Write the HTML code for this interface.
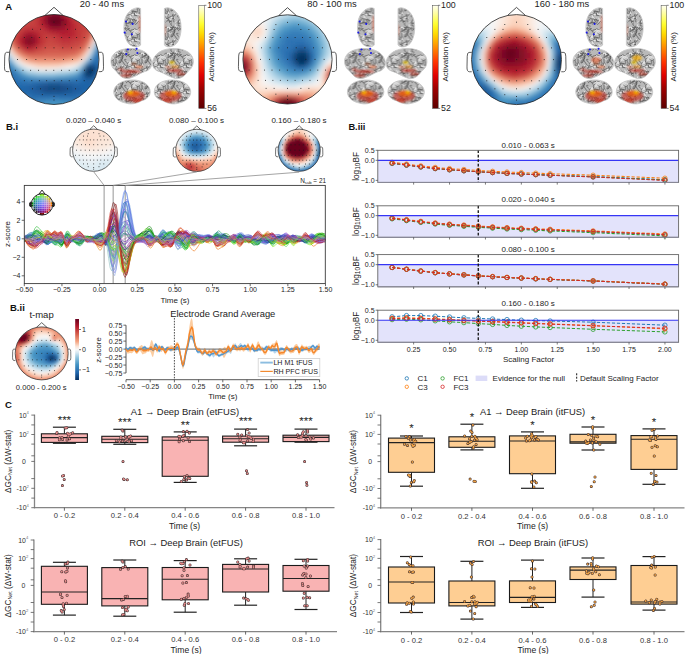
<!DOCTYPE html>
<html><head><meta charset="utf-8"><style>
html,body{margin:0;padding:0;background:#fff;width:685px;height:654px;overflow:hidden;}
svg{display:block;font-family:"Liberation Sans", sans-serif;}

</style></head><body>
<svg width="685" height="654" viewBox="0 0 685 654" font-family='"Liberation Sans", sans-serif'><defs><clipPath id="tc1"><circle cx="54.0" cy="59.5" r="45.0"/></clipPath><filter id="tb1" x="-10%" y="-10%" width="120%" height="120%"><feGaussianBlur stdDeviation="2.60"/></filter><clipPath id="tc2"><circle cx="287.5" cy="59.4" r="44.6"/></clipPath><filter id="tb2" x="-10%" y="-10%" width="120%" height="120%"><feGaussianBlur stdDeviation="2.60"/></filter><clipPath id="tc3"><circle cx="516.5" cy="59.6" r="45.0"/></clipPath><filter id="tb3" x="-10%" y="-10%" width="120%" height="120%"><feGaussianBlur stdDeviation="2.60"/></filter><linearGradient id="hotg" x1="0" y1="1" x2="0" y2="0"><stop offset="0" stop-color="#5c0000"/><stop offset="0.2" stop-color="#a00000"/><stop offset="0.32" stop-color="#e00000"/><stop offset="0.45" stop-color="#ff3300"/><stop offset="0.6" stop-color="#ff9000"/><stop offset="0.72" stop-color="#ffd800"/><stop offset="0.82" stop-color="#ffff30"/><stop offset="0.92" stop-color="#ffffa0"/><stop offset="1" stop-color="#fffff2"/></linearGradient><clipPath id="tc4"><circle cx="93.7" cy="150.2" r="21.1"/></clipPath><filter id="tb4" x="-10%" y="-10%" width="120%" height="120%"><feGaussianBlur stdDeviation="2.00"/></filter><clipPath id="tc5"><circle cx="196.8" cy="150.4" r="21.1"/></clipPath><filter id="tb5" x="-10%" y="-10%" width="120%" height="120%"><feGaussianBlur stdDeviation="1.40"/></filter><clipPath id="tc6"><circle cx="299.2" cy="150.25" r="21.1"/></clipPath><filter id="tb6" x="-10%" y="-10%" width="120%" height="120%"><feGaussianBlur stdDeviation="1.40"/></filter><clipPath id="tc7"><circle cx="41.7" cy="353.4" r="26.5"/></clipPath><filter id="tb7" x="-10%" y="-10%" width="120%" height="120%"><feGaussianBlur stdDeviation="1.60"/></filter><pattern id="brtex" patternUnits="userSpaceOnUse" width="26" height="26"><rect width="26" height="26" fill="#b9b9b9"/><path d="M5.8 21.2Q3.7 20.1 3.3 21.9T1.7 20.9M5.0 8.5Q6.7 6.8 7.6 5.6T7.9 2.8M-0.5 13.9Q-0.4 14.9 1.6 13.1T2.5 14.4M25.5 13.9Q25.6 14.9 27.6 13.1T28.5 14.4M6.9 2.8Q5.6 3.5 3.7 4.2T2.3 6.1M10.0 15.0Q11.2 16.8 9.9 18.4T12.3 18.9M18.7 19.3Q18.5 17.6 17.4 16.9T15.5 17.1M8.2 22.0Q7.6 20.5 7.7 19.5T6.5 18.1M7.7 3.3Q7.2 4.6 4.3 5.2T1.6 5.2M7.8 14.2Q9.4 14.7 10.4 14.3T12.2 13.9M12.1 11.5Q13.3 11.9 12.8 14.4T11.1 15.7M2.2 13.4Q2.1 12.9 0.4 11.4T0.7 9.6M28.2 13.4Q28.1 12.9 26.4 11.4T26.7 9.6M5.8 5.2Q8.1 4.1 8.3 5.6T10.0 5.7M10.8 16.4Q10.6 18.4 11.9 19.6T12.8 21.8M0.1 19.5Q-0.7 19.8 0.4 17.3T0.3 15.8M26.1 19.5Q25.3 19.8 26.4 17.3T26.3 15.8M13.5 1.3Q14.4 3.7 13.5 5.0T13.8 7.6M-0.3 15.5Q2.1 14.9 3.3 14.3T5.9 14.3M25.7 15.5Q28.1 14.9 29.3 14.3T31.9 14.3M-4.4 14.2Q-3.7 12.4 -1.6 12.1T0.2 10.5M21.6 14.2Q22.3 12.4 24.4 12.1T26.2 10.5M16.6 19.9Q13.7 19.1 13.4 19.5T11.4 20.6M7.1 8.3Q6.5 8.6 4.9 7.7T3.5 8.5M1.7 10.6Q0.1 11.4 -1.1 9.8T-2.7 10.9M27.7 10.6Q26.1 11.4 24.9 9.8T23.3 10.9M15.2 18.1Q14.8 16.3 17.4 15.3T18.2 13.0M19.6 22.2Q21.1 22.1 22.3 21.4T24.1 22.1M5.7 5.7Q5.3 5.8 3.8 6.5T2.9 7.6M4.3 12.2Q5.1 13.5 6.5 14.5T8.5 13.4M0.7 16.7Q1.3 16.9 2.6 18.9T4.5 18.1M26.7 16.7Q27.3 16.9 28.6 18.9T30.5 18.1M8.5 19.8Q6.5 19.7 6.0 22.2T3.5 21.8M0.5 14.0Q2.7 14.5 3.2 14.0T4.9 14.8M26.5 14.0Q28.7 14.5 29.2 14.0T30.9 14.8M19.6 -1.3Q18.8 0.2 20.2 0.6T21.6 1.0M19.6 24.7Q18.8 26.2 20.2 26.6T21.6 27.0M14.7 5.7Q14.4 4.7 13.6 2.3T11.2 1.5M3.0 21.3Q3.5 21.6 5.1 20.8T5.2 19.3" fill="none" stroke="#e6e6e6" stroke-width="1.0" stroke-linecap="round"/><path d="M16.6 0.7Q17.0 3.1 16.2 3.1T15.0 4.3M16.6 26.7Q17.0 29.1 16.2 29.1T15.0 30.3M2.3 11.0Q2.1 10.3 4.7 11.4T6.4 11.8M16.9 14.2Q15.7 16.7 17.5 17.4T16.1 19.2M18.2 8.8Q18.1 9.3 20.4 12.2T22.9 13.7M22.0 15.7Q24.1 13.6 23.3 12.3T24.4 10.1M14.4 21.6Q13.5 18.9 11.5 18.9T9.9 16.7M5.9 7.5Q6.4 8.5 8.1 8.7T9.6 7.7M9.5 9.6Q10.3 11.2 10.1 12.1T8.6 13.2M4.4 19.0Q5.6 20.3 5.9 21.4T4.5 22.7M17.8 21.9Q17.4 20.0 18.2 19.4T16.6 18.7M5.5 24.5Q6.1 24.8 7.4 22.6T9.2 22.0M11.9 6.9Q12.2 9.7 12.0 10.1T13.4 11.9M10.4 5.7Q10.6 4.5 13.5 5.7T14.4 3.7M16.3 20.6Q16.9 21.2 14.4 21.6T13.4 22.7M-0.8 22.4Q1.1 21.8 2.8 22.6T4.9 24.0M25.2 22.4Q27.1 21.8 28.8 22.6T30.9 24.0M16.7 2.9Q16.4 2.8 13.9 4.1T12.5 2.5M13.0 4.6Q15.1 4.0 16.4 2.6T17.6 0.1M13.0 30.6Q15.1 30.0 16.4 28.6T17.6 26.1M4.0 19.8Q0.7 18.8 0.4 18.9T-2.1 18.1M30.0 19.8Q26.7 18.8 26.4 18.9T23.9 18.1M0.5 24.2Q0.6 24.0 3.3 21.5T4.0 18.9M26.5 24.2Q26.6 24.0 29.3 21.5T30.0 18.9M24.6 2.2Q24.3 1.2 22.5 2.4T21.3 1.5M12.4 14.3Q11.3 16.4 12.0 18.2T12.3 20.9M19.0 5.2Q18.0 7.2 17.4 9.1T15.3 11.1M3.1 5.8Q1.4 6.0 1.4 8.6T1.9 10.9M16.4 6.0Q17.2 5.4 19.6 3.8T19.0 1.1M5.6 3.4Q7.9 3.7 8.6 2.2T10.6 1.1M5.0 2.5Q4.3 3.7 2.3 3.8T0.5 4.8M31.0 2.5Q30.3 3.7 28.3 3.8T26.5 4.8M-0.4 2.6Q-2.3 2.4 -2.7 4.1T-4.4 3.4M25.6 2.6Q23.7 2.4 23.3 4.1T21.6 3.4M11.7 11.0Q11.3 13.3 11.2 13.5T9.5 13.8M14.3 1.3Q17.5 2.4 18.1 1.3T18.8 3.9M4.3 12.6Q4.3 15.5 5.0 15.4T7.0 15.7M6.9 20.4Q7.0 21.0 4.1 21.2T3.0 19.5M18.7 4.0Q18.2 6.7 17.5 8.0T16.1 10.5M1.5 15.2Q0.9 13.9 -2.4 15.1T-4.0 17.3M27.5 15.2Q26.9 13.9 23.6 15.1T22.0 17.3M4.8 15.5Q5.4 13.6 3.7 13.2T1.9 13.2M15.5 16.1Q15.3 16.0 12.6 17.7T10.5 18.7M18.6 6.2Q16.7 8.0 15.9 8.3T15.0 10.6M1.9 11.9Q3.1 11.2 6.1 11.9T7.1 9.1M-1.7 22.9Q0.3 22.5 0.3 21.0T0.0 19.0M24.3 22.9Q26.3 22.5 26.3 21.0T26.0 19.0M15.9 -0.3Q14.7 -0.7 14.8 -2.0T15.2 -3.3M15.9 25.7Q14.7 25.3 14.8 24.0T15.2 22.7M-1.6 3.5Q-1.4 4.5 0.1 5.0T1.1 6.2M24.4 3.5Q24.6 4.5 26.1 5.0T27.1 6.2M18.7 5.3Q19.0 5.4 16.9 3.4T15.7 2.1M2.4 11.0Q2.6 11.3 2.1 13.0T0.9 13.8M28.4 11.0Q28.6 11.3 28.1 13.0T26.9 13.8M19.3 14.3Q19.5 16.0 17.5 15.2T17.6 16.6M14.2 21.7Q12.6 22.3 12.2 20.5T10.8 21.4M20.7 22.4Q20.5 22.5 22.7 20.9T23.1 19.2M23.0 10.6Q23.2 11.2 21.3 9.0T21.9 7.4M-4.9 22.9Q-1.8 24.1 -1.3 23.5T1.1 22.7M21.1 22.9Q24.2 24.1 24.7 23.5T27.1 22.7M22.5 -4.9Q23.4 -2.0 22.1 -1.2T24.3 0.2M22.5 21.1Q23.4 24.0 22.1 24.8T24.3 26.2" fill="none" stroke="#585858" stroke-width="0.75" stroke-linecap="round"/></pattern><filter id="brbl" x="-20%" y="-20%" width="140%" height="140%"><feGaussianBlur stdDeviation="0.9"/></filter><clipPath id="bc1"><path d="M140.6 8.5 C136 6.2 128 10 125 19 C123 27 123.5 37 128.5 43.5 C132.5 47.8 139 47.5 140.6 45 Z"/></clipPath><clipPath id="bc2"><path d="M 164.4 8.5 C 169.0 6.2 177.0 10.0 180.0 19.0 C 182.0 27.0 181.5 37.0 176.5 43.5 C 172.5 47.8 166.0 47.5 164.4 45.0 Z"/></clipPath><clipPath id="bc3"><path d="M111 62 C110.5 54 118 48.8 130 48.5 C142 48.3 150 53.5 151.7 61.5 C152.2 66 150.5 69.5 146.5 71 C141 72.5 137 76 129 78.5 C123 79.5 119 75 116 71 C112.5 68.5 111.2 65.5 111 62 Z"/></clipPath><clipPath id="bc4"><path d="M 193.3 62.0 C 193.8 54.0 186.3 48.8 174.3 48.5 C 162.3 48.3 154.3 53.5 152.6 61.5 C 152.1 66.0 153.8 69.5 157.8 71.0 C 163.3 72.5 167.3 76.0 175.3 78.5 C 181.3 79.5 185.3 75.0 188.3 71.0 C 191.8 68.5 193.1 65.5 193.3 62.0 Z"/></clipPath><clipPath id="bc5"><path d="M113.8 93 C113.2 86 120 80.3 132 80 C143 79.8 150 85 150.2 91.5 C150.4 96.5 146.5 99.5 141.5 100.8 C137 103.5 131 104.8 126.5 103.2 C120 102 115 99 113.8 93 Z"/></clipPath><clipPath id="bc6"><path d="M 190.7 93.0 C 191.3 86.0 184.5 80.3 172.5 80.0 C 161.5 79.8 154.5 85.0 154.3 91.5 C 154.1 96.5 158.0 99.5 163.0 100.8 C 167.5 103.5 173.5 104.8 178.0 103.2 C 184.5 102.0 189.5 99.0 190.7 93.0 Z"/></clipPath><clipPath id="bc7"><path d="M140.6 8.5 C136 6.2 128 10 125 19 C123 27 123.5 37 128.5 43.5 C132.5 47.8 139 47.5 140.6 45 Z"/></clipPath><clipPath id="bc8"><path d="M 164.4 8.5 C 169.0 6.2 177.0 10.0 180.0 19.0 C 182.0 27.0 181.5 37.0 176.5 43.5 C 172.5 47.8 166.0 47.5 164.4 45.0 Z"/></clipPath><clipPath id="bc9"><path d="M111 62 C110.5 54 118 48.8 130 48.5 C142 48.3 150 53.5 151.7 61.5 C152.2 66 150.5 69.5 146.5 71 C141 72.5 137 76 129 78.5 C123 79.5 119 75 116 71 C112.5 68.5 111.2 65.5 111 62 Z"/></clipPath><clipPath id="bc10"><path d="M 193.3 62.0 C 193.8 54.0 186.3 48.8 174.3 48.5 C 162.3 48.3 154.3 53.5 152.6 61.5 C 152.1 66.0 153.8 69.5 157.8 71.0 C 163.3 72.5 167.3 76.0 175.3 78.5 C 181.3 79.5 185.3 75.0 188.3 71.0 C 191.8 68.5 193.1 65.5 193.3 62.0 Z"/></clipPath><clipPath id="bc11"><path d="M113.8 93 C113.2 86 120 80.3 132 80 C143 79.8 150 85 150.2 91.5 C150.4 96.5 146.5 99.5 141.5 100.8 C137 103.5 131 104.8 126.5 103.2 C120 102 115 99 113.8 93 Z"/></clipPath><clipPath id="bc12"><path d="M 190.7 93.0 C 191.3 86.0 184.5 80.3 172.5 80.0 C 161.5 79.8 154.5 85.0 154.3 91.5 C 154.1 96.5 158.0 99.5 163.0 100.8 C 167.5 103.5 173.5 104.8 178.0 103.2 C 184.5 102.0 189.5 99.0 190.7 93.0 Z"/></clipPath><clipPath id="bc13"><path d="M140.6 8.5 C136 6.2 128 10 125 19 C123 27 123.5 37 128.5 43.5 C132.5 47.8 139 47.5 140.6 45 Z"/></clipPath><clipPath id="bc14"><path d="M 164.4 8.5 C 169.0 6.2 177.0 10.0 180.0 19.0 C 182.0 27.0 181.5 37.0 176.5 43.5 C 172.5 47.8 166.0 47.5 164.4 45.0 Z"/></clipPath><clipPath id="bc15"><path d="M111 62 C110.5 54 118 48.8 130 48.5 C142 48.3 150 53.5 151.7 61.5 C152.2 66 150.5 69.5 146.5 71 C141 72.5 137 76 129 78.5 C123 79.5 119 75 116 71 C112.5 68.5 111.2 65.5 111 62 Z"/></clipPath><clipPath id="bc16"><path d="M 193.3 62.0 C 193.8 54.0 186.3 48.8 174.3 48.5 C 162.3 48.3 154.3 53.5 152.6 61.5 C 152.1 66.0 153.8 69.5 157.8 71.0 C 163.3 72.5 167.3 76.0 175.3 78.5 C 181.3 79.5 185.3 75.0 188.3 71.0 C 191.8 68.5 193.1 65.5 193.3 62.0 Z"/></clipPath><clipPath id="bc17"><path d="M113.8 93 C113.2 86 120 80.3 132 80 C143 79.8 150 85 150.2 91.5 C150.4 96.5 146.5 99.5 141.5 100.8 C137 103.5 131 104.8 126.5 103.2 C120 102 115 99 113.8 93 Z"/></clipPath><clipPath id="bc18"><path d="M 190.7 93.0 C 191.3 86.0 184.5 80.3 172.5 80.0 C 161.5 79.8 154.5 85.0 154.3 91.5 C 154.1 96.5 158.0 99.5 163.0 100.8 C 167.5 103.5 173.5 104.8 178.0 103.2 C 184.5 102.0 189.5 99.0 190.7 93.0 Z"/></clipPath><clipPath id="clipBi"><rect x="24.3" y="185.4" width="301.0" height="98.20000000000002"/></clipPath><linearGradient id="rdbu" x1="0" y1="0" x2="0" y2="1"><stop offset="0" stop-color="#67001f"/><stop offset="0.12" stop-color="#b2182b"/><stop offset="0.25" stop-color="#d6604d"/><stop offset="0.37" stop-color="#f4a582"/><stop offset="0.45" stop-color="#fbe3d6"/><stop offset="0.5" stop-color="#f7f7f7"/><stop offset="0.55" stop-color="#d7e8f2"/><stop offset="0.63" stop-color="#92c5de"/><stop offset="0.75" stop-color="#4393c3"/><stop offset="0.88" stop-color="#2166ac"/><stop offset="1" stop-color="#053061"/></linearGradient></defs><text x="5.3" y="10.2" font-size="9.5" text-anchor="start" font-weight="bold" fill="#111">A</text>
<g clip-path="url(#tc1)"><g filter="url(#tb1)"><path fill="#c6403e" d="M32.0 9.5h8.3v4.3h-8.3zM72.0 9.5h4.3v4.3h-4.3zM32.0 13.5h4.3v4.3h-4.3zM76.0 13.5h4.3v4.3h-4.3zM28.0 17.5h8.3v4.3h-8.3zM76.0 17.5h8.3v4.3h-8.3zM24.0 21.5h12.3v4.3h-12.3zM80.0 21.5h4.3v4.3h-4.3zM16.0 25.5h8.3v4.3h-8.3zM80.0 25.5h8.3v4.3h-8.3zM16.0 29.5h4.3v4.3h-4.3zM80.0 29.5h8.3v4.3h-8.3zM44.0 33.5h4.3v4.3h-4.3zM80.0 33.5h4.3v4.3h-4.3zM44.0 37.5h12.3v4.3h-12.3zM80.0 37.5h4.3v4.3h-4.3zM44.0 41.5h4.3v4.3h-4.3zM52.0 41.5h8.3v4.3h-8.3zM72.0 41.5h8.3v4.3h-8.3zM40.0 45.5h4.3v4.3h-4.3zM60.0 45.5h12.3v4.3h-12.3zM24.0 49.5h4.3v4.3h-4.3zM32.0 49.5h4.3v4.3h-4.3z"/><path fill="#bb2a34" d="M40.0 9.5h4.3v4.3h-4.3zM64.0 9.5h4.3v4.3h-4.3zM68.0 13.5h4.3v4.3h-4.3zM36.0 17.5h4.3v4.3h-4.3zM72.0 21.5h4.3v4.3h-4.3zM40.0 25.5h4.3v4.3h-4.3zM72.0 25.5h4.3v4.3h-4.3zM36.0 29.5h4.3v4.3h-4.3zM44.0 29.5h4.3v4.3h-4.3zM72.0 29.5h4.3v4.3h-4.3zM56.0 33.5h4.3v4.3h-4.3zM72.0 33.5h4.3v4.3h-4.3zM60.0 37.5h12.3v4.3h-12.3z"/><path fill="#b51f2e" d="M44.0 9.5h4.3v4.3h-4.3zM60.0 9.5h4.3v4.3h-4.3zM40.0 13.5h4.3v4.3h-4.3zM68.0 17.5h4.3v4.3h-4.3zM24.0 29.5h12.3v4.3h-12.3zM48.0 29.5h4.3v4.3h-4.3zM68.0 29.5h4.3v4.3h-4.3zM20.0 33.5h4.3v4.3h-4.3zM36.0 33.5h4.3v4.3h-4.3zM60.0 33.5h12.3v4.3h-12.3zM36.0 37.5h4.3v4.3h-4.3zM36.0 41.5h4.3v4.3h-4.3zM32.0 45.5h4.3v4.3h-4.3z"/><path fill="#a21328" d="M48.0 9.5h12.3v4.3h-12.3zM64.0 25.5h4.3v4.3h-4.3zM32.0 33.5h4.3v4.3h-4.3z"/><path fill="#c13539" d="M68.0 9.5h4.3v4.3h-4.3zM36.0 13.5h4.3v4.3h-4.3zM72.0 13.5h4.3v4.3h-4.3zM72.0 17.5h4.3v4.3h-4.3zM36.0 21.5h4.3v4.3h-4.3zM76.0 21.5h4.3v4.3h-4.3zM24.0 25.5h16.3v4.3h-16.3zM76.0 25.5h4.3v4.3h-4.3zM20.0 29.5h4.3v4.3h-4.3zM40.0 29.5h4.3v4.3h-4.3zM76.0 29.5h4.3v4.3h-4.3zM16.0 33.5h4.3v4.3h-4.3zM40.0 33.5h4.3v4.3h-4.3zM48.0 33.5h8.3v4.3h-8.3zM76.0 33.5h4.3v4.3h-4.3zM16.0 37.5h4.3v4.3h-4.3zM40.0 37.5h4.3v4.3h-4.3zM56.0 37.5h4.3v4.3h-4.3zM72.0 37.5h8.3v4.3h-8.3zM16.0 41.5h4.3v4.3h-4.3zM40.0 41.5h4.3v4.3h-4.3zM60.0 41.5h12.3v4.3h-12.3zM20.0 45.5h4.3v4.3h-4.3zM36.0 45.5h4.3v4.3h-4.3zM28.0 49.5h4.3v4.3h-4.3z"/><path fill="#cc4c43" d="M24.0 13.5h8.3v4.3h-8.3zM80.0 13.5h4.3v4.3h-4.3zM20.0 17.5h8.3v4.3h-8.3zM84.0 17.5h4.3v4.3h-4.3zM16.0 21.5h8.3v4.3h-8.3zM84.0 21.5h8.3v4.3h-8.3zM12.0 25.5h4.3v4.3h-4.3zM88.0 25.5h4.3v4.3h-4.3zM8.0 29.5h8.3v4.3h-8.3zM88.0 29.5h4.3v4.3h-4.3zM12.0 33.5h4.3v4.3h-4.3zM84.0 33.5h4.3v4.3h-4.3zM12.0 37.5h4.3v4.3h-4.3zM84.0 37.5h4.3v4.3h-4.3zM48.0 41.5h4.3v4.3h-4.3zM80.0 41.5h4.3v4.3h-4.3zM16.0 45.5h4.3v4.3h-4.3zM44.0 45.5h16.3v4.3h-16.3zM72.0 45.5h8.3v4.3h-8.3zM36.0 49.5h8.3v4.3h-8.3z"/><path fill="#960f26" d="M44.0 13.5h4.3v4.3h-4.3zM60.0 13.5h4.3v4.3h-4.3zM64.0 17.5h4.3v4.3h-4.3zM44.0 21.5h4.3v4.3h-4.3zM64.0 21.5h4.3v4.3h-4.3zM48.0 25.5h4.3v4.3h-4.3zM60.0 25.5h4.3v4.3h-4.3zM24.0 33.5h8.3v4.3h-8.3zM32.0 41.5h4.3v4.3h-4.3z"/><path fill="#7e0823" d="M48.0 13.5h4.3v4.3h-4.3zM60.0 21.5h4.3v4.3h-4.3zM28.0 37.5h4.3v4.3h-4.3zM28.0 41.5h4.3v4.3h-4.3z"/><path fill="#730421" d="M52.0 13.5h8.3v4.3h-8.3zM60.0 17.5h4.3v4.3h-4.3zM48.0 21.5h4.3v4.3h-4.3z"/><path fill="#ad162a" d="M64.0 13.5h4.3v4.3h-4.3zM40.0 17.5h4.3v4.3h-4.3zM40.0 21.5h4.3v4.3h-4.3zM68.0 21.5h4.3v4.3h-4.3zM44.0 25.5h4.3v4.3h-4.3zM68.0 25.5h4.3v4.3h-4.3zM52.0 29.5h16.3v4.3h-16.3zM20.0 37.5h4.3v4.3h-4.3zM20.0 41.5h4.3v4.3h-4.3zM24.0 45.5h8.3v4.3h-8.3z"/><path fill="#8a0b25" d="M44.0 17.5h4.3v4.3h-4.3zM52.0 25.5h8.3v4.3h-8.3zM24.0 37.5h4.3v4.3h-4.3zM32.0 37.5h4.3v4.3h-4.3zM24.0 41.5h4.3v4.3h-4.3z"/><path fill="#67001f" d="M48.0 17.5h12.3v4.3h-12.3zM52.0 21.5h8.3v4.3h-8.3z"/><path fill="#d25749" d="M92.0 25.5h4.3v4.3h-4.3zM8.0 33.5h4.3v4.3h-4.3zM88.0 33.5h4.3v4.3h-4.3zM12.0 41.5h4.3v4.3h-4.3zM80.0 45.5h4.3v4.3h-4.3zM20.0 49.5h4.3v4.3h-4.3zM44.0 49.5h32.3v4.3h-32.3z"/><path fill="#dc6d57" d="M92.0 29.5h4.3v4.3h-4.3zM88.0 37.5h4.3v4.3h-4.3zM24.0 53.5h4.3v4.3h-4.3zM68.0 53.5h8.3v4.3h-8.3z"/><path fill="#faeae0" d="M96.0 29.5h4.3v4.3h-4.3zM76.0 61.5h4.3v4.3h-4.3zM36.0 65.5h4.3v4.3h-4.3zM52.0 65.5h8.3v4.3h-8.3z"/><path fill="#ee9878" d="M92.0 33.5h4.3v4.3h-4.3zM88.0 41.5h4.3v4.3h-4.3zM68.0 57.5h4.3v4.3h-4.3z"/><path fill="#d3e6f0" d="M96.0 33.5h4.3v4.3h-4.3zM84.0 57.5h4.3v4.3h-4.3zM36.0 69.5h20.3v4.3h-20.3z"/><path fill="#f5ac8b" d="M4.0 37.5h4.3v4.3h-4.3zM12.0 49.5h4.3v4.3h-4.3zM84.0 49.5h4.3v4.3h-4.3zM16.0 53.5h4.3v4.3h-4.3z"/><path fill="#d7624f" d="M8.0 37.5h4.3v4.3h-4.3zM84.0 41.5h4.3v4.3h-4.3zM76.0 49.5h4.3v4.3h-4.3zM28.0 53.5h40.3v4.3h-40.3z"/><path fill="#fbceb6" d="M92.0 37.5h4.3v4.3h-4.3zM88.0 45.5h4.3v4.3h-4.3zM68.0 61.5h4.3v4.3h-4.3z"/><path fill="#83bcd9" d="M96.0 37.5h4.3v4.3h-4.3zM12.0 61.5h4.3v4.3h-4.3zM16.0 65.5h4.3v4.3h-4.3z"/><path fill="#2a71b2" d="M100.0 37.5h4.3v4.3h-4.3zM96.0 49.5h4.3v4.3h-4.3zM92.0 57.5h4.3v4.3h-4.3zM4.0 61.5h4.3v4.3h-4.3zM8.0 69.5h4.3v4.3h-4.3zM12.0 73.5h4.3v4.3h-4.3zM16.0 77.5h8.3v4.3h-8.3zM72.0 77.5h8.3v4.3h-8.3zM24.0 97.5h12.3v4.3h-12.3zM72.0 97.5h12.3v4.3h-12.3zM24.0 101.5h4.3v4.3h-4.3zM80.0 101.5h4.3v4.3h-4.3z"/><path fill="#fce1d2" d="M4.0 41.5h4.3v4.3h-4.3zM12.0 53.5h4.3v4.3h-4.3zM80.0 57.5h4.3v4.3h-4.3z"/><path fill="#e58268" d="M8.0 41.5h4.3v4.3h-4.3zM20.0 53.5h4.3v4.3h-4.3zM76.0 53.5h4.3v4.3h-4.3zM32.0 57.5h32.3v4.3h-32.3z"/><path fill="#f1f4f6" d="M92.0 41.5h4.3v4.3h-4.3zM88.0 49.5h4.3v4.3h-4.3z"/><path fill="#3f8dc0" d="M96.0 41.5h4.3v4.3h-4.3zM16.0 69.5h4.3v4.3h-4.3zM40.0 101.5h4.3v4.3h-4.3zM64.0 101.5h4.3v4.3h-4.3zM40.0 105.5h4.3v4.3h-4.3zM64.0 105.5h4.3v4.3h-4.3z"/><path fill="#246aae" d="M100.0 41.5h4.3v4.3h-4.3zM100.0 45.5h4.3v4.3h-4.3zM100.0 49.5h4.3v4.3h-4.3zM96.0 53.5h8.3v4.3h-8.3zM96.0 57.5h8.3v4.3h-8.3zM96.0 61.5h8.3v4.3h-8.3zM4.0 65.5h4.3v4.3h-4.3zM100.0 65.5h4.3v4.3h-4.3zM4.0 69.5h4.3v4.3h-4.3zM100.0 69.5h4.3v4.3h-4.3zM4.0 73.5h8.3v4.3h-8.3zM80.0 73.5h4.3v4.3h-4.3zM96.0 73.5h8.3v4.3h-8.3zM4.0 77.5h12.3v4.3h-12.3zM80.0 77.5h4.3v4.3h-4.3zM96.0 77.5h8.3v4.3h-8.3zM8.0 81.5h24.3v4.3h-24.3zM92.0 81.5h8.3v4.3h-8.3zM8.0 85.5h12.3v4.3h-12.3zM92.0 85.5h8.3v4.3h-8.3zM12.0 89.5h8.3v4.3h-8.3zM88.0 89.5h8.3v4.3h-8.3zM16.0 93.5h16.3v4.3h-16.3zM76.0 93.5h16.3v4.3h-16.3zM20.0 97.5h4.3v4.3h-4.3zM84.0 97.5h4.3v4.3h-4.3z"/><path fill="#dfecf3" d="M4.0 45.5h4.3v4.3h-4.3z"/><path fill="#f8bda0" d="M8.0 45.5h4.3v4.3h-4.3zM20.0 57.5h4.3v4.3h-4.3zM32.0 61.5h4.3v4.3h-4.3zM60.0 61.5h4.3v4.3h-4.3z"/><path fill="#e0785f" d="M12.0 45.5h4.3v4.3h-4.3zM84.0 45.5h4.3v4.3h-4.3zM16.0 49.5h4.3v4.3h-4.3zM80.0 49.5h4.3v4.3h-4.3z"/><path fill="#aed3e6" d="M92.0 45.5h4.3v4.3h-4.3zM88.0 53.5h4.3v4.3h-4.3zM68.0 69.5h4.3v4.3h-4.3z"/><path fill="#2f78b5" d="M96.0 45.5h4.3v4.3h-4.3zM4.0 57.5h4.3v4.3h-4.3zM8.0 65.5h4.3v4.3h-4.3zM12.0 69.5h4.3v4.3h-4.3zM80.0 69.5h4.3v4.3h-4.3zM16.0 73.5h4.3v4.3h-4.3zM24.0 77.5h4.3v4.3h-4.3zM56.0 77.5h16.3v4.3h-16.3zM36.0 97.5h12.3v4.3h-12.3zM60.0 97.5h12.3v4.3h-12.3zM28.0 101.5h4.3v4.3h-4.3zM76.0 101.5h4.3v4.3h-4.3z"/><path fill="#90c3dd" d="M4.0 49.5h4.3v4.3h-4.3z"/><path fill="#f9eee8" d="M8.0 49.5h4.3v4.3h-4.3zM20.0 61.5h4.3v4.3h-4.3zM32.0 65.5h4.3v4.3h-4.3zM60.0 65.5h4.3v4.3h-4.3z"/><path fill="#5ea4cc" d="M92.0 49.5h4.3v4.3h-4.3zM28.0 73.5h4.3v4.3h-4.3zM64.0 73.5h4.3v4.3h-4.3z"/><path fill="#4595c4" d="M4.0 53.5h4.3v4.3h-4.3zM12.0 65.5h4.3v4.3h-4.3zM24.0 73.5h4.3v4.3h-4.3zM72.0 73.5h4.3v4.3h-4.3zM44.0 101.5h20.3v4.3h-20.3zM44.0 105.5h20.3v4.3h-20.3z"/><path fill="#cbe2ee" d="M8.0 53.5h4.3v4.3h-4.3zM76.0 65.5h4.3v4.3h-4.3zM56.0 69.5h4.3v4.3h-4.3z"/><path fill="#f3a380" d="M80.0 53.5h4.3v4.3h-4.3zM24.0 57.5h4.3v4.3h-4.3zM72.0 57.5h4.3v4.3h-4.3z"/><path fill="#fbe6d9" d="M84.0 53.5h4.3v4.3h-4.3zM16.0 57.5h4.3v4.3h-4.3zM40.0 65.5h12.3v4.3h-12.3z"/><path fill="#347fb9" d="M92.0 53.5h4.3v4.3h-4.3zM28.0 77.5h28.3v4.3h-28.3zM48.0 97.5h12.3v4.3h-12.3zM32.0 101.5h4.3v4.3h-4.3zM72.0 101.5h4.3v4.3h-4.3zM32.0 105.5h4.3v4.3h-4.3zM72.0 105.5h4.3v4.3h-4.3z"/><path fill="#77b4d5" d="M8.0 57.5h4.3v4.3h-4.3zM76.0 69.5h4.3v4.3h-4.3zM36.0 73.5h20.3v4.3h-20.3z"/><path fill="#d9e9f2" d="M12.0 57.5h4.3v4.3h-4.3zM16.0 61.5h4.3v4.3h-4.3zM80.0 61.5h4.3v4.3h-4.3z"/><path fill="#ea8d70" d="M28.0 57.5h4.3v4.3h-4.3zM64.0 57.5h4.3v4.3h-4.3z"/><path fill="#f7b495" d="M76.0 57.5h4.3v4.3h-4.3zM36.0 61.5h24.3v4.3h-24.3z"/><path fill="#529cc8" d="M88.0 57.5h4.3v4.3h-4.3zM84.0 61.5h4.3v4.3h-4.3zM68.0 73.5h4.3v4.3h-4.3z"/><path fill="#3986bd" d="M8.0 61.5h4.3v4.3h-4.3zM20.0 73.5h4.3v4.3h-4.3zM76.0 73.5h4.3v4.3h-4.3zM36.0 101.5h4.3v4.3h-4.3zM68.0 101.5h4.3v4.3h-4.3zM36.0 105.5h4.3v4.3h-4.3zM68.0 105.5h4.3v4.3h-4.3z"/><path fill="#fdddca" d="M24.0 61.5h4.3v4.3h-4.3zM72.0 61.5h4.3v4.3h-4.3z"/><path fill="#f9c5ab" d="M28.0 61.5h4.3v4.3h-4.3zM64.0 61.5h4.3v4.3h-4.3z"/><path fill="#1f63a7" d="M88.0 61.5h8.3v4.3h-8.3zM96.0 65.5h4.3v4.3h-4.3zM96.0 69.5h4.3v4.3h-4.3zM84.0 77.5h4.3v4.3h-4.3zM92.0 77.5h4.3v4.3h-4.3zM32.0 81.5h8.3v4.3h-8.3zM72.0 81.5h20.3v4.3h-20.3zM20.0 85.5h8.3v4.3h-8.3zM80.0 85.5h12.3v4.3h-12.3zM20.0 89.5h12.3v4.3h-12.3zM80.0 89.5h8.3v4.3h-8.3zM32.0 93.5h44.3v4.3h-44.3z"/><path fill="#c1ddec" d="M20.0 65.5h4.3v4.3h-4.3zM32.0 69.5h4.3v4.3h-4.3zM60.0 69.5h4.3v4.3h-4.3z"/><path fill="#e5eff4" d="M24.0 65.5h4.3v4.3h-4.3zM72.0 65.5h4.3v4.3h-4.3z"/><path fill="#f7f7f7" d="M28.0 65.5h4.3v4.3h-4.3zM68.0 65.5h4.3v4.3h-4.3z"/><path fill="#f8f3f0" d="M64.0 65.5h4.3v4.3h-4.3z"/><path fill="#6aacd0" d="M80.0 65.5h4.3v4.3h-4.3zM20.0 69.5h4.3v4.3h-4.3zM32.0 73.5h4.3v4.3h-4.3zM56.0 73.5h8.3v4.3h-8.3z"/><path fill="#0e4178" d="M84.0 65.5h4.3v4.3h-4.3zM92.0 65.5h4.3v4.3h-4.3zM48.0 85.5h12.3v4.3h-12.3z"/><path fill="#053061" d="M88.0 65.5h4.3v4.3h-4.3zM84.0 69.5h8.3v4.3h-8.3zM88.0 73.5h4.3v4.3h-4.3z"/><path fill="#9ac9e0" d="M24.0 69.5h4.3v4.3h-4.3zM72.0 69.5h4.3v4.3h-4.3z"/><path fill="#b7d8e9" d="M28.0 69.5h4.3v4.3h-4.3zM64.0 69.5h4.3v4.3h-4.3z"/><path fill="#09386d" d="M92.0 69.5h4.3v4.3h-4.3zM84.0 73.5h4.3v4.3h-4.3z"/><path fill="#165290" d="M92.0 73.5h4.3v4.3h-4.3zM48.0 81.5h12.3v4.3h-12.3zM36.0 85.5h4.3v4.3h-4.3zM68.0 85.5h4.3v4.3h-4.3zM40.0 89.5h4.3v4.3h-4.3zM64.0 89.5h8.3v4.3h-8.3z"/><path fill="#1b5a9c" d="M88.0 77.5h4.3v4.3h-4.3zM40.0 81.5h8.3v4.3h-8.3zM60.0 81.5h12.3v4.3h-12.3zM28.0 85.5h8.3v4.3h-8.3zM72.0 85.5h8.3v4.3h-8.3zM32.0 89.5h8.3v4.3h-8.3zM72.0 89.5h8.3v4.3h-8.3z"/><path fill="#124984" d="M40.0 85.5h8.3v4.3h-8.3zM60.0 85.5h8.3v4.3h-8.3zM44.0 89.5h20.3v4.3h-20.3z"/></g></g>
<path d="M54.0 22.1h0M42.3 24.4h0M65.2 24.4h0M32.4 29.3h0M40.5 29.3h0M67.5 29.3h0M75.6 29.3h0M24.3 37.5h0M31.8 37.5h0M39.3 37.5h0M46.7 37.5h0M54.2 37.5h0M61.7 37.5h0M69.2 37.5h0M76.7 37.5h0M84.2 37.5h0M18.9 47.8h0M27.7 47.8h0M36.5 47.8h0M45.2 47.8h0M54.0 47.8h0M62.8 47.8h0M71.5 47.8h0M80.3 47.8h0M89.1 47.8h0M17.5 59.5h0M26.7 59.5h0M35.9 59.5h0M45.1 59.5h0M54.2 59.5h0M63.4 59.5h0M72.6 59.5h0M81.7 59.5h0M90.9 59.5h0M15.3 70.3h0M23.0 70.3h0M30.7 70.3h0M38.4 70.3h0M46.1 70.3h0M53.8 70.3h0M61.5 70.3h0M69.2 70.3h0M76.9 70.3h0M84.6 70.3h0M92.2 70.3h0M24.3 80.7h0M31.8 80.7h0M39.3 80.7h0M46.7 80.7h0M54.2 80.7h0M61.7 80.7h0M69.2 80.7h0M76.7 80.7h0M84.2 80.7h0M32.4 88.8h0M40.5 88.8h0M54.0 88.8h0M67.5 88.8h0M75.6 88.8h0M42.3 94.6h0M65.2 94.6h0M54.0 96.4h0M54.0 100.0h0" stroke="#1a1a1a" stroke-width="1.0" stroke-linecap="round"/>
<path d="M45.00,15.41 L54.00,7.30 L63.00,15.41" fill="none" stroke="#222" stroke-width="0.8"/>
<path d="M9.23,52.30 L6.53,52.30 Q4.73,52.30 4.73,56.17 L4.50,66.81 Q4.28,71.65 6.98,71.65 L9.23,71.65" fill="#fff" stroke="#222" stroke-width="0.7200000000000001"/>
<path d="M98.78,52.30 L101.48,52.30 Q103.28,52.30 103.28,56.17 L103.50,66.81 Q103.73,71.65 101.03,71.65 L98.78,71.65" fill="#fff" stroke="#222" stroke-width="0.7200000000000001"/>
<circle cx="54.0" cy="59.5" r="45.0" fill="none" stroke="#222" stroke-width="0.8"/>
<g clip-path="url(#tc2)"><g filter="url(#tb2)"><path fill="#ebf1f5" d="M269.5 9.4h4.3v4.3h-4.3zM265.5 13.4h4.3v4.3h-4.3zM257.5 41.4h4.3v4.3h-4.3zM257.5 53.4h4.3v4.3h-4.3zM333.5 53.4h4.3v4.3h-4.3zM321.5 65.4h4.3v4.3h-4.3zM261.5 69.4h4.3v4.3h-4.3zM269.5 81.4h4.3v4.3h-4.3zM309.5 81.4h4.3v4.3h-4.3zM285.5 85.4h12.3v4.3h-12.3z"/><path fill="#e5eff4" d="M273.5 9.4h4.3v4.3h-4.3zM265.5 17.4h4.3v4.3h-4.3zM261.5 37.4h4.3v4.3h-4.3zM333.5 41.4h4.3v4.3h-4.3zM257.5 49.4h4.3v4.3h-4.3zM333.5 49.4h4.3v4.3h-4.3zM265.5 77.4h4.3v4.3h-4.3zM305.5 81.4h4.3v4.3h-4.3z"/><path fill="#dfecf3" d="M277.5 9.4h4.3v4.3h-4.3zM269.5 13.4h4.3v4.3h-4.3zM265.5 21.4h4.3v4.3h-4.3zM265.5 25.4h4.3v4.3h-4.3zM265.5 29.4h4.3v4.3h-4.3zM257.5 45.4h4.3v4.3h-4.3zM333.5 45.4h4.3v4.3h-4.3zM261.5 65.4h4.3v4.3h-4.3zM317.5 73.4h4.3v4.3h-4.3zM273.5 81.4h4.3v4.3h-4.3z"/><path fill="#d9e9f2" d="M281.5 9.4h4.3v4.3h-4.3zM273.5 13.4h4.3v4.3h-4.3zM269.5 17.4h4.3v4.3h-4.3zM325.5 25.4h4.3v4.3h-4.3zM329.5 33.4h4.3v4.3h-4.3zM329.5 53.4h4.3v4.3h-4.3zM261.5 61.4h4.3v4.3h-4.3zM265.5 73.4h4.3v4.3h-4.3zM269.5 77.4h4.3v4.3h-4.3zM313.5 77.4h4.3v4.3h-4.3zM277.5 81.4h4.3v4.3h-4.3zM301.5 81.4h4.3v4.3h-4.3z"/><path fill="#d3e6f0" d="M285.5 9.4h4.3v4.3h-4.3zM301.5 9.4h4.3v4.3h-4.3zM317.5 17.4h4.3v4.3h-4.3zM321.5 21.4h4.3v4.3h-4.3zM325.5 29.4h4.3v4.3h-4.3zM265.5 33.4h4.3v4.3h-4.3zM329.5 37.4h4.3v4.3h-4.3zM329.5 41.4h4.3v4.3h-4.3zM329.5 49.4h4.3v4.3h-4.3zM325.5 57.4h4.3v4.3h-4.3z"/><path fill="#cbe2ee" d="M289.5 9.4h12.3v4.3h-12.3zM277.5 13.4h4.3v4.3h-4.3zM309.5 13.4h4.3v4.3h-4.3zM269.5 21.4h4.3v4.3h-4.3zM261.5 41.4h4.3v4.3h-4.3zM329.5 45.4h4.3v4.3h-4.3zM261.5 57.4h4.3v4.3h-4.3zM265.5 69.4h4.3v4.3h-4.3zM317.5 69.4h4.3v4.3h-4.3zM281.5 81.4h4.3v4.3h-4.3zM297.5 81.4h4.3v4.3h-4.3z"/><path fill="#f1f4f6" d="M261.5 13.4h4.3v4.3h-4.3zM261.5 17.4h4.3v4.3h-4.3zM329.5 57.4h4.3v4.3h-4.3zM261.5 73.4h4.3v4.3h-4.3zM317.5 77.4h4.3v4.3h-4.3zM265.5 81.4h4.3v4.3h-4.3zM313.5 81.4h4.3v4.3h-4.3zM281.5 85.4h4.3v4.3h-4.3z"/><path fill="#c1ddec" d="M281.5 13.4h4.3v4.3h-4.3zM305.5 13.4h4.3v4.3h-4.3zM273.5 17.4h4.3v4.3h-4.3zM313.5 17.4h4.3v4.3h-4.3zM317.5 21.4h4.3v4.3h-4.3zM321.5 25.4h4.3v4.3h-4.3zM325.5 33.4h4.3v4.3h-4.3zM261.5 53.4h4.3v4.3h-4.3zM321.5 61.4h4.3v4.3h-4.3zM269.5 73.4h4.3v4.3h-4.3zM273.5 77.4h4.3v4.3h-4.3zM309.5 77.4h4.3v4.3h-4.3zM285.5 81.4h12.3v4.3h-12.3z"/><path fill="#b7d8e9" d="M285.5 13.4h4.3v4.3h-4.3zM301.5 13.4h4.3v4.3h-4.3zM269.5 25.4h4.3v4.3h-4.3zM325.5 37.4h4.3v4.3h-4.3zM261.5 45.4h4.3v4.3h-4.3zM261.5 49.4h4.3v4.3h-4.3zM325.5 53.4h4.3v4.3h-4.3zM265.5 65.4h4.3v4.3h-4.3zM313.5 73.4h4.3v4.3h-4.3z"/><path fill="#aed3e6" d="M289.5 13.4h12.3v4.3h-12.3zM277.5 17.4h4.3v4.3h-4.3zM309.5 17.4h4.3v4.3h-4.3zM321.5 29.4h4.3v4.3h-4.3zM265.5 37.4h4.3v4.3h-4.3zM325.5 41.4h4.3v4.3h-4.3zM325.5 45.4h4.3v4.3h-4.3zM325.5 49.4h4.3v4.3h-4.3zM265.5 61.4h4.3v4.3h-4.3zM269.5 69.4h4.3v4.3h-4.3zM277.5 77.4h4.3v4.3h-4.3zM305.5 77.4h4.3v4.3h-4.3z"/><path fill="#f8f3f0" d="M253.5 17.4h4.3v4.3h-4.3zM249.5 21.4h4.3v4.3h-4.3zM245.5 25.4h4.3v4.3h-4.3zM241.5 33.4h4.3v4.3h-4.3zM261.5 33.4h4.3v4.3h-4.3zM257.5 37.4h4.3v4.3h-4.3zM253.5 41.4h4.3v4.3h-4.3zM253.5 45.4h4.3v4.3h-4.3zM333.5 57.4h4.3v4.3h-4.3zM261.5 81.4h4.3v4.3h-4.3zM317.5 81.4h4.3v4.3h-4.3zM273.5 85.4h4.3v4.3h-4.3z"/><path fill="#f7f7f7" d="M257.5 17.4h4.3v4.3h-4.3zM261.5 21.4h4.3v4.3h-4.3zM257.5 57.4h4.3v4.3h-4.3zM325.5 61.4h4.3v4.3h-4.3zM261.5 77.4h4.3v4.3h-4.3zM277.5 85.4h4.3v4.3h-4.3zM297.5 85.4h4.3v4.3h-4.3z"/><path fill="#9ac9e0" d="M281.5 17.4h4.3v4.3h-4.3zM305.5 17.4h4.3v4.3h-4.3zM265.5 41.4h4.3v4.3h-4.3zM265.5 57.4h4.3v4.3h-4.3zM309.5 73.4h4.3v4.3h-4.3z"/><path fill="#90c3dd" d="M285.5 17.4h4.3v4.3h-4.3zM301.5 17.4h4.3v4.3h-4.3zM277.5 21.4h4.3v4.3h-4.3zM309.5 21.4h4.3v4.3h-4.3zM273.5 25.4h4.3v4.3h-4.3zM317.5 29.4h4.3v4.3h-4.3zM269.5 33.4h4.3v4.3h-4.3zM321.5 37.4h4.3v4.3h-4.3zM265.5 53.4h4.3v4.3h-4.3zM321.5 53.4h4.3v4.3h-4.3zM269.5 65.4h4.3v4.3h-4.3zM313.5 69.4h4.3v4.3h-4.3zM277.5 73.4h4.3v4.3h-4.3zM285.5 77.4h8.3v4.3h-8.3zM297.5 77.4h4.3v4.3h-4.3z"/><path fill="#83bcd9" d="M289.5 17.4h12.3v4.3h-12.3zM313.5 25.4h4.3v4.3h-4.3zM321.5 41.4h4.3v4.3h-4.3zM265.5 45.4h4.3v4.3h-4.3zM321.5 45.4h4.3v4.3h-4.3zM265.5 49.4h4.3v4.3h-4.3zM321.5 49.4h4.3v4.3h-4.3zM317.5 61.4h4.3v4.3h-4.3zM273.5 69.4h4.3v4.3h-4.3zM293.5 77.4h4.3v4.3h-4.3z"/><path fill="#f9eee8" d="M253.5 21.4h8.3v4.3h-8.3zM261.5 25.4h4.3v4.3h-4.3zM245.5 29.4h4.3v4.3h-4.3zM245.5 33.4h4.3v4.3h-4.3zM257.5 61.4h4.3v4.3h-4.3zM269.5 85.4h4.3v4.3h-4.3zM301.5 85.4h4.3v4.3h-4.3z"/><path fill="#a4cee3" d="M273.5 21.4h4.3v4.3h-4.3zM313.5 21.4h4.3v4.3h-4.3zM317.5 25.4h4.3v4.3h-4.3zM269.5 29.4h4.3v4.3h-4.3zM321.5 33.4h4.3v4.3h-4.3zM321.5 57.4h4.3v4.3h-4.3zM317.5 65.4h4.3v4.3h-4.3zM273.5 73.4h4.3v4.3h-4.3zM281.5 77.4h4.3v4.3h-4.3zM301.5 77.4h4.3v4.3h-4.3z"/><path fill="#77b4d5" d="M281.5 21.4h4.3v4.3h-4.3zM305.5 21.4h4.3v4.3h-4.3zM273.5 29.4h4.3v4.3h-4.3zM317.5 33.4h4.3v4.3h-4.3zM269.5 37.4h4.3v4.3h-4.3zM269.5 61.4h4.3v4.3h-4.3zM281.5 73.4h4.3v4.3h-4.3zM305.5 73.4h4.3v4.3h-4.3z"/><path fill="#6aacd0" d="M285.5 21.4h4.3v4.3h-4.3zM301.5 21.4h4.3v4.3h-4.3zM277.5 25.4h4.3v4.3h-4.3zM309.5 25.4h4.3v4.3h-4.3zM313.5 29.4h4.3v4.3h-4.3zM317.5 37.4h4.3v4.3h-4.3zM269.5 57.4h4.3v4.3h-4.3zM317.5 57.4h4.3v4.3h-4.3zM273.5 65.4h4.3v4.3h-4.3zM313.5 65.4h4.3v4.3h-4.3zM277.5 69.4h4.3v4.3h-4.3zM309.5 69.4h4.3v4.3h-4.3zM301.5 73.4h4.3v4.3h-4.3z"/><path fill="#5ea4cc" d="M289.5 21.4h4.3v4.3h-4.3zM297.5 21.4h4.3v4.3h-4.3zM273.5 33.4h4.3v4.3h-4.3zM269.5 41.4h4.3v4.3h-4.3zM317.5 41.4h4.3v4.3h-4.3zM269.5 53.4h4.3v4.3h-4.3zM285.5 73.4h8.3v4.3h-8.3zM297.5 73.4h4.3v4.3h-4.3z"/><path fill="#529cc8" d="M293.5 21.4h4.3v4.3h-4.3zM281.5 25.4h4.3v4.3h-4.3zM305.5 25.4h4.3v4.3h-4.3zM277.5 29.4h4.3v4.3h-4.3zM309.5 29.4h4.3v4.3h-4.3zM313.5 33.4h4.3v4.3h-4.3zM269.5 45.4h4.3v4.3h-4.3zM317.5 45.4h4.3v4.3h-4.3zM269.5 49.4h4.3v4.3h-4.3zM317.5 49.4h4.3v4.3h-4.3zM317.5 53.4h4.3v4.3h-4.3zM273.5 61.4h4.3v4.3h-4.3zM281.5 69.4h4.3v4.3h-4.3zM293.5 73.4h4.3v4.3h-4.3z"/><path fill="#faeae0" d="M249.5 25.4h4.3v4.3h-4.3zM261.5 29.4h4.3v4.3h-4.3zM241.5 37.4h16.3v4.3h-16.3zM249.5 41.4h4.3v4.3h-4.3zM253.5 49.4h4.3v4.3h-4.3zM257.5 65.4h4.3v4.3h-4.3zM257.5 69.4h4.3v4.3h-4.3zM321.5 69.4h4.3v4.3h-4.3zM257.5 73.4h4.3v4.3h-4.3zM257.5 77.4h4.3v4.3h-4.3zM257.5 81.4h4.3v4.3h-4.3zM261.5 85.4h8.3v4.3h-8.3zM305.5 85.4h4.3v4.3h-4.3z"/><path fill="#fce1d2" d="M253.5 25.4h8.3v4.3h-8.3zM237.5 41.4h12.3v4.3h-12.3zM249.5 45.4h4.3v4.3h-4.3zM253.5 53.4h4.3v4.3h-4.3zM329.5 61.4h4.3v4.3h-4.3zM253.5 81.4h4.3v4.3h-4.3zM253.5 85.4h4.3v4.3h-4.3z"/><path fill="#4595c4" d="M285.5 25.4h4.3v4.3h-4.3zM301.5 25.4h4.3v4.3h-4.3zM273.5 37.4h4.3v4.3h-4.3zM313.5 37.4h4.3v4.3h-4.3zM273.5 57.4h4.3v4.3h-4.3zM313.5 61.4h4.3v4.3h-4.3zM277.5 65.4h4.3v4.3h-4.3zM305.5 69.4h4.3v4.3h-4.3z"/><path fill="#3f8dc0" d="M289.5 25.4h12.3v4.3h-12.3zM281.5 29.4h4.3v4.3h-4.3zM305.5 29.4h4.3v4.3h-4.3zM277.5 33.4h4.3v4.3h-4.3zM309.5 33.4h4.3v4.3h-4.3zM273.5 41.4h4.3v4.3h-4.3zM313.5 41.4h4.3v4.3h-4.3zM273.5 53.4h4.3v4.3h-4.3zM277.5 61.4h4.3v4.3h-4.3zM281.5 65.4h4.3v4.3h-4.3zM309.5 65.4h4.3v4.3h-4.3zM285.5 69.4h4.3v4.3h-4.3z"/><path fill="#fbe6d9" d="M249.5 29.4h4.3v4.3h-4.3zM249.5 33.4h4.3v4.3h-4.3zM257.5 85.4h4.3v4.3h-4.3zM309.5 85.4h12.3v4.3h-12.3z"/><path fill="#fcd6c1" d="M253.5 29.4h8.3v4.3h-8.3zM253.5 77.4h4.3v4.3h-4.3zM321.5 77.4h4.3v4.3h-4.3zM245.5 89.4h4.3v4.3h-4.3zM269.5 89.4h32.3v4.3h-32.3zM317.5 89.4h4.3v4.3h-4.3zM249.5 93.4h4.3v4.3h-4.3z"/><path fill="#3986bd" d="M285.5 29.4h4.3v4.3h-4.3zM301.5 29.4h4.3v4.3h-4.3zM277.5 37.4h4.3v4.3h-4.3zM273.5 45.4h4.3v4.3h-4.3zM313.5 45.4h4.3v4.3h-4.3zM273.5 49.4h4.3v4.3h-4.3zM313.5 49.4h4.3v4.3h-4.3zM313.5 57.4h4.3v4.3h-4.3zM289.5 69.4h8.3v4.3h-8.3zM301.5 69.4h4.3v4.3h-4.3z"/><path fill="#347fb9" d="M289.5 29.4h12.3v4.3h-12.3zM281.5 33.4h4.3v4.3h-4.3zM305.5 33.4h4.3v4.3h-4.3zM309.5 37.4h4.3v4.3h-4.3zM277.5 41.4h4.3v4.3h-4.3zM277.5 53.4h4.3v4.3h-4.3zM313.5 53.4h4.3v4.3h-4.3zM277.5 57.4h4.3v4.3h-4.3zM281.5 61.4h4.3v4.3h-4.3zM285.5 65.4h4.3v4.3h-4.3zM297.5 69.4h4.3v4.3h-4.3z"/><path fill="#fdddca" d="M253.5 33.4h8.3v4.3h-8.3zM333.5 61.4h4.3v4.3h-4.3zM321.5 73.4h4.3v4.3h-4.3zM321.5 81.4h4.3v4.3h-4.3zM249.5 85.4h4.3v4.3h-4.3zM321.5 85.4h4.3v4.3h-4.3zM249.5 89.4h20.3v4.3h-20.3zM321.5 89.4h8.3v4.3h-8.3z"/><path fill="#2f78b5" d="M285.5 33.4h20.3v4.3h-20.3zM281.5 37.4h4.3v4.3h-4.3zM305.5 37.4h4.3v4.3h-4.3zM281.5 41.4h4.3v4.3h-4.3zM309.5 41.4h4.3v4.3h-4.3zM277.5 45.4h4.3v4.3h-4.3zM277.5 49.4h4.3v4.3h-4.3zM281.5 57.4h4.3v4.3h-4.3zM289.5 65.4h4.3v4.3h-4.3z"/><path fill="#2a71b2" d="M285.5 37.4h20.3v4.3h-20.3zM285.5 41.4h8.3v4.3h-8.3zM305.5 41.4h4.3v4.3h-4.3zM281.5 45.4h8.3v4.3h-8.3zM309.5 45.4h4.3v4.3h-4.3zM281.5 49.4h4.3v4.3h-4.3zM281.5 53.4h4.3v4.3h-4.3zM285.5 61.4h4.3v4.3h-4.3zM309.5 61.4h4.3v4.3h-4.3zM305.5 65.4h4.3v4.3h-4.3z"/><path fill="#246aae" d="M293.5 41.4h12.3v4.3h-12.3zM289.5 45.4h4.3v4.3h-4.3zM285.5 49.4h4.3v4.3h-4.3zM309.5 49.4h4.3v4.3h-4.3zM285.5 53.4h4.3v4.3h-4.3zM285.5 57.4h4.3v4.3h-4.3zM293.5 65.4h4.3v4.3h-4.3z"/><path fill="#f9c5ab" d="M237.5 45.4h8.3v4.3h-8.3zM253.5 73.4h4.3v4.3h-4.3zM301.5 89.4h4.3v4.3h-4.3zM313.5 89.4h4.3v4.3h-4.3zM257.5 93.4h8.3v4.3h-8.3zM317.5 93.4h4.3v4.3h-4.3z"/><path fill="#fbceb6" d="M245.5 45.4h4.3v4.3h-4.3zM249.5 49.4h4.3v4.3h-4.3zM253.5 57.4h4.3v4.3h-4.3zM325.5 65.4h4.3v4.3h-4.3zM249.5 81.4h4.3v4.3h-4.3zM245.5 85.4h4.3v4.3h-4.3zM325.5 85.4h4.3v4.3h-4.3zM253.5 93.4h4.3v4.3h-4.3zM321.5 93.4h4.3v4.3h-4.3zM253.5 97.4h4.3v4.3h-4.3z"/><path fill="#1f63a7" d="M293.5 45.4h4.3v4.3h-4.3zM305.5 45.4h4.3v4.3h-4.3zM289.5 49.4h4.3v4.3h-4.3zM309.5 53.4h4.3v4.3h-4.3zM309.5 57.4h4.3v4.3h-4.3zM289.5 61.4h4.3v4.3h-4.3zM301.5 65.4h4.3v4.3h-4.3z"/><path fill="#1b5a9c" d="M297.5 45.4h8.3v4.3h-8.3zM289.5 53.4h4.3v4.3h-4.3zM289.5 57.4h4.3v4.3h-4.3zM297.5 65.4h4.3v4.3h-4.3z"/><path fill="#ee9878" d="M237.5 49.4h4.3v4.3h-4.3zM273.5 93.4h4.3v4.3h-4.3zM309.5 93.4h4.3v4.3h-4.3zM265.5 97.4h4.3v4.3h-4.3zM265.5 101.4h4.3v4.3h-4.3z"/><path fill="#ea8d70" d="M241.5 49.4h4.3v4.3h-4.3zM329.5 65.4h8.3v4.3h-8.3zM249.5 73.4h4.3v4.3h-4.3zM301.5 93.4h8.3v4.3h-8.3zM309.5 97.4h4.3v4.3h-4.3zM305.5 101.4h4.3v4.3h-4.3zM269.5 105.4h4.3v4.3h-4.3zM301.5 105.4h4.3v4.3h-4.3z"/><path fill="#f3a380" d="M245.5 49.4h4.3v4.3h-4.3zM249.5 53.4h4.3v4.3h-4.3zM325.5 81.4h4.3v4.3h-4.3z"/><path fill="#165290" d="M293.5 49.4h4.3v4.3h-4.3zM305.5 49.4h4.3v4.3h-4.3z"/><path fill="#0e4178" d="M297.5 49.4h4.3v4.3h-4.3z"/><path fill="#09386d" d="M301.5 49.4h4.3v4.3h-4.3zM293.5 53.4h4.3v4.3h-4.3zM305.5 53.4h4.3v4.3h-4.3zM293.5 57.4h4.3v4.3h-4.3z"/><path fill="#d25749" d="M237.5 53.4h4.3v4.3h-4.3zM249.5 61.4h4.3v4.3h-4.3zM249.5 65.4h4.3v4.3h-4.3zM325.5 73.4h4.3v4.3h-4.3zM301.5 101.4h4.3v4.3h-4.3z"/><path fill="#cc4c43" d="M241.5 53.4h4.3v4.3h-4.3zM245.5 73.4h4.3v4.3h-4.3zM273.5 105.4h4.3v4.3h-4.3zM297.5 105.4h4.3v4.3h-4.3z"/><path fill="#d7624f" d="M245.5 53.4h4.3v4.3h-4.3zM249.5 69.4h4.3v4.3h-4.3zM285.5 93.4h4.3v4.3h-4.3zM301.5 97.4h4.3v4.3h-4.3z"/><path fill="#053061" d="M297.5 53.4h8.3v4.3h-8.3zM297.5 57.4h12.3v4.3h-12.3zM297.5 61.4h8.3v4.3h-8.3z"/><path fill="#ad162a" d="M237.5 57.4h4.3v4.3h-4.3zM245.5 69.4h4.3v4.3h-4.3zM273.5 101.4h4.3v4.3h-4.3zM297.5 101.4h4.3v4.3h-4.3z"/><path fill="#a21328" d="M241.5 57.4h4.3v4.3h-4.3zM245.5 61.4h4.3v4.3h-4.3zM237.5 69.4h4.3v4.3h-4.3zM277.5 97.4h4.3v4.3h-4.3z"/><path fill="#bb2a34" d="M245.5 57.4h4.3v4.3h-4.3zM329.5 69.4h4.3v4.3h-4.3zM241.5 73.4h4.3v4.3h-4.3z"/><path fill="#e0785f" d="M249.5 57.4h4.3v4.3h-4.3zM241.5 77.4h4.3v4.3h-4.3zM329.5 81.4h4.3v4.3h-4.3zM277.5 93.4h4.3v4.3h-4.3zM293.5 93.4h4.3v4.3h-4.3zM269.5 97.4h4.3v4.3h-4.3zM305.5 97.4h4.3v4.3h-4.3z"/><path fill="#8a0b25" d="M237.5 61.4h4.3v4.3h-4.3zM241.5 69.4h4.3v4.3h-4.3zM277.5 105.4h4.3v4.3h-4.3zM293.5 105.4h4.3v4.3h-4.3z"/><path fill="#730421" d="M241.5 61.4h4.3v4.3h-4.3z"/><path fill="#f8bda0" d="M253.5 61.4h4.3v4.3h-4.3zM305.5 89.4h8.3v4.3h-8.3zM257.5 97.4h4.3v4.3h-4.3zM317.5 97.4h4.3v4.3h-4.3z"/><path fill="#124984" d="M293.5 61.4h4.3v4.3h-4.3zM305.5 61.4h4.3v4.3h-4.3z"/><path fill="#7e0823" d="M237.5 65.4h4.3v4.3h-4.3z"/><path fill="#67001f" d="M241.5 65.4h4.3v4.3h-4.3zM281.5 97.4h12.3v4.3h-12.3zM277.5 101.4h20.3v4.3h-20.3zM281.5 105.4h12.3v4.3h-12.3z"/><path fill="#960f26" d="M245.5 65.4h4.3v4.3h-4.3zM329.5 73.4h4.3v4.3h-4.3zM293.5 97.4h4.3v4.3h-4.3z"/><path fill="#f7b495" d="M253.5 65.4h4.3v4.3h-4.3zM253.5 69.4h4.3v4.3h-4.3zM245.5 81.4h4.3v4.3h-4.3zM265.5 93.4h4.3v4.3h-4.3zM261.5 97.4h4.3v4.3h-4.3zM261.5 101.4h4.3v4.3h-4.3z"/><path fill="#e58268" d="M325.5 69.4h4.3v4.3h-4.3zM245.5 77.4h4.3v4.3h-4.3zM297.5 93.4h4.3v4.3h-4.3z"/><path fill="#c6403e" d="M333.5 69.4h4.3v4.3h-4.3zM237.5 73.4h4.3v4.3h-4.3zM273.5 97.4h4.3v4.3h-4.3z"/><path fill="#b51f2e" d="M333.5 73.4h4.3v4.3h-4.3zM329.5 77.4h4.3v4.3h-4.3z"/><path fill="#f5ac8b" d="M249.5 77.4h4.3v4.3h-4.3zM241.5 81.4h4.3v4.3h-4.3zM269.5 93.4h4.3v4.3h-4.3zM313.5 93.4h4.3v4.3h-4.3zM313.5 97.4h4.3v4.3h-4.3zM309.5 101.4h4.3v4.3h-4.3z"/><path fill="#dc6d57" d="M325.5 77.4h4.3v4.3h-4.3zM281.5 93.4h4.3v4.3h-4.3zM289.5 93.4h4.3v4.3h-4.3zM269.5 101.4h4.3v4.3h-4.3z"/><path fill="#c13539" d="M297.5 97.4h4.3v4.3h-4.3z"/></g></g>
<path d="M287.5 22.4h0M275.9 24.6h0M298.6 24.6h0M266.1 29.5h0M274.1 29.5h0M300.9 29.5h0M308.9 29.5h0M258.1 37.5h0M265.5 37.5h0M272.9 37.5h0M280.3 37.5h0M287.7 37.5h0M295.1 37.5h0M302.6 37.5h0M310.0 37.5h0M317.4 37.5h0M252.7 47.8h0M261.4 47.8h0M270.1 47.8h0M278.8 47.8h0M287.5 47.8h0M296.2 47.8h0M304.9 47.8h0M313.6 47.8h0M322.3 47.8h0M251.4 59.4h0M260.5 59.4h0M269.5 59.4h0M278.6 59.4h0M287.7 59.4h0M296.8 59.4h0M305.9 59.4h0M315.0 59.4h0M324.1 59.4h0M249.1 70.1h0M256.8 70.1h0M264.4 70.1h0M272.0 70.1h0M279.7 70.1h0M287.3 70.1h0M294.9 70.1h0M302.5 70.1h0M310.2 70.1h0M317.8 70.1h0M325.4 70.1h0M258.1 80.4h0M265.5 80.4h0M272.9 80.4h0M280.3 80.4h0M287.7 80.4h0M295.1 80.4h0M302.6 80.4h0M310.0 80.4h0M317.4 80.4h0M266.1 88.4h0M274.1 88.4h0M287.5 88.4h0M300.9 88.4h0M308.9 88.4h0M275.9 94.2h0M298.6 94.2h0M287.5 96.0h0M287.5 99.5h0" stroke="#1a1a1a" stroke-width="1.0" stroke-linecap="round"/>
<path d="M278.58,15.70 L287.50,7.66 L296.42,15.70" fill="none" stroke="#222" stroke-width="0.8"/>
<path d="M243.12,52.26 L240.45,52.26 Q238.66,52.26 238.66,56.10 L238.44,66.65 Q238.22,71.44 240.89,71.44 L243.12,71.44" fill="#fff" stroke="#222" stroke-width="0.7200000000000001"/>
<path d="M331.88,52.26 L334.55,52.26 Q336.34,52.26 336.34,56.10 L336.56,66.65 Q336.78,71.44 334.11,71.44 L331.88,71.44" fill="#fff" stroke="#222" stroke-width="0.7200000000000001"/>
<circle cx="287.5" cy="59.4" r="44.6" fill="none" stroke="#222" stroke-width="0.8"/>
<g clip-path="url(#tc3)"><g filter="url(#tb3)"><path fill="#f7f7f7" d="M494.5 9.6h4.3v4.3h-4.3zM534.5 9.6h4.3v4.3h-4.3zM490.5 13.6h4.3v4.3h-4.3zM538.5 13.6h4.3v4.3h-4.3zM490.5 17.6h4.3v4.3h-4.3zM538.5 17.6h4.3v4.3h-4.3zM490.5 21.6h4.3v4.3h-4.3zM490.5 25.6h4.3v4.3h-4.3zM546.5 61.6h4.3v4.3h-4.3zM486.5 73.6h4.3v4.3h-4.3zM490.5 77.6h4.3v4.3h-4.3z"/><path fill="#f8f3f0" d="M498.5 9.6h4.3v4.3h-4.3zM530.5 9.6h4.3v4.3h-4.3zM494.5 13.6h4.3v4.3h-4.3zM534.5 13.6h4.3v4.3h-4.3zM494.5 17.6h4.3v4.3h-4.3zM534.5 17.6h4.3v4.3h-4.3zM494.5 21.6h4.3v4.3h-4.3zM534.5 21.6h4.3v4.3h-4.3zM534.5 25.6h4.3v4.3h-4.3zM534.5 29.6h4.3v4.3h-4.3zM546.5 53.6h4.3v4.3h-4.3z"/><path fill="#f9eee8" d="M502.5 9.6h4.3v4.3h-4.3zM526.5 9.6h4.3v4.3h-4.3zM498.5 13.6h4.3v4.3h-4.3zM530.5 13.6h4.3v4.3h-4.3zM530.5 21.6h4.3v4.3h-4.3zM494.5 25.6h4.3v4.3h-4.3zM486.5 37.6h4.3v4.3h-4.3zM542.5 41.6h4.3v4.3h-4.3zM482.5 45.6h4.3v4.3h-4.3zM546.5 57.6h4.3v4.3h-4.3zM522.5 85.6h4.3v4.3h-4.3z"/><path fill="#faeae0" d="M506.5 9.6h4.3v4.3h-4.3zM522.5 9.6h4.3v4.3h-4.3zM498.5 17.6h4.3v4.3h-4.3zM530.5 17.6h4.3v4.3h-4.3zM498.5 21.6h4.3v4.3h-4.3zM530.5 25.6h4.3v4.3h-4.3zM494.5 29.6h4.3v4.3h-4.3zM490.5 33.6h4.3v4.3h-4.3zM482.5 65.6h4.3v4.3h-4.3zM506.5 85.6h4.3v4.3h-4.3z"/><path fill="#fbe6d9" d="M510.5 9.6h12.3v4.3h-12.3zM502.5 13.6h4.3v4.3h-4.3zM526.5 13.6h4.3v4.3h-4.3zM502.5 17.6h4.3v4.3h-4.3zM526.5 17.6h4.3v4.3h-4.3zM502.5 21.6h4.3v4.3h-4.3zM526.5 21.6h4.3v4.3h-4.3zM498.5 25.6h4.3v4.3h-4.3zM530.5 29.6h4.3v4.3h-4.3zM542.5 69.6h4.3v4.3h-4.3zM530.5 81.6h4.3v4.3h-4.3zM510.5 85.6h12.3v4.3h-12.3z"/><path fill="#f1f4f6" d="M486.5 13.6h4.3v4.3h-4.3zM542.5 13.6h4.3v4.3h-4.3zM486.5 17.6h4.3v4.3h-4.3zM542.5 17.6h4.3v4.3h-4.3zM486.5 21.6h4.3v4.3h-4.3zM538.5 21.6h8.3v4.3h-8.3zM486.5 25.6h4.3v4.3h-4.3zM538.5 25.6h4.3v4.3h-4.3zM490.5 29.6h4.3v4.3h-4.3zM538.5 33.6h4.3v4.3h-4.3zM546.5 49.6h4.3v4.3h-4.3zM538.5 77.6h4.3v4.3h-4.3zM502.5 85.6h4.3v4.3h-4.3zM526.5 85.6h4.3v4.3h-4.3z"/><path fill="#fce1d2" d="M506.5 13.6h4.3v4.3h-4.3zM522.5 13.6h4.3v4.3h-4.3zM526.5 25.6h4.3v4.3h-4.3zM534.5 33.6h4.3v4.3h-4.3zM538.5 37.6h4.3v4.3h-4.3zM498.5 81.6h4.3v4.3h-4.3z"/><path fill="#fdddca" d="M510.5 13.6h4.3v4.3h-4.3zM518.5 13.6h4.3v4.3h-4.3zM506.5 17.6h4.3v4.3h-4.3zM522.5 17.6h4.3v4.3h-4.3zM506.5 21.6h4.3v4.3h-4.3zM522.5 21.6h4.3v4.3h-4.3zM502.5 25.6h4.3v4.3h-4.3z"/><path fill="#fcd6c1" d="M514.5 13.6h4.3v4.3h-4.3zM510.5 17.6h4.3v4.3h-4.3zM518.5 17.6h4.3v4.3h-4.3zM510.5 21.6h12.3v4.3h-12.3zM522.5 25.6h4.3v4.3h-4.3zM498.5 29.6h4.3v4.3h-4.3zM482.5 49.6h4.3v4.3h-4.3zM482.5 61.6h4.3v4.3h-4.3zM534.5 77.6h4.3v4.3h-4.3zM526.5 81.6h4.3v4.3h-4.3z"/><path fill="#ebf1f5" d="M482.5 17.6h4.3v4.3h-4.3zM546.5 17.6h4.3v4.3h-4.3zM478.5 21.6h8.3v4.3h-8.3zM546.5 21.6h8.3v4.3h-8.3zM474.5 25.6h12.3v4.3h-12.3zM542.5 25.6h16.3v4.3h-16.3zM538.5 29.6h4.3v4.3h-4.3zM482.5 69.6h4.3v4.3h-4.3zM542.5 73.6h4.3v4.3h-4.3zM534.5 81.6h4.3v4.3h-4.3z"/><path fill="#fbceb6" d="M514.5 17.6h4.3v4.3h-4.3zM506.5 25.6h4.3v4.3h-4.3zM518.5 25.6h4.3v4.3h-4.3zM526.5 29.6h4.3v4.3h-4.3zM486.5 41.6h4.3v4.3h-4.3zM542.5 45.6h4.3v4.3h-4.3zM538.5 73.6h4.3v4.3h-4.3zM494.5 77.6h4.3v4.3h-4.3zM502.5 81.6h4.3v4.3h-4.3zM522.5 81.6h4.3v4.3h-4.3z"/><path fill="#f9c5ab" d="M510.5 25.6h8.3v4.3h-8.3zM482.5 53.6h4.3v4.3h-4.3zM482.5 57.6h4.3v4.3h-4.3zM486.5 69.6h4.3v4.3h-4.3z"/><path fill="#cbe2ee" d="M470.5 29.6h16.3v4.3h-16.3zM546.5 29.6h16.3v4.3h-16.3zM482.5 37.6h4.3v4.3h-4.3zM546.5 69.6h4.3v4.3h-4.3zM506.5 89.6h4.3v4.3h-4.3zM522.5 89.6h4.3v4.3h-4.3z"/><path fill="#dfecf3" d="M486.5 29.6h4.3v4.3h-4.3zM482.5 41.6h4.3v4.3h-4.3zM546.5 45.6h4.3v4.3h-4.3zM478.5 53.6h4.3v4.3h-4.3zM478.5 57.6h4.3v4.3h-4.3z"/><path fill="#f7b495" d="M502.5 29.6h4.3v4.3h-4.3zM522.5 29.6h4.3v4.3h-4.3zM530.5 33.6h4.3v4.3h-4.3zM490.5 73.6h4.3v4.3h-4.3zM510.5 81.6h8.3v4.3h-8.3z"/><path fill="#f3a380" d="M506.5 29.6h4.3v4.3h-4.3zM518.5 29.6h4.3v4.3h-4.3zM534.5 37.6h4.3v4.3h-4.3zM538.5 41.6h4.3v4.3h-4.3zM542.5 61.6h4.3v4.3h-4.3zM526.5 77.6h4.3v4.3h-4.3z"/><path fill="#ee9878" d="M510.5 29.6h8.3v4.3h-8.3zM542.5 53.6h4.3v4.3h-4.3zM542.5 57.6h4.3v4.3h-4.3z"/><path fill="#d9e9f2" d="M542.5 29.6h4.3v4.3h-4.3zM478.5 61.6h4.3v4.3h-4.3zM530.5 85.6h4.3v4.3h-4.3zM510.5 89.6h12.3v4.3h-12.3z"/><path fill="#90c3dd" d="M470.5 33.6h8.3v4.3h-8.3zM550.5 33.6h12.3v4.3h-12.3zM550.5 49.6h4.3v4.3h-4.3zM550.5 53.6h4.3v4.3h-4.3zM478.5 69.6h4.3v4.3h-4.3zM498.5 89.6h4.3v4.3h-4.3zM510.5 93.6h12.3v4.3h-12.3z"/><path fill="#9ac9e0" d="M478.5 33.6h4.3v4.3h-4.3zM494.5 85.6h4.3v4.3h-4.3zM530.5 89.6h4.3v4.3h-4.3z"/><path fill="#c1ddec" d="M482.5 33.6h4.3v4.3h-4.3zM538.5 81.6h4.3v4.3h-4.3z"/><path fill="#e5eff4" d="M486.5 33.6h4.3v4.3h-4.3zM542.5 37.6h4.3v4.3h-4.3zM546.5 65.6h4.3v4.3h-4.3zM494.5 81.6h4.3v4.3h-4.3z"/><path fill="#f8bda0" d="M494.5 33.6h4.3v4.3h-4.3zM490.5 37.6h4.3v4.3h-4.3zM542.5 65.6h4.3v4.3h-4.3zM530.5 77.6h4.3v4.3h-4.3zM506.5 81.6h4.3v4.3h-4.3zM518.5 81.6h4.3v4.3h-4.3z"/><path fill="#ea8d70" d="M498.5 33.6h4.3v4.3h-4.3zM526.5 33.6h4.3v4.3h-4.3zM486.5 45.6h4.3v4.3h-4.3zM494.5 73.6h4.3v4.3h-4.3zM502.5 77.6h4.3v4.3h-4.3zM522.5 77.6h4.3v4.3h-4.3z"/><path fill="#dc6d57" d="M502.5 33.6h4.3v4.3h-4.3zM494.5 37.6h4.3v4.3h-4.3zM534.5 41.6h4.3v4.3h-4.3zM538.5 49.6h4.3v4.3h-4.3zM538.5 61.6h4.3v4.3h-4.3zM510.5 77.6h8.3v4.3h-8.3z"/><path fill="#d7624f" d="M506.5 33.6h4.3v4.3h-4.3zM518.5 33.6h4.3v4.3h-4.3zM490.5 41.6h4.3v4.3h-4.3zM486.5 49.6h4.3v4.3h-4.3zM538.5 53.6h4.3v4.3h-4.3zM538.5 57.6h4.3v4.3h-4.3zM486.5 61.6h4.3v4.3h-4.3zM498.5 73.6h4.3v4.3h-4.3zM526.5 73.6h4.3v4.3h-4.3z"/><path fill="#d25749" d="M510.5 33.6h8.3v4.3h-8.3zM526.5 37.6h4.3v4.3h-4.3zM534.5 65.6h4.3v4.3h-4.3zM494.5 69.6h4.3v4.3h-4.3zM530.5 69.6h4.3v4.3h-4.3z"/><path fill="#e0785f" d="M522.5 33.6h4.3v4.3h-4.3zM530.5 37.6h4.3v4.3h-4.3zM490.5 69.6h4.3v4.3h-4.3zM534.5 69.6h4.3v4.3h-4.3zM506.5 77.6h4.3v4.3h-4.3zM518.5 77.6h4.3v4.3h-4.3z"/><path fill="#d3e6f0" d="M542.5 33.6h4.3v4.3h-4.3zM478.5 49.6h4.3v4.3h-4.3zM498.5 85.6h4.3v4.3h-4.3z"/><path fill="#aed3e6" d="M546.5 33.6h4.3v4.3h-4.3zM546.5 37.6h4.3v4.3h-4.3zM478.5 45.6h4.3v4.3h-4.3zM482.5 73.6h4.3v4.3h-4.3z"/><path fill="#529cc8" d="M466.5 37.6h12.3v4.3h-12.3zM554.5 37.6h12.3v4.3h-12.3zM550.5 41.6h4.3v4.3h-4.3zM474.5 49.6h4.3v4.3h-4.3zM478.5 73.6h4.3v4.3h-4.3zM486.5 81.6h4.3v4.3h-4.3zM490.5 85.6h4.3v4.3h-4.3zM494.5 89.6h4.3v4.3h-4.3zM498.5 93.6h4.3v4.3h-4.3z"/><path fill="#77b4d5" d="M478.5 37.6h4.3v4.3h-4.3zM478.5 41.6h4.3v4.3h-4.3zM550.5 45.6h4.3v4.3h-4.3zM550.5 61.6h4.3v4.3h-4.3zM502.5 93.6h4.3v4.3h-4.3z"/><path fill="#cc4c43" d="M498.5 37.6h4.3v4.3h-4.3zM530.5 41.6h4.3v4.3h-4.3zM534.5 45.6h4.3v4.3h-4.3zM486.5 53.6h4.3v4.3h-4.3zM486.5 57.6h4.3v4.3h-4.3zM490.5 65.6h4.3v4.3h-4.3zM502.5 73.6h4.3v4.3h-4.3zM522.5 73.6h4.3v4.3h-4.3z"/><path fill="#c13539" d="M502.5 37.6h4.3v4.3h-4.3zM494.5 41.6h4.3v4.3h-4.3zM534.5 49.6h4.3v4.3h-4.3zM534.5 53.6h4.3v4.3h-4.3zM534.5 57.6h4.3v4.3h-4.3zM490.5 61.6h4.3v4.3h-4.3zM530.5 65.6h4.3v4.3h-4.3zM498.5 69.6h4.3v4.3h-4.3zM526.5 69.6h4.3v4.3h-4.3zM510.5 73.6h8.3v4.3h-8.3z"/><path fill="#bb2a34" d="M506.5 37.6h4.3v4.3h-4.3zM518.5 37.6h4.3v4.3h-4.3zM526.5 41.6h4.3v4.3h-4.3zM530.5 45.6h4.3v4.3h-4.3zM490.5 49.6h4.3v4.3h-4.3zM494.5 65.6h4.3v4.3h-4.3zM522.5 69.6h4.3v4.3h-4.3z"/><path fill="#b51f2e" d="M510.5 37.6h8.3v4.3h-8.3zM498.5 41.6h4.3v4.3h-4.3zM490.5 53.6h4.3v4.3h-4.3zM490.5 57.6h4.3v4.3h-4.3zM530.5 61.6h4.3v4.3h-4.3zM526.5 65.6h4.3v4.3h-4.3zM502.5 69.6h8.3v4.3h-8.3zM518.5 69.6h4.3v4.3h-4.3z"/><path fill="#c6403e" d="M522.5 37.6h4.3v4.3h-4.3zM490.5 45.6h4.3v4.3h-4.3zM534.5 61.6h4.3v4.3h-4.3zM506.5 73.6h4.3v4.3h-4.3zM518.5 73.6h4.3v4.3h-4.3z"/><path fill="#6aacd0" d="M550.5 37.6h4.3v4.3h-4.3zM474.5 53.6h4.3v4.3h-4.3zM474.5 57.6h4.3v4.3h-4.3zM550.5 65.6h4.3v4.3h-4.3zM546.5 77.6h4.3v4.3h-4.3zM534.5 89.6h4.3v4.3h-4.3zM526.5 93.6h4.3v4.3h-4.3z"/><path fill="#2a71b2" d="M466.5 41.6h4.3v4.3h-4.3zM554.5 41.6h12.3v4.3h-12.3zM466.5 45.6h4.3v4.3h-4.3zM466.5 49.6h4.3v4.3h-4.3zM466.5 53.6h4.3v4.3h-4.3zM466.5 57.6h4.3v4.3h-4.3zM466.5 61.6h4.3v4.3h-4.3zM466.5 65.6h8.3v4.3h-8.3zM466.5 69.6h8.3v4.3h-8.3zM466.5 73.6h12.3v4.3h-12.3zM466.5 77.6h8.3v4.3h-8.3zM562.5 77.6h4.3v4.3h-4.3zM470.5 81.6h4.3v4.3h-4.3zM550.5 81.6h12.3v4.3h-12.3zM470.5 85.6h4.3v4.3h-4.3zM486.5 85.6h4.3v4.3h-4.3zM546.5 85.6h16.3v4.3h-16.3zM490.5 89.6h4.3v4.3h-4.3zM542.5 89.6h16.3v4.3h-16.3zM538.5 93.6h16.3v4.3h-16.3zM530.5 97.6h20.3v4.3h-20.3zM486.5 101.6h8.3v4.3h-8.3zM514.5 101.6h32.3v4.3h-32.3zM510.5 105.6h28.3v4.3h-28.3z"/><path fill="#2f78b5" d="M470.5 41.6h4.3v4.3h-4.3zM470.5 45.6h4.3v4.3h-4.3zM470.5 49.6h4.3v4.3h-4.3zM470.5 53.6h4.3v4.3h-4.3zM470.5 57.6h4.3v4.3h-4.3zM470.5 61.6h4.3v4.3h-4.3zM478.5 77.6h4.3v4.3h-4.3zM482.5 81.6h4.3v4.3h-4.3zM494.5 93.6h4.3v4.3h-4.3zM494.5 97.6h4.3v4.3h-4.3zM526.5 97.6h4.3v4.3h-4.3zM510.5 101.6h4.3v4.3h-4.3zM494.5 105.6h4.3v4.3h-4.3zM506.5 105.6h4.3v4.3h-4.3z"/><path fill="#347fb9" d="M474.5 41.6h4.3v4.3h-4.3zM474.5 69.6h4.3v4.3h-4.3zM550.5 77.6h4.3v4.3h-4.3zM534.5 93.6h4.3v4.3h-4.3zM494.5 101.6h4.3v4.3h-4.3zM506.5 101.6h4.3v4.3h-4.3zM498.5 105.6h8.3v4.3h-8.3z"/><path fill="#a21328" d="M502.5 41.6h4.3v4.3h-4.3zM518.5 41.6h4.3v4.3h-4.3zM494.5 49.6h4.3v4.3h-4.3zM526.5 49.6h4.3v4.3h-4.3zM494.5 57.6h4.3v4.3h-4.3zM526.5 57.6h4.3v4.3h-4.3zM502.5 65.6h20.3v4.3h-20.3z"/><path fill="#960f26" d="M506.5 41.6h12.3v4.3h-12.3zM498.5 45.6h4.3v4.3h-4.3zM522.5 45.6h4.3v4.3h-4.3zM494.5 53.6h4.3v4.3h-4.3zM526.5 53.6h4.3v4.3h-4.3zM498.5 61.6h4.3v4.3h-4.3zM518.5 61.6h8.3v4.3h-8.3z"/><path fill="#ad162a" d="M522.5 41.6h4.3v4.3h-4.3zM494.5 45.6h4.3v4.3h-4.3zM526.5 45.6h4.3v4.3h-4.3zM530.5 49.6h4.3v4.3h-4.3zM530.5 53.6h4.3v4.3h-4.3zM530.5 57.6h4.3v4.3h-4.3zM494.5 61.6h4.3v4.3h-4.3zM526.5 61.6h4.3v4.3h-4.3zM498.5 65.6h4.3v4.3h-4.3zM522.5 65.6h4.3v4.3h-4.3zM510.5 69.6h8.3v4.3h-8.3z"/><path fill="#b7d8e9" d="M546.5 41.6h4.3v4.3h-4.3zM478.5 65.6h4.3v4.3h-4.3zM486.5 77.6h4.3v4.3h-4.3zM542.5 77.6h4.3v4.3h-4.3zM534.5 85.6h4.3v4.3h-4.3zM502.5 89.6h4.3v4.3h-4.3zM526.5 89.6h4.3v4.3h-4.3z"/><path fill="#3986bd" d="M474.5 45.6h4.3v4.3h-4.3zM498.5 97.6h4.3v4.3h-4.3zM522.5 97.6h4.3v4.3h-4.3z"/><path fill="#8a0b25" d="M502.5 45.6h4.3v4.3h-4.3zM518.5 45.6h4.3v4.3h-4.3zM498.5 49.6h4.3v4.3h-4.3zM522.5 49.6h4.3v4.3h-4.3zM522.5 53.6h4.3v4.3h-4.3zM498.5 57.6h4.3v4.3h-4.3zM522.5 57.6h4.3v4.3h-4.3zM502.5 61.6h16.3v4.3h-16.3z"/><path fill="#7e0823" d="M506.5 45.6h12.3v4.3h-12.3zM518.5 49.6h4.3v4.3h-4.3zM498.5 53.6h4.3v4.3h-4.3zM518.5 53.6h4.3v4.3h-4.3zM502.5 57.6h4.3v4.3h-4.3zM514.5 57.6h8.3v4.3h-8.3z"/><path fill="#e58268" d="M538.5 45.6h4.3v4.3h-4.3zM486.5 65.6h4.3v4.3h-4.3zM538.5 65.6h4.3v4.3h-4.3zM530.5 73.6h4.3v4.3h-4.3z"/><path fill="#246aae" d="M554.5 45.6h4.3v4.3h-4.3zM562.5 45.6h4.3v4.3h-4.3zM554.5 49.6h4.3v4.3h-4.3zM562.5 73.6h4.3v4.3h-4.3zM474.5 77.6h4.3v4.3h-4.3zM554.5 77.6h8.3v4.3h-8.3zM474.5 81.6h4.3v4.3h-4.3zM474.5 85.6h4.3v4.3h-4.3zM474.5 89.6h4.3v4.3h-4.3zM478.5 93.6h4.3v4.3h-4.3zM482.5 97.6h12.3v4.3h-12.3z"/><path fill="#1f63a7" d="M558.5 45.6h4.3v4.3h-4.3zM562.5 49.6h4.3v4.3h-4.3zM562.5 69.6h4.3v4.3h-4.3zM554.5 73.6h8.3v4.3h-8.3zM478.5 81.6h4.3v4.3h-4.3zM478.5 89.6h4.3v4.3h-4.3zM482.5 93.6h12.3v4.3h-12.3z"/><path fill="#730421" d="M502.5 49.6h4.3v4.3h-4.3zM514.5 49.6h4.3v4.3h-4.3zM502.5 53.6h4.3v4.3h-4.3zM514.5 53.6h4.3v4.3h-4.3zM506.5 57.6h8.3v4.3h-8.3z"/><path fill="#67001f" d="M506.5 49.6h8.3v4.3h-8.3zM506.5 53.6h8.3v4.3h-8.3z"/><path fill="#f5ac8b" d="M542.5 49.6h4.3v4.3h-4.3zM538.5 69.6h4.3v4.3h-4.3zM534.5 73.6h4.3v4.3h-4.3zM498.5 77.6h4.3v4.3h-4.3z"/><path fill="#165290" d="M558.5 49.6h4.3v4.3h-4.3zM562.5 57.6h4.3v4.3h-4.3zM562.5 61.6h4.3v4.3h-4.3zM554.5 69.6h4.3v4.3h-4.3zM482.5 85.6h4.3v4.3h-4.3zM486.5 89.6h4.3v4.3h-4.3z"/><path fill="#1b5a9c" d="M554.5 53.6h4.3v4.3h-4.3zM562.5 53.6h4.3v4.3h-4.3zM562.5 65.6h4.3v4.3h-4.3zM478.5 85.6h4.3v4.3h-4.3zM482.5 89.6h4.3v4.3h-4.3z"/><path fill="#09386d" d="M558.5 53.6h4.3v4.3h-4.3z"/><path fill="#83bcd9" d="M550.5 57.6h4.3v4.3h-4.3zM542.5 81.6h4.3v4.3h-4.3zM538.5 85.6h4.3v4.3h-4.3zM506.5 93.6h4.3v4.3h-4.3zM522.5 93.6h4.3v4.3h-4.3z"/><path fill="#124984" d="M554.5 57.6h4.3v4.3h-4.3zM554.5 65.6h4.3v4.3h-4.3zM558.5 69.6h4.3v4.3h-4.3z"/><path fill="#053061" d="M558.5 57.6h4.3v4.3h-4.3zM558.5 61.6h4.3v4.3h-4.3zM558.5 65.6h4.3v4.3h-4.3z"/><path fill="#5ea4cc" d="M474.5 61.6h4.3v4.3h-4.3zM550.5 69.6h4.3v4.3h-4.3zM482.5 77.6h4.3v4.3h-4.3z"/><path fill="#0e4178" d="M554.5 61.6h4.3v4.3h-4.3z"/><path fill="#4595c4" d="M474.5 65.6h4.3v4.3h-4.3zM550.5 73.6h4.3v4.3h-4.3zM542.5 85.6h4.3v4.3h-4.3zM530.5 93.6h4.3v4.3h-4.3zM502.5 97.6h8.3v4.3h-8.3z"/><path fill="#a4cee3" d="M546.5 73.6h4.3v4.3h-4.3zM490.5 81.6h4.3v4.3h-4.3z"/><path fill="#3f8dc0" d="M546.5 81.6h4.3v4.3h-4.3zM538.5 89.6h4.3v4.3h-4.3zM510.5 97.6h12.3v4.3h-12.3zM498.5 101.6h8.3v4.3h-8.3z"/></g></g>
<path d="M516.5 22.2h0M504.8 24.5h0M527.8 24.5h0M494.9 29.4h0M503.0 29.4h0M530.0 29.4h0M538.1 29.4h0M486.8 37.5h0M494.3 37.5h0M501.8 37.5h0M509.2 37.5h0M516.7 37.5h0M524.2 37.5h0M531.7 37.5h0M539.2 37.5h0M546.6 37.5h0M481.4 47.9h0M490.2 47.9h0M498.9 47.9h0M507.7 47.9h0M516.5 47.9h0M525.3 47.9h0M534.0 47.9h0M542.8 47.9h0M551.6 47.9h0M480.1 59.6h0M489.2 59.6h0M498.4 59.6h0M507.6 59.6h0M516.7 59.6h0M525.9 59.6h0M535.1 59.6h0M544.2 59.6h0M553.4 59.6h0M477.8 70.4h0M485.5 70.4h0M493.2 70.4h0M500.9 70.4h0M508.6 70.4h0M516.3 70.4h0M524.0 70.4h0M531.7 70.4h0M539.4 70.4h0M547.1 70.4h0M554.8 70.4h0M486.8 80.8h0M494.3 80.8h0M501.8 80.8h0M509.2 80.8h0M516.7 80.8h0M524.2 80.8h0M531.7 80.8h0M539.2 80.8h0M546.6 80.8h0M494.9 88.8h0M503.0 88.8h0M516.5 88.8h0M530.0 88.8h0M538.1 88.8h0M504.8 94.7h0M527.8 94.7h0M516.5 96.5h0M516.5 100.1h0" stroke="#1a1a1a" stroke-width="1.0" stroke-linecap="round"/>
<path d="M507.50,15.51 L516.50,7.40 L525.50,15.51" fill="none" stroke="#222" stroke-width="0.8"/>
<path d="M471.73,52.40 L469.03,52.40 Q467.23,52.40 467.23,56.27 L467.00,66.91 Q466.78,71.75 469.48,71.75 L471.73,71.75" fill="#fff" stroke="#222" stroke-width="0.7200000000000001"/>
<path d="M561.27,52.40 L563.98,52.40 Q565.77,52.40 565.77,56.27 L566.00,66.91 Q566.23,71.75 563.52,71.75 L561.27,71.75" fill="#fff" stroke="#222" stroke-width="0.7200000000000001"/>
<circle cx="516.5" cy="59.6" r="45.0" fill="none" stroke="#222" stroke-width="0.8"/>
<text x="79.8" y="7.0" font-size="9.4" text-anchor="start" fill="#1c1c1c">20 - 40 ms</text>
<text x="307.3" y="7.0" font-size="9.4" text-anchor="start" fill="#1c1c1c">80 - 100 ms</text>
<text x="534.6" y="7.0" font-size="9.4" text-anchor="start" fill="#1c1c1c">160 - 180 ms</text>
<rect x="198.80" y="5.30" width="5.60" height="103.10" fill="url(#hotg)" stroke="#444" stroke-width="0.5"/>
<line x1="204.40" y1="5.30" x2="206.40" y2="5.30" stroke="#333" stroke-width="0.6"/>
<line x1="204.40" y1="108.40" x2="206.40" y2="108.40" stroke="#333" stroke-width="0.6"/>
<text x="207.2" y="8.4" font-size="8.8" text-anchor="start" fill="#1c1c1c">100</text>
<text x="207.2" y="111.4" font-size="8.8" text-anchor="start" fill="#1c1c1c">56</text>
<text x="0" y="0" font-size="8" text-anchor="middle" fill="#1c1c1c" transform="translate(214.1 56.8) rotate(-90)">Activation (%)</text>
<rect x="432.60" y="5.30" width="5.60" height="103.10" fill="url(#hotg)" stroke="#444" stroke-width="0.5"/>
<line x1="438.20" y1="5.30" x2="440.20" y2="5.30" stroke="#333" stroke-width="0.6"/>
<line x1="438.20" y1="108.40" x2="440.20" y2="108.40" stroke="#333" stroke-width="0.6"/>
<text x="441.0" y="8.4" font-size="8.8" text-anchor="start" fill="#1c1c1c">100</text>
<text x="441.0" y="111.4" font-size="8.8" text-anchor="start" fill="#1c1c1c">52</text>
<text x="0" y="0" font-size="8" text-anchor="middle" fill="#1c1c1c" transform="translate(447.9 56.8) rotate(-90)">Activation (%)</text>
<rect x="661.10" y="5.30" width="5.60" height="103.10" fill="url(#hotg)" stroke="#444" stroke-width="0.5"/>
<line x1="666.70" y1="5.30" x2="668.70" y2="5.30" stroke="#333" stroke-width="0.6"/>
<line x1="666.70" y1="108.40" x2="668.70" y2="108.40" stroke="#333" stroke-width="0.6"/>
<text x="669.5" y="8.4" font-size="8.8" text-anchor="start" fill="#1c1c1c">100</text>
<text x="669.5" y="111.4" font-size="8.8" text-anchor="start" fill="#1c1c1c">54</text>
<text x="0" y="0" font-size="8" text-anchor="middle" fill="#1c1c1c" transform="translate(676.4 56.8) rotate(-90)">Activation (%)</text>
<g clip-path="url(#tc4)"><g filter="url(#tb4)"><path fill="#fce1d2" d="M85.0 126.4h17.8v2.8h-17.8zM80.0 128.9h27.8v2.8h-27.8zM77.5 131.4h32.8v2.8h-32.8zM77.5 133.9h32.8v2.8h-32.8zM80.0 136.4h7.8v2.8h-7.8zM90.0 136.4h12.8v2.8h-12.8zM80.0 138.9h5.3v2.8h-5.3zM92.5 138.9h7.8v2.8h-7.8zM82.5 141.4h2.8v2.8h-2.8zM92.5 141.4h5.3v2.8h-5.3zM85.0 143.9h10.3v2.8h-10.3z"/><path fill="#fbe6d9" d="M75.0 133.9h2.8v2.8h-2.8zM110.0 133.9h2.8v2.8h-2.8zM72.5 136.4h7.8v2.8h-7.8zM102.5 136.4h12.8v2.8h-12.8zM72.5 138.9h7.8v2.8h-7.8zM100.0 138.9h15.3v2.8h-15.3zM77.5 141.4h5.3v2.8h-5.3zM97.5 141.4h12.8v2.8h-12.8zM80.0 143.9h5.3v2.8h-5.3zM95.0 143.9h10.3v2.8h-10.3zM85.0 146.4h12.8v2.8h-12.8z"/><path fill="#fdddca" d="M87.5 136.4h2.8v2.8h-2.8zM85.0 138.9h7.8v2.8h-7.8zM85.0 141.4h7.8v2.8h-7.8z"/><path fill="#faeae0" d="M70.0 141.4h7.8v2.8h-7.8zM110.0 141.4h7.8v2.8h-7.8zM75.0 143.9h5.3v2.8h-5.3zM105.0 143.9h7.8v2.8h-7.8zM80.0 146.4h5.3v2.8h-5.3zM97.5 146.4h10.3v2.8h-10.3zM87.5 148.9h10.3v2.8h-10.3z"/><path fill="#f8f3f0" d="M70.0 143.9h2.8v2.8h-2.8zM115.0 143.9h2.8v2.8h-2.8zM72.5 146.4h2.8v2.8h-2.8zM112.5 146.4h2.8v2.8h-2.8zM77.5 148.9h2.8v2.8h-2.8zM105.0 148.9h5.3v2.8h-5.3zM82.5 151.4h22.8v2.8h-22.8z"/><path fill="#f9eee8" d="M72.5 143.9h2.8v2.8h-2.8zM112.5 143.9h2.8v2.8h-2.8zM75.0 146.4h5.3v2.8h-5.3zM107.5 146.4h5.3v2.8h-5.3zM80.0 148.9h7.8v2.8h-7.8zM97.5 148.9h7.8v2.8h-7.8z"/><path fill="#f7f7f7" d="M70.0 146.4h2.8v2.8h-2.8zM115.0 146.4h2.8v2.8h-2.8zM72.5 148.9h5.3v2.8h-5.3zM110.0 148.9h5.3v2.8h-5.3zM77.5 151.4h5.3v2.8h-5.3zM105.0 151.4h5.3v2.8h-5.3zM85.0 153.9h15.3v2.8h-15.3z"/><path fill="#f1f4f6" d="M70.0 148.9h2.8v2.8h-2.8zM115.0 148.9h2.8v2.8h-2.8zM72.5 151.4h5.3v2.8h-5.3zM110.0 151.4h5.3v2.8h-5.3zM77.5 153.9h7.8v2.8h-7.8zM100.0 153.9h7.8v2.8h-7.8zM85.0 156.4h12.8v2.8h-12.8z"/><path fill="#ebf1f5" d="M70.0 151.4h2.8v2.8h-2.8zM115.0 151.4h2.8v2.8h-2.8zM72.5 153.9h5.3v2.8h-5.3zM107.5 153.9h7.8v2.8h-7.8zM77.5 156.4h7.8v2.8h-7.8zM97.5 156.4h7.8v2.8h-7.8zM85.0 158.9h10.3v2.8h-10.3z"/><path fill="#e5eff4" d="M70.0 153.9h2.8v2.8h-2.8zM115.0 153.9h2.8v2.8h-2.8zM72.5 156.4h5.3v2.8h-5.3zM105.0 156.4h10.3v2.8h-10.3zM77.5 158.9h7.8v2.8h-7.8zM95.0 158.9h5.3v2.8h-5.3zM82.5 161.4h12.8v2.8h-12.8z"/><path fill="#dfecf3" d="M70.0 156.4h2.8v2.8h-2.8zM115.0 156.4h2.8v2.8h-2.8zM72.5 158.9h5.3v2.8h-5.3zM100.0 158.9h15.3v2.8h-15.3zM72.5 161.4h10.3v2.8h-10.3zM95.0 161.4h5.3v2.8h-5.3zM105.0 161.4h10.3v2.8h-10.3zM75.0 163.9h22.8v2.8h-22.8zM110.0 163.9h2.8v2.8h-2.8zM77.5 166.4h20.3v2.8h-20.3zM82.5 168.9h12.8v2.8h-12.8z"/><path fill="#d9e9f2" d="M100.0 161.4h5.3v2.8h-5.3zM97.5 163.9h12.8v2.8h-12.8zM97.5 166.4h12.8v2.8h-12.8zM80.0 168.9h2.8v2.8h-2.8zM95.0 168.9h12.8v2.8h-12.8zM85.0 171.4h17.8v2.8h-17.8z"/></g></g>
<path d="M93.7 132.7h0M88.2 133.7h0M99.0 133.7h0M83.6 136.1h0M87.4 136.1h0M100.0 136.1h0M103.8 136.1h0M79.8 139.9h0M83.3 139.9h0M86.8 139.9h0M90.3 139.9h0M93.8 139.9h0M97.3 139.9h0M100.8 139.9h0M104.3 139.9h0M107.8 139.9h0M77.2 144.7h0M81.4 144.7h0M85.5 144.7h0M89.6 144.7h0M93.7 144.7h0M97.8 144.7h0M101.9 144.7h0M106.0 144.7h0M110.2 144.7h0M76.6 150.2h0M80.9 150.2h0M85.2 150.2h0M89.5 150.2h0M93.8 150.2h0M98.1 150.2h0M102.4 150.2h0M106.7 150.2h0M111.0 150.2h0M75.6 155.3h0M79.2 155.3h0M82.8 155.3h0M86.4 155.3h0M90.0 155.3h0M93.6 155.3h0M97.2 155.3h0M100.8 155.3h0M104.4 155.3h0M108.0 155.3h0M111.6 155.3h0M79.8 160.1h0M83.3 160.1h0M86.8 160.1h0M90.3 160.1h0M93.8 160.1h0M97.3 160.1h0M100.8 160.1h0M104.3 160.1h0M107.8 160.1h0M83.6 163.9h0M87.4 163.9h0M93.7 163.9h0M100.0 163.9h0M103.8 163.9h0M88.2 166.7h0M99.0 166.7h0M93.7 167.5h0M93.7 169.2h0" stroke="#1a1a1a" stroke-width="0.9" stroke-linecap="round"/>
<path d="M89.80,129.46 L93.70,125.72 L97.60,129.46" fill="none" stroke="#222" stroke-width="0.7"/>
<path d="M72.71,147.03 L71.19,147.03 Q70.17,147.03 70.17,148.98 L70.05,154.31 Q69.92,156.74 71.44,156.74 L72.71,156.74" fill="#fff" stroke="#222" stroke-width="0.63"/>
<path d="M114.69,147.03 L116.21,147.03 Q117.23,147.03 117.23,148.98 L117.35,154.31 Q117.48,156.74 115.96,156.74 L114.69,156.74" fill="#fff" stroke="#222" stroke-width="0.63"/>
<circle cx="93.7" cy="150.2" r="21.1" fill="none" stroke="#222" stroke-width="0.7"/>
<g clip-path="url(#tc5)"><g filter="url(#tb5)"><path fill="#f7f7f7" d="M188.1 126.7h2.8v2.8h-2.8zM203.1 126.7h2.8v2.8h-2.8zM175.6 136.7h2.8v2.8h-2.8zM175.6 139.2h2.8v2.8h-2.8zM175.6 141.7h2.8v2.8h-2.8zM178.1 146.7h2.8v2.8h-2.8zM213.1 149.2h2.8v2.8h-2.8zM183.1 154.2h2.8v2.8h-2.8zM208.1 154.2h2.8v2.8h-2.8zM195.6 156.7h5.3v2.8h-5.3z"/><path fill="#f1f4f6" d="M190.6 126.7h12.8v2.8h-12.8zM183.1 129.2h5.3v2.8h-5.3zM205.6 129.2h5.3v2.8h-5.3zM180.6 131.7h2.8v2.8h-2.8zM210.6 131.7h2.8v2.8h-2.8zM178.1 134.2h2.8v2.8h-2.8zM213.1 134.2h2.8v2.8h-2.8zM215.6 136.7h2.8v2.8h-2.8zM215.6 139.2h2.8v2.8h-2.8zM215.6 141.7h2.8v2.8h-2.8zM180.6 151.7h2.8v2.8h-2.8z"/><path fill="#ebf1f5" d="M188.1 129.2h2.8v2.8h-2.8zM203.1 129.2h2.8v2.8h-2.8zM183.1 131.7h2.8v2.8h-2.8zM208.1 131.7h2.8v2.8h-2.8zM178.1 136.7h2.8v2.8h-2.8zM213.1 136.7h2.8v2.8h-2.8zM213.1 146.7h2.8v2.8h-2.8z"/><path fill="#e5eff4" d="M190.6 129.2h12.8v2.8h-12.8zM180.6 134.2h2.8v2.8h-2.8zM210.6 134.2h2.8v2.8h-2.8zM178.1 139.2h2.8v2.8h-2.8zM178.1 144.2h2.8v2.8h-2.8zM210.6 151.7h2.8v2.8h-2.8zM185.6 154.2h2.8v2.8h-2.8zM205.6 154.2h2.8v2.8h-2.8z"/><path fill="#dfecf3" d="M185.6 131.7h2.8v2.8h-2.8zM205.6 131.7h2.8v2.8h-2.8zM213.1 139.2h2.8v2.8h-2.8zM178.1 141.7h2.8v2.8h-2.8zM213.1 141.7h2.8v2.8h-2.8zM213.1 144.2h2.8v2.8h-2.8z"/><path fill="#d3e6f0" d="M188.1 131.7h2.8v2.8h-2.8zM203.1 131.7h2.8v2.8h-2.8zM210.6 149.2h2.8v2.8h-2.8zM188.1 154.2h2.8v2.8h-2.8zM203.1 154.2h2.8v2.8h-2.8z"/><path fill="#cbe2ee" d="M190.6 131.7h2.8v2.8h-2.8zM200.6 131.7h2.8v2.8h-2.8zM180.6 139.2h2.8v2.8h-2.8zM180.6 146.7h2.8v2.8h-2.8zM183.1 151.7h2.8v2.8h-2.8zM208.1 151.7h2.8v2.8h-2.8z"/><path fill="#c1ddec" d="M193.1 131.7h2.8v2.8h-2.8zM198.1 131.7h2.8v2.8h-2.8zM185.6 134.2h2.8v2.8h-2.8zM205.6 134.2h2.8v2.8h-2.8zM210.6 139.2h2.8v2.8h-2.8zM190.6 154.2h2.8v2.8h-2.8zM200.6 154.2h2.8v2.8h-2.8z"/><path fill="#b7d8e9" d="M195.6 131.7h2.8v2.8h-2.8zM183.1 136.7h2.8v2.8h-2.8zM208.1 136.7h2.8v2.8h-2.8zM180.6 141.7h2.8v2.8h-2.8zM210.6 141.7h2.8v2.8h-2.8zM180.6 144.2h2.8v2.8h-2.8zM210.6 146.7h2.8v2.8h-2.8z"/><path fill="#d9e9f2" d="M183.1 134.2h2.8v2.8h-2.8zM208.1 134.2h2.8v2.8h-2.8zM180.6 136.7h2.8v2.8h-2.8zM210.6 136.7h2.8v2.8h-2.8zM180.6 149.2h2.8v2.8h-2.8z"/><path fill="#a4cee3" d="M188.1 134.2h2.8v2.8h-2.8zM203.1 134.2h2.8v2.8h-2.8zM183.1 149.2h2.8v2.8h-2.8zM185.6 151.7h2.8v2.8h-2.8zM205.6 151.7h2.8v2.8h-2.8z"/><path fill="#83bcd9" d="M190.6 134.2h2.8v2.8h-2.8zM200.6 134.2h2.8v2.8h-2.8zM183.1 146.7h2.8v2.8h-2.8zM208.1 146.7h2.8v2.8h-2.8z"/><path fill="#77b4d5" d="M193.1 134.2h2.8v2.8h-2.8zM198.1 134.2h2.8v2.8h-2.8zM183.1 141.7h2.8v2.8h-2.8zM208.1 141.7h2.8v2.8h-2.8zM183.1 144.2h2.8v2.8h-2.8zM208.1 144.2h2.8v2.8h-2.8zM188.1 151.7h2.8v2.8h-2.8zM203.1 151.7h2.8v2.8h-2.8z"/><path fill="#6aacd0" d="M195.6 134.2h2.8v2.8h-2.8zM185.6 149.2h2.8v2.8h-2.8zM205.6 149.2h2.8v2.8h-2.8z"/><path fill="#90c3dd" d="M185.6 136.7h2.8v2.8h-2.8zM205.6 136.7h2.8v2.8h-2.8z"/><path fill="#5ea4cc" d="M188.1 136.7h2.8v2.8h-2.8zM203.1 136.7h2.8v2.8h-2.8zM185.6 139.2h2.8v2.8h-2.8zM205.6 139.2h2.8v2.8h-2.8zM200.6 151.7h2.8v2.8h-2.8z"/><path fill="#4595c4" d="M190.6 136.7h2.8v2.8h-2.8zM200.6 136.7h2.8v2.8h-2.8zM185.6 141.7h2.8v2.8h-2.8zM205.6 141.7h2.8v2.8h-2.8zM185.6 146.7h2.8v2.8h-2.8zM205.6 146.7h2.8v2.8h-2.8zM193.1 151.7h2.8v2.8h-2.8zM198.1 151.7h2.8v2.8h-2.8z"/><path fill="#3986bd" d="M193.1 136.7h5.3v2.8h-5.3zM188.1 139.2h2.8v2.8h-2.8z"/><path fill="#3f8dc0" d="M198.1 136.7h2.8v2.8h-2.8zM203.1 139.2h2.8v2.8h-2.8zM185.6 144.2h2.8v2.8h-2.8zM205.6 144.2h2.8v2.8h-2.8zM188.1 149.2h2.8v2.8h-2.8zM203.1 149.2h2.8v2.8h-2.8zM195.6 151.7h2.8v2.8h-2.8z"/><path fill="#9ac9e0" d="M183.1 139.2h2.8v2.8h-2.8zM208.1 139.2h2.8v2.8h-2.8zM208.1 149.2h2.8v2.8h-2.8z"/><path fill="#2f78b5" d="M190.6 139.2h2.8v2.8h-2.8zM188.1 141.7h2.8v2.8h-2.8zM188.1 146.7h2.8v2.8h-2.8zM190.6 149.2h2.8v2.8h-2.8z"/><path fill="#2a71b2" d="M193.1 139.2h7.8v2.8h-7.8zM200.6 141.7h2.8v2.8h-2.8zM188.1 144.2h2.8v2.8h-2.8zM200.6 144.2h2.8v2.8h-2.8zM200.6 146.7h2.8v2.8h-2.8zM198.1 149.2h2.8v2.8h-2.8z"/><path fill="#347fb9" d="M200.6 139.2h2.8v2.8h-2.8zM203.1 141.7h2.8v2.8h-2.8zM203.1 144.2h2.8v2.8h-2.8zM203.1 146.7h2.8v2.8h-2.8zM200.6 149.2h2.8v2.8h-2.8z"/><path fill="#f9eee8" d="M173.1 141.7h2.8v2.8h-2.8zM175.6 144.2h2.8v2.8h-2.8zM218.1 144.2h2.8v2.8h-2.8zM190.6 156.7h2.8v2.8h-2.8z"/><path fill="#246aae" d="M190.6 141.7h2.8v2.8h-2.8zM198.1 141.7h2.8v2.8h-2.8zM198.1 146.7h2.8v2.8h-2.8zM193.1 149.2h5.3v2.8h-5.3z"/><path fill="#1f63a7" d="M193.1 141.7h5.3v2.8h-5.3zM190.6 144.2h2.8v2.8h-2.8zM198.1 144.2h2.8v2.8h-2.8zM190.6 146.7h2.8v2.8h-2.8z"/><path fill="#f8f3f0" d="M218.1 141.7h2.8v2.8h-2.8zM215.6 144.2h2.8v2.8h-2.8zM193.1 156.7h2.8v2.8h-2.8zM200.6 156.7h2.8v2.8h-2.8z"/><path fill="#fbe6d9" d="M173.1 144.2h2.8v2.8h-2.8zM218.1 146.7h2.8v2.8h-2.8zM188.1 156.7h2.8v2.8h-2.8zM205.6 156.7h2.8v2.8h-2.8z"/><path fill="#165290" d="M193.1 144.2h2.8v2.8h-2.8z"/><path fill="#1b5a9c" d="M195.6 144.2h2.8v2.8h-2.8zM193.1 146.7h5.3v2.8h-5.3z"/><path fill="#aed3e6" d="M210.6 144.2h2.8v2.8h-2.8zM193.1 154.2h7.8v2.8h-7.8z"/><path fill="#fdddca" d="M173.1 146.7h2.8v2.8h-2.8zM215.6 149.2h5.3v2.8h-5.3zM178.1 151.7h2.8v2.8h-2.8zM208.1 156.7h2.8v2.8h-2.8z"/><path fill="#fce1d2" d="M175.6 146.7h2.8v2.8h-2.8zM180.6 154.2h2.8v2.8h-2.8zM185.6 156.7h2.8v2.8h-2.8z"/><path fill="#faeae0" d="M215.6 146.7h2.8v2.8h-2.8zM178.1 149.2h2.8v2.8h-2.8zM213.1 151.7h2.8v2.8h-2.8zM210.6 154.2h2.8v2.8h-2.8zM203.1 156.7h2.8v2.8h-2.8z"/><path fill="#f9c5ab" d="M173.1 149.2h2.8v2.8h-2.8zM218.1 151.7h2.8v2.8h-2.8zM180.6 156.7h2.8v2.8h-2.8zM195.6 159.2h10.3v2.8h-10.3z"/><path fill="#fbceb6" d="M175.6 149.2h2.8v2.8h-2.8zM215.6 151.7h2.8v2.8h-2.8zM213.1 154.2h2.8v2.8h-2.8zM210.6 156.7h2.8v2.8h-2.8z"/><path fill="#f7b495" d="M173.1 151.7h5.3v2.8h-5.3zM213.1 156.7h2.8v2.8h-2.8zM190.6 159.2h2.8v2.8h-2.8zM210.6 159.2h2.8v2.8h-2.8z"/><path fill="#529cc8" d="M190.6 151.7h2.8v2.8h-2.8z"/><path fill="#ee9878" d="M173.1 154.2h5.3v2.8h-5.3zM213.1 159.2h2.8v2.8h-2.8zM198.1 161.7h12.8v2.8h-12.8zM205.6 164.2h5.3v2.8h-5.3zM208.1 166.7h2.8v2.8h-2.8zM208.1 169.2h2.8v2.8h-2.8z"/><path fill="#f8bda0" d="M178.1 154.2h2.8v2.8h-2.8zM193.1 159.2h2.8v2.8h-2.8zM205.6 159.2h5.3v2.8h-5.3z"/><path fill="#f3a380" d="M215.6 154.2h2.8v2.8h-2.8zM178.1 156.7h2.8v2.8h-2.8zM180.6 159.2h2.8v2.8h-2.8zM185.6 159.2h2.8v2.8h-2.8z"/><path fill="#f5ac8b" d="M218.1 154.2h2.8v2.8h-2.8zM183.1 159.2h2.8v2.8h-2.8zM188.1 159.2h2.8v2.8h-2.8z"/><path fill="#ea8d70" d="M173.1 156.7h2.8v2.8h-2.8zM215.6 156.7h5.3v2.8h-5.3zM178.1 159.2h2.8v2.8h-2.8zM195.6 161.7h2.8v2.8h-2.8zM210.6 161.7h2.8v2.8h-2.8zM200.6 164.2h5.3v2.8h-5.3zM210.6 164.2h5.3v2.8h-5.3zM203.1 166.7h5.3v2.8h-5.3zM210.6 166.7h2.8v2.8h-2.8zM203.1 169.2h5.3v2.8h-5.3zM203.1 171.7h2.8v2.8h-2.8z"/><path fill="#e58268" d="M175.6 156.7h2.8v2.8h-2.8zM175.6 159.2h2.8v2.8h-2.8zM215.6 159.2h2.8v2.8h-2.8zM180.6 161.7h2.8v2.8h-2.8zM213.1 161.7h2.8v2.8h-2.8zM178.1 164.2h2.8v2.8h-2.8zM198.1 164.2h2.8v2.8h-2.8z"/><path fill="#fcd6c1" d="M183.1 156.7h2.8v2.8h-2.8z"/><path fill="#e0785f" d="M175.6 161.7h5.3v2.8h-5.3zM183.1 161.7h2.8v2.8h-2.8zM193.1 161.7h2.8v2.8h-2.8zM180.6 164.2h2.8v2.8h-2.8zM195.6 164.2h2.8v2.8h-2.8zM180.6 166.7h2.8v2.8h-2.8zM200.6 166.7h2.8v2.8h-2.8zM200.6 171.7h2.8v2.8h-2.8z"/><path fill="#d7624f" d="M185.6 161.7h2.8v2.8h-2.8zM190.6 161.7h2.8v2.8h-2.8zM183.1 164.2h2.8v2.8h-2.8zM183.1 166.7h2.8v2.8h-2.8zM195.6 166.7h5.3v2.8h-5.3zM188.1 171.7h2.8v2.8h-2.8z"/><path fill="#d25749" d="M188.1 161.7h2.8v2.8h-2.8zM193.1 164.2h2.8v2.8h-2.8zM193.1 169.2h7.8v2.8h-7.8z"/><path fill="#dc6d57" d="M215.6 161.7h2.8v2.8h-2.8zM183.1 169.2h2.8v2.8h-2.8zM200.6 169.2h2.8v2.8h-2.8zM190.6 171.7h10.3v2.8h-10.3z"/><path fill="#c6403e" d="M185.6 164.2h2.8v2.8h-2.8zM190.6 164.2h2.8v2.8h-2.8zM185.6 166.7h2.8v2.8h-2.8zM188.1 169.2h2.8v2.8h-2.8z"/><path fill="#c13539" d="M188.1 164.2h2.8v2.8h-2.8zM190.6 166.7h2.8v2.8h-2.8z"/><path fill="#bb2a34" d="M188.1 166.7h2.8v2.8h-2.8z"/><path fill="#cc4c43" d="M193.1 166.7h2.8v2.8h-2.8zM185.6 169.2h2.8v2.8h-2.8zM190.6 169.2h2.8v2.8h-2.8z"/></g></g>
<path d="M196.8 132.9h0M191.3 133.9h0M202.1 133.9h0M186.7 136.3h0M190.5 136.3h0M203.1 136.3h0M206.9 136.3h0M182.9 140.1h0M186.4 140.1h0M189.9 140.1h0M193.4 140.1h0M196.9 140.1h0M200.4 140.1h0M203.9 140.1h0M207.4 140.1h0M210.9 140.1h0M180.3 144.9h0M184.5 144.9h0M188.6 144.9h0M192.7 144.9h0M196.8 144.9h0M200.9 144.9h0M205.0 144.9h0M209.1 144.9h0M213.3 144.9h0M179.7 150.4h0M184.0 150.4h0M188.3 150.4h0M192.6 150.4h0M196.9 150.4h0M201.2 150.4h0M205.5 150.4h0M209.8 150.4h0M214.1 150.4h0M178.7 155.5h0M182.3 155.5h0M185.9 155.5h0M189.5 155.5h0M193.1 155.5h0M196.7 155.5h0M200.3 155.5h0M203.9 155.5h0M207.5 155.5h0M211.1 155.5h0M214.7 155.5h0M182.9 160.3h0M186.4 160.3h0M189.9 160.3h0M193.4 160.3h0M196.9 160.3h0M200.4 160.3h0M203.9 160.3h0M207.4 160.3h0M210.9 160.3h0M186.7 164.1h0M190.5 164.1h0M196.8 164.1h0M203.1 164.1h0M206.9 164.1h0M191.3 166.9h0M202.1 166.9h0M196.8 167.7h0M196.8 169.4h0" stroke="#1a1a1a" stroke-width="0.9" stroke-linecap="round"/>
<path d="M192.90,129.66 L196.80,125.92 L200.70,129.66" fill="none" stroke="#222" stroke-width="0.7"/>
<path d="M175.81,147.23 L174.29,147.23 Q173.27,147.23 173.27,149.18 L173.15,154.51 Q173.02,156.94 174.54,156.94 L175.81,156.94" fill="#fff" stroke="#222" stroke-width="0.63"/>
<path d="M217.79,147.23 L219.31,147.23 Q220.33,147.23 220.33,149.18 L220.45,154.51 Q220.58,156.94 219.06,156.94 L217.79,156.94" fill="#fff" stroke="#222" stroke-width="0.63"/>
<circle cx="196.8" cy="150.4" r="21.1" fill="none" stroke="#222" stroke-width="0.7"/>
<g clip-path="url(#tc6)"><g filter="url(#tb6)"><path fill="#f8f3f0" d="M290.4 126.5h2.8v2.8h-2.8zM305.4 126.5h2.8v2.8h-2.8zM287.9 129.0h2.8v2.8h-2.8zM307.9 129.0h2.8v2.8h-2.8zM287.9 131.5h2.8v2.8h-2.8zM307.9 131.5h2.8v2.8h-2.8zM285.4 134.0h2.8v2.8h-2.8zM307.9 134.0h2.8v2.8h-2.8zM310.4 139.0h2.8v2.8h-2.8zM312.9 144.0h2.8v2.8h-2.8z"/><path fill="#faeae0" d="M292.9 126.5h2.8v2.8h-2.8zM302.9 126.5h2.8v2.8h-2.8zM290.4 129.0h2.8v2.8h-2.8zM305.4 129.0h2.8v2.8h-2.8zM305.4 131.5h2.8v2.8h-2.8zM312.9 151.5h2.8v2.8h-2.8zM307.9 159.0h2.8v2.8h-2.8z"/><path fill="#fbe6d9" d="M295.4 126.5h7.8v2.8h-7.8zM290.4 131.5h2.8v2.8h-2.8zM285.4 136.5h2.8v2.8h-2.8zM307.9 136.5h2.8v2.8h-2.8zM310.4 156.5h2.8v2.8h-2.8zM302.9 161.5h2.8v2.8h-2.8z"/><path fill="#f1f4f6" d="M285.4 129.0h2.8v2.8h-2.8zM310.4 129.0h2.8v2.8h-2.8zM285.4 131.5h2.8v2.8h-2.8zM310.4 131.5h2.8v2.8h-2.8zM282.9 134.0h2.8v2.8h-2.8zM310.4 134.0h2.8v2.8h-2.8zM282.9 139.0h2.8v2.8h-2.8zM295.4 164.0h2.8v2.8h-2.8zM300.4 164.0h2.8v2.8h-2.8z"/><path fill="#fce1d2" d="M292.9 129.0h2.8v2.8h-2.8zM302.9 129.0h2.8v2.8h-2.8zM287.9 134.0h2.8v2.8h-2.8zM305.4 134.0h2.8v2.8h-2.8zM312.9 146.5h2.8v2.8h-2.8zM312.9 149.0h2.8v2.8h-2.8zM290.4 161.5h2.8v2.8h-2.8zM300.4 161.5h2.8v2.8h-2.8z"/><path fill="#fcd6c1" d="M295.4 129.0h7.8v2.8h-7.8zM292.9 131.5h2.8v2.8h-2.8zM282.9 141.5h2.8v2.8h-2.8zM305.4 159.0h2.8v2.8h-2.8zM295.4 161.5h5.3v2.8h-5.3z"/><path fill="#ebf1f5" d="M282.9 131.5h2.8v2.8h-2.8zM312.9 131.5h2.8v2.8h-2.8zM280.4 134.0h2.8v2.8h-2.8zM312.9 134.0h5.3v2.8h-5.3zM312.9 154.0h2.8v2.8h-2.8zM282.9 156.5h2.8v2.8h-2.8z"/><path fill="#f9c5ab" d="M295.4 131.5h2.8v2.8h-2.8zM290.4 134.0h2.8v2.8h-2.8zM302.9 134.0h2.8v2.8h-2.8zM282.9 154.0h2.8v2.8h-2.8zM307.9 156.5h2.8v2.8h-2.8z"/><path fill="#f8bda0" d="M297.9 131.5h2.8v2.8h-2.8zM310.4 141.5h2.8v2.8h-2.8zM287.9 159.0h2.8v2.8h-2.8z"/><path fill="#fbceb6" d="M300.4 131.5h2.8v2.8h-2.8zM310.4 154.0h2.8v2.8h-2.8z"/><path fill="#fdddca" d="M302.9 131.5h2.8v2.8h-2.8zM292.9 161.5h2.8v2.8h-2.8z"/><path fill="#f3a380" d="M292.9 134.0h2.8v2.8h-2.8zM300.4 134.0h2.8v2.8h-2.8zM285.4 139.0h2.8v2.8h-2.8zM310.4 151.5h2.8v2.8h-2.8z"/><path fill="#ea8d70" d="M295.4 134.0h5.3v2.8h-5.3zM310.4 149.0h2.8v2.8h-2.8zM300.4 159.0h2.8v2.8h-2.8z"/><path fill="#b7d8e9" d="M277.9 136.5h2.8v2.8h-2.8zM315.4 136.5h5.3v2.8h-5.3zM312.9 139.0h2.8v2.8h-2.8zM280.4 154.0h2.8v2.8h-2.8zM305.4 164.0h2.8v2.8h-2.8z"/><path fill="#c1ddec" d="M280.4 136.5h2.8v2.8h-2.8zM312.9 136.5h2.8v2.8h-2.8zM312.9 156.5h2.8v2.8h-2.8zM290.4 164.0h2.8v2.8h-2.8z"/><path fill="#dfecf3" d="M282.9 136.5h2.8v2.8h-2.8zM292.9 164.0h2.8v2.8h-2.8zM302.9 164.0h2.8v2.8h-2.8z"/><path fill="#f5ac8b" d="M287.9 136.5h2.8v2.8h-2.8zM307.9 139.0h2.8v2.8h-2.8z"/><path fill="#d7624f" d="M290.4 136.5h2.8v2.8h-2.8zM305.4 139.0h2.8v2.8h-2.8zM307.9 141.5h2.8v2.8h-2.8z"/><path fill="#c6403e" d="M292.9 136.5h2.8v2.8h-2.8zM307.9 151.5h2.8v2.8h-2.8zM285.4 154.0h2.8v2.8h-2.8zM302.9 156.5h2.8v2.8h-2.8z"/><path fill="#bb2a34" d="M295.4 136.5h2.8v2.8h-2.8zM287.9 139.0h2.8v2.8h-2.8zM285.4 141.5h2.8v2.8h-2.8zM305.4 154.0h2.8v2.8h-2.8z"/><path fill="#c13539" d="M297.9 136.5h2.8v2.8h-2.8zM307.9 144.0h2.8v2.8h-2.8z"/><path fill="#cc4c43" d="M300.4 136.5h2.8v2.8h-2.8zM282.9 146.5h2.8v2.8h-2.8zM282.9 149.0h2.8v2.8h-2.8z"/><path fill="#e58268" d="M302.9 136.5h2.8v2.8h-2.8zM282.9 144.0h2.8v2.8h-2.8zM310.4 146.5h2.8v2.8h-2.8zM307.9 154.0h2.8v2.8h-2.8zM305.4 156.5h2.8v2.8h-2.8z"/><path fill="#f7b495" d="M305.4 136.5h2.8v2.8h-2.8zM302.9 159.0h2.8v2.8h-2.8z"/><path fill="#e5eff4" d="M310.4 136.5h2.8v2.8h-2.8zM280.4 151.5h2.8v2.8h-2.8zM287.9 161.5h2.8v2.8h-2.8z"/><path fill="#77b4d5" d="M277.9 139.0h2.8v2.8h-2.8zM315.4 144.0h2.8v2.8h-2.8zM312.9 159.0h2.8v2.8h-2.8zM307.9 164.0h2.8v2.8h-2.8z"/><path fill="#90c3dd" d="M280.4 139.0h2.8v2.8h-2.8zM315.4 146.5h2.8v2.8h-2.8zM310.4 161.5h2.8v2.8h-2.8zM295.4 166.5h2.8v2.8h-2.8zM300.4 166.5h2.8v2.8h-2.8z"/><path fill="#960f26" d="M290.4 139.0h2.8v2.8h-2.8zM285.4 151.5h2.8v2.8h-2.8zM287.9 154.0h2.8v2.8h-2.8zM292.9 156.5h2.8v2.8h-2.8zM297.9 156.5h2.8v2.8h-2.8z"/><path fill="#730421" d="M292.9 139.0h2.8v2.8h-2.8zM287.9 141.5h2.8v2.8h-2.8zM305.4 144.0h2.8v2.8h-2.8zM285.4 149.0h2.8v2.8h-2.8z"/><path fill="#67001f" d="M295.4 139.0h5.3v2.8h-5.3zM290.4 141.5h15.3v2.8h-15.3zM287.9 144.0h17.8v2.8h-17.8zM285.4 146.5h22.8v2.8h-22.8zM287.9 149.0h20.3v2.8h-20.3zM287.9 151.5h17.8v2.8h-17.8zM290.4 154.0h12.8v2.8h-12.8z"/><path fill="#7e0823" d="M300.4 139.0h2.8v2.8h-2.8zM305.4 151.5h2.8v2.8h-2.8zM302.9 154.0h2.8v2.8h-2.8z"/><path fill="#b51f2e" d="M302.9 139.0h2.8v2.8h-2.8zM307.9 149.0h2.8v2.8h-2.8zM290.4 156.5h2.8v2.8h-2.8z"/><path fill="#6aacd0" d="M315.4 139.0h5.3v2.8h-5.3zM315.4 151.5h2.8v2.8h-2.8zM292.9 166.5h2.8v2.8h-2.8zM302.9 166.5h2.8v2.8h-2.8z"/><path fill="#2f78b5" d="M275.4 141.5h2.8v2.8h-2.8zM275.4 144.0h2.8v2.8h-2.8zM275.4 146.5h2.8v2.8h-2.8zM275.4 149.0h2.8v2.8h-2.8zM275.4 151.5h2.8v2.8h-2.8zM277.9 156.5h2.8v2.8h-2.8zM280.4 159.0h2.8v2.8h-2.8z"/><path fill="#3986bd" d="M277.9 141.5h2.8v2.8h-2.8zM277.9 151.5h2.8v2.8h-2.8zM315.4 156.5h2.8v2.8h-2.8zM282.9 161.5h2.8v2.8h-2.8z"/><path fill="#9ac9e0" d="M280.4 141.5h2.8v2.8h-2.8zM282.9 159.0h2.8v2.8h-2.8zM285.4 161.5h2.8v2.8h-2.8zM297.9 166.5h2.8v2.8h-2.8z"/><path fill="#ad162a" d="M305.4 141.5h2.8v2.8h-2.8zM307.9 146.5h2.8v2.8h-2.8zM300.4 156.5h2.8v2.8h-2.8z"/><path fill="#d3e6f0" d="M312.9 141.5h2.8v2.8h-2.8z"/><path fill="#4595c4" d="M315.4 141.5h2.8v2.8h-2.8zM277.9 146.5h2.8v2.8h-2.8zM277.9 149.0h2.8v2.8h-2.8zM290.4 166.5h2.8v2.8h-2.8zM305.4 166.5h2.8v2.8h-2.8z"/><path fill="#2a71b2" d="M317.9 141.5h5.3v2.8h-5.3zM275.4 154.0h2.8v2.8h-2.8zM275.4 156.5h2.8v2.8h-2.8zM277.9 159.0h2.8v2.8h-2.8zM315.4 159.0h2.8v2.8h-2.8zM277.9 161.5h5.3v2.8h-5.3zM315.4 161.5h5.3v2.8h-5.3zM280.4 164.0h5.3v2.8h-5.3zM312.9 164.0h5.3v2.8h-5.3zM282.9 166.5h7.8v2.8h-7.8zM307.9 166.5h7.8v2.8h-7.8zM285.4 169.0h27.8v2.8h-27.8zM290.4 171.5h17.8v2.8h-17.8z"/><path fill="#3f8dc0" d="M277.9 144.0h2.8v2.8h-2.8z"/><path fill="#d9e9f2" d="M280.4 144.0h2.8v2.8h-2.8zM310.4 159.0h2.8v2.8h-2.8zM307.9 161.5h2.8v2.8h-2.8z"/><path fill="#8a0b25" d="M285.4 144.0h2.8v2.8h-2.8zM295.4 156.5h2.8v2.8h-2.8z"/><path fill="#ee9878" d="M310.4 144.0h2.8v2.8h-2.8zM285.4 156.5h2.8v2.8h-2.8zM290.4 159.0h2.8v2.8h-2.8z"/><path fill="#246aae" d="M317.9 144.0h5.3v2.8h-5.3zM317.9 159.0h2.8v2.8h-2.8z"/><path fill="#f7f7f7" d="M280.4 146.5h2.8v2.8h-2.8zM280.4 149.0h2.8v2.8h-2.8zM285.4 159.0h2.8v2.8h-2.8zM297.9 164.0h2.8v2.8h-2.8z"/><path fill="#165290" d="M317.9 146.5h2.8v2.8h-2.8zM320.4 149.0h2.8v2.8h-2.8zM320.4 151.5h2.8v2.8h-2.8z"/><path fill="#1f63a7" d="M320.4 146.5h2.8v2.8h-2.8zM320.4 156.5h2.8v2.8h-2.8z"/><path fill="#83bcd9" d="M315.4 149.0h2.8v2.8h-2.8zM287.9 164.0h2.8v2.8h-2.8z"/><path fill="#053061" d="M317.9 149.0h2.8v2.8h-2.8zM317.9 151.5h2.8v2.8h-2.8z"/><path fill="#e0785f" d="M282.9 151.5h2.8v2.8h-2.8zM292.9 159.0h2.8v2.8h-2.8z"/><path fill="#347fb9" d="M277.9 154.0h2.8v2.8h-2.8zM312.9 161.5h2.8v2.8h-2.8zM285.4 164.0h2.8v2.8h-2.8zM310.4 164.0h2.8v2.8h-2.8z"/><path fill="#529cc8" d="M315.4 154.0h2.8v2.8h-2.8z"/><path fill="#09386d" d="M317.9 154.0h2.8v2.8h-2.8z"/><path fill="#1b5a9c" d="M320.4 154.0h2.8v2.8h-2.8zM317.9 156.5h2.8v2.8h-2.8z"/><path fill="#5ea4cc" d="M280.4 156.5h2.8v2.8h-2.8z"/><path fill="#d25749" d="M287.9 156.5h2.8v2.8h-2.8z"/><path fill="#dc6d57" d="M295.4 159.0h5.3v2.8h-5.3z"/><path fill="#f9eee8" d="M305.4 161.5h2.8v2.8h-2.8z"/></g></g>
<path d="M299.2 132.7h0M293.7 133.8h0M304.5 133.8h0M289.1 136.1h0M292.9 136.1h0M305.5 136.1h0M309.3 136.1h0M285.3 139.9h0M288.8 139.9h0M292.3 139.9h0M295.8 139.9h0M299.3 139.9h0M302.8 139.9h0M306.3 139.9h0M309.8 139.9h0M313.3 139.9h0M282.7 144.8h0M286.9 144.8h0M291.0 144.8h0M295.1 144.8h0M299.2 144.8h0M303.3 144.8h0M307.4 144.8h0M311.5 144.8h0M315.7 144.8h0M282.1 150.2h0M286.4 150.2h0M290.7 150.2h0M295.0 150.2h0M299.3 150.2h0M303.6 150.2h0M307.9 150.2h0M312.2 150.2h0M316.5 150.2h0M281.1 155.3h0M284.7 155.3h0M288.3 155.3h0M291.9 155.3h0M295.5 155.3h0M299.1 155.3h0M302.7 155.3h0M306.3 155.3h0M309.9 155.3h0M313.5 155.3h0M317.1 155.3h0M285.3 160.2h0M288.8 160.2h0M292.3 160.2h0M295.8 160.2h0M299.3 160.2h0M302.8 160.2h0M306.3 160.2h0M309.8 160.2h0M313.3 160.2h0M289.1 164.0h0M292.9 164.0h0M299.2 164.0h0M305.5 164.0h0M309.3 164.0h0M293.7 166.7h0M304.5 166.7h0M299.2 167.6h0M299.2 169.2h0" stroke="#1a1a1a" stroke-width="0.9" stroke-linecap="round"/>
<path d="M295.30,129.51 L299.20,125.77 L303.10,129.51" fill="none" stroke="#222" stroke-width="0.7"/>
<path d="M278.21,147.08 L276.69,147.08 Q275.67,147.08 275.67,149.03 L275.55,154.36 Q275.42,156.79 276.94,156.79 L278.21,156.79" fill="#fff" stroke="#222" stroke-width="0.63"/>
<path d="M320.19,147.08 L321.71,147.08 Q322.73,147.08 322.73,149.03 L322.85,154.36 Q322.98,156.79 321.46,156.79 L320.19,156.79" fill="#fff" stroke="#222" stroke-width="0.63"/>
<circle cx="299.2" cy="150.25" r="21.1" fill="none" stroke="#222" stroke-width="0.7"/>
<text x="93.7" y="123.0" font-size="8" text-anchor="middle" fill="#1c1c1c">0.020 – 0.040 s</text>
<text x="196.5" y="123.0" font-size="8" text-anchor="middle" fill="#1c1c1c">0.080 – 0.100 s</text>
<text x="299.0" y="123.0" font-size="8" text-anchor="middle" fill="#1c1c1c">0.160 – 0.180 s</text>
<g clip-path="url(#tc7)"><g filter="url(#tb7)"><path fill="#e58268" d="M29.1 324.0h25.5v3.1h-25.5zM34.7 326.8h3.1v3.1h-3.1zM45.9 326.8h14.3v3.1h-14.3zM54.3 329.6h8.7v3.1h-8.7zM57.1 332.4h8.7v3.1h-8.7zM51.5 335.2h5.9v3.1h-5.9zM59.9 335.2h8.7v3.1h-8.7zM62.7 338.0h5.9v3.1h-5.9zM65.5 340.8h5.9v3.1h-5.9zM65.5 343.6h5.9v3.1h-5.9zM68.3 346.4h3.1v3.1h-3.1zM68.3 349.2h3.1v3.1h-3.1zM68.3 352.0h3.1v3.1h-3.1zM68.3 354.8h3.1v3.1h-3.1zM68.3 357.6h3.1v3.1h-3.1zM68.3 360.4h3.1v3.1h-3.1zM12.3 363.2h3.1v3.1h-3.1zM17.9 363.2h3.1v3.1h-3.1zM65.5 363.2h5.9v3.1h-5.9zM62.7 366.0h5.9v3.1h-5.9zM15.1 368.8h8.7v3.1h-8.7zM62.7 368.8h5.9v3.1h-5.9zM17.9 371.6h8.7v3.1h-8.7zM57.1 371.6h8.7v3.1h-8.7zM20.7 374.4h8.7v3.1h-8.7zM54.3 374.4h8.7v3.1h-8.7zM23.5 377.2h14.3v3.1h-14.3zM45.9 377.2h14.3v3.1h-14.3zM29.1 380.0h25.5v3.1h-25.5z"/><path fill="#dc6d57" d="M23.5 326.8h5.9v3.1h-5.9zM12.3 340.8h3.1v3.1h-3.1zM15.1 346.4h3.1v3.1h-3.1zM15.1 352.0h3.1v3.1h-3.1zM15.1 360.4h3.1v3.1h-3.1z"/><path fill="#e0785f" d="M29.1 326.8h5.9v3.1h-5.9zM29.1 338.0h3.1v3.1h-3.1zM12.3 343.6h3.1v3.1h-3.1zM20.7 343.6h3.1v3.1h-3.1zM12.3 346.4h3.1v3.1h-3.1zM12.3 349.2h5.9v3.1h-5.9zM12.3 352.0h3.1v3.1h-3.1zM12.3 354.8h3.1v3.1h-3.1zM12.3 357.6h3.1v3.1h-3.1zM12.3 360.4h3.1v3.1h-3.1zM15.1 363.2h3.1v3.1h-3.1zM15.1 366.0h5.9v3.1h-5.9z"/><path fill="#ea8d70" d="M37.5 326.8h3.1v3.1h-3.1zM43.1 326.8h3.1v3.1h-3.1zM51.5 338.0h5.9v3.1h-5.9zM65.5 346.4h3.1v3.1h-3.1zM17.9 354.8h3.1v3.1h-3.1zM17.9 357.6h3.1v3.1h-3.1zM17.9 360.4h3.1v3.1h-3.1zM65.5 360.4h3.1v3.1h-3.1zM59.9 368.8h3.1v3.1h-3.1zM37.5 377.2h3.1v3.1h-3.1zM43.1 377.2h3.1v3.1h-3.1z"/><path fill="#ee9878" d="M40.3 326.8h3.1v3.1h-3.1zM31.9 329.6h3.1v3.1h-3.1zM51.5 329.6h3.1v3.1h-3.1zM54.3 332.4h3.1v3.1h-3.1zM62.7 340.8h3.1v3.1h-3.1zM17.9 346.4h3.1v3.1h-3.1zM17.9 352.0h3.1v3.1h-3.1zM65.5 357.6h3.1v3.1h-3.1zM29.1 374.4h3.1v3.1h-3.1zM51.5 374.4h3.1v3.1h-3.1zM40.3 377.2h3.1v3.1h-3.1z"/><path fill="#c6403e" d="M20.7 329.6h3.1v3.1h-3.1zM15.1 340.8h3.1v3.1h-3.1z"/><path fill="#bb2a34" d="M23.5 329.6h3.1v3.1h-3.1zM15.1 338.0h3.1v3.1h-3.1z"/><path fill="#c13539" d="M26.3 329.6h3.1v3.1h-3.1zM15.1 335.2h3.1v3.1h-3.1z"/><path fill="#d7624f" d="M29.1 329.6h3.1v3.1h-3.1zM26.3 340.8h3.1v3.1h-3.1zM17.9 343.6h3.1v3.1h-3.1zM15.1 354.8h3.1v3.1h-3.1zM15.1 357.6h3.1v3.1h-3.1z"/><path fill="#f7b495" d="M34.7 329.6h3.1v3.1h-3.1zM51.5 332.4h3.1v3.1h-3.1zM59.9 366.0h3.1v3.1h-3.1zM23.5 368.8h3.1v3.1h-3.1zM57.1 368.8h3.1v3.1h-3.1z"/><path fill="#f9c5ab" d="M37.5 329.6h8.7v3.1h-8.7zM57.1 338.0h3.1v3.1h-3.1zM62.7 360.4h3.1v3.1h-3.1zM29.1 371.6h3.1v3.1h-3.1zM37.5 374.4h8.7v3.1h-8.7z"/><path fill="#f8bda0" d="M45.9 329.6h3.1v3.1h-3.1zM31.9 335.2h3.1v3.1h-3.1zM29.1 340.8h3.1v3.1h-3.1zM62.7 343.6h3.1v3.1h-3.1zM20.7 363.2h3.1v3.1h-3.1zM34.7 374.4h3.1v3.1h-3.1zM45.9 374.4h3.1v3.1h-3.1z"/><path fill="#f5ac8b" d="M48.7 329.6h3.1v3.1h-3.1zM31.9 332.4h3.1v3.1h-3.1zM59.9 338.0h3.1v3.1h-3.1zM23.5 343.6h3.1v3.1h-3.1zM20.7 366.0h3.1v3.1h-3.1zM26.3 371.6h3.1v3.1h-3.1zM54.3 371.6h3.1v3.1h-3.1zM31.9 374.4h3.1v3.1h-3.1zM48.7 374.4h3.1v3.1h-3.1z"/><path fill="#b51f2e" d="M17.9 332.4h3.1v3.1h-3.1z"/><path fill="#7e0823" d="M20.7 332.4h3.1v3.1h-3.1zM17.9 335.2h3.1v3.1h-3.1zM26.3 338.0h3.1v3.1h-3.1z"/><path fill="#67001f" d="M23.5 332.4h3.1v3.1h-3.1zM20.7 335.2h8.7v3.1h-8.7zM17.9 338.0h8.7v3.1h-8.7z"/><path fill="#960f26" d="M26.3 332.4h3.1v3.1h-3.1z"/><path fill="#d25749" d="M29.1 332.4h3.1v3.1h-3.1zM15.1 343.6h3.1v3.1h-3.1z"/><path fill="#fcd6c1" d="M34.7 332.4h3.1v3.1h-3.1zM48.7 332.4h3.1v3.1h-3.1zM62.7 346.4h3.1v3.1h-3.1zM20.7 360.4h3.1v3.1h-3.1zM23.5 366.0h3.1v3.1h-3.1zM26.3 368.8h3.1v3.1h-3.1z"/><path fill="#fce1d2" d="M37.5 332.4h3.1v3.1h-3.1zM45.9 332.4h3.1v3.1h-3.1zM48.7 335.2h3.1v3.1h-3.1zM62.7 349.2h3.1v3.1h-3.1zM20.7 357.6h3.1v3.1h-3.1zM62.7 357.6h3.1v3.1h-3.1zM59.9 363.2h3.1v3.1h-3.1zM48.7 371.6h3.1v3.1h-3.1z"/><path fill="#fbe6d9" d="M40.3 332.4h5.9v3.1h-5.9zM34.7 335.2h3.1v3.1h-3.1zM20.7 349.2h3.1v3.1h-3.1zM20.7 352.0h3.1v3.1h-3.1zM62.7 352.0h3.1v3.1h-3.1zM20.7 354.8h3.1v3.1h-3.1zM62.7 354.8h3.1v3.1h-3.1zM57.1 366.0h3.1v3.1h-3.1zM34.7 371.6h3.1v3.1h-3.1z"/><path fill="#cc4c43" d="M29.1 335.2h3.1v3.1h-3.1z"/><path fill="#f8f3f0" d="M37.5 335.2h5.9v3.1h-5.9zM34.7 338.0h3.1v3.1h-3.1zM31.9 340.8h3.1v3.1h-3.1zM23.5 346.4h3.1v3.1h-3.1zM26.3 366.0h3.1v3.1h-3.1zM51.5 368.8h3.1v3.1h-3.1zM40.3 371.6h3.1v3.1h-3.1z"/><path fill="#f7f7f7" d="M43.1 335.2h5.9v3.1h-5.9zM54.3 340.8h3.1v3.1h-3.1z"/><path fill="#f3a380" d="M57.1 335.2h3.1v3.1h-3.1zM17.9 349.2h3.1v3.1h-3.1zM65.5 349.2h3.1v3.1h-3.1zM65.5 352.0h3.1v3.1h-3.1zM65.5 354.8h3.1v3.1h-3.1zM62.7 363.2h3.1v3.1h-3.1z"/><path fill="#fbceb6" d="M31.9 338.0h3.1v3.1h-3.1zM59.9 340.8h3.1v3.1h-3.1zM20.7 346.4h3.1v3.1h-3.1zM51.5 371.6h3.1v3.1h-3.1z"/><path fill="#f1f4f6" d="M37.5 338.0h3.1v3.1h-3.1zM51.5 340.8h3.1v3.1h-3.1zM29.1 343.6h3.1v3.1h-3.1zM59.9 346.4h3.1v3.1h-3.1zM59.9 360.4h3.1v3.1h-3.1zM31.9 368.8h3.1v3.1h-3.1z"/><path fill="#e5eff4" d="M40.3 338.0h8.7v3.1h-8.7zM48.7 368.8h3.1v3.1h-3.1z"/><path fill="#faeae0" d="M48.7 338.0h3.1v3.1h-3.1zM59.9 343.6h3.1v3.1h-3.1zM29.1 368.8h3.1v3.1h-3.1zM45.9 371.6h3.1v3.1h-3.1z"/><path fill="#a21328" d="M17.9 340.8h3.1v3.1h-3.1zM23.5 340.8h3.1v3.1h-3.1z"/><path fill="#8a0b25" d="M20.7 340.8h3.1v3.1h-3.1z"/><path fill="#d9e9f2" d="M34.7 340.8h3.1v3.1h-3.1zM57.1 343.6h3.1v3.1h-3.1zM59.9 349.2h3.1v3.1h-3.1zM23.5 357.6h3.1v3.1h-3.1zM26.3 363.2h3.1v3.1h-3.1zM37.5 368.8h3.1v3.1h-3.1zM45.9 368.8h3.1v3.1h-3.1z"/><path fill="#b7d8e9" d="M37.5 340.8h3.1v3.1h-3.1zM29.1 346.4h3.1v3.1h-3.1zM26.3 349.2h3.1v3.1h-3.1zM34.7 366.0h3.1v3.1h-3.1z"/><path fill="#aed3e6" d="M40.3 340.8h3.1v3.1h-3.1zM45.9 340.8h3.1v3.1h-3.1zM54.3 343.6h3.1v3.1h-3.1zM57.1 346.4h3.1v3.1h-3.1zM26.3 357.6h3.1v3.1h-3.1zM48.7 366.0h3.1v3.1h-3.1z"/><path fill="#a4cee3" d="M43.1 340.8h3.1v3.1h-3.1zM31.9 363.2h3.1v3.1h-3.1zM37.5 366.0h3.1v3.1h-3.1z"/><path fill="#cbe2ee" d="M48.7 340.8h3.1v3.1h-3.1zM59.9 352.0h3.1v3.1h-3.1zM31.9 366.0h3.1v3.1h-3.1z"/><path fill="#f9eee8" d="M57.1 340.8h3.1v3.1h-3.1zM23.5 363.2h3.1v3.1h-3.1zM37.5 371.6h3.1v3.1h-3.1zM43.1 371.6h3.1v3.1h-3.1z"/><path fill="#fdddca" d="M26.3 343.6h3.1v3.1h-3.1zM54.3 368.8h3.1v3.1h-3.1zM31.9 371.6h3.1v3.1h-3.1z"/><path fill="#c1ddec" d="M31.9 343.6h3.1v3.1h-3.1zM59.9 354.8h3.1v3.1h-3.1zM26.3 360.4h3.1v3.1h-3.1zM29.1 363.2h3.1v3.1h-3.1zM51.5 366.0h3.1v3.1h-3.1z"/><path fill="#90c3dd" d="M34.7 343.6h3.1v3.1h-3.1zM57.1 349.2h3.1v3.1h-3.1zM57.1 360.4h3.1v3.1h-3.1zM54.3 363.2h3.1v3.1h-3.1z"/><path fill="#6aacd0" d="M37.5 343.6h3.1v3.1h-3.1zM29.1 352.0h3.1v3.1h-3.1zM57.1 352.0h3.1v3.1h-3.1zM29.1 354.8h3.1v3.1h-3.1zM37.5 363.2h3.1v3.1h-3.1zM51.5 363.2h3.1v3.1h-3.1z"/><path fill="#5ea4cc" d="M40.3 343.6h8.7v3.1h-8.7zM34.7 346.4h3.1v3.1h-3.1zM51.5 346.4h3.1v3.1h-3.1zM54.3 349.2h3.1v3.1h-3.1zM40.3 363.2h3.1v3.1h-3.1z"/><path fill="#77b4d5" d="M48.7 343.6h3.1v3.1h-3.1zM29.1 357.6h3.1v3.1h-3.1zM31.9 360.4h3.1v3.1h-3.1z"/><path fill="#9ac9e0" d="M51.5 343.6h3.1v3.1h-3.1zM26.3 352.0h3.1v3.1h-3.1zM26.3 354.8h3.1v3.1h-3.1zM29.1 360.4h3.1v3.1h-3.1zM40.3 366.0h8.7v3.1h-8.7z"/><path fill="#dfecf3" d="M26.3 346.4h3.1v3.1h-3.1zM23.5 349.2h3.1v3.1h-3.1zM57.1 363.2h3.1v3.1h-3.1zM29.1 366.0h3.1v3.1h-3.1zM34.7 368.8h3.1v3.1h-3.1z"/><path fill="#83bcd9" d="M31.9 346.4h3.1v3.1h-3.1zM54.3 346.4h3.1v3.1h-3.1zM29.1 349.2h3.1v3.1h-3.1zM34.7 363.2h3.1v3.1h-3.1z"/><path fill="#4595c4" d="M37.5 346.4h3.1v3.1h-3.1zM48.7 346.4h3.1v3.1h-3.1zM31.9 352.0h3.1v3.1h-3.1zM31.9 354.8h3.1v3.1h-3.1zM57.1 354.8h3.1v3.1h-3.1zM37.5 360.4h3.1v3.1h-3.1z"/><path fill="#3f8dc0" d="M40.3 346.4h8.7v3.1h-8.7zM34.7 349.2h3.1v3.1h-3.1zM51.5 349.2h3.1v3.1h-3.1zM34.7 352.0h3.1v3.1h-3.1zM34.7 354.8h3.1v3.1h-3.1zM34.7 357.6h3.1v3.1h-3.1zM57.1 357.6h3.1v3.1h-3.1zM40.3 360.4h3.1v3.1h-3.1z"/><path fill="#529cc8" d="M31.9 349.2h3.1v3.1h-3.1zM31.9 357.6h3.1v3.1h-3.1zM34.7 360.4h3.1v3.1h-3.1zM43.1 363.2h8.7v3.1h-8.7z"/><path fill="#3986bd" d="M37.5 349.2h14.3v3.1h-14.3zM37.5 352.0h5.9v3.1h-5.9zM54.3 352.0h3.1v3.1h-3.1zM37.5 354.8h3.1v3.1h-3.1zM37.5 357.6h5.9v3.1h-5.9zM43.1 360.4h3.1v3.1h-3.1z"/><path fill="#d3e6f0" d="M23.5 352.0h3.1v3.1h-3.1zM23.5 354.8h3.1v3.1h-3.1zM59.9 357.6h3.1v3.1h-3.1zM40.3 368.8h5.9v3.1h-5.9z"/><path fill="#347fb9" d="M43.1 352.0h3.1v3.1h-3.1zM40.3 354.8h3.1v3.1h-3.1zM54.3 360.4h3.1v3.1h-3.1z"/><path fill="#2f78b5" d="M45.9 352.0h3.1v3.1h-3.1zM43.1 354.8h3.1v3.1h-3.1zM43.1 357.6h3.1v3.1h-3.1z"/><path fill="#2a71b2" d="M48.7 352.0h5.9v3.1h-5.9zM45.9 360.4h3.1v3.1h-3.1z"/><path fill="#1f63a7" d="M45.9 354.8h3.1v3.1h-3.1zM48.7 360.4h5.9v3.1h-5.9z"/><path fill="#0e4178" d="M48.7 354.8h3.1v3.1h-3.1z"/><path fill="#09386d" d="M51.5 354.8h3.1v3.1h-3.1z"/><path fill="#1b5a9c" d="M54.3 354.8h3.1v3.1h-3.1zM45.9 357.6h3.1v3.1h-3.1z"/><path fill="#053061" d="M48.7 357.6h5.9v3.1h-5.9z"/><path fill="#124984" d="M54.3 357.6h3.1v3.1h-3.1z"/><path fill="#ebf1f5" d="M23.5 360.4h3.1v3.1h-3.1zM54.3 366.0h3.1v3.1h-3.1z"/></g></g>
<path d="M41.7 331.4h0M34.8 332.7h0M48.3 332.7h0M29.0 335.6h0M33.8 335.6h0M49.7 335.6h0M54.4 335.6h0M24.2 340.4h0M28.6 340.4h0M33.0 340.4h0M37.4 340.4h0M41.8 340.4h0M46.2 340.4h0M50.6 340.4h0M55.0 340.4h0M59.5 340.4h0M21.0 346.5h0M26.2 346.5h0M31.4 346.5h0M36.5 346.5h0M41.7 346.5h0M46.9 346.5h0M52.0 346.5h0M57.2 346.5h0M62.4 346.5h0M20.2 353.4h0M25.6 353.4h0M31.0 353.4h0M36.4 353.4h0M41.8 353.4h0M47.2 353.4h0M52.6 353.4h0M58.0 353.4h0M63.4 353.4h0M18.9 359.8h0M23.4 359.8h0M28.0 359.8h0M32.5 359.8h0M37.0 359.8h0M41.6 359.8h0M46.1 359.8h0M50.6 359.8h0M55.2 359.8h0M59.7 359.8h0M64.2 359.8h0M24.2 365.9h0M28.6 365.9h0M33.0 365.9h0M37.4 365.9h0M41.8 365.9h0M46.2 365.9h0M50.6 365.9h0M55.0 365.9h0M59.5 365.9h0M29.0 370.6h0M33.8 370.6h0M41.7 370.6h0M49.7 370.6h0M54.4 370.6h0M34.8 374.1h0M48.3 374.1h0M41.7 375.1h0M41.7 377.2h0" stroke="#1a1a1a" stroke-width="0.84" stroke-linecap="round"/>
<path d="M36.40,327.44 L41.70,322.66 L47.00,327.44" fill="none" stroke="#222" stroke-width="0.7"/>
<path d="M15.33,349.16 L13.74,349.16 Q12.68,349.16 12.68,351.44 L12.55,357.71 Q12.42,360.55 14.01,360.55 L15.33,360.55" fill="#fff" stroke="#222" stroke-width="0.63"/>
<path d="M68.07,349.16 L69.66,349.16 Q70.72,349.16 70.72,351.44 L70.85,357.71 Q70.98,360.55 69.39,360.55 L68.07,360.55" fill="#fff" stroke="#222" stroke-width="0.63"/>
<circle cx="41.7" cy="353.4" r="26.5" fill="none" stroke="#222" stroke-width="0.7"/>
<g transform="translate(0.0 0)"><path d="M140.6 8.5 C136 6.2 128 10 125 19 C123 27 123.5 37 128.5 43.5 C132.5 47.8 139 47.5 140.6 45 Z" fill="url(#brtex)" stroke="#c8c8c8" stroke-width="0.9"/><g clip-path="url(#bc1)"><g filter="url(#brbl)"><ellipse cx="140.2" cy="24" rx="1.6" ry="9" fill="#e86040" fill-opacity="0.5"/></g></g></g>
<g transform="translate(0.0 0)"><path d="M 164.4 8.5 C 169.0 6.2 177.0 10.0 180.0 19.0 C 182.0 27.0 181.5 37.0 176.5 43.5 C 172.5 47.8 166.0 47.5 164.4 45.0 Z" fill="url(#brtex)" stroke="#c8c8c8" stroke-width="0.9"/><g clip-path="url(#bc2)"><g filter="url(#brbl)"><ellipse cx="164.8" cy="30" rx="1.2" ry="6" fill="#e86040" fill-opacity="0.35"/></g></g></g>
<g transform="translate(0.0 0)"><path d="M111 62 C110.5 54 118 48.8 130 48.5 C142 48.3 150 53.5 151.7 61.5 C152.2 66 150.5 69.5 146.5 71 C141 72.5 137 76 129 78.5 C123 79.5 119 75 116 71 C112.5 68.5 111.2 65.5 111 62 Z" fill="url(#brtex)" stroke="#c8c8c8" stroke-width="0.9"/><g clip-path="url(#bc3)"><g filter="url(#brbl)"><ellipse cx="131" cy="71.5" rx="10" ry="1.4" fill="#c02818" fill-opacity="0.8"/><ellipse cx="126" cy="75.5" rx="6" ry="1.3" fill="#c02818" fill-opacity="0.75"/><ellipse cx="139" cy="67" rx="4" ry="1.2" fill="#e05020" fill-opacity="0.7"/><ellipse cx="121" cy="69.5" rx="3" ry="1.2" fill="#c02818" fill-opacity="0.6"/><ellipse cx="134" cy="64" rx="3" ry="1.0" fill="#e06020" fill-opacity="0.5"/></g></g></g>
<g transform="translate(0.0 0)"><path d="M 193.3 62.0 C 193.8 54.0 186.3 48.8 174.3 48.5 C 162.3 48.3 154.3 53.5 152.6 61.5 C 152.1 66.0 153.8 69.5 157.8 71.0 C 163.3 72.5 167.3 76.0 175.3 78.5 C 181.3 79.5 185.3 75.0 188.3 71.0 C 191.8 68.5 193.1 65.5 193.3 62.0 Z" fill="url(#brtex)" stroke="#c8c8c8" stroke-width="0.9"/><g clip-path="url(#bc4)"><g filter="url(#brbl)"><ellipse cx="175" cy="70.5" rx="8" ry="1.4" fill="#c02818" fill-opacity="0.8"/><ellipse cx="172" cy="62.5" rx="3" ry="1.2" fill="#ffd000" fill-opacity="0.9"/><ellipse cx="175" cy="66.5" rx="4" ry="1.1" fill="#ff8a00" fill-opacity="0.8"/><ellipse cx="181" cy="74" rx="5" ry="1.3" fill="#c02818" fill-opacity="0.7"/><ellipse cx="168" cy="67" rx="3" ry="1.0" fill="#e05020" fill-opacity="0.6"/></g></g></g>
<g transform="translate(0.0 0)"><path d="M113.8 93 C113.2 86 120 80.3 132 80 C143 79.8 150 85 150.2 91.5 C150.4 96.5 146.5 99.5 141.5 100.8 C137 103.5 131 104.8 126.5 103.2 C120 102 115 99 113.8 93 Z" fill="url(#brtex)" stroke="#c8c8c8" stroke-width="0.9"/><g clip-path="url(#bc5)"><g filter="url(#brbl)"><ellipse cx="134" cy="96" rx="11" ry="5.5" fill="#c02818" fill-opacity="0.65"/><ellipse cx="133" cy="93.5" rx="6.5" ry="3.0" fill="#e86010" fill-opacity="0.8"/><ellipse cx="130.5" cy="92.5" rx="2.4" ry="1.4" fill="#ffc800" fill-opacity="0.8"/><ellipse cx="138" cy="101" rx="5" ry="2.2" fill="#c83018" fill-opacity="0.65"/></g></g></g>
<g transform="translate(0.0 0)"><path d="M 190.7 93.0 C 191.3 86.0 184.5 80.3 172.5 80.0 C 161.5 79.8 154.5 85.0 154.3 91.5 C 154.1 96.5 158.0 99.5 163.0 100.8 C 167.5 103.5 173.5 104.8 178.0 103.2 C 184.5 102.0 189.5 99.0 190.7 93.0 Z" fill="url(#brtex)" stroke="#c8c8c8" stroke-width="0.9"/><g clip-path="url(#bc6)"><g filter="url(#brbl)"><ellipse cx="170.5" cy="96" rx="11" ry="5.5" fill="#c02818" fill-opacity="0.65"/><ellipse cx="171.5" cy="93.5" rx="6.5" ry="3.0" fill="#e86010" fill-opacity="0.8"/><ellipse cx="174.0" cy="92.5" rx="2.4" ry="1.4" fill="#ffc800" fill-opacity="0.8"/><ellipse cx="166.5" cy="101" rx="5" ry="2.2" fill="#c83018" fill-opacity="0.65"/></g></g></g>
<path d="M126.0 21.5h0M132.6 23.9h0M124.7 32.6h0M131.9 34.2h0M127.9 49.5h0M136.6 48.7h0M126.3 54.1h0M137.4 53.0h0" stroke="#1a1ae6" stroke-width="2.1" stroke-linecap="round"/>
<g transform="translate(233.6 0)"><path d="M140.6 8.5 C136 6.2 128 10 125 19 C123 27 123.5 37 128.5 43.5 C132.5 47.8 139 47.5 140.6 45 Z" fill="url(#brtex)" stroke="#c8c8c8" stroke-width="0.9"/><g clip-path="url(#bc7)"><g filter="url(#brbl)"><ellipse cx="140.2" cy="24" rx="1.6" ry="9" fill="#e86040" fill-opacity="0.5"/></g></g></g>
<g transform="translate(233.6 0)"><path d="M 164.4 8.5 C 169.0 6.2 177.0 10.0 180.0 19.0 C 182.0 27.0 181.5 37.0 176.5 43.5 C 172.5 47.8 166.0 47.5 164.4 45.0 Z" fill="url(#brtex)" stroke="#c8c8c8" stroke-width="0.9"/><g clip-path="url(#bc8)"><g filter="url(#brbl)"><ellipse cx="164.8" cy="30" rx="1.2" ry="6" fill="#e86040" fill-opacity="0.35"/></g></g></g>
<g transform="translate(233.6 0)"><path d="M111 62 C110.5 54 118 48.8 130 48.5 C142 48.3 150 53.5 151.7 61.5 C152.2 66 150.5 69.5 146.5 71 C141 72.5 137 76 129 78.5 C123 79.5 119 75 116 71 C112.5 68.5 111.2 65.5 111 62 Z" fill="url(#brtex)" stroke="#c8c8c8" stroke-width="0.9"/><g clip-path="url(#bc9)"><g filter="url(#brbl)"><ellipse cx="131" cy="71.5" rx="10" ry="1.4" fill="#c02818" fill-opacity="0.8"/><ellipse cx="126" cy="75.5" rx="6" ry="1.3" fill="#c02818" fill-opacity="0.75"/><ellipse cx="139" cy="67" rx="4" ry="1.2" fill="#e05020" fill-opacity="0.7"/><ellipse cx="121" cy="69.5" rx="3" ry="1.2" fill="#c02818" fill-opacity="0.6"/><ellipse cx="134" cy="64" rx="3" ry="1.0" fill="#e06020" fill-opacity="0.5"/></g></g></g>
<g transform="translate(233.6 0)"><path d="M 193.3 62.0 C 193.8 54.0 186.3 48.8 174.3 48.5 C 162.3 48.3 154.3 53.5 152.6 61.5 C 152.1 66.0 153.8 69.5 157.8 71.0 C 163.3 72.5 167.3 76.0 175.3 78.5 C 181.3 79.5 185.3 75.0 188.3 71.0 C 191.8 68.5 193.1 65.5 193.3 62.0 Z" fill="url(#brtex)" stroke="#c8c8c8" stroke-width="0.9"/><g clip-path="url(#bc10)"><g filter="url(#brbl)"><ellipse cx="175" cy="70.5" rx="8" ry="1.4" fill="#c02818" fill-opacity="0.8"/><ellipse cx="172" cy="62.5" rx="3" ry="1.2" fill="#ffd000" fill-opacity="0.9"/><ellipse cx="175" cy="66.5" rx="4" ry="1.1" fill="#ff8a00" fill-opacity="0.8"/><ellipse cx="181" cy="74" rx="5" ry="1.3" fill="#c02818" fill-opacity="0.7"/><ellipse cx="168" cy="67" rx="3" ry="1.0" fill="#e05020" fill-opacity="0.6"/></g></g></g>
<g transform="translate(233.6 0)"><path d="M113.8 93 C113.2 86 120 80.3 132 80 C143 79.8 150 85 150.2 91.5 C150.4 96.5 146.5 99.5 141.5 100.8 C137 103.5 131 104.8 126.5 103.2 C120 102 115 99 113.8 93 Z" fill="url(#brtex)" stroke="#c8c8c8" stroke-width="0.9"/><g clip-path="url(#bc11)"><g filter="url(#brbl)"><ellipse cx="134" cy="96" rx="11" ry="5.5" fill="#c02818" fill-opacity="0.65"/><ellipse cx="133" cy="93.5" rx="6.5" ry="3.0" fill="#e86010" fill-opacity="0.8"/><ellipse cx="130.5" cy="92.5" rx="2.4" ry="1.4" fill="#ffc800" fill-opacity="0.8"/><ellipse cx="138" cy="101" rx="5" ry="2.2" fill="#c83018" fill-opacity="0.65"/></g></g></g>
<g transform="translate(233.6 0)"><path d="M 190.7 93.0 C 191.3 86.0 184.5 80.3 172.5 80.0 C 161.5 79.8 154.5 85.0 154.3 91.5 C 154.1 96.5 158.0 99.5 163.0 100.8 C 167.5 103.5 173.5 104.8 178.0 103.2 C 184.5 102.0 189.5 99.0 190.7 93.0 Z" fill="url(#brtex)" stroke="#c8c8c8" stroke-width="0.9"/><g clip-path="url(#bc12)"><g filter="url(#brbl)"><ellipse cx="170.5" cy="96" rx="11" ry="5.5" fill="#c02818" fill-opacity="0.65"/><ellipse cx="171.5" cy="93.5" rx="6.5" ry="3.0" fill="#e86010" fill-opacity="0.8"/><ellipse cx="174.0" cy="92.5" rx="2.4" ry="1.4" fill="#ffc800" fill-opacity="0.8"/><ellipse cx="166.5" cy="101" rx="5" ry="2.2" fill="#c83018" fill-opacity="0.65"/></g></g></g>
<path d="M359.6 21.5h0M366.2 23.9h0M358.3 32.6h0M365.5 34.2h0M361.5 49.5h0M370.2 48.7h0M359.9 54.1h0M371.0 53.0h0" stroke="#1a1ae6" stroke-width="2.1" stroke-linecap="round"/>
<g transform="translate(462.0 0)"><path d="M140.6 8.5 C136 6.2 128 10 125 19 C123 27 123.5 37 128.5 43.5 C132.5 47.8 139 47.5 140.6 45 Z" fill="url(#brtex)" stroke="#c8c8c8" stroke-width="0.9"/><g clip-path="url(#bc13)"><g filter="url(#brbl)"><ellipse cx="140.2" cy="24" rx="1.6" ry="9" fill="#e86040" fill-opacity="0.5"/></g></g></g>
<g transform="translate(462.0 0)"><path d="M 164.4 8.5 C 169.0 6.2 177.0 10.0 180.0 19.0 C 182.0 27.0 181.5 37.0 176.5 43.5 C 172.5 47.8 166.0 47.5 164.4 45.0 Z" fill="url(#brtex)" stroke="#c8c8c8" stroke-width="0.9"/><g clip-path="url(#bc14)"><g filter="url(#brbl)"><ellipse cx="164.8" cy="30" rx="1.2" ry="6" fill="#e86040" fill-opacity="0.35"/></g></g></g>
<g transform="translate(462.0 0)"><path d="M111 62 C110.5 54 118 48.8 130 48.5 C142 48.3 150 53.5 151.7 61.5 C152.2 66 150.5 69.5 146.5 71 C141 72.5 137 76 129 78.5 C123 79.5 119 75 116 71 C112.5 68.5 111.2 65.5 111 62 Z" fill="url(#brtex)" stroke="#c8c8c8" stroke-width="0.9"/><g clip-path="url(#bc15)"><g filter="url(#brbl)"><ellipse cx="131" cy="71.5" rx="10" ry="1.4" fill="#c02818" fill-opacity="0.8"/><ellipse cx="126" cy="75.5" rx="6" ry="1.3" fill="#c02818" fill-opacity="0.75"/><ellipse cx="139" cy="67" rx="4" ry="1.2" fill="#e05020" fill-opacity="0.7"/><ellipse cx="121" cy="69.5" rx="3" ry="1.2" fill="#c02818" fill-opacity="0.6"/><ellipse cx="134" cy="64" rx="3" ry="1.0" fill="#e06020" fill-opacity="0.5"/><ellipse cx="134" cy="60" rx="5" ry="3" fill="#e05020" fill-opacity="0.6"/></g></g></g>
<g transform="translate(462.0 0)"><path d="M 193.3 62.0 C 193.8 54.0 186.3 48.8 174.3 48.5 C 162.3 48.3 154.3 53.5 152.6 61.5 C 152.1 66.0 153.8 69.5 157.8 71.0 C 163.3 72.5 167.3 76.0 175.3 78.5 C 181.3 79.5 185.3 75.0 188.3 71.0 C 191.8 68.5 193.1 65.5 193.3 62.0 Z" fill="url(#brtex)" stroke="#c8c8c8" stroke-width="0.9"/><g clip-path="url(#bc16)"><g filter="url(#brbl)"><ellipse cx="175" cy="70.5" rx="8" ry="1.4" fill="#c02818" fill-opacity="0.8"/><ellipse cx="172" cy="62.5" rx="3" ry="1.2" fill="#ffd000" fill-opacity="0.9"/><ellipse cx="175" cy="66.5" rx="4" ry="1.1" fill="#ff8a00" fill-opacity="0.8"/><ellipse cx="181" cy="74" rx="5" ry="1.3" fill="#c02818" fill-opacity="0.7"/><ellipse cx="168" cy="67" rx="3" ry="1.0" fill="#e05020" fill-opacity="0.6"/><ellipse cx="175" cy="58" rx="5" ry="3" fill="#ffb000" fill-opacity="0.7"/></g></g></g>
<g transform="translate(462.0 0)"><path d="M113.8 93 C113.2 86 120 80.3 132 80 C143 79.8 150 85 150.2 91.5 C150.4 96.5 146.5 99.5 141.5 100.8 C137 103.5 131 104.8 126.5 103.2 C120 102 115 99 113.8 93 Z" fill="url(#brtex)" stroke="#c8c8c8" stroke-width="0.9"/><g clip-path="url(#bc17)"><g filter="url(#brbl)"><ellipse cx="134" cy="96" rx="11" ry="5.5" fill="#c02818" fill-opacity="0.65"/><ellipse cx="133" cy="93.5" rx="6.5" ry="3.0" fill="#e86010" fill-opacity="0.8"/><ellipse cx="130.5" cy="92.5" rx="2.4" ry="1.4" fill="#ffc800" fill-opacity="0.8"/><ellipse cx="138" cy="101" rx="5" ry="2.2" fill="#c83018" fill-opacity="0.65"/></g></g></g>
<g transform="translate(462.0 0)"><path d="M 190.7 93.0 C 191.3 86.0 184.5 80.3 172.5 80.0 C 161.5 79.8 154.5 85.0 154.3 91.5 C 154.1 96.5 158.0 99.5 163.0 100.8 C 167.5 103.5 173.5 104.8 178.0 103.2 C 184.5 102.0 189.5 99.0 190.7 93.0 Z" fill="url(#brtex)" stroke="#c8c8c8" stroke-width="0.9"/><g clip-path="url(#bc18)"><g filter="url(#brbl)"><ellipse cx="170.5" cy="96" rx="11" ry="5.5" fill="#c02818" fill-opacity="0.65"/><ellipse cx="171.5" cy="93.5" rx="6.5" ry="3.0" fill="#e86010" fill-opacity="0.8"/><ellipse cx="174.0" cy="92.5" rx="2.4" ry="1.4" fill="#ffc800" fill-opacity="0.8"/><ellipse cx="166.5" cy="101" rx="5" ry="2.2" fill="#c83018" fill-opacity="0.65"/></g></g></g>
<path d="M588.0 21.5h0M594.6 23.9h0M586.7 32.6h0M593.9 34.2h0M589.9 49.5h0M598.6 48.7h0M588.3 54.1h0M599.4 53.0h0" stroke="#1a1ae6" stroke-width="2.1" stroke-linecap="round"/>
<text x="348.4" y="129.6" font-size="9.3" text-anchor="start" font-weight="bold" fill="#111">B.iii</text>
<rect x="377.80" y="160.33" width="300.80" height="22.07" fill="#e3e3fb" stroke="none" stroke-width="0.8"/>
<polyline points="392.1,163.3 406.5,165.1 420.8,166.9 435.2,168.5 449.5,169.7 463.9,170.7 478.3,171.7 492.6,172.5 507.0,173.3 521.3,173.9 535.7,174.5 550.1,175.1 593.1,176.6 664.9,179.8" fill="none" stroke="#1f77b4" stroke-width="1.1" stroke-dasharray="3.2 1.8"/>
<circle cx="392.1" cy="163.3" r="2.2" fill="none" stroke="#1f77b4" stroke-width="0.8"/>
<circle cx="406.5" cy="165.1" r="2.2" fill="none" stroke="#1f77b4" stroke-width="0.8"/>
<circle cx="420.8" cy="166.9" r="2.2" fill="none" stroke="#1f77b4" stroke-width="0.8"/>
<circle cx="435.2" cy="168.5" r="2.2" fill="none" stroke="#1f77b4" stroke-width="0.8"/>
<circle cx="449.5" cy="169.7" r="2.2" fill="none" stroke="#1f77b4" stroke-width="0.8"/>
<circle cx="463.9" cy="170.7" r="2.2" fill="none" stroke="#1f77b4" stroke-width="0.8"/>
<circle cx="478.3" cy="171.7" r="2.2" fill="none" stroke="#1f77b4" stroke-width="0.8"/>
<circle cx="492.6" cy="172.5" r="2.2" fill="none" stroke="#1f77b4" stroke-width="0.8"/>
<circle cx="507.0" cy="173.3" r="2.2" fill="none" stroke="#1f77b4" stroke-width="0.8"/>
<circle cx="521.3" cy="173.9" r="2.2" fill="none" stroke="#1f77b4" stroke-width="0.8"/>
<circle cx="535.7" cy="174.5" r="2.2" fill="none" stroke="#1f77b4" stroke-width="0.8"/>
<circle cx="550.1" cy="175.1" r="2.2" fill="none" stroke="#1f77b4" stroke-width="0.8"/>
<circle cx="593.1" cy="176.6" r="2.2" fill="none" stroke="#1f77b4" stroke-width="0.8"/>
<circle cx="664.9" cy="179.8" r="2.2" fill="none" stroke="#1f77b4" stroke-width="0.8"/>
<polyline points="392.1,163.3 406.5,165.1 420.8,167.0 435.2,168.6 449.5,169.8 463.9,170.8 478.3,171.8 492.6,172.6 507.0,173.4 521.3,174.0 535.7,174.6 550.1,175.2 593.1,176.8 664.9,180.0" fill="none" stroke="#2ca02c" stroke-width="1.1" stroke-dasharray="3.2 1.8"/>
<circle cx="392.1" cy="163.3" r="2.2" fill="none" stroke="#2ca02c" stroke-width="0.8"/>
<circle cx="406.5" cy="165.1" r="2.2" fill="none" stroke="#2ca02c" stroke-width="0.8"/>
<circle cx="420.8" cy="167.0" r="2.2" fill="none" stroke="#2ca02c" stroke-width="0.8"/>
<circle cx="435.2" cy="168.6" r="2.2" fill="none" stroke="#2ca02c" stroke-width="0.8"/>
<circle cx="449.5" cy="169.8" r="2.2" fill="none" stroke="#2ca02c" stroke-width="0.8"/>
<circle cx="463.9" cy="170.8" r="2.2" fill="none" stroke="#2ca02c" stroke-width="0.8"/>
<circle cx="478.3" cy="171.8" r="2.2" fill="none" stroke="#2ca02c" stroke-width="0.8"/>
<circle cx="492.6" cy="172.6" r="2.2" fill="none" stroke="#2ca02c" stroke-width="0.8"/>
<circle cx="507.0" cy="173.4" r="2.2" fill="none" stroke="#2ca02c" stroke-width="0.8"/>
<circle cx="521.3" cy="174.0" r="2.2" fill="none" stroke="#2ca02c" stroke-width="0.8"/>
<circle cx="535.7" cy="174.6" r="2.2" fill="none" stroke="#2ca02c" stroke-width="0.8"/>
<circle cx="550.1" cy="175.2" r="2.2" fill="none" stroke="#2ca02c" stroke-width="0.8"/>
<circle cx="593.1" cy="176.8" r="2.2" fill="none" stroke="#2ca02c" stroke-width="0.8"/>
<circle cx="664.9" cy="180.0" r="2.2" fill="none" stroke="#2ca02c" stroke-width="0.8"/>
<polyline points="392.1,162.3 406.5,164.1 420.8,165.9 435.2,167.4 449.5,168.6 463.9,169.5 478.3,170.5 492.6,171.3 507.0,172.0 521.3,172.6 535.7,173.2 550.1,173.7 593.1,175.2 664.9,178.2" fill="none" stroke="#ff7f0e" stroke-width="1.1" stroke-dasharray="3.2 1.8"/>
<circle cx="392.1" cy="162.3" r="2.2" fill="none" stroke="#ff7f0e" stroke-width="0.8"/>
<circle cx="406.5" cy="164.1" r="2.2" fill="none" stroke="#ff7f0e" stroke-width="0.8"/>
<circle cx="420.8" cy="165.9" r="2.2" fill="none" stroke="#ff7f0e" stroke-width="0.8"/>
<circle cx="435.2" cy="167.4" r="2.2" fill="none" stroke="#ff7f0e" stroke-width="0.8"/>
<circle cx="449.5" cy="168.6" r="2.2" fill="none" stroke="#ff7f0e" stroke-width="0.8"/>
<circle cx="463.9" cy="169.5" r="2.2" fill="none" stroke="#ff7f0e" stroke-width="0.8"/>
<circle cx="478.3" cy="170.5" r="2.2" fill="none" stroke="#ff7f0e" stroke-width="0.8"/>
<circle cx="492.6" cy="171.3" r="2.2" fill="none" stroke="#ff7f0e" stroke-width="0.8"/>
<circle cx="507.0" cy="172.0" r="2.2" fill="none" stroke="#ff7f0e" stroke-width="0.8"/>
<circle cx="521.3" cy="172.6" r="2.2" fill="none" stroke="#ff7f0e" stroke-width="0.8"/>
<circle cx="535.7" cy="173.2" r="2.2" fill="none" stroke="#ff7f0e" stroke-width="0.8"/>
<circle cx="550.1" cy="173.7" r="2.2" fill="none" stroke="#ff7f0e" stroke-width="0.8"/>
<circle cx="593.1" cy="175.2" r="2.2" fill="none" stroke="#ff7f0e" stroke-width="0.8"/>
<circle cx="664.9" cy="178.2" r="2.2" fill="none" stroke="#ff7f0e" stroke-width="0.8"/>
<polyline points="392.1,163.1 406.5,165.0 420.8,166.8 435.2,168.5 449.5,169.7 463.9,170.7 478.3,171.8 492.6,172.6 507.0,173.4 521.3,174.1 535.7,174.7 550.1,175.3 593.1,177.0 664.9,180.4" fill="none" stroke="#d62728" stroke-width="1.1" stroke-dasharray="3.2 1.8"/>
<circle cx="392.1" cy="163.1" r="2.2" fill="none" stroke="#d62728" stroke-width="0.8"/>
<circle cx="406.5" cy="165.0" r="2.2" fill="none" stroke="#d62728" stroke-width="0.8"/>
<circle cx="420.8" cy="166.8" r="2.2" fill="none" stroke="#d62728" stroke-width="0.8"/>
<circle cx="435.2" cy="168.5" r="2.2" fill="none" stroke="#d62728" stroke-width="0.8"/>
<circle cx="449.5" cy="169.7" r="2.2" fill="none" stroke="#d62728" stroke-width="0.8"/>
<circle cx="463.9" cy="170.7" r="2.2" fill="none" stroke="#d62728" stroke-width="0.8"/>
<circle cx="478.3" cy="171.8" r="2.2" fill="none" stroke="#d62728" stroke-width="0.8"/>
<circle cx="492.6" cy="172.6" r="2.2" fill="none" stroke="#d62728" stroke-width="0.8"/>
<circle cx="507.0" cy="173.4" r="2.2" fill="none" stroke="#d62728" stroke-width="0.8"/>
<circle cx="521.3" cy="174.1" r="2.2" fill="none" stroke="#d62728" stroke-width="0.8"/>
<circle cx="535.7" cy="174.7" r="2.2" fill="none" stroke="#d62728" stroke-width="0.8"/>
<circle cx="550.1" cy="175.3" r="2.2" fill="none" stroke="#d62728" stroke-width="0.8"/>
<circle cx="593.1" cy="177.0" r="2.2" fill="none" stroke="#d62728" stroke-width="0.8"/>
<circle cx="664.9" cy="180.4" r="2.2" fill="none" stroke="#d62728" stroke-width="0.8"/>
<line x1="377.80" y1="160.33" x2="678.60" y2="160.33" stroke="#3535f5" stroke-width="1.1"/>
<line x1="478.26" y1="150.30" x2="478.26" y2="182.40" stroke="#111" stroke-width="1.3" stroke-dasharray="2.8 1.7"/>
<rect x="377.80" y="150.30" width="300.80" height="32.10" fill="none" stroke="#666" stroke-width="0.9"/>
<line x1="377.80" y1="182.40" x2="678.60" y2="182.40" stroke="#8a8a9a" stroke-width="1.0"/>
<line x1="375.60" y1="150.30" x2="377.80" y2="150.30" stroke="#444" stroke-width="0.7"/>
<text x="374.6" y="152.8" font-size="7" text-anchor="end" fill="#1c1c1c">0.5</text>
<line x1="375.60" y1="160.33" x2="377.80" y2="160.33" stroke="#444" stroke-width="0.7"/>
<text x="374.6" y="162.8" font-size="7" text-anchor="end" fill="#1c1c1c">0.0</text>
<line x1="375.60" y1="180.39" x2="377.80" y2="180.39" stroke="#444" stroke-width="0.7"/>
<text x="374.6" y="182.9" font-size="7" text-anchor="end" fill="#1c1c1c">−1.0</text>
<line x1="413.64" y1="182.40" x2="413.64" y2="184.60" stroke="#444" stroke-width="0.7"/>
<line x1="449.54" y1="182.40" x2="449.54" y2="184.60" stroke="#444" stroke-width="0.7"/>
<line x1="485.44" y1="182.40" x2="485.44" y2="184.60" stroke="#444" stroke-width="0.7"/>
<line x1="521.34" y1="182.40" x2="521.34" y2="184.60" stroke="#444" stroke-width="0.7"/>
<line x1="557.24" y1="182.40" x2="557.24" y2="184.60" stroke="#444" stroke-width="0.7"/>
<line x1="593.14" y1="182.40" x2="593.14" y2="184.60" stroke="#444" stroke-width="0.7"/>
<line x1="629.04" y1="182.40" x2="629.04" y2="184.60" stroke="#444" stroke-width="0.7"/>
<line x1="664.94" y1="182.40" x2="664.94" y2="184.60" stroke="#444" stroke-width="0.7"/>
<text x="0" y="0" font-size="8.2" text-anchor="middle" fill="#1c1c1c" transform="translate(358.6 166.4) rotate(-90)">log<tspan font-size="6.6" dy="1.8">10</tspan><tspan dy="-1.8">BF</tspan></text>
<text x="528.2" y="148.0" font-size="8" text-anchor="middle" fill="#1c1c1c">0.010 - 0.063 s</text>
<rect x="377.80" y="215.64" width="300.80" height="21.66" fill="#e3e3fb" stroke="none" stroke-width="0.8"/>
<polyline points="392.1,218.4 406.5,220.2 420.8,221.9 435.2,223.5 449.5,224.7 463.9,225.7 478.3,226.7 492.6,227.5 507.0,228.2 521.3,228.8 535.7,229.4 550.1,230.0 593.1,231.6 664.9,234.7" fill="none" stroke="#1f77b4" stroke-width="1.1" stroke-dasharray="3.2 1.8"/>
<circle cx="392.1" cy="218.4" r="2.2" fill="none" stroke="#1f77b4" stroke-width="0.8"/>
<circle cx="406.5" cy="220.2" r="2.2" fill="none" stroke="#1f77b4" stroke-width="0.8"/>
<circle cx="420.8" cy="221.9" r="2.2" fill="none" stroke="#1f77b4" stroke-width="0.8"/>
<circle cx="435.2" cy="223.5" r="2.2" fill="none" stroke="#1f77b4" stroke-width="0.8"/>
<circle cx="449.5" cy="224.7" r="2.2" fill="none" stroke="#1f77b4" stroke-width="0.8"/>
<circle cx="463.9" cy="225.7" r="2.2" fill="none" stroke="#1f77b4" stroke-width="0.8"/>
<circle cx="478.3" cy="226.7" r="2.2" fill="none" stroke="#1f77b4" stroke-width="0.8"/>
<circle cx="492.6" cy="227.5" r="2.2" fill="none" stroke="#1f77b4" stroke-width="0.8"/>
<circle cx="507.0" cy="228.2" r="2.2" fill="none" stroke="#1f77b4" stroke-width="0.8"/>
<circle cx="521.3" cy="228.8" r="2.2" fill="none" stroke="#1f77b4" stroke-width="0.8"/>
<circle cx="535.7" cy="229.4" r="2.2" fill="none" stroke="#1f77b4" stroke-width="0.8"/>
<circle cx="550.1" cy="230.0" r="2.2" fill="none" stroke="#1f77b4" stroke-width="0.8"/>
<circle cx="593.1" cy="231.6" r="2.2" fill="none" stroke="#1f77b4" stroke-width="0.8"/>
<circle cx="664.9" cy="234.7" r="2.2" fill="none" stroke="#1f77b4" stroke-width="0.8"/>
<polyline points="392.1,218.8 406.5,220.6 420.8,222.4 435.2,224.0 449.5,225.3 463.9,226.3 478.3,227.3 492.6,228.1 507.0,229.0 521.3,229.6 535.7,230.2 550.1,230.9 593.1,232.6 664.9,235.9" fill="none" stroke="#2ca02c" stroke-width="1.1" stroke-dasharray="3.2 1.8"/>
<circle cx="392.1" cy="218.8" r="2.2" fill="none" stroke="#2ca02c" stroke-width="0.8"/>
<circle cx="406.5" cy="220.6" r="2.2" fill="none" stroke="#2ca02c" stroke-width="0.8"/>
<circle cx="420.8" cy="222.4" r="2.2" fill="none" stroke="#2ca02c" stroke-width="0.8"/>
<circle cx="435.2" cy="224.0" r="2.2" fill="none" stroke="#2ca02c" stroke-width="0.8"/>
<circle cx="449.5" cy="225.3" r="2.2" fill="none" stroke="#2ca02c" stroke-width="0.8"/>
<circle cx="463.9" cy="226.3" r="2.2" fill="none" stroke="#2ca02c" stroke-width="0.8"/>
<circle cx="478.3" cy="227.3" r="2.2" fill="none" stroke="#2ca02c" stroke-width="0.8"/>
<circle cx="492.6" cy="228.1" r="2.2" fill="none" stroke="#2ca02c" stroke-width="0.8"/>
<circle cx="507.0" cy="229.0" r="2.2" fill="none" stroke="#2ca02c" stroke-width="0.8"/>
<circle cx="521.3" cy="229.6" r="2.2" fill="none" stroke="#2ca02c" stroke-width="0.8"/>
<circle cx="535.7" cy="230.2" r="2.2" fill="none" stroke="#2ca02c" stroke-width="0.8"/>
<circle cx="550.1" cy="230.9" r="2.2" fill="none" stroke="#2ca02c" stroke-width="0.8"/>
<circle cx="593.1" cy="232.6" r="2.2" fill="none" stroke="#2ca02c" stroke-width="0.8"/>
<circle cx="664.9" cy="235.9" r="2.2" fill="none" stroke="#2ca02c" stroke-width="0.8"/>
<polyline points="392.1,217.8 406.5,219.6 420.8,221.3 435.2,222.9 449.5,224.1 463.9,225.0 478.3,226.0 492.6,226.8 507.0,227.6 521.3,228.2 535.7,228.7 550.1,229.3 593.1,230.9 664.9,234.0" fill="none" stroke="#ff7f0e" stroke-width="1.1" stroke-dasharray="3.2 1.8"/>
<circle cx="392.1" cy="217.8" r="2.2" fill="none" stroke="#ff7f0e" stroke-width="0.8"/>
<circle cx="406.5" cy="219.6" r="2.2" fill="none" stroke="#ff7f0e" stroke-width="0.8"/>
<circle cx="420.8" cy="221.3" r="2.2" fill="none" stroke="#ff7f0e" stroke-width="0.8"/>
<circle cx="435.2" cy="222.9" r="2.2" fill="none" stroke="#ff7f0e" stroke-width="0.8"/>
<circle cx="449.5" cy="224.1" r="2.2" fill="none" stroke="#ff7f0e" stroke-width="0.8"/>
<circle cx="463.9" cy="225.0" r="2.2" fill="none" stroke="#ff7f0e" stroke-width="0.8"/>
<circle cx="478.3" cy="226.0" r="2.2" fill="none" stroke="#ff7f0e" stroke-width="0.8"/>
<circle cx="492.6" cy="226.8" r="2.2" fill="none" stroke="#ff7f0e" stroke-width="0.8"/>
<circle cx="507.0" cy="227.6" r="2.2" fill="none" stroke="#ff7f0e" stroke-width="0.8"/>
<circle cx="521.3" cy="228.2" r="2.2" fill="none" stroke="#ff7f0e" stroke-width="0.8"/>
<circle cx="535.7" cy="228.7" r="2.2" fill="none" stroke="#ff7f0e" stroke-width="0.8"/>
<circle cx="550.1" cy="229.3" r="2.2" fill="none" stroke="#ff7f0e" stroke-width="0.8"/>
<circle cx="593.1" cy="230.9" r="2.2" fill="none" stroke="#ff7f0e" stroke-width="0.8"/>
<circle cx="664.9" cy="234.0" r="2.2" fill="none" stroke="#ff7f0e" stroke-width="0.8"/>
<polyline points="392.1,218.2 406.5,220.0 420.8,221.8 435.2,223.4 449.5,224.5 463.9,225.5 478.3,226.5 492.6,227.3 507.0,228.1 521.3,228.7 535.7,229.3 550.1,229.9 593.1,231.5 664.9,234.7" fill="none" stroke="#d62728" stroke-width="1.1" stroke-dasharray="3.2 1.8"/>
<circle cx="392.1" cy="218.2" r="2.2" fill="none" stroke="#d62728" stroke-width="0.8"/>
<circle cx="406.5" cy="220.0" r="2.2" fill="none" stroke="#d62728" stroke-width="0.8"/>
<circle cx="420.8" cy="221.8" r="2.2" fill="none" stroke="#d62728" stroke-width="0.8"/>
<circle cx="435.2" cy="223.4" r="2.2" fill="none" stroke="#d62728" stroke-width="0.8"/>
<circle cx="449.5" cy="224.5" r="2.2" fill="none" stroke="#d62728" stroke-width="0.8"/>
<circle cx="463.9" cy="225.5" r="2.2" fill="none" stroke="#d62728" stroke-width="0.8"/>
<circle cx="478.3" cy="226.5" r="2.2" fill="none" stroke="#d62728" stroke-width="0.8"/>
<circle cx="492.6" cy="227.3" r="2.2" fill="none" stroke="#d62728" stroke-width="0.8"/>
<circle cx="507.0" cy="228.1" r="2.2" fill="none" stroke="#d62728" stroke-width="0.8"/>
<circle cx="521.3" cy="228.7" r="2.2" fill="none" stroke="#d62728" stroke-width="0.8"/>
<circle cx="535.7" cy="229.3" r="2.2" fill="none" stroke="#d62728" stroke-width="0.8"/>
<circle cx="550.1" cy="229.9" r="2.2" fill="none" stroke="#d62728" stroke-width="0.8"/>
<circle cx="593.1" cy="231.5" r="2.2" fill="none" stroke="#d62728" stroke-width="0.8"/>
<circle cx="664.9" cy="234.7" r="2.2" fill="none" stroke="#d62728" stroke-width="0.8"/>
<line x1="377.80" y1="215.64" x2="678.60" y2="215.64" stroke="#3535f5" stroke-width="1.1"/>
<line x1="478.26" y1="205.80" x2="478.26" y2="237.30" stroke="#111" stroke-width="1.3" stroke-dasharray="2.8 1.7"/>
<rect x="377.80" y="205.80" width="300.80" height="31.50" fill="none" stroke="#666" stroke-width="0.9"/>
<line x1="377.80" y1="237.30" x2="678.60" y2="237.30" stroke="#8a8a9a" stroke-width="1.0"/>
<line x1="375.60" y1="205.80" x2="377.80" y2="205.80" stroke="#444" stroke-width="0.7"/>
<text x="374.6" y="208.3" font-size="7" text-anchor="end" fill="#1c1c1c">0.5</text>
<line x1="375.60" y1="215.64" x2="377.80" y2="215.64" stroke="#444" stroke-width="0.7"/>
<text x="374.6" y="218.1" font-size="7" text-anchor="end" fill="#1c1c1c">0.0</text>
<line x1="375.60" y1="235.33" x2="377.80" y2="235.33" stroke="#444" stroke-width="0.7"/>
<text x="374.6" y="237.8" font-size="7" text-anchor="end" fill="#1c1c1c">−1.0</text>
<line x1="413.64" y1="237.30" x2="413.64" y2="239.50" stroke="#444" stroke-width="0.7"/>
<line x1="449.54" y1="237.30" x2="449.54" y2="239.50" stroke="#444" stroke-width="0.7"/>
<line x1="485.44" y1="237.30" x2="485.44" y2="239.50" stroke="#444" stroke-width="0.7"/>
<line x1="521.34" y1="237.30" x2="521.34" y2="239.50" stroke="#444" stroke-width="0.7"/>
<line x1="557.24" y1="237.30" x2="557.24" y2="239.50" stroke="#444" stroke-width="0.7"/>
<line x1="593.14" y1="237.30" x2="593.14" y2="239.50" stroke="#444" stroke-width="0.7"/>
<line x1="629.04" y1="237.30" x2="629.04" y2="239.50" stroke="#444" stroke-width="0.7"/>
<line x1="664.94" y1="237.30" x2="664.94" y2="239.50" stroke="#444" stroke-width="0.7"/>
<text x="0" y="0" font-size="8.2" text-anchor="middle" fill="#1c1c1c" transform="translate(358.6 221.6) rotate(-90)">log<tspan font-size="6.6" dy="1.8">10</tspan><tspan dy="-1.8">BF</tspan></text>
<text x="528.2" y="202.0" font-size="8" text-anchor="middle" fill="#1c1c1c">0.020 - 0.040 s</text>
<rect x="377.80" y="264.66" width="300.80" height="22.14" fill="#e3e3fb" stroke="none" stroke-width="0.8"/>
<polyline points="392.1,267.5 406.5,269.3 420.8,271.1 435.2,272.7 449.5,273.9 463.9,274.9 478.3,275.9 492.6,276.7 507.0,277.5 521.3,278.1 535.7,278.8 550.1,279.4 593.1,281.0 664.9,284.2" fill="none" stroke="#1f77b4" stroke-width="1.1" stroke-dasharray="3.2 1.8"/>
<circle cx="392.1" cy="267.5" r="2.2" fill="none" stroke="#1f77b4" stroke-width="0.8"/>
<circle cx="406.5" cy="269.3" r="2.2" fill="none" stroke="#1f77b4" stroke-width="0.8"/>
<circle cx="420.8" cy="271.1" r="2.2" fill="none" stroke="#1f77b4" stroke-width="0.8"/>
<circle cx="435.2" cy="272.7" r="2.2" fill="none" stroke="#1f77b4" stroke-width="0.8"/>
<circle cx="449.5" cy="273.9" r="2.2" fill="none" stroke="#1f77b4" stroke-width="0.8"/>
<circle cx="463.9" cy="274.9" r="2.2" fill="none" stroke="#1f77b4" stroke-width="0.8"/>
<circle cx="478.3" cy="275.9" r="2.2" fill="none" stroke="#1f77b4" stroke-width="0.8"/>
<circle cx="492.6" cy="276.7" r="2.2" fill="none" stroke="#1f77b4" stroke-width="0.8"/>
<circle cx="507.0" cy="277.5" r="2.2" fill="none" stroke="#1f77b4" stroke-width="0.8"/>
<circle cx="521.3" cy="278.1" r="2.2" fill="none" stroke="#1f77b4" stroke-width="0.8"/>
<circle cx="535.7" cy="278.8" r="2.2" fill="none" stroke="#1f77b4" stroke-width="0.8"/>
<circle cx="550.1" cy="279.4" r="2.2" fill="none" stroke="#1f77b4" stroke-width="0.8"/>
<circle cx="593.1" cy="281.0" r="2.2" fill="none" stroke="#1f77b4" stroke-width="0.8"/>
<circle cx="664.9" cy="284.2" r="2.2" fill="none" stroke="#1f77b4" stroke-width="0.8"/>
<polyline points="392.1,267.5 406.5,269.3 420.8,271.1 435.2,272.7 449.5,273.9 463.9,274.9 478.3,275.9 492.6,276.7 507.0,277.5 521.3,278.1 535.7,278.8 550.1,279.4 593.1,281.0 664.9,284.2" fill="none" stroke="#2ca02c" stroke-width="1.1" stroke-dasharray="3.2 1.8"/>
<circle cx="392.1" cy="267.5" r="2.2" fill="none" stroke="#2ca02c" stroke-width="0.8"/>
<circle cx="406.5" cy="269.3" r="2.2" fill="none" stroke="#2ca02c" stroke-width="0.8"/>
<circle cx="420.8" cy="271.1" r="2.2" fill="none" stroke="#2ca02c" stroke-width="0.8"/>
<circle cx="435.2" cy="272.7" r="2.2" fill="none" stroke="#2ca02c" stroke-width="0.8"/>
<circle cx="449.5" cy="273.9" r="2.2" fill="none" stroke="#2ca02c" stroke-width="0.8"/>
<circle cx="463.9" cy="274.9" r="2.2" fill="none" stroke="#2ca02c" stroke-width="0.8"/>
<circle cx="478.3" cy="275.9" r="2.2" fill="none" stroke="#2ca02c" stroke-width="0.8"/>
<circle cx="492.6" cy="276.7" r="2.2" fill="none" stroke="#2ca02c" stroke-width="0.8"/>
<circle cx="507.0" cy="277.5" r="2.2" fill="none" stroke="#2ca02c" stroke-width="0.8"/>
<circle cx="521.3" cy="278.1" r="2.2" fill="none" stroke="#2ca02c" stroke-width="0.8"/>
<circle cx="535.7" cy="278.8" r="2.2" fill="none" stroke="#2ca02c" stroke-width="0.8"/>
<circle cx="550.1" cy="279.4" r="2.2" fill="none" stroke="#2ca02c" stroke-width="0.8"/>
<circle cx="593.1" cy="281.0" r="2.2" fill="none" stroke="#2ca02c" stroke-width="0.8"/>
<circle cx="664.9" cy="284.2" r="2.2" fill="none" stroke="#2ca02c" stroke-width="0.8"/>
<polyline points="392.1,267.3 406.5,269.1 420.8,270.9 435.2,272.5 449.5,273.7 463.9,274.7 478.3,275.7 492.6,276.5 507.0,277.3 521.3,277.9 535.7,278.5 550.1,279.2 593.1,280.8 664.9,284.0" fill="none" stroke="#ff7f0e" stroke-width="1.1" stroke-dasharray="3.2 1.8"/>
<circle cx="392.1" cy="267.3" r="2.2" fill="none" stroke="#ff7f0e" stroke-width="0.8"/>
<circle cx="406.5" cy="269.1" r="2.2" fill="none" stroke="#ff7f0e" stroke-width="0.8"/>
<circle cx="420.8" cy="270.9" r="2.2" fill="none" stroke="#ff7f0e" stroke-width="0.8"/>
<circle cx="435.2" cy="272.5" r="2.2" fill="none" stroke="#ff7f0e" stroke-width="0.8"/>
<circle cx="449.5" cy="273.7" r="2.2" fill="none" stroke="#ff7f0e" stroke-width="0.8"/>
<circle cx="463.9" cy="274.7" r="2.2" fill="none" stroke="#ff7f0e" stroke-width="0.8"/>
<circle cx="478.3" cy="275.7" r="2.2" fill="none" stroke="#ff7f0e" stroke-width="0.8"/>
<circle cx="492.6" cy="276.5" r="2.2" fill="none" stroke="#ff7f0e" stroke-width="0.8"/>
<circle cx="507.0" cy="277.3" r="2.2" fill="none" stroke="#ff7f0e" stroke-width="0.8"/>
<circle cx="521.3" cy="277.9" r="2.2" fill="none" stroke="#ff7f0e" stroke-width="0.8"/>
<circle cx="535.7" cy="278.5" r="2.2" fill="none" stroke="#ff7f0e" stroke-width="0.8"/>
<circle cx="550.1" cy="279.2" r="2.2" fill="none" stroke="#ff7f0e" stroke-width="0.8"/>
<circle cx="593.1" cy="280.8" r="2.2" fill="none" stroke="#ff7f0e" stroke-width="0.8"/>
<circle cx="664.9" cy="284.0" r="2.2" fill="none" stroke="#ff7f0e" stroke-width="0.8"/>
<polyline points="392.1,267.5 406.5,269.3 420.8,271.1 435.2,272.7 449.5,273.9 463.9,274.9 478.3,275.9 492.6,276.7 507.0,277.5 521.3,278.1 535.7,278.8 550.1,279.4 593.1,281.0 664.9,284.2" fill="none" stroke="#d62728" stroke-width="1.1" stroke-dasharray="3.2 1.8"/>
<circle cx="392.1" cy="267.5" r="2.2" fill="none" stroke="#d62728" stroke-width="0.8"/>
<circle cx="406.5" cy="269.3" r="2.2" fill="none" stroke="#d62728" stroke-width="0.8"/>
<circle cx="420.8" cy="271.1" r="2.2" fill="none" stroke="#d62728" stroke-width="0.8"/>
<circle cx="435.2" cy="272.7" r="2.2" fill="none" stroke="#d62728" stroke-width="0.8"/>
<circle cx="449.5" cy="273.9" r="2.2" fill="none" stroke="#d62728" stroke-width="0.8"/>
<circle cx="463.9" cy="274.9" r="2.2" fill="none" stroke="#d62728" stroke-width="0.8"/>
<circle cx="478.3" cy="275.9" r="2.2" fill="none" stroke="#d62728" stroke-width="0.8"/>
<circle cx="492.6" cy="276.7" r="2.2" fill="none" stroke="#d62728" stroke-width="0.8"/>
<circle cx="507.0" cy="277.5" r="2.2" fill="none" stroke="#d62728" stroke-width="0.8"/>
<circle cx="521.3" cy="278.1" r="2.2" fill="none" stroke="#d62728" stroke-width="0.8"/>
<circle cx="535.7" cy="278.8" r="2.2" fill="none" stroke="#d62728" stroke-width="0.8"/>
<circle cx="550.1" cy="279.4" r="2.2" fill="none" stroke="#d62728" stroke-width="0.8"/>
<circle cx="593.1" cy="281.0" r="2.2" fill="none" stroke="#d62728" stroke-width="0.8"/>
<circle cx="664.9" cy="284.2" r="2.2" fill="none" stroke="#d62728" stroke-width="0.8"/>
<line x1="377.80" y1="264.66" x2="678.60" y2="264.66" stroke="#3535f5" stroke-width="1.1"/>
<line x1="478.26" y1="254.60" x2="478.26" y2="286.80" stroke="#111" stroke-width="1.3" stroke-dasharray="2.8 1.7"/>
<rect x="377.80" y="254.60" width="300.80" height="32.20" fill="none" stroke="#666" stroke-width="0.9"/>
<line x1="377.80" y1="286.80" x2="678.60" y2="286.80" stroke="#8a8a9a" stroke-width="1.0"/>
<line x1="375.60" y1="254.60" x2="377.80" y2="254.60" stroke="#444" stroke-width="0.7"/>
<text x="374.6" y="257.1" font-size="7" text-anchor="end" fill="#1c1c1c">0.5</text>
<line x1="375.60" y1="264.66" x2="377.80" y2="264.66" stroke="#444" stroke-width="0.7"/>
<text x="374.6" y="267.2" font-size="7" text-anchor="end" fill="#1c1c1c">0.0</text>
<line x1="375.60" y1="284.79" x2="377.80" y2="284.79" stroke="#444" stroke-width="0.7"/>
<text x="374.6" y="287.3" font-size="7" text-anchor="end" fill="#1c1c1c">−1.0</text>
<line x1="413.64" y1="286.80" x2="413.64" y2="289.00" stroke="#444" stroke-width="0.7"/>
<line x1="449.54" y1="286.80" x2="449.54" y2="289.00" stroke="#444" stroke-width="0.7"/>
<line x1="485.44" y1="286.80" x2="485.44" y2="289.00" stroke="#444" stroke-width="0.7"/>
<line x1="521.34" y1="286.80" x2="521.34" y2="289.00" stroke="#444" stroke-width="0.7"/>
<line x1="557.24" y1="286.80" x2="557.24" y2="289.00" stroke="#444" stroke-width="0.7"/>
<line x1="593.14" y1="286.80" x2="593.14" y2="289.00" stroke="#444" stroke-width="0.7"/>
<line x1="629.04" y1="286.80" x2="629.04" y2="289.00" stroke="#444" stroke-width="0.7"/>
<line x1="664.94" y1="286.80" x2="664.94" y2="289.00" stroke="#444" stroke-width="0.7"/>
<text x="0" y="0" font-size="8.2" text-anchor="middle" fill="#1c1c1c" transform="translate(358.6 270.7) rotate(-90)">log<tspan font-size="6.6" dy="1.8">10</tspan><tspan dy="-1.8">BF</tspan></text>
<text x="528.2" y="251.5" font-size="8" text-anchor="middle" fill="#1c1c1c">0.080 - 0.100 s</text>
<rect x="377.80" y="320.23" width="300.80" height="22.07" fill="#e3e3fb" stroke="none" stroke-width="0.8"/>
<polyline points="392.1,316.8 406.5,315.6 420.8,315.6 435.2,316.2 449.5,317.0 463.9,317.8 478.3,318.4 492.6,319.0 507.0,319.6 521.3,320.2 535.7,320.6 550.1,321.0 593.1,322.2 664.9,325.2" fill="none" stroke="#1f77b4" stroke-width="1.0" stroke-dasharray="3.2 1.8"/>
<circle cx="392.1" cy="316.8" r="2.2" fill="none" stroke="#1f77b4" stroke-width="0.8"/>
<circle cx="406.5" cy="315.6" r="2.2" fill="none" stroke="#1f77b4" stroke-width="0.8"/>
<circle cx="420.8" cy="315.6" r="2.2" fill="none" stroke="#1f77b4" stroke-width="0.8"/>
<circle cx="435.2" cy="316.2" r="2.2" fill="none" stroke="#1f77b4" stroke-width="0.8"/>
<circle cx="449.5" cy="317.0" r="2.2" fill="none" stroke="#1f77b4" stroke-width="0.8"/>
<circle cx="463.9" cy="317.8" r="2.2" fill="none" stroke="#1f77b4" stroke-width="0.8"/>
<circle cx="478.3" cy="318.4" r="2.2" fill="none" stroke="#1f77b4" stroke-width="0.8"/>
<circle cx="492.6" cy="319.0" r="2.2" fill="none" stroke="#1f77b4" stroke-width="0.8"/>
<circle cx="507.0" cy="319.6" r="2.2" fill="none" stroke="#1f77b4" stroke-width="0.8"/>
<circle cx="521.3" cy="320.2" r="2.2" fill="none" stroke="#1f77b4" stroke-width="0.8"/>
<circle cx="535.7" cy="320.6" r="2.2" fill="none" stroke="#1f77b4" stroke-width="0.8"/>
<circle cx="550.1" cy="321.0" r="2.2" fill="none" stroke="#1f77b4" stroke-width="0.8"/>
<circle cx="593.1" cy="322.2" r="2.2" fill="none" stroke="#1f77b4" stroke-width="0.8"/>
<circle cx="664.9" cy="325.2" r="2.2" fill="none" stroke="#1f77b4" stroke-width="0.8"/>
<polyline points="392.1,319.6 406.5,319.2 420.8,319.8 435.2,320.8 449.5,321.8 463.9,322.6 478.3,323.6 492.6,324.4 507.0,325.4 521.3,326.2 535.7,326.9 550.1,327.5 593.1,329.3 664.9,331.9" fill="none" stroke="#2ca02c" stroke-width="1.0" stroke-dasharray="3.2 1.8"/>
<circle cx="392.1" cy="319.6" r="2.2" fill="none" stroke="#2ca02c" stroke-width="0.8"/>
<circle cx="406.5" cy="319.2" r="2.2" fill="none" stroke="#2ca02c" stroke-width="0.8"/>
<circle cx="420.8" cy="319.8" r="2.2" fill="none" stroke="#2ca02c" stroke-width="0.8"/>
<circle cx="435.2" cy="320.8" r="2.2" fill="none" stroke="#2ca02c" stroke-width="0.8"/>
<circle cx="449.5" cy="321.8" r="2.2" fill="none" stroke="#2ca02c" stroke-width="0.8"/>
<circle cx="463.9" cy="322.6" r="2.2" fill="none" stroke="#2ca02c" stroke-width="0.8"/>
<circle cx="478.3" cy="323.6" r="2.2" fill="none" stroke="#2ca02c" stroke-width="0.8"/>
<circle cx="492.6" cy="324.4" r="2.2" fill="none" stroke="#2ca02c" stroke-width="0.8"/>
<circle cx="507.0" cy="325.4" r="2.2" fill="none" stroke="#2ca02c" stroke-width="0.8"/>
<circle cx="521.3" cy="326.2" r="2.2" fill="none" stroke="#2ca02c" stroke-width="0.8"/>
<circle cx="535.7" cy="326.9" r="2.2" fill="none" stroke="#2ca02c" stroke-width="0.8"/>
<circle cx="550.1" cy="327.5" r="2.2" fill="none" stroke="#2ca02c" stroke-width="0.8"/>
<circle cx="593.1" cy="329.3" r="2.2" fill="none" stroke="#2ca02c" stroke-width="0.8"/>
<circle cx="664.9" cy="331.9" r="2.2" fill="none" stroke="#2ca02c" stroke-width="0.8"/>
<polyline points="392.1,318.2 406.5,317.8 420.8,318.2 435.2,318.8 449.5,319.4 463.9,320.2 478.3,320.8 492.6,321.4 507.0,322.0 521.3,322.6 535.7,323.2 550.1,323.8 593.1,325.6 664.9,328.9" fill="none" stroke="#ff7f0e" stroke-width="1.0" stroke-dasharray="3.2 1.8"/>
<circle cx="392.1" cy="318.2" r="2.2" fill="none" stroke="#ff7f0e" stroke-width="0.8"/>
<circle cx="406.5" cy="317.8" r="2.2" fill="none" stroke="#ff7f0e" stroke-width="0.8"/>
<circle cx="420.8" cy="318.2" r="2.2" fill="none" stroke="#ff7f0e" stroke-width="0.8"/>
<circle cx="435.2" cy="318.8" r="2.2" fill="none" stroke="#ff7f0e" stroke-width="0.8"/>
<circle cx="449.5" cy="319.4" r="2.2" fill="none" stroke="#ff7f0e" stroke-width="0.8"/>
<circle cx="463.9" cy="320.2" r="2.2" fill="none" stroke="#ff7f0e" stroke-width="0.8"/>
<circle cx="478.3" cy="320.8" r="2.2" fill="none" stroke="#ff7f0e" stroke-width="0.8"/>
<circle cx="492.6" cy="321.4" r="2.2" fill="none" stroke="#ff7f0e" stroke-width="0.8"/>
<circle cx="507.0" cy="322.0" r="2.2" fill="none" stroke="#ff7f0e" stroke-width="0.8"/>
<circle cx="521.3" cy="322.6" r="2.2" fill="none" stroke="#ff7f0e" stroke-width="0.8"/>
<circle cx="535.7" cy="323.2" r="2.2" fill="none" stroke="#ff7f0e" stroke-width="0.8"/>
<circle cx="550.1" cy="323.8" r="2.2" fill="none" stroke="#ff7f0e" stroke-width="0.8"/>
<circle cx="593.1" cy="325.6" r="2.2" fill="none" stroke="#ff7f0e" stroke-width="0.8"/>
<circle cx="664.9" cy="328.9" r="2.2" fill="none" stroke="#ff7f0e" stroke-width="0.8"/>
<polyline points="392.1,318.6 406.5,318.2 420.8,318.6 435.2,319.2 449.5,319.8 463.9,320.6 478.3,321.2 492.6,321.8 507.0,322.4 521.3,323.0 535.7,323.6 550.1,324.2 593.1,325.8 664.9,328.3" fill="none" stroke="#d62728" stroke-width="1.0" stroke-dasharray="3.2 1.8"/>
<circle cx="392.1" cy="318.6" r="2.2" fill="none" stroke="#d62728" stroke-width="0.8"/>
<circle cx="406.5" cy="318.2" r="2.2" fill="none" stroke="#d62728" stroke-width="0.8"/>
<circle cx="420.8" cy="318.6" r="2.2" fill="none" stroke="#d62728" stroke-width="0.8"/>
<circle cx="435.2" cy="319.2" r="2.2" fill="none" stroke="#d62728" stroke-width="0.8"/>
<circle cx="449.5" cy="319.8" r="2.2" fill="none" stroke="#d62728" stroke-width="0.8"/>
<circle cx="463.9" cy="320.6" r="2.2" fill="none" stroke="#d62728" stroke-width="0.8"/>
<circle cx="478.3" cy="321.2" r="2.2" fill="none" stroke="#d62728" stroke-width="0.8"/>
<circle cx="492.6" cy="321.8" r="2.2" fill="none" stroke="#d62728" stroke-width="0.8"/>
<circle cx="507.0" cy="322.4" r="2.2" fill="none" stroke="#d62728" stroke-width="0.8"/>
<circle cx="521.3" cy="323.0" r="2.2" fill="none" stroke="#d62728" stroke-width="0.8"/>
<circle cx="535.7" cy="323.6" r="2.2" fill="none" stroke="#d62728" stroke-width="0.8"/>
<circle cx="550.1" cy="324.2" r="2.2" fill="none" stroke="#d62728" stroke-width="0.8"/>
<circle cx="593.1" cy="325.8" r="2.2" fill="none" stroke="#d62728" stroke-width="0.8"/>
<circle cx="664.9" cy="328.3" r="2.2" fill="none" stroke="#d62728" stroke-width="0.8"/>
<line x1="377.80" y1="320.23" x2="678.60" y2="320.23" stroke="#3535f5" stroke-width="1.1"/>
<line x1="478.26" y1="310.20" x2="478.26" y2="342.30" stroke="#111" stroke-width="1.3" stroke-dasharray="2.8 1.7"/>
<rect x="377.80" y="310.20" width="300.80" height="32.10" fill="none" stroke="#666" stroke-width="0.9"/>
<line x1="377.80" y1="342.30" x2="678.60" y2="342.30" stroke="#8a8a9a" stroke-width="1.0"/>
<line x1="375.60" y1="310.20" x2="377.80" y2="310.20" stroke="#444" stroke-width="0.7"/>
<text x="374.6" y="312.7" font-size="7" text-anchor="end" fill="#1c1c1c">0.5</text>
<line x1="375.60" y1="320.23" x2="377.80" y2="320.23" stroke="#444" stroke-width="0.7"/>
<text x="374.6" y="322.7" font-size="7" text-anchor="end" fill="#1c1c1c">0.0</text>
<line x1="375.60" y1="340.29" x2="377.80" y2="340.29" stroke="#444" stroke-width="0.7"/>
<text x="374.6" y="342.8" font-size="7" text-anchor="end" fill="#1c1c1c">−1.0</text>
<line x1="413.64" y1="342.30" x2="413.64" y2="344.50" stroke="#444" stroke-width="0.7"/>
<line x1="449.54" y1="342.30" x2="449.54" y2="344.50" stroke="#444" stroke-width="0.7"/>
<line x1="485.44" y1="342.30" x2="485.44" y2="344.50" stroke="#444" stroke-width="0.7"/>
<line x1="521.34" y1="342.30" x2="521.34" y2="344.50" stroke="#444" stroke-width="0.7"/>
<line x1="557.24" y1="342.30" x2="557.24" y2="344.50" stroke="#444" stroke-width="0.7"/>
<line x1="593.14" y1="342.30" x2="593.14" y2="344.50" stroke="#444" stroke-width="0.7"/>
<line x1="629.04" y1="342.30" x2="629.04" y2="344.50" stroke="#444" stroke-width="0.7"/>
<line x1="664.94" y1="342.30" x2="664.94" y2="344.50" stroke="#444" stroke-width="0.7"/>
<text x="0" y="0" font-size="8.2" text-anchor="middle" fill="#1c1c1c" transform="translate(358.6 326.2) rotate(-90)">log<tspan font-size="6.6" dy="1.8">10</tspan><tspan dy="-1.8">BF</tspan></text>
<text x="528.2" y="306.3" font-size="8" text-anchor="middle" fill="#1c1c1c">0.160 - 0.180 s</text>
<text x="413.6" y="352.0" font-size="7" text-anchor="middle" fill="#1c1c1c">0.25</text>
<text x="449.5" y="352.0" font-size="7" text-anchor="middle" fill="#1c1c1c">0.50</text>
<text x="485.4" y="352.0" font-size="7" text-anchor="middle" fill="#1c1c1c">0.75</text>
<text x="521.3" y="352.0" font-size="7" text-anchor="middle" fill="#1c1c1c">1.00</text>
<text x="557.2" y="352.0" font-size="7" text-anchor="middle" fill="#1c1c1c">1.25</text>
<text x="593.1" y="352.0" font-size="7" text-anchor="middle" fill="#1c1c1c">1.50</text>
<text x="629.0" y="352.0" font-size="7" text-anchor="middle" fill="#1c1c1c">1.75</text>
<text x="664.9" y="352.0" font-size="7" text-anchor="middle" fill="#1c1c1c">2.00</text>
<text x="528.5" y="361.8" font-size="8" text-anchor="middle" fill="#1c1c1c">Scaling Factor</text>
<circle cx="406.8" cy="378.4" r="1.7" fill="none" stroke="#1f77b4" stroke-width="0.8"/>
<text x="417.6" y="381.2" font-size="8" text-anchor="start" fill="#1c1c1c">C1</text>
<circle cx="406.8" cy="386.8" r="1.7" fill="none" stroke="#ff7f0e" stroke-width="0.8"/>
<text x="417.6" y="389.6" font-size="8" text-anchor="start" fill="#1c1c1c">C3</text>
<circle cx="442.6" cy="378.4" r="1.7" fill="none" stroke="#2ca02c" stroke-width="0.8"/>
<text x="453.4" y="381.2" font-size="8" text-anchor="start" fill="#1c1c1c">FC1</text>
<circle cx="442.6" cy="386.8" r="1.7" fill="none" stroke="#d62728" stroke-width="0.8"/>
<text x="453.4" y="389.6" font-size="8" text-anchor="start" fill="#1c1c1c">FC3</text>
<rect x="475.60" y="375.60" width="11.70" height="5.40" fill="#dcdcf8" stroke="none" stroke-width="0.8"/>
<text x="492.6" y="381.0" font-size="8" text-anchor="start" fill="#1c1c1c">Evidence for the null</text>
<line x1="576.70" y1="373.30" x2="576.70" y2="381.50" stroke="#111" stroke-width="1.0" stroke-dasharray="2 1.4"/>
<text x="579.9" y="381.0" font-size="8" text-anchor="start" fill="#1c1c1c">Default Scaling Factor</text>
<text x="6.0" y="129.8" font-size="9.5" text-anchor="start" font-weight="bold" fill="#111">B.i</text>
<line x1="104.12" y1="185.40" x2="104.12" y2="283.60" stroke="#8a8a8a" stroke-width="0.9"/>
<line x1="113.15" y1="185.40" x2="113.15" y2="283.60" stroke="#8a8a8a" stroke-width="0.9"/>
<line x1="125.20" y1="185.40" x2="125.20" y2="283.60" stroke="#8a8a8a" stroke-width="0.9"/>
<g clip-path="url(#clipBi)"><g transform="translate(24.30 0) scale(1.5060 0.2)" fill="none" stroke-width="0.6" stroke-opacity="0.92" vector-effect="non-scaling-stroke"><path vector-effect="non-scaling-stroke" d="M0 1195l1 3 1 3 1 2 1 3 1 0 1 -3 1 -2 1 -2 1 -1 1 0 1 0 1 2 1 3 1 -1 1 -7 1 -6 1 -1 1 1 1 2 1 1 1 0 1 2 1 4 1 6 1 7 1 3 1 -1 1 -4 1 -6 1 -6 1 -3 1 -2 1 0 1 0 1 1 1 0 1 -1 1 0 1 -1 1 -1 1 -2 1 -2 1 -1 1 1 1 3 1 7 1 8 1 5 1 0 1 -4 1 -5 1 1 1 12 1 15 1 -13 1 -41 1 -47 1 -42 1 -27 1 3 1 35 1 58 1 67 1 65 1 49 1 24 1 -3 1 -22 1 -32 1 -34 1 -30 1 -22 1 -14 1 -8 1 -3 1 -4 1 -4 1 -6 1 -5 1 -3 1 -3 1 1 1 5 1 9 1 12 1 10 1 2 1 -3 1 -2 1 6 1 11 1 6 1 -5 1 -12 1 -7 1 2 1 2 1 -5 1 -10 1 -13 1 -11 1 -5 1 4 1 11 1 13 1 12 1 6 1 1 1 -2 1 -3 1 -2 1 0 1 0 1 -1 1 -1 1 0 1 4 1 6 1 4 1 -5 1 -13 1 -12 1 -4 1 4 1 7 1 5 1 2 1 -1 1 -2 1 -3 1 -2 1 1 1 1 1 1 1 2 1 3 1 2 1 0 1 -1 1 0 1 1 1 -1 1 -2 1 -4 1 -4 1 -1 1 2 1 2 1 2 1 3 1 5 1 3 1 1 1 -1 1 -1 1 -3 1 -6 1 -5 1 1 1 5 1 5 1 0 1 -2 1 -2 1 0 1 -1 1 -2 1 -1 1 2 1 2 1 -1 1 -1 1 1 1 1 1 0 1 -1 1 1 1 2 1 2 1 5 1 4 1 0 1 -3 1 -4 1 -6 1 -4 1 0 1 4 1 4 1 2 1 0 1 -1 1 -6 1 -5 1 -2 1 3 1 3 1 0 1 -3 1 -1" stroke="#341a26"/><path vector-effect="non-scaling-stroke" d="M0 1194l1 1 1 0 1 3 1 4 1 5 1 3 1 -2 1 -5 1 -6 1 -6 1 -3 1 1 1 4 1 1 1 -2 1 -3 1 -1 1 0 1 1 1 2 1 2 1 2 1 1 1 -1 1 0 1 2 1 3 1 1 1 -2 1 -2 1 -1 1 1 1 0 1 1 1 0 1 0 1 1 1 0 1 0 1 1 1 1 1 -2 1 -5 1 -5 1 -1 1 1 1 2 1 0 1 -1 1 -1 1 -1 1 4 1 10 1 7 1 -18 1 -43 1 -46 1 -31 1 -8 1 19 1 38 1 45 1 43 1 39 1 32 1 25 1 16 1 0 1 -18 1 -29 1 -30 1 -24 1 -17 1 -8 1 -3 1 -2 1 -3 1 0 1 1 1 -1 1 -4 1 -2 1 2 1 3 1 0 1 0 1 2 1 5 1 4 1 2 1 3 1 3 1 -1 1 -4 1 -2 1 3 1 5 1 -1 1 -8 1 -13 1 -10 1 -1 1 5 1 8 1 8 1 2 1 -2 1 0 1 6 1 7 1 3 1 2 1 1 1 1 1 -4 1 -7 1 -5 1 1 1 7 1 3 1 -5 1 -8 1 -7 1 -1 1 3 1 4 1 3 1 1 1 1 1 0 1 -5 1 -10 1 -6 1 1 1 3 1 1 1 -1 1 0 1 5 1 7 1 6 1 3 1 2 1 -2 1 -6 1 -5 1 -2 1 2 1 2 1 3 1 2 1 2 1 -2 1 -1 1 1 1 4 1 2 1 -2 1 -5 1 -7 1 -5 1 -4 1 -4 1 -4 1 1 1 7 1 8 1 3 1 -1 1 -4 1 -5 1 -4 1 1 1 3 1 2 1 1 1 0 1 2 1 1 1 4 1 4 1 3 1 -2 1 -4 1 -5 1 -3 1 -2 1 0 1 4 1 6 1 6 1 5 1 0 1 -3 1 -2 1 0 1 0 1 0 1 0 1 -1" stroke="#4f1a62"/><path vector-effect="non-scaling-stroke" d="M0 1201l1 -8 1 -11 1 -6 1 -2 1 -4 1 -6 1 -7 1 -4 1 2 1 7 1 9 1 10 1 12 1 11 1 8 1 -2 1 -8 1 -2 1 8 1 8 1 0 1 -4 1 2 1 11 1 4 1 -13 1 -24 1 -19 1 -5 1 4 1 8 1 10 1 14 1 13 1 7 1 0 1 -4 1 -8 1 -10 1 -9 1 -8 1 -3 1 1 1 5 1 6 1 0 1 -6 1 -6 1 -4 1 -5 1 -3 1 4 1 13 1 16 1 11 1 4 1 -2 1 -8 1 -9 1 -5 1 3 1 6 1 -1 1 -10 1 -11 1 -6 1 -2 1 -2 1 3 1 7 1 6 1 1 1 -4 1 -5 1 -4 1 -2 1 2 1 7 1 5 1 -4 1 -12 1 -14 1 -7 1 3 1 13 1 16 1 8 1 -2 1 -5 1 0 1 1 1 -2 1 -8 1 -8 1 -5 1 -2 1 0 1 7 1 12 1 10 1 4 1 1 1 6 1 15 1 17 1 12 1 2 1 -11 1 -20 1 -20 1 -9 1 -1 1 3 1 5 1 5 1 6 1 4 1 -1 1 -7 1 -9 1 -7 1 2 1 11 1 11 1 -1 1 -14 1 -17 1 -15 1 -6 1 4 1 10 1 6 1 3 1 2 1 2 1 4 1 5 1 7 1 5 1 0 1 -6 1 -8 1 -8 1 -4 1 -1 1 2 1 5 1 6 1 7 1 6 1 6 1 3 1 1 1 4 1 5 1 -4 1 -17 1 -15 1 -4 1 6 1 8 1 7 1 8 1 8 1 -1 1 -8 1 -9 1 -5 1 -1 1 3 1 3 1 3 1 7 1 8 1 -2 1 -12 1 -12 1 0 1 4 1 1 1 -3 1 -3 1 -1 1 2 1 4 1 7 1 6 1 0 1 -6 1 -5 1 -2 1 -3 1 -8 1 -9 1 -6 1 -2 1 3 1 7 1 7 1 3" stroke="#1a9e62"/><path vector-effect="non-scaling-stroke" d="M0 1199l1 -8 1 -7 1 -6 1 -7 1 -5 1 0 1 2 1 2 1 3 1 5 1 7 1 6 1 6 1 11 1 10 1 2 1 -5 1 -5 1 1 1 1 1 -5 1 -4 1 2 1 6 1 -1 1 -12 1 -15 1 -7 1 3 1 6 1 6 1 5 1 6 1 6 1 4 1 0 1 -2 1 -4 1 -5 1 -6 1 -3 1 2 1 4 1 2 1 -3 1 -7 1 -7 1 -5 1 -5 1 -4 1 -1 1 7 1 12 1 13 1 15 1 19 1 22 1 22 1 14 1 -2 1 -22 1 -39 1 -49 1 -54 1 -52 1 -40 1 -22 1 4 1 29 1 41 1 39 1 31 1 23 1 15 1 5 1 -2 1 -3 1 1 1 1 1 -4 1 -7 1 -7 1 -4 1 -2 1 3 1 9 1 8 1 2 1 -6 1 -11 1 -11 1 -7 1 1 1 6 1 5 1 -1 1 -3 1 2 1 10 1 15 1 18 1 17 1 10 1 1 1 -6 1 -9 1 -6 1 -5 1 -5 1 -2 1 4 1 3 1 -2 1 -7 1 -9 1 -8 1 -7 1 -4 1 1 1 1 1 1 1 3 1 7 1 3 1 -5 1 -8 1 -4 1 3 1 4 1 0 1 -4 1 -2 1 3 1 5 1 3 1 2 1 4 1 5 1 4 1 -3 1 -8 1 -10 1 -8 1 -1 1 8 1 11 1 4 1 -3 1 -3 1 2 1 5 1 5 1 3 1 4 1 2 1 -1 1 -6 1 -8 1 -4 1 5 1 8 1 5 1 3 1 -1 1 -5 1 -6 1 -6 1 -6 1 -6 1 -4 1 -3 1 -2 1 2 1 8 1 9 1 4 1 -4 1 -5 1 -1 1 0 1 1 1 -2 1 -1 1 1 1 7 1 7 1 1 1 -6 1 -9 1 -7 1 -3 1 -1 1 2 1 4 1 4 1 3 1 3 1 1 1 -4 1 -5" stroke="#4f9ecb"/><path vector-effect="non-scaling-stroke" d="M0 1184l1 7 1 11 1 6 1 3 1 7 1 9 1 7 1 -3 1 -11 1 -12 1 -8 1 -5 1 -9 1 -13 1 -9 1 0 1 7 1 4 1 -3 1 -4 1 1 1 3 1 -1 1 -4 1 2 1 16 1 24 1 17 1 2 1 -11 1 -12 1 -8 1 -6 1 -5 1 -5 1 -3 1 0 1 6 1 11 1 10 1 5 1 -2 1 -5 1 -6 1 -1 1 2 1 4 1 2 1 1 1 4 1 5 1 4 1 4 1 0 1 -20 1 -38 1 -38 1 -29 1 -10 1 13 1 27 1 31 1 34 1 33 1 27 1 19 1 10 1 1 1 -11 1 -20 1 -19 1 -13 1 -8 1 -4 1 -2 1 -2 1 1 1 -1 1 -3 1 -3 1 2 1 6 1 8 1 2 1 -7 1 -12 1 -8 1 1 1 6 1 11 1 12 1 11 1 4 1 -1 1 -3 1 1 1 -1 1 -7 1 -15 1 -16 1 -13 1 -11 1 -8 1 -3 1 0 1 0 1 0 1 3 1 8 1 7 1 3 1 4 1 6 1 7 1 4 1 2 1 1 1 0 1 -1 1 1 1 0 1 -2 1 -4 1 -1 1 8 1 12 1 11 1 2 1 -8 1 -10 1 -6 1 -2 1 -1 1 -1 1 3 1 2 1 -4 1 -11 1 -7 1 5 1 13 1 11 1 4 1 -4 1 -11 1 -11 1 -2 1 8 1 5 1 -4 1 -10 1 -6 1 -3 1 -3 1 -4 1 2 1 9 1 10 1 4 1 -5 1 -5 1 -3 1 -4 1 -5 1 1 1 5 1 5 1 4 1 4 1 4 1 -1 1 -5 1 -8 1 -7 1 -2 1 5 1 6 1 1 1 -2 1 3 1 7 1 6 1 3 1 0 1 -5 1 -9 1 -6 1 2 1 10 1 10 1 5 1 -1 1 -3 1 0 1 3 1 4 1 1 1 -3 1 -5 1 -6" stroke="#b8347a"/><path vector-effect="non-scaling-stroke" d="M0 1191l1 0 1 4 1 2 1 2 1 7 1 11 1 11 1 2 1 -7 1 -9 1 -6 1 -3 1 -2 1 -3 1 -4 1 -2 1 1 1 -1 1 -2 1 -1 1 0 1 0 1 -4 1 -6 1 -3 1 5 1 13 1 11 1 3 1 -5 1 -6 1 -6 1 -3 1 -3 1 -3 1 -5 1 -3 1 0 1 8 1 11 1 10 1 3 1 -1 1 -2 1 -1 1 1 1 -1 1 -3 1 -4 1 0 1 3 1 3 1 2 1 -2 1 -9 1 -11 1 -4 1 1 1 2 1 2 1 1 1 -1 1 -1 1 0 1 -3 1 -7 1 -4 1 0 1 2 1 3 1 7 1 10 1 10 1 5 1 -1 1 0 1 1 1 0 1 0 1 3 1 2 1 1 1 1 1 2 1 1 1 -3 1 -3 1 -4 1 -6 1 -5 1 0 1 4 1 3 1 2 1 -1 1 0 1 -2 1 -2 1 -4 1 -2 1 -2 1 -2 1 -2 1 -4 1 -8 1 -10 1 -10 1 -4 1 7 1 10 1 7 1 5 1 7 1 10 1 5 1 -1 1 -3 1 -2 1 -2 1 0 1 1 1 1 1 -1 1 0 1 3 1 5 1 2 1 -2 1 -3 1 -1 1 0 1 2 1 0 1 0 1 -2 1 -3 1 -7 1 -7 1 -5 1 0 1 5 1 5 1 1 1 -2 1 -2 1 3 1 4 1 5 1 2 1 -4 1 -5 1 -2 1 0 1 0 1 0 1 5 1 10 1 10 1 4 1 -5 1 -7 1 -5 1 -9 1 -11 1 -4 1 4 1 7 1 5 1 2 1 -4 1 -7 1 -8 1 -7 1 -2 1 5 1 12 1 9 1 2 1 -1 1 -2 1 0 1 2 1 3 1 0 1 -5 1 -5 1 -1 1 5 1 6 1 2 1 -3 1 -3 1 3 1 8 1 8 1 5 1 1 1 -3 1 -7 1 -7" stroke="#9e4fcb"/><path vector-effect="non-scaling-stroke" d="M0 1183l1 11 1 10 1 3 1 0 1 4 1 7 1 5 1 0 1 -5 1 -7 1 -8 1 -6 1 -5 1 -6 1 -3 1 4 1 9 1 3 1 -5 1 -5 1 2 1 2 1 -5 1 -10 1 -7 1 5 1 14 1 13 1 3 1 -4 1 -6 1 -3 1 -2 1 -5 1 -6 1 -3 1 0 1 2 1 5 1 9 1 7 1 1 1 -1 1 3 1 4 1 2 1 -1 1 -2 1 0 1 3 1 2 1 -2 1 -10 1 -15 1 -12 1 -3 1 -1 1 -4 1 -8 1 -2 1 5 1 10 1 14 1 19 1 21 1 17 1 10 1 -3 1 -14 1 -17 1 -11 1 -4 1 -2 1 -1 1 1 1 1 1 -3 1 -3 1 1 1 3 1 7 1 11 1 9 1 2 1 -6 1 -8 1 -8 1 -5 1 -4 1 -3 1 4 1 11 1 9 1 2 1 -3 1 -1 1 5 1 3 1 -6 1 -9 1 -8 1 -7 1 -9 1 -9 1 -8 1 -5 1 -2 1 6 1 13 1 12 1 9 1 5 1 0 1 -4 1 -2 1 1 1 0 1 -2 1 -4 1 -3 1 1 1 1 1 -2 1 -3 1 2 1 6 1 8 1 7 1 0 1 -9 1 -6 1 1 1 5 1 4 1 1 1 -5 1 -12 1 -13 1 -5 1 8 1 16 1 14 1 8 1 -3 1 -10 1 -9 1 -5 1 -1 1 0 1 -2 1 -3 1 -5 1 -7 1 -5 1 0 1 7 1 9 1 6 1 0 1 -4 1 -1 1 1 1 -4 1 -6 1 1 1 5 1 5 1 6 1 6 1 4 1 -1 1 -2 1 -3 1 -4 1 -3 1 -1 1 3 1 2 1 -1 1 -3 1 -3 1 -1 1 2 1 2 1 -1 1 -5 1 -4 1 1 1 4 1 4 1 5 1 8 1 7 1 5 1 1 1 -1 1 -2 1 -3 1 -3 1 -2" stroke="#b84fa5"/><path vector-effect="non-scaling-stroke" d="M0 1196l1 4 1 1 1 -3 1 -3 1 2 1 9 1 13 1 8 1 -1 1 -7 1 -9 1 -5 1 -1 1 -3 1 -4 1 -4 1 -2 1 -1 1 -4 1 -5 1 0 1 5 1 5 1 1 1 1 1 7 1 9 1 5 1 1 1 -1 1 -2 1 -7 1 -12 1 -11 1 -5 1 1 1 2 1 2 1 2 1 3 1 3 1 3 1 2 1 4 1 4 1 3 1 2 1 -2 1 -2 1 0 1 1 1 1 1 -1 1 -4 1 -12 1 -19 1 -16 1 -10 1 -3 1 4 1 13 1 16 1 14 1 13 1 12 1 9 1 0 1 -10 1 -15 1 -12 1 -4 1 3 1 7 1 5 1 1 1 0 1 5 1 5 1 -2 1 -6 1 0 1 4 1 3 1 1 1 -3 1 -6 1 -4 1 0 1 1 1 -1 1 0 1 7 1 9 1 7 1 1 1 0 1 -3 1 -2 1 -1 1 -1 1 -2 1 -1 1 -4 1 -7 1 -10 1 -11 1 -8 1 0 1 4 1 -1 1 -5 1 -2 1 3 1 8 1 7 1 5 1 3 1 3 1 4 1 0 1 -4 1 -7 1 -5 1 0 1 2 1 3 1 6 1 7 1 3 1 -2 1 -8 1 -8 1 -3 1 4 1 10 1 5 1 -6 1 -10 1 -3 1 5 1 7 1 5 1 4 1 -1 1 -4 1 -4 1 -4 1 -2 1 -2 1 -2 1 -1 1 4 1 5 1 0 1 -1 1 0 1 3 1 4 1 2 1 -1 1 -5 1 -5 1 -4 1 -3 1 1 1 3 1 3 1 -1 1 -3 1 -2 1 -1 1 -1 1 -1 1 -1 1 4 1 6 1 2 1 -2 1 0 1 5 1 9 1 7 1 0 1 -4 1 -4 1 -5 1 -6 1 -4 1 -2 1 -1 1 2 1 7 1 8 1 5 1 2 1 1 1 0 1 -1 1 -2 1 -3" stroke="#8334b9"/><path vector-effect="non-scaling-stroke" d="M0 1192l1 -9 1 -8 1 -3 1 0 1 0 1 -1 1 -4 1 -3 1 0 1 5 1 8 1 12 1 13 1 13 1 8 1 -1 1 -8 1 -3 1 5 1 8 1 -1 1 -11 1 -8 1 2 1 2 1 -8 1 -15 1 -10 1 1 1 7 1 8 1 7 1 6 1 6 1 4 1 0 1 -5 1 -7 1 -5 1 -4 1 -3 1 -3 1 -2 1 0 1 1 1 -2 1 -4 1 -4 1 -4 1 -5 1 -2 1 4 1 15 1 24 1 19 1 5 1 -8 1 -17 1 -19 1 -13 1 -6 1 -3 1 -6 1 -10 1 -12 1 -6 1 1 1 11 1 19 1 19 1 10 1 -1 1 -7 1 -4 1 -1 1 0 1 -1 1 0 1 0 1 -2 1 -7 1 -10 1 -7 1 1 1 11 1 16 1 11 1 2 1 -7 1 -11 1 -10 1 -5 1 1 1 7 1 9 1 1 1 -7 1 -5 1 4 1 10 1 9 1 9 1 9 1 7 1 7 1 8 1 2 1 -7 1 -16 1 -14 1 -7 1 -1 1 0 1 2 1 1 1 0 1 0 1 1 1 0 1 -2 1 -3 1 0 1 7 1 8 1 2 1 -8 1 -12 1 -7 1 -1 1 3 1 -2 1 -2 1 1 1 6 1 8 1 7 1 4 1 3 1 5 1 1 1 -9 1 -15 1 -11 1 -2 1 7 1 9 1 6 1 1 1 -1 1 3 1 4 1 0 1 0 1 4 1 6 1 0 1 -8 1 -11 1 -4 1 4 1 7 1 5 1 3 1 3 1 1 1 -2 1 -3 1 -3 1 -5 1 -6 1 -1 1 4 1 7 1 5 1 0 1 -6 1 -9 1 -7 1 -4 1 -3 1 0 1 3 1 6 1 6 1 8 1 8 1 3 1 -4 1 -9 1 -7 1 -6 1 -5 1 -3 1 0 1 0 1 1 1 2 1 1 1 2 1 2" stroke="#1a837a"/><path vector-effect="non-scaling-stroke" d="M0 1189l1 -3 1 -3 1 0 1 -2 1 -2 1 -2 1 1 1 2 1 2 1 4 1 5 1 3 1 3 1 7 1 7 1 2 1 -5 1 -6 1 -3 1 -2 1 1 1 2 1 4 1 4 1 -2 1 -10 1 -10 1 -5 1 4 1 4 1 1 1 0 1 2 1 4 1 3 1 1 1 -3 1 -6 1 -7 1 -2 1 2 1 5 1 5 1 3 1 -2 1 -5 1 -8 1 -5 1 -3 1 -2 1 3 1 5 1 -1 1 -5 1 18 1 45 1 51 1 42 1 24 1 -5 1 -33 1 -50 1 -54 1 -49 1 -44 1 -43 1 -40 1 -27 1 -4 1 22 1 39 1 45 1 38 1 26 1 13 1 8 1 4 1 1 1 -4 1 -6 1 -4 1 -3 1 -2 1 0 1 3 1 6 1 5 1 1 1 -6 1 -10 1 -9 1 -5 1 1 1 2 1 1 1 -3 1 -1 1 9 1 16 1 16 1 10 1 7 1 3 1 -3 1 -10 1 -11 1 -6 1 2 1 7 1 8 1 4 1 0 1 -6 1 -9 1 -10 1 -7 1 -3 1 0 1 4 1 4 1 1 1 -2 1 0 1 0 1 -1 1 -4 1 -6 1 -6 1 -3 1 -2 1 -2 1 0 1 3 1 6 1 6 1 4 1 3 1 5 1 5 1 0 1 -3 1 -4 1 -2 1 0 1 3 1 2 1 -1 1 -3 1 -2 1 1 1 3 1 4 1 5 1 6 1 3 1 -3 1 -5 1 -4 1 1 1 5 1 0 1 -7 1 -8 1 -2 1 3 1 1 1 0 1 0 1 1 1 1 1 -1 1 -3 1 -1 1 4 1 5 1 1 1 -3 1 -5 1 -4 1 -2 1 -1 1 1 1 3 1 3 1 5 1 5 1 4 1 0 1 -8 1 -10 1 -6 1 3 1 10 1 8 1 1 1 -3 1 -3 1 -2 1 -3 1 -1" stroke="#699edc"/><path vector-effect="non-scaling-stroke" d="M0 1189l1 8 1 10 1 8 1 6 1 3 1 -1 1 -2 1 -5 1 -6 1 -7 1 -5 1 -5 1 -6 1 -9 1 -6 1 0 1 1 1 -1 1 -4 1 -3 1 0 1 3 1 2 1 -1 1 5 1 16 1 18 1 8 1 -4 1 -8 1 -7 1 -7 1 -10 1 -11 1 -8 1 -3 1 4 1 11 1 12 1 9 1 7 1 4 1 1 1 -1 1 0 1 1 1 2 1 2 1 5 1 6 1 2 1 -10 1 -20 1 -19 1 -10 1 -5 1 -5 1 -5 1 0 1 6 1 12 1 17 1 23 1 29 1 26 1 19 1 9 1 -6 1 -19 1 -26 1 -21 1 -12 1 -9 1 -9 1 -4 1 2 1 4 1 1 1 -1 1 3 1 8 1 10 1 7 1 0 1 -8 1 -11 1 -7 1 -1 1 4 1 8 1 12 1 10 1 3 1 -3 1 -4 1 -1 1 1 1 -5 1 -9 1 -6 1 -1 1 -2 1 -8 1 -12 1 -9 1 -4 1 0 1 5 1 7 1 3 1 1 1 4 1 9 1 6 1 4 1 -1 1 -4 1 -6 1 -3 1 4 1 6 1 0 1 -5 1 -5 1 3 1 10 1 11 1 8 1 2 1 -5 1 -5 1 -5 1 -9 1 -11 1 -6 1 2 1 5 1 -2 1 -5 1 1 1 10 1 11 1 4 1 -4 1 -9 1 -7 1 -3 1 1 1 2 1 0 1 -1 1 -5 1 -8 1 -10 1 -4 1 8 1 17 1 15 1 2 1 -10 1 -12 1 -7 1 -1 1 3 1 5 1 4 1 5 1 8 1 8 1 4 1 1 1 -2 1 -5 1 -8 1 -5 1 1 1 3 1 -1 1 -3 1 2 1 3 1 2 1 -1 1 -3 1 -4 1 -7 1 -3 1 2 1 5 1 4 1 3 1 2 1 2 1 0 1 1 1 3 1 2 1 1 1 -2 1 -3" stroke="#d2697a"/><path vector-effect="non-scaling-stroke" d="M0 1190l1 1 1 3 1 5 1 5 1 0 1 -8 1 -15 1 -12 1 -4 1 -2 1 -3 1 -1 1 6 1 9 1 8 1 4 1 3 1 4 1 4 1 0 1 0 1 1 1 4 1 6 1 5 1 -3 1 -10 1 -10 1 -8 1 -4 1 2 1 5 1 5 1 6 1 7 1 6 1 7 1 3 1 -4 1 -11 1 -11 1 -3 1 2 1 5 1 6 1 3 1 0 1 1 1 -1 1 -2 1 -9 1 -12 1 -14 1 -7 1 15 1 29 1 22 1 11 1 5 1 1 1 0 1 8 1 20 1 27 1 27 1 20 1 8 1 -5 1 -20 1 -29 1 -37 1 -37 1 -28 1 -15 1 -6 1 -2 1 -1 1 1 1 1 1 -2 1 -2 1 0 1 6 1 11 1 13 1 4 1 -7 1 -8 1 3 1 14 1 11 1 -2 1 -13 1 -14 1 -7 1 1 1 4 1 5 1 3 1 4 1 5 1 5 1 4 1 2 1 3 1 8 1 13 1 5 1 -10 1 -17 1 -9 1 1 1 4 1 1 1 -2 1 0 1 3 1 1 1 -6 1 -7 1 -2 1 0 1 0 1 -2 1 -3 1 -3 1 1 1 3 1 5 1 6 1 5 1 2 1 -2 1 -7 1 -7 1 -1 1 6 1 9 1 4 1 -3 1 -10 1 -9 1 -1 1 7 1 7 1 1 1 -4 1 -6 1 -3 1 4 1 5 1 0 1 -3 1 -3 1 -1 1 -1 1 -2 1 -4 1 -5 1 -4 1 -4 1 4 1 12 1 15 1 8 1 -5 1 -6 1 0 1 3 1 4 1 3 1 4 1 2 1 -4 1 -7 1 -5 1 6 1 11 1 4 1 -11 1 -20 1 -15 1 -2 1 7 1 9 1 7 1 6 1 4 1 3 1 3 1 -2 1 -11 1 -19 1 -14 1 -3 1 4 1 2 1 0 1 3 1 10" stroke="#83ed00"/><path vector-effect="non-scaling-stroke" d="M0 1193l1 4 1 3 1 -2 1 -4 1 -1 1 4 1 7 1 5 1 0 1 -2 1 -2 1 -4 1 -6 1 -6 1 -2 1 1 1 3 1 4 1 1 1 -2 1 -3 1 0 1 1 1 -4 1 -5 1 1 1 8 1 6 1 0 1 -3 1 -3 1 1 1 -1 1 -2 1 -3 1 -2 1 2 1 4 1 4 1 3 1 0 1 1 1 1 1 0 1 -1 1 -2 1 -4 1 -6 1 -1 1 6 1 10 1 8 1 -3 1 -10 1 -1 1 15 1 23 1 24 1 15 1 2 1 -15 1 -27 1 -29 1 -23 1 -15 1 -15 1 -18 1 -18 1 -8 1 5 1 14 1 17 1 19 1 18 1 12 1 9 1 6 1 4 1 2 1 3 1 5 1 1 1 -2 1 -5 1 -7 1 -6 1 0 1 3 1 2 1 -3 1 -6 1 -2 1 3 1 5 1 4 1 2 1 2 1 0 1 -3 1 -3 1 -2 1 -5 1 -9 1 -9 1 -7 1 -6 1 -4 1 3 1 13 1 20 1 19 1 10 1 1 1 -8 1 -12 1 -11 1 -6 1 -3 1 -2 1 -1 1 -1 1 2 1 4 1 6 1 4 1 -2 1 -3 1 -3 1 -4 1 -2 1 1 1 2 1 2 1 2 1 2 1 2 1 0 1 -2 1 -3 1 -2 1 2 1 3 1 1 1 -2 1 -6 1 -5 1 -2 1 1 1 2 1 2 1 2 1 3 1 3 1 3 1 4 1 5 1 2 1 1 1 -1 1 -2 1 -3 1 -6 1 -7 1 -5 1 -1 1 2 1 -1 1 -2 1 0 1 3 1 2 1 -2 1 -4 1 -3 1 0 1 1 1 1 1 -3 1 0 1 5 1 8 1 5 1 0 1 -2 1 -3 1 1 1 2 1 0 1 -5 1 -5 1 -2 1 3 1 4 1 4 1 3 1 3 1 3 1 0 1 -3 1 -7" stroke="#9e69dc"/><path vector-effect="non-scaling-stroke" d="M0 1192l1 6 1 7 1 4 1 2 1 0 1 0 1 -2 1 -3 1 -3 1 -3 1 -3 1 -3 1 -3 1 -4 1 -5 1 -4 1 1 1 4 1 4 1 0 1 3 1 8 1 5 1 -3 1 -6 1 0 1 4 1 1 1 -1 1 -3 1 -2 1 -1 1 0 1 -1 1 -4 1 -2 1 2 1 5 1 5 1 1 1 -3 1 -3 1 -1 1 -2 1 1 1 7 1 11 1 12 1 7 1 1 1 -7 1 -12 1 -13 1 -11 1 -3 1 8 1 17 1 22 1 21 1 11 1 -3 1 -12 1 -9 1 2 1 11 1 12 1 6 1 -7 1 -15 1 -18 1 -15 1 -11 1 -6 1 0 1 4 1 3 1 -2 1 -3 1 -1 1 5 1 10 1 9 1 4 1 -2 1 -8 1 -11 1 -9 1 -3 1 5 1 7 1 3 1 -3 1 -7 1 -7 1 -2 1 4 1 6 1 3 1 2 1 0 1 -2 1 -4 1 -4 1 -2 1 3 1 3 1 0 1 -6 1 -7 1 -8 1 -5 1 1 1 7 1 10 1 11 1 10 1 5 1 -2 1 -9 1 -7 1 0 1 3 1 2 1 0 1 2 1 3 1 5 1 2 1 -2 1 -2 1 -2 1 -3 1 -5 1 -5 1 -2 1 2 1 2 1 -1 1 -2 1 0 1 4 1 5 1 2 1 0 1 -3 1 -4 1 -3 1 0 1 2 1 3 1 0 1 0 1 0 1 1 1 -1 1 -2 1 -2 1 -2 1 -5 1 -5 1 -2 1 5 1 5 1 2 1 1 1 4 1 6 1 5 1 4 1 3 1 -2 1 -6 1 -5 1 -4 1 -2 1 -1 1 1 1 4 1 3 1 -3 1 -7 1 -3 1 1 1 2 1 1 1 1 1 4 1 2 1 2 1 0 1 -1 1 -6 1 -8 1 -7 1 1 1 4 1 4 1 1 1 -3 1 -4" stroke="#b8b87a"/><path vector-effect="non-scaling-stroke" d="M0 1203l1 -5 1 -11 1 -6 1 1 1 -3 1 -8 1 -10 1 -5 1 2 1 3 1 4 1 7 1 11 1 11 1 7 1 0 1 -1 1 4 1 10 1 8 1 3 1 0 1 4 1 6 1 -3 1 -21 1 -31 1 -22 1 -3 1 10 1 14 1 11 1 8 1 8 1 10 1 10 1 2 1 -9 1 -14 1 -14 1 -7 1 0 1 3 1 3 1 2 1 1 1 2 1 1 1 -3 1 -8 1 -8 1 -4 1 -4 1 2 1 18 1 27 1 17 1 5 1 -3 1 -6 1 -6 1 -3 1 3 1 9 1 18 1 23 1 22 1 13 1 1 1 -11 1 -24 1 -33 1 -30 1 -19 1 -10 1 -7 1 -6 1 0 1 4 1 1 1 -8 1 -12 1 -6 1 3 1 12 1 12 1 5 1 2 1 6 1 11 1 5 1 -6 1 -11 1 -8 1 -3 1 -4 1 -6 1 -2 1 6 1 7 1 6 1 8 1 14 1 17 1 14 1 10 1 5 1 -8 1 -23 1 -23 1 -11 1 0 1 2 1 2 1 4 1 6 1 3 1 -2 1 -6 1 -7 1 -1 1 7 1 11 1 5 1 -5 1 -10 1 -9 1 -5 1 -1 1 0 1 3 1 4 1 4 1 2 1 0 1 3 1 8 1 10 1 6 1 0 1 -10 1 -14 1 -10 1 2 1 10 1 7 1 -1 1 -5 1 -2 1 4 1 5 1 5 1 6 1 7 1 1 1 -8 1 -13 1 -12 1 -4 1 2 1 3 1 3 1 7 1 10 1 7 1 -2 1 -6 1 -7 1 -4 1 1 1 8 1 10 1 10 1 2 1 -7 1 -13 1 -11 1 -3 1 1 1 -4 1 -8 1 -5 1 1 1 6 1 8 1 6 1 2 1 0 1 1 1 1 1 -1 1 -7 1 -8 1 -5 1 -3 1 -4 1 -7 1 -4 1 4 1 11" stroke="#34d226"/><path vector-effect="non-scaling-stroke" d="M0 1198l1 7 1 9 1 7 1 6 1 3 1 1 1 -2 1 -4 1 -6 1 -8 1 -5 1 -4 1 -7 1 -12 1 -9 1 -2 1 1 1 -2 1 -5 1 -3 1 5 1 9 1 0 1 -9 1 1 1 20 1 29 1 18 1 -3 1 -14 1 -10 1 -3 1 -4 1 -9 1 -10 1 -6 1 1 1 4 1 5 1 4 1 1 1 -3 1 -1 1 1 1 6 1 11 1 10 1 5 1 0 1 -3 1 -4 1 -6 1 -1 1 3 1 -12 1 -32 1 -36 1 -37 1 -40 1 -30 1 0 1 47 1 86 1 96 1 78 1 45 1 12 1 -19 1 -41 1 -48 1 -40 1 -26 1 -14 1 -6 1 -3 1 -2 1 -2 1 -3 1 -5 1 -6 1 -2 1 5 1 9 1 5 1 0 1 -3 1 1 1 7 1 11 1 11 1 6 1 -1 1 -6 1 -8 1 -1 1 11 1 14 1 2 1 -14 1 -23 1 -20 1 -13 1 -4 1 3 1 5 1 1 1 -5 1 -1 1 7 1 8 1 5 1 5 1 5 1 4 1 4 1 4 1 3 1 0 1 0 1 2 1 1 1 -7 1 -9 1 -4 1 8 1 12 1 8 1 -2 1 -6 1 -4 1 3 1 2 1 -3 1 -11 1 -10 1 -2 1 2 1 1 1 -1 1 1 1 7 1 11 1 8 1 0 1 -7 1 -10 1 -4 1 4 1 6 1 1 1 -3 1 -6 1 -7 1 -6 1 -5 1 -2 1 -1 1 1 1 1 1 -1 1 0 1 -2 1 -3 1 -5 1 1 1 8 1 9 1 8 1 8 1 7 1 6 1 1 1 -3 1 -7 1 -6 1 -2 1 -1 1 -5 1 -8 1 -2 1 5 1 7 1 3 1 -1 1 -6 1 -7 1 -3 1 3 1 8 1 8 1 7 1 7 1 1 1 -3 1 -4 1 -2 1 -3 1 -2 1 1 1 -1" stroke="#830000"/><path vector-effect="non-scaling-stroke" d="M0 1187l1 16 1 15 1 10 1 7 1 8 1 3 1 -7 1 -12 1 -10 1 -8 1 -7 1 -8 1 -10 1 -16 1 -13 1 2 1 13 1 5 1 -10 1 -11 1 3 1 9 1 0 1 -9 1 5 1 29 1 34 1 16 1 -9 1 -21 1 -12 1 -3 1 -2 1 -7 1 -9 1 -8 1 -4 1 2 1 8 1 10 1 6 1 -2 1 -3 1 1 1 7 1 12 1 10 1 7 1 7 1 6 1 -2 1 -12 1 -14 1 -13 1 -30 1 -42 1 -30 1 -9 1 10 1 23 1 29 1 32 1 41 1 48 1 48 1 39 1 18 1 -9 1 -30 1 -35 1 -32 1 -28 1 -24 1 -16 1 -6 1 -1 1 1 1 0 1 -1 1 5 1 12 1 14 1 7 1 -2 1 -10 1 -17 1 -15 1 -4 1 9 1 18 1 18 1 11 1 -1 1 -5 1 -3 1 4 1 4 1 -5 1 -15 1 -18 1 -19 1 -20 1 -15 1 -4 1 8 1 16 1 19 1 19 1 18 1 14 1 10 1 8 1 1 1 -7 1 -11 1 -12 1 -10 1 -8 1 -3 1 3 1 5 1 0 1 -6 1 -7 1 1 1 13 1 20 1 13 1 1 1 -5 1 -4 1 -3 1 -8 1 -11 1 -6 1 1 1 -1 1 -8 1 -7 1 7 1 15 1 13 1 4 1 -4 1 -11 1 -13 1 -3 1 5 1 5 1 -4 1 -8 1 -8 1 -10 1 -12 1 -6 1 2 1 9 1 8 1 -2 1 -12 1 -10 1 0 1 7 1 8 1 8 1 10 1 11 1 10 1 5 1 1 1 0 1 1 1 -3 1 -12 1 -11 1 -1 1 7 1 6 1 1 1 -2 1 -1 1 -1 1 -1 1 -5 1 -11 1 -12 1 0 1 12 1 16 1 13 1 11 1 5 1 -3 1 -7 1 -4 1 -4 1 -6 1 -7 1 -4 1 -2" stroke="#ed6900"/><path vector-effect="non-scaling-stroke" d="M0 1193l1 -3 1 -4 1 1 1 7 1 7 1 1 1 -1 1 -2 1 -3 1 -6 1 -4 1 4 1 10 1 8 1 2 1 -7 1 -9 1 -5 1 3 1 6 1 3 1 2 1 3 1 4 1 0 1 -7 1 -10 1 -7 1 -3 1 2 1 2 1 3 1 3 1 7 1 9 1 6 1 1 1 -5 1 -8 1 -6 1 -2 1 -1 1 -3 1 -1 1 0 1 4 1 3 1 2 1 -4 1 -4 1 0 1 4 1 11 1 17 1 1 1 -20 1 -25 1 -29 1 -34 1 -24 1 5 1 34 1 54 1 57 1 47 1 30 1 10 1 -10 1 -25 1 -30 1 -27 1 -18 1 -13 1 -9 1 -8 1 -9 1 -10 1 -9 1 -3 1 0 1 0 1 -1 1 1 1 6 1 10 1 10 1 6 1 2 1 -4 1 -5 1 -4 1 0 1 3 1 4 1 3 1 0 1 0 1 0 1 0 1 -5 1 -10 1 -7 1 2 1 13 1 15 1 11 1 4 1 -1 1 -2 1 -2 1 -1 1 -2 1 -2 1 -1 1 0 1 2 1 0 1 -4 1 -2 1 -1 1 -3 1 -4 1 -5 1 -3 1 1 1 2 1 0 1 -3 1 0 1 2 1 3 1 2 1 2 1 0 1 -1 1 0 1 1 1 4 1 7 1 3 1 -3 1 -7 1 -6 1 -2 1 3 1 7 1 3 1 1 1 1 1 -1 1 -2 1 -3 1 1 1 6 1 7 1 1 1 -8 1 -10 1 -3 1 4 1 6 1 1 1 -3 1 -6 1 -5 1 -4 1 0 1 2 1 0 1 2 1 6 1 10 1 10 1 7 1 -2 1 -10 1 -9 1 -5 1 0 1 -1 1 0 1 1 1 0 1 0 1 1 1 2 1 2 1 -1 1 -2 1 -2 1 0 1 1 1 2 1 1 1 -1 1 -2 1 -1 1 3 1 5 1 5" stroke="#1a3426"/><path vector-effect="non-scaling-stroke" d="M0 1189l1 -1 1 0 1 -2 1 -4 1 -1 1 6 1 11 1 9 1 4 1 -3 1 -6 1 -7 1 -5 1 3 1 11 1 8 1 -1 1 -8 1 -5 1 -3 1 -3 1 -5 1 -2 1 3 1 4 1 -1 1 -4 1 1 1 10 1 9 1 1 1 -6 1 -5 1 -4 1 -4 1 -2 1 3 1 4 1 3 1 1 1 -2 1 0 1 1 1 -1 1 -1 1 -1 1 -5 1 -9 1 -7 1 -1 1 6 1 12 1 15 1 13 1 6 1 4 1 15 1 24 1 16 1 -4 1 -30 1 -48 1 -57 1 -55 1 -45 1 -28 1 -8 1 14 1 35 1 45 1 42 1 31 1 18 1 9 1 6 1 5 1 0 1 -5 1 -6 1 -4 1 -3 1 -3 1 0 1 0 1 -1 1 2 1 4 1 3 1 -5 1 -10 1 -8 1 0 1 7 1 8 1 5 1 -2 1 -4 1 2 1 10 1 16 1 17 1 9 1 -5 1 -15 1 -17 1 -15 1 -12 1 -3 1 11 1 18 1 12 1 1 1 -6 1 -9 1 -8 1 -5 1 -3 1 -2 1 0 1 0 1 0 1 -1 1 0 1 0 1 3 1 4 1 0 1 -4 1 -2 1 1 1 2 1 2 1 4 1 6 1 2 1 -3 1 -6 1 -4 1 -3 1 -4 1 -5 1 -3 1 0 1 1 1 3 1 3 1 2 1 -1 1 -2 1 -1 1 3 1 6 1 5 1 0 1 2 1 3 1 4 1 4 1 5 1 5 1 2 1 -5 1 -11 1 -11 1 -8 1 -3 1 0 1 0 1 -1 1 -2 1 -3 1 -2 1 1 1 7 1 6 1 1 1 -3 1 -4 1 0 1 7 1 7 1 4 1 -1 1 -2 1 -3 1 -4 1 -4 1 -2 1 -2 1 -1 1 -1 1 3 1 5 1 7 1 5 1 4 1 0 1 -3 1 -6 1 -7" stroke="#6969ed"/><path vector-effect="non-scaling-stroke" d="M0 1192l1 -2 1 -3 1 -3 1 -5 1 -4 1 -1 1 4 1 4 1 4 1 6 1 7 1 5 1 0 1 -2 1 0 1 0 1 -1 1 2 1 3 1 0 1 1 1 2 1 4 1 0 1 -4 1 -6 1 -7 1 -8 1 -5 1 0 1 4 1 7 1 8 1 4 1 -1 1 -2 1 0 1 1 1 1 1 0 1 -2 1 1 1 1 1 -2 1 -4 1 -5 1 -3 1 -3 1 -1 1 3 1 4 1 3 1 0 1 8 1 33 1 55 1 47 1 14 1 -21 1 -42 1 -43 1 -33 1 -23 1 -16 1 -13 1 -12 1 -10 1 -5 1 4 1 11 1 14 1 12 1 9 1 6 1 1 1 -4 1 -2 1 1 1 1 1 -4 1 -6 1 0 1 3 1 3 1 3 1 4 1 5 1 3 1 1 1 0 1 -3 1 -4 1 -5 1 -4 1 -3 1 -1 1 -1 1 3 1 11 1 20 1 24 1 12 1 -7 1 -16 1 -14 1 -7 1 -6 1 -8 1 -12 1 -11 1 -7 1 -5 1 1 1 7 1 9 1 7 1 4 1 2 1 3 1 2 1 1 1 2 1 3 1 0 1 -4 1 -4 1 -3 1 1 1 1 1 -1 1 -3 1 -1 1 4 1 5 1 1 1 -2 1 -2 1 1 1 4 1 3 1 -1 1 -4 1 -5 1 -4 1 1 1 5 1 0 1 -5 1 -5 1 0 1 4 1 7 1 6 1 4 1 1 1 -2 1 -6 1 -4 1 -1 1 4 1 6 1 4 1 0 1 -4 1 -4 1 -4 1 -3 1 -1 1 1 1 1 1 1 1 -1 1 0 1 3 1 5 1 2 1 2 1 4 1 3 1 -1 1 -4 1 -4 1 -1 1 2 1 4 1 5 1 1 1 -4 1 -9 1 -10 1 -5 1 1 1 3 1 2 1 -2 1 -2 1 0 1 4 1 6 1 3" stroke="#83b8b9"/><path vector-effect="non-scaling-stroke" d="M0 1183l1 3 1 5 1 6 1 9 1 8 1 3 1 -3 1 -6 1 -7 1 -5 1 -4 1 -4 1 -5 1 -3 1 -1 1 4 1 4 1 0 1 -3 1 -4 1 -3 1 1 1 4 1 3 1 2 1 2 1 7 1 7 1 5 1 0 1 -2 1 -3 1 -4 1 -4 1 -5 1 -8 1 -4 1 3 1 7 1 8 1 8 1 6 1 2 1 -3 1 -5 1 0 1 4 1 1 1 -2 1 -3 1 -2 1 -2 1 -10 1 -12 1 1 1 22 1 29 1 28 1 19 1 -1 1 -21 1 -25 1 -15 1 -2 1 1 1 -1 1 -5 1 -5 1 -5 1 -4 1 -1 1 2 1 2 1 0 1 -1 1 -1 1 1 1 2 1 0 1 2 1 4 1 4 1 2 1 1 1 -1 1 -4 1 -5 1 -4 1 1 1 4 1 6 1 3 1 -3 1 -9 1 -10 1 -4 1 3 1 7 1 6 1 2 1 -2 1 -3 1 -2 1 -3 1 -5 1 -2 1 2 1 7 1 9 1 8 1 5 1 2 1 -2 1 -4 1 -3 1 -3 1 -5 1 -8 1 -6 1 1 1 7 1 6 1 0 1 -5 1 0 1 8 1 11 1 4 1 -6 1 -7 1 -3 1 1 1 -1 1 -4 1 -1 1 1 1 -1 1 -2 1 1 1 5 1 5 1 4 1 -1 1 -6 1 -6 1 -1 1 1 1 1 1 -2 1 -2 1 -1 1 -1 1 -5 1 -6 1 -3 1 5 1 8 1 6 1 -1 1 -7 1 -4 1 2 1 2 1 4 1 5 1 5 1 3 1 -2 1 -3 1 -3 1 -4 1 -3 1 0 1 2 1 3 1 1 1 -1 1 -2 1 -1 1 2 1 2 1 -2 1 -3 1 -3 1 -2 1 -2 1 -2 1 0 1 2 1 6 1 6 1 0 1 -6 1 -5 1 -1 1 6 1 8 1 4 1 0 1 -2" stroke="#b89ea5"/><path vector-effect="non-scaling-stroke" d="M0 1192l1 -4 1 -4 1 -6 1 -4 1 -2 1 4 1 8 1 7 1 4 1 1 1 -1 1 1 1 3 1 5 1 6 1 2 1 -2 1 -4 1 -2 1 0 1 -3 1 -5 1 -4 1 1 1 3 1 -1 1 -2 1 0 1 2 1 3 1 2 1 -2 1 -2 1 1 1 4 1 4 1 1 1 0 1 -5 1 -7 1 -5 1 1 1 4 1 3 1 -2 1 -5 1 -3 1 1 1 2 1 0 1 0 1 3 1 2 1 2 1 9 1 22 1 35 1 43 1 40 1 18 1 -18 1 -48 1 -66 1 -69 1 -62 1 -52 1 -37 1 -17 1 11 1 37 1 46 1 43 1 32 1 19 1 5 1 0 1 3 1 8 1 8 1 6 1 3 1 2 1 -2 1 -4 1 -5 1 -5 1 -4 1 -5 1 -7 1 -6 1 -2 1 1 1 6 1 9 1 9 1 4 1 -1 1 -2 1 1 1 5 1 9 1 8 1 1 1 -8 1 -12 1 -13 1 -12 1 -6 1 0 1 4 1 4 1 3 1 -2 1 -3 1 -3 1 -2 1 1 1 3 1 4 1 -1 1 -6 1 -4 1 2 1 7 1 6 1 2 1 0 1 0 1 -1 1 1 1 1 1 -2 1 2 1 5 1 5 1 -2 1 -6 1 -3 1 3 1 3 1 -2 1 -7 1 -7 1 -4 1 -1 1 4 1 4 1 1 1 -4 1 -4 1 1 1 8 1 9 1 5 1 0 1 0 1 1 1 1 1 2 1 4 1 4 1 0 1 -6 1 -9 1 -8 1 -4 1 0 1 0 1 2 1 1 1 -3 1 -7 1 -5 1 1 1 6 1 7 1 4 1 0 1 0 1 -1 1 -2 1 -4 1 -4 1 0 1 5 1 8 1 3 1 -8 1 -11 1 -8 1 -2 1 5 1 11 1 13 1 6 1 -1 1 -5 1 -4 1 -3 1 1" stroke="#8383ed"/><path vector-effect="non-scaling-stroke" d="M0 1192l1 2 1 6 1 8 1 11 1 9 1 1 1 -7 1 -9 1 -6 1 -2 1 1 1 0 1 -3 1 -6 1 -9 1 -5 1 -2 1 -4 1 -4 1 -1 1 3 1 2 1 1 1 0 1 6 1 17 1 19 1 8 1 -6 1 -10 1 -7 1 -4 1 -5 1 -8 1 -8 1 -3 1 1 1 6 1 5 1 3 1 2 1 1 1 -1 1 -1 1 1 1 3 1 6 1 6 1 3 1 -1 1 -3 1 -5 1 1 1 2 1 -19 1 -43 1 -51 1 -49 1 -31 1 4 1 39 1 60 1 66 1 60 1 53 1 44 1 32 1 5 1 -25 1 -43 1 -42 1 -29 1 -15 1 -11 1 -9 1 -4 1 1 1 -2 1 -5 1 -4 1 1 1 4 1 3 1 4 1 3 1 2 1 -1 1 1 1 7 1 7 1 6 1 1 1 -3 1 -6 1 -3 1 1 1 3 1 -2 1 -9 1 -15 1 -20 1 -15 1 -4 1 6 1 12 1 10 1 3 1 0 1 4 1 7 1 6 1 5 1 3 1 1 1 0 1 1 1 1 1 -4 1 -5 1 -4 1 1 1 2 1 -2 1 -5 1 -3 1 1 1 2 1 3 1 1 1 0 1 1 1 2 1 -3 1 -6 1 -3 1 4 1 2 1 -4 1 -3 1 4 1 11 1 12 1 3 1 -6 1 -11 1 -7 1 3 1 9 1 7 1 -1 1 -7 1 -8 1 -11 1 -9 1 -5 1 2 1 1 1 1 1 1 1 -1 1 -3 1 1 1 1 1 -2 1 -1 1 4 1 8 1 9 1 8 1 6 1 3 1 4 1 1 1 -6 1 -10 1 -5 1 0 1 1 1 0 1 -1 1 -2 1 -2 1 1 1 2 1 -3 1 -6 1 -5 1 5 1 10 1 6 1 1 1 -1 1 2 1 0 1 -1 1 0 1 0 1 -2 1 -1 1 -1" stroke="#690000"/><path vector-effect="non-scaling-stroke" d="M0 1188l1 -3 1 -4 1 -8 1 -9 1 -2 1 5 1 9 1 9 1 6 1 4 1 2 1 3 1 2 1 2 1 2 1 2 1 0 1 -2 1 -3 1 -2 1 -1 1 1 1 3 1 0 1 -4 1 -9 1 -6 1 -1 1 5 1 8 1 8 1 4 1 -1 1 -5 1 -4 1 0 1 1 1 -1 1 -1 1 -1 1 1 1 2 1 2 1 -1 1 -5 1 -7 1 -8 1 -2 1 2 1 4 1 3 1 -1 1 -6 1 -6 1 15 1 40 1 47 1 50 1 41 1 10 1 -30 1 -63 1 -74 1 -70 1 -53 1 -34 1 -13 1 10 1 25 1 32 1 30 1 24 1 18 1 11 1 5 1 4 1 5 1 2 1 -2 1 -4 1 -3 1 -1 1 0 1 -1 1 0 1 1 1 3 1 0 1 -8 1 -11 1 -6 1 3 1 6 1 5 1 2 1 -3 1 -2 1 0 1 5 1 10 1 12 1 6 1 -2 1 -8 1 -8 1 -9 1 -6 1 -5 1 -2 1 1 1 2 1 1 1 0 1 0 1 0 1 1 1 6 1 10 1 6 1 -1 1 -7 1 -6 1 -4 1 -4 1 -6 1 -7 1 -3 1 2 1 6 1 5 1 0 1 0 1 4 1 9 1 7 1 1 1 -3 1 -3 1 -4 1 -4 1 -6 1 -4 1 -2 1 3 1 7 1 5 1 0 1 -4 1 -5 1 -1 1 2 1 5 1 5 1 3 1 2 1 0 1 0 1 2 1 4 1 6 1 5 1 0 1 -5 1 -8 1 -7 1 -2 1 1 1 1 1 -1 1 -2 1 -7 1 -8 1 -6 1 2 1 8 1 6 1 1 1 -2 1 2 1 3 1 2 1 1 1 -2 1 -2 1 4 1 6 1 3 1 -4 1 -9 1 -11 1 -6 1 5 1 12 1 9 1 2 1 -2 1 -4 1 -3 1 -4 1 -1" stroke="#839edc"/><path vector-effect="non-scaling-stroke" d="M0 1190l1 6 1 3 1 -3 1 -8 1 -3 1 2 1 7 1 7 1 6 1 1 1 -2 1 -5 1 -4 1 1 1 1 1 -1 1 -3 1 0 1 3 1 4 1 -1 1 -4 1 -5 1 -3 1 1 1 5 1 4 1 -1 1 -3 1 0 1 1 1 1 1 2 1 0 1 -5 1 -7 1 -3 1 3 1 4 1 3 1 0 1 1 1 4 1 5 1 1 1 -4 1 -5 1 0 1 3 1 0 1 -3 1 -2 1 -3 1 -1 1 14 1 34 1 42 1 40 1 26 1 0 1 -33 1 -54 1 -57 1 -42 1 -22 1 -7 1 2 1 6 1 9 1 11 1 14 1 14 1 11 1 5 1 1 1 1 1 0 1 0 1 1 1 4 1 6 1 6 1 2 1 -2 1 -6 1 -6 1 -5 1 -8 1 -11 1 -9 1 -5 1 1 1 4 1 6 1 5 1 3 1 1 1 -1 1 2 1 5 1 5 1 2 1 -5 1 -6 1 -2 1 -1 1 0 1 1 1 3 1 4 1 3 1 1 1 -2 1 -6 1 -4 1 1 1 5 1 1 1 -2 1 -2 1 -1 1 3 1 4 1 3 1 1 1 0 1 0 1 -1 1 0 1 -1 1 -2 1 -3 1 -2 1 0 1 3 1 1 1 1 1 1 1 -1 1 -3 1 -4 1 -2 1 0 1 -1 1 0 1 -2 1 -2 1 -3 1 -4 1 0 1 5 1 5 1 2 1 -3 1 -3 1 2 1 4 1 3 1 1 1 -1 1 -4 1 -5 1 -3 1 -3 1 1 1 8 1 8 1 3 1 -1 1 -1 1 1 1 -1 1 -4 1 -1 1 3 1 2 1 0 1 0 1 3 1 2 1 1 1 -1 1 -5 1 -7 1 -5 1 -1 1 2 1 3 1 3 1 0 1 -2 1 -1 1 3 1 6 1 6 1 3 1 1 1 -3 1 -4 1 -4" stroke="#9e9ecb"/><path vector-effect="non-scaling-stroke" d="M0 1196l1 -7 1 -7 1 -5 1 -2 1 1 1 3 1 4 1 6 1 4 1 2 1 3 1 3 1 6 1 7 1 1 1 -8 1 -12 1 -6 1 3 1 7 1 2 1 -3 1 -1 1 3 1 0 1 -7 1 -8 1 -2 1 7 1 8 1 3 1 0 1 2 1 6 1 7 1 3 1 -1 1 -5 1 -8 1 -9 1 -9 1 -5 1 2 1 5 1 4 1 0 1 -4 1 -3 1 -3 1 -3 1 -2 1 4 1 13 1 18 1 10 1 -6 1 -17 1 -26 1 -28 1 -18 1 2 1 21 1 27 1 21 1 16 1 12 1 10 1 7 1 1 1 -6 1 -12 1 -10 1 -7 1 -6 1 -7 1 -7 1 -4 1 -2 1 -3 1 -5 1 -9 1 -8 1 -4 1 2 1 11 1 14 1 8 1 1 1 0 1 1 1 1 1 -1 1 -3 1 -5 1 -4 1 0 1 6 1 8 1 6 1 -2 1 -7 1 -6 1 1 1 8 1 8 1 6 1 6 1 6 1 -1 1 -4 1 -2 1 0 1 -3 1 -6 1 -9 1 -8 1 -2 1 4 1 6 1 1 1 -4 1 -4 1 1 1 3 1 2 1 -4 1 -10 1 -7 1 1 1 7 1 5 1 -1 1 0 1 3 1 2 1 1 1 1 1 1 1 0 1 -3 1 -4 1 -3 1 0 1 4 1 4 1 2 1 1 1 0 1 1 1 4 1 6 1 5 1 1 1 0 1 -2 1 -5 1 -7 1 -8 1 -1 1 7 1 8 1 1 1 -3 1 -4 1 -3 1 -2 1 -2 1 0 1 1 1 1 1 1 1 4 1 6 1 2 1 -5 1 -7 1 -2 1 5 1 6 1 2 1 -2 1 -2 1 1 1 1 1 0 1 0 1 -2 1 -6 1 -7 1 -4 1 2 1 5 1 6 1 6 1 1 1 -4 1 -5 1 -1 1 2 1 2" stroke="#1a4f62"/><path vector-effect="non-scaling-stroke" d="M0 1192l1 10 1 10 1 7 1 3 1 1 1 -1 1 0 1 -1 1 -5 1 -6 1 -2 1 -2 1 -8 1 -14 1 -11 1 -2 1 5 1 2 1 -6 1 -7 1 0 1 7 1 3 1 -3 1 -1 1 14 1 20 1 10 1 -5 1 -14 1 -9 1 -4 1 -2 1 -4 1 -4 1 -3 1 1 1 6 1 11 1 11 1 8 1 2 1 -3 1 -4 1 -3 1 3 1 6 1 5 1 5 1 5 1 2 1 -2 1 -5 1 -11 1 -32 1 -45 1 -32 1 -6 1 13 1 22 1 24 1 23 1 22 1 23 1 23 1 24 1 22 1 11 1 -7 1 -18 1 -21 1 -18 1 -15 1 -14 1 -10 1 -4 1 2 1 2 1 -2 1 2 1 6 1 7 1 6 1 4 1 -3 1 -11 1 -12 1 -5 1 3 1 6 1 8 1 9 1 5 1 1 1 1 1 4 1 6 1 -2 1 -11 1 -15 1 -11 1 -7 1 -8 1 -7 1 -1 1 5 1 6 1 6 1 6 1 9 1 9 1 8 1 5 1 -1 1 -7 1 -7 1 -4 1 -3 1 -3 1 0 1 1 1 1 1 -4 1 -3 1 6 1 14 1 15 1 4 1 -6 1 -9 1 -5 1 -2 1 -4 1 -6 1 0 1 7 1 2 1 -8 1 -14 1 -6 1 7 1 17 1 14 1 1 1 -8 1 -10 1 -5 1 1 1 0 1 -3 1 -4 1 -7 1 -11 1 -11 1 -7 1 1 1 9 1 11 1 3 1 -3 1 -2 1 3 1 2 1 -3 1 1 1 9 1 9 1 5 1 5 1 6 1 5 1 -1 1 -10 1 -12 1 -7 1 5 1 7 1 1 1 -6 1 -5 1 1 1 4 1 2 1 -5 1 -11 1 -7 1 2 1 10 1 11 1 6 1 3 1 0 1 -3 1 -6 1 -5 1 0 1 3 1 5 1 3 1 -1" stroke="#d24f62"/><path vector-effect="non-scaling-stroke" d="M0 1198l1 2 1 6 1 7 1 6 1 2 1 1 1 0 1 -2 1 -5 1 -4 1 -2 1 -4 1 -10 1 -12 1 -7 1 2 1 6 1 2 1 -2 1 -2 1 0 1 2 1 -2 1 -4 1 2 1 14 1 19 1 13 1 -2 1 -14 1 -12 1 -5 1 -3 1 -5 1 -5 1 -1 1 2 1 5 1 7 1 3 1 -1 1 -1 1 1 1 4 1 8 1 7 1 1 1 -6 1 -4 1 3 1 3 1 0 1 -2 1 -1 1 -13 1 -26 1 -31 1 -33 1 -27 1 -9 1 14 1 34 1 44 1 45 1 38 1 27 1 15 1 1 1 -12 1 -18 1 -18 1 -13 1 -7 1 -4 1 -3 1 -3 1 -2 1 -5 1 -8 1 -4 1 4 1 8 1 4 1 -2 1 -4 1 -2 1 2 1 2 1 2 1 3 1 7 1 9 1 1 1 -8 1 -9 1 0 1 7 1 5 1 -4 1 -14 1 -16 1 -11 1 -6 1 -3 1 0 1 -1 1 -4 1 1 1 10 1 9 1 0 1 -4 1 2 1 7 1 5 1 -1 1 -4 1 -2 1 1 1 0 1 -2 1 -1 1 1 1 3 1 7 1 8 1 5 1 -1 1 -4 1 -5 1 -4 1 1 1 2 1 0 1 -3 1 -6 1 -5 1 -4 1 -4 1 0 1 7 1 12 1 9 1 2 1 -4 1 -5 1 1 1 5 1 2 1 -3 1 -7 1 -7 1 -6 1 -3 1 3 1 8 1 8 1 6 1 2 1 -2 1 -1 1 -3 1 -7 1 -9 1 -4 1 3 1 7 1 8 1 5 1 -1 1 -6 1 -6 1 -4 1 -3 1 1 1 2 1 1 1 0 1 1 1 4 1 7 1 6 1 2 1 -4 1 -7 1 -6 1 0 1 6 1 6 1 2 1 -2 1 0 1 3 1 6 1 5 1 2 1 -1 1 -1 1 -5 1 -10" stroke="#831a7a"/><path vector-effect="non-scaling-stroke" d="M0 1190l1 -7 1 -6 1 -2 1 1 1 -3 1 -9 1 -10 1 -1 1 6 1 7 1 8 1 10 1 12 1 14 1 9 1 0 1 -6 1 -3 1 5 1 7 1 1 1 -4 1 1 1 6 1 -3 1 -19 1 -26 1 -17 1 -1 1 11 1 10 1 8 1 7 1 8 1 7 1 4 1 0 1 -2 1 -4 1 -7 1 -7 1 -5 1 -3 1 -2 1 -1 1 0 1 -2 1 -2 1 0 1 0 1 -1 1 -2 1 1 1 5 1 16 1 23 1 19 1 10 1 4 1 0 1 -4 1 -12 1 -21 1 -24 1 -19 1 -7 1 1 1 6 1 9 1 11 1 6 1 -2 1 -8 1 -7 1 -4 1 0 1 2 1 3 1 1 1 -5 1 -9 1 -9 1 -5 1 2 1 10 1 13 1 7 1 -2 1 -6 1 -6 1 -5 1 -5 1 -1 1 1 1 -1 1 -4 1 -3 1 7 1 14 1 11 1 4 1 2 1 8 1 10 1 7 1 3 1 1 1 -6 1 -17 1 -20 1 -13 1 -8 1 -1 1 6 1 8 1 8 1 6 1 5 1 2 1 -2 1 -5 1 0 1 5 1 2 1 -8 1 -13 1 -8 1 2 1 6 1 3 1 0 1 2 1 5 1 7 1 4 1 4 1 6 1 6 1 2 1 -6 1 -12 1 -11 1 -6 1 1 1 7 1 7 1 3 1 0 1 0 1 3 1 4 1 3 1 4 1 6 1 5 1 -3 1 -8 1 -9 1 -2 1 7 1 6 1 1 1 0 1 3 1 1 1 -7 1 -8 1 -4 1 0 1 0 1 -1 1 -1 1 2 1 3 1 1 1 -5 1 -9 1 -2 1 2 1 1 1 -1 1 2 1 3 1 3 1 3 1 5 1 1 1 -5 1 -6 1 0 1 0 1 -3 1 -2 1 0 1 -1 1 -5 1 -6 1 -3 1 2 1 3" stroke="#34b87a"/><path vector-effect="non-scaling-stroke" d="M0 1194l1 -3 1 1 1 4 1 0 1 -6 1 -8 1 -3 1 3 1 5 1 0 1 -5 1 -2 1 3 1 8 1 9 1 5 1 2 1 -1 1 -4 1 -6 1 -2 1 3 1 4 1 2 1 -2 1 -6 1 -8 1 -8 1 -3 1 1 1 6 1 10 1 11 1 6 1 -1 1 -4 1 -3 1 -2 1 -3 1 -3 1 0 1 1 1 -2 1 -5 1 -2 1 0 1 1 1 5 1 6 1 3 1 -1 1 -6 1 -13 1 -12 1 14 1 42 1 44 1 28 1 8 1 -13 1 -27 1 -25 1 -11 1 3 1 10 1 7 1 2 1 -2 1 -2 1 -5 1 -10 1 -17 1 -19 1 -11 1 -5 1 -1 1 4 1 8 1 7 1 2 1 -5 1 -6 1 -6 1 -4 1 2 1 5 1 5 1 4 1 5 1 8 1 5 1 0 1 -8 1 -12 1 -11 1 -6 1 -4 1 -3 1 -1 1 1 1 3 1 6 1 8 1 10 1 10 1 10 1 8 1 2 1 -4 1 -3 1 0 1 -3 1 -7 1 -7 1 -1 1 1 1 1 1 -2 1 -3 1 -2 1 2 1 4 1 1 1 -3 1 -6 1 -6 1 -4 1 -1 1 0 1 4 1 7 1 3 1 -2 1 -3 1 -1 1 0 1 2 1 5 1 5 1 1 1 -1 1 -2 1 -3 1 -3 1 -1 1 -1 1 -2 1 -3 1 0 1 4 1 8 1 6 1 3 1 0 1 -3 1 -1 1 -1 1 -3 1 -3 1 -2 1 -2 1 0 1 3 1 6 1 4 1 -1 1 -4 1 -4 1 -2 1 1 1 4 1 4 1 3 1 2 1 0 1 1 1 2 1 0 1 -4 1 -8 1 -7 1 -1 1 6 1 5 1 2 1 -1 1 -1 1 -3 1 -5 1 -2 1 3 1 5 1 1 1 -5 1 -8 1 -6 1 -2 1 2 1 2 1 2" stroke="#83d27a"/><path vector-effect="non-scaling-stroke" d="M0 1185l1 -4 1 -4 1 -1 1 0 1 -1 1 1 1 3 1 3 1 4 1 6 1 6 1 6 1 6 1 6 1 3 1 -1 1 -5 1 -5 1 1 1 3 1 0 1 -2 1 -1 1 3 1 -4 1 -14 1 -16 1 -6 1 4 1 7 1 3 1 -1 1 -2 1 3 1 10 1 11 1 5 1 -5 1 -9 1 -3 1 2 1 4 1 3 1 -1 1 -5 1 -11 1 -11 1 -6 1 -2 1 0 1 5 1 12 1 14 1 12 1 13 1 20 1 21 1 14 1 0 1 -17 1 -31 1 -40 1 -50 1 -58 1 -58 1 -46 1 -23 1 9 1 38 1 52 1 48 1 40 1 27 1 14 1 5 1 0 1 0 1 4 1 4 1 0 1 -7 1 -9 1 -10 1 -5 1 2 1 7 1 8 1 2 1 -5 1 -12 1 -13 1 -6 1 6 1 13 1 9 1 -3 1 -6 1 0 1 5 1 6 1 7 1 7 1 6 1 4 1 1 1 1 1 -3 1 -5 1 -4 1 -1 1 -1 1 -4 1 -5 1 -4 1 -2 1 -2 1 0 1 1 1 2 1 -1 1 -2 1 0 1 4 1 6 1 2 1 -3 1 -8 1 -6 1 3 1 9 1 7 1 1 1 0 1 3 1 1 1 -2 1 -1 1 3 1 2 1 -6 1 -10 1 -10 1 -5 1 3 1 7 1 4 1 2 1 2 1 1 1 1 1 2 1 4 1 4 1 5 1 2 1 -2 1 -6 1 0 1 8 1 8 1 4 1 -2 1 -2 1 -2 1 -4 1 -6 1 -8 1 -6 1 -2 1 4 1 4 1 1 1 0 1 2 1 4 1 0 1 -4 1 -4 1 -2 1 0 1 1 1 2 1 4 1 9 1 8 1 4 1 -4 1 -9 1 -12 1 -11 1 -6 1 1 1 8 1 10 1 6 1 0 1 0 1 0 1 1 1 1" stroke="#4f83dc"/><path vector-effect="non-scaling-stroke" d="M0 1203l1 6 1 6 1 3 1 0 1 -1 1 -2 1 -1 1 -1 1 -3 1 -1 1 2 1 2 1 -4 1 -13 1 -13 1 -1 1 6 1 0 1 -7 1 -5 1 3 1 4 1 1 1 0 1 3 1 8 1 8 1 4 1 -1 1 -4 1 -6 1 -5 1 -4 1 -3 1 -2 1 -1 1 0 1 1 1 5 1 8 1 7 1 0 1 -2 1 0 1 0 1 -3 1 -4 1 -2 1 3 1 4 1 5 1 5 1 5 1 -1 1 -13 1 -28 1 -33 1 -33 1 -24 1 -2 1 27 1 47 1 54 1 46 1 32 1 11 1 -6 1 -19 1 -22 1 -20 1 -14 1 -8 1 -4 1 -1 1 1 1 0 1 -1 1 -1 1 0 1 2 1 1 1 -4 1 -4 1 -2 1 0 1 1 1 2 1 2 1 4 1 4 1 3 1 1 1 -2 1 -3 1 -2 1 2 1 3 1 -2 1 -9 1 -13 1 -14 1 -8 1 -2 1 4 1 6 1 2 1 0 1 6 1 15 1 16 1 9 1 -3 1 -9 1 -5 1 0 1 0 1 -4 1 -5 1 -3 1 2 1 2 1 -1 1 -2 1 -1 1 1 1 3 1 1 1 -2 1 -2 1 1 1 3 1 -1 1 -6 1 -6 1 2 1 4 1 1 1 -4 1 -6 1 -2 1 7 1 12 1 12 1 8 1 0 1 -9 1 -10 1 -6 1 -1 1 0 1 -2 1 -2 1 2 1 5 1 3 1 2 1 2 1 0 1 -6 1 -6 1 -1 1 2 1 0 1 -3 1 -3 1 0 1 2 1 2 1 2 1 2 1 0 1 -1 1 -1 1 -2 1 -2 1 1 1 1 1 1 1 4 1 6 1 7 1 2 1 -5 1 -9 1 -9 1 -5 1 -1 1 1 1 2 1 2 1 2 1 4 1 5 1 5 1 3 1 3 1 3 1 -2 1 -7 1 -6" stroke="#691a7a"/><path vector-effect="non-scaling-stroke" d="M0 1190l1 16 1 14 1 7 1 4 1 4 1 1 1 -5 1 -8 1 -9 1 -9 1 -10 1 -11 1 -12 1 -12 1 -8 1 1 1 8 1 6 1 -2 1 -2 1 8 1 14 1 2 1 -11 1 -3 1 16 1 28 1 16 1 -7 1 -21 1 -16 1 -7 1 -4 1 -9 1 -9 1 -5 1 4 1 9 1 11 1 13 1 10 1 2 1 -7 1 -8 1 1 1 9 1 14 1 13 1 14 1 11 1 -2 1 -19 1 -31 1 -32 1 -23 1 -13 1 -5 1 -4 1 -3 1 6 1 18 1 30 1 41 1 45 1 42 1 34 1 21 1 1 1 -20 1 -30 1 -32 1 -27 1 -23 1 -19 1 -13 1 -6 1 0 1 0 1 0 1 6 1 13 1 17 1 14 1 4 1 -8 1 -17 1 -17 1 -10 1 2 1 13 1 19 1 11 1 -2 1 -8 1 -3 1 3 1 1 1 -6 1 -12 1 -13 1 -11 1 -10 1 -10 1 -9 1 0 1 10 1 14 1 10 1 2 1 -3 1 -1 1 5 1 10 1 8 1 3 1 0 1 -5 1 -10 1 -4 1 8 1 11 1 2 1 -7 1 -5 1 3 1 10 1 11 1 7 1 -1 1 -4 1 3 1 3 1 -9 1 -20 1 -17 1 -2 1 7 1 3 1 -1 1 2 1 7 1 9 1 6 1 0 1 -6 1 -8 1 -4 1 0 1 2 1 -2 1 -5 1 -8 1 -8 1 -5 1 1 1 4 1 2 1 0 1 -3 1 -5 1 -1 1 5 1 5 1 5 1 7 1 7 1 6 1 7 1 6 1 4 1 3 1 1 1 -8 1 -18 1 -15 1 0 1 11 1 11 1 4 1 1 1 0 1 -4 1 -8 1 -9 1 -9 1 -8 1 -4 1 6 1 14 1 13 1 10 1 1 1 -9 1 -14 1 -5 1 4 1 3 1 -3 1 -2 1 3" stroke="#ed8300"/><path vector-effect="non-scaling-stroke" d="M0 1191l1 -7 1 -3 1 0 1 2 1 4 1 4 1 3 1 5 1 6 1 5 1 0 1 -5 1 -4 1 -1 1 3 1 4 1 3 1 -1 1 -4 1 -6 1 -7 1 -5 1 -3 1 -2 1 0 1 1 1 4 1 6 1 8 1 5 1 1 1 -3 1 -5 1 -4 1 -4 1 -5 1 -3 1 1 1 5 1 4 1 1 1 -1 1 -1 1 3 1 1 1 -2 1 -7 1 -5 1 -4 1 0 1 6 1 9 1 7 1 2 1 0 1 -2 1 -5 1 -7 1 -7 1 -3 1 0 1 2 1 -3 1 -9 1 -15 1 -20 1 -19 1 -11 1 -1 1 9 1 17 1 20 1 21 1 19 1 12 1 4 1 1 1 1 1 -1 1 -4 1 -7 1 -6 1 -3 1 0 1 0 1 -1 1 1 1 3 1 0 1 -1 1 0 1 4 1 8 1 3 1 -2 1 -2 1 1 1 4 1 2 1 -1 1 -1 1 1 1 0 1 -2 1 0 1 -3 1 -10 1 -10 1 -1 1 10 1 10 1 4 1 -5 1 -8 1 -10 1 -6 1 3 1 8 1 6 1 0 1 -6 1 -7 1 -3 1 4 1 6 1 4 1 0 1 -3 1 -4 1 -4 1 -2 1 0 1 4 1 6 1 2 1 -1 1 -2 1 -1 1 -2 1 -4 1 -6 1 -3 1 3 1 9 1 10 1 6 1 0 1 -5 1 -8 1 -4 1 4 1 5 1 3 1 2 1 4 1 4 1 1 1 2 1 6 1 5 1 -2 1 -7 1 -10 1 -9 1 -6 1 -1 1 3 1 2 1 0 1 0 1 -2 1 -2 1 -2 1 0 1 0 1 2 1 1 1 0 1 1 1 3 1 6 1 6 1 3 1 -1 1 -2 1 -4 1 -3 1 1 1 -1 1 -6 1 -6 1 -1 1 4 1 8 1 6 1 3 1 2 1 3 1 1 1 -5" stroke="#694fdc"/><path vector-effect="non-scaling-stroke" d="M0 1204l1 -4 1 -7 1 -3 1 0 1 -2 1 -5 1 -3 1 -1 1 0 1 -1 1 0 1 5 1 10 1 12 1 9 1 0 1 -6 1 -3 1 1 1 1 1 -3 1 -3 1 -1 1 3 1 1 1 -6 1 -10 1 -7 1 2 1 5 1 3 1 0 1 3 1 7 1 9 1 5 1 -1 1 -6 1 -5 1 -4 1 -3 1 -4 1 -4 1 -4 1 -2 1 -1 1 0 1 0 1 -1 1 -4 1 -5 1 3 1 13 1 18 1 9 1 -5 1 -15 1 -18 1 -17 1 -6 1 6 1 11 1 10 1 0 1 -7 1 -8 1 0 1 7 1 12 1 10 1 6 1 -1 1 -8 1 -7 1 -1 1 1 1 -2 1 -2 1 -2 1 -5 1 -8 1 -7 1 -2 1 3 1 10 1 13 1 9 1 2 1 -5 1 -7 1 -8 1 -8 1 -3 1 4 1 7 1 4 1 1 1 2 1 3 1 1 1 -2 1 3 1 10 1 13 1 9 1 3 1 -2 1 -4 1 -9 1 -13 1 -12 1 -7 1 -3 1 -1 1 4 1 8 1 10 1 9 1 3 1 -1 1 -3 1 -4 1 1 1 4 1 1 1 -8 1 -11 1 -8 1 1 1 6 1 4 1 0 1 1 1 4 1 6 1 5 1 2 1 0 1 -1 1 -5 1 -8 1 -8 1 -2 1 8 1 12 1 5 1 -5 1 -8 1 -1 1 9 1 14 1 9 1 3 1 -1 1 -3 1 -6 1 -9 1 -9 1 -1 1 5 1 2 1 -1 1 -1 1 1 1 -2 1 -5 1 -7 1 -4 1 0 1 3 1 3 1 4 1 5 1 5 1 2 1 -3 1 -4 1 -2 1 0 1 -1 1 -4 1 -4 1 -2 1 3 1 7 1 7 1 3 1 -4 1 -7 1 -4 1 -2 1 -2 1 -2 1 0 1 1 1 1 1 4 1 4 1 2 1 1" stroke="#1a697a"/><path vector-effect="non-scaling-stroke" d="M0 1182l1 1 1 3 1 2 1 -3 1 -3 1 3 1 10 1 8 1 2 1 -1 1 0 1 0 1 0 1 0 1 0 1 1 1 0 1 -2 1 -3 1 -5 1 -5 1 -5 1 -5 1 -2 1 1 1 6 1 9 1 10 1 4 1 -2 1 -7 1 -4 1 0 1 0 1 -4 1 -6 1 -2 1 5 1 5 1 1 1 -2 1 -3 1 -3 1 -1 1 1 1 3 1 0 1 -3 1 -2 1 3 1 5 1 8 1 7 1 0 1 -8 1 -8 1 -2 1 4 1 6 1 0 1 -6 1 -9 1 -8 1 -9 1 -11 1 -14 1 -13 1 -8 1 0 1 9 1 18 1 22 1 20 1 12 1 2 1 -1 1 1 1 0 1 0 1 3 1 4 1 2 1 1 1 0 1 -3 1 -4 1 -2 1 -3 1 -8 1 -13 1 -9 1 0 1 6 1 8 1 6 1 6 1 7 1 5 1 -3 1 -7 1 -6 1 -3 1 -1 1 0 1 -3 1 -8 1 -10 1 -5 1 5 1 6 1 0 1 -3 1 -1 1 5 1 5 1 5 1 4 1 3 1 2 1 1 1 1 1 1 1 0 1 1 1 0 1 -3 1 -4 1 -1 1 1 1 1 1 -3 1 -2 1 3 1 7 1 6 1 0 1 -8 1 -11 1 -6 1 3 1 8 1 4 1 0 1 -3 1 -2 1 -1 1 1 1 0 1 -2 1 -2 1 0 1 3 1 2 1 4 1 4 1 5 1 3 1 4 1 5 1 2 1 -7 1 -13 1 -15 1 -8 1 0 1 6 1 5 1 0 1 0 1 0 1 0 1 -1 1 -2 1 0 1 6 1 7 1 0 1 -8 1 -9 1 0 1 8 1 9 1 4 1 -3 1 -3 1 -2 1 1 1 4 1 3 1 -4 1 -9 1 -3 1 6 1 11 1 7 1 4 1 0 1 -1 1 -3 1 -6" stroke="#834fdc"/><path vector-effect="non-scaling-stroke" d="M0 1190l1 -1 1 -4 1 -5 1 -5 1 -3 1 2 1 4 1 5 1 5 1 6 1 6 1 6 1 7 1 7 1 4 1 -3 1 -5 1 -4 1 -4 1 -5 1 -6 1 -3 1 0 1 4 1 2 1 -4 1 -7 1 -1 1 7 1 7 1 1 1 -3 1 -2 1 -1 1 0 1 1 1 3 1 0 1 -4 1 -6 1 -4 1 -1 1 1 1 2 1 2 1 -2 1 -3 1 -2 1 -5 1 -6 1 -1 1 7 1 10 1 8 1 8 1 10 1 7 1 2 1 -2 1 -5 1 -10 1 -18 1 -26 1 -35 1 -40 1 -39 1 -31 1 -13 1 11 1 28 1 38 1 42 1 37 1 23 1 9 1 4 1 4 1 4 1 1 1 -1 1 -2 1 -2 1 0 1 0 1 -1 1 -2 1 -1 1 -1 1 -4 1 -5 1 -3 1 6 1 9 1 5 1 -4 1 -7 1 -6 1 -3 1 0 1 5 1 7 1 7 1 3 1 -1 1 -3 1 -2 1 0 1 2 1 4 1 1 1 -2 1 -4 1 -3 1 -3 1 -5 1 -6 1 -1 1 4 1 3 1 0 1 0 1 2 1 3 1 0 1 -4 1 -6 1 -6 1 -3 1 2 1 3 1 -2 1 -7 1 -2 1 8 1 11 1 4 1 -1 1 1 1 1 1 0 1 -6 1 -9 1 -10 1 -5 1 2 1 9 1 12 1 10 1 2 1 -4 1 -4 1 3 1 6 1 6 1 2 1 -1 1 -1 1 -1 1 -1 1 0 1 2 1 1 1 2 1 -2 1 -6 1 -9 1 -9 1 -7 1 -3 1 2 1 7 1 6 1 2 1 -1 1 2 1 0 1 -5 1 -6 1 0 1 5 1 6 1 6 1 4 1 3 1 2 1 2 1 0 1 -4 1 -7 1 -8 1 -7 1 -3 1 2 1 5 1 5 1 2 1 3 1 6 1 6 1 2" stroke="#4f69dc"/><path vector-effect="non-scaling-stroke" d="M0 1181l1 -5 1 -2 1 -2 1 -2 1 1 1 8 1 12 1 9 1 3 1 0 1 1 1 -2 1 -4 1 -4 1 -2 1 1 1 0 1 0 1 1 1 4 1 4 1 3 1 2 1 -2 1 -3 1 -3 1 1 1 3 1 1 1 1 1 -3 1 -6 1 -5 1 -2 1 0 1 1 1 1 1 1 1 -1 1 -2 1 0 1 3 1 3 1 1 1 -1 1 -4 1 -4 1 -5 1 -2 1 2 1 8 1 9 1 5 1 2 1 5 1 12 1 18 1 24 1 20 1 3 1 -24 1 -51 1 -60 1 -52 1 -36 1 -18 1 1 1 17 1 25 1 29 1 28 1 26 1 18 1 7 1 -1 1 0 1 3 1 3 1 0 1 1 1 2 1 2 1 0 1 -1 1 -4 1 -3 1 0 1 -3 1 -9 1 -13 1 -7 1 3 1 12 1 10 1 3 1 0 1 0 1 3 1 1 1 2 1 5 1 6 1 1 1 -6 1 -8 1 -11 1 -10 1 -4 1 7 1 10 1 6 1 2 1 2 1 -1 1 -4 1 -5 1 -4 1 -3 1 -2 1 0 1 4 1 6 1 3 1 0 1 -2 1 -2 1 -4 1 -5 1 -2 1 3 1 5 1 4 1 2 1 1 1 -1 1 -2 1 -2 1 -2 1 -2 1 -2 1 1 1 1 1 2 1 0 1 1 1 4 1 5 1 2 1 -2 1 -4 1 -2 1 3 1 4 1 2 1 2 1 2 1 2 1 1 1 -1 1 0 1 -2 1 -4 1 -6 1 -6 1 -3 1 0 1 1 1 0 1 -1 1 -4 1 -5 1 -6 1 -5 1 0 1 7 1 6 1 0 1 -2 1 1 1 7 1 7 1 3 1 1 1 2 1 2 1 0 1 -4 1 -8 1 -10 1 -6 1 -1 1 6 1 11 1 12 1 7 1 2 1 0 1 -1 1 -4 1 -8" stroke="#8369ed"/><path vector-effect="non-scaling-stroke" d="M0 1183l1 -5 1 0 1 2 1 -2 1 0 1 5 1 9 1 8 1 3 1 -1 1 1 1 2 1 4 1 5 1 5 1 1 1 -6 1 -8 1 -4 1 -2 1 -2 1 -1 1 4 1 6 1 -3 1 -11 1 -12 1 -8 1 -2 1 2 1 5 1 6 1 9 1 9 1 5 1 0 1 -2 1 -7 1 -5 1 1 1 4 1 3 1 2 1 2 1 1 1 -6 1 -10 1 -8 1 -4 1 2 1 6 1 2 1 -9 1 -11 1 17 1 47 1 51 1 38 1 14 1 -22 1 -53 1 -66 1 -67 1 -67 1 -58 1 -40 1 -11 1 20 1 43 1 52 1 51 1 40 1 28 1 13 1 3 1 -2 1 -1 1 2 1 6 1 8 1 5 1 0 1 -3 1 -7 1 -9 1 -7 1 0 1 3 1 -2 1 -10 1 -10 1 -3 1 6 1 7 1 4 1 -2 1 -3 1 2 1 8 1 14 1 15 1 10 1 -1 1 -11 1 -14 1 -13 1 -9 1 -4 1 5 1 11 1 10 1 4 1 -3 1 -6 1 -7 1 -8 1 -7 1 -1 1 4 1 2 1 -1 1 -2 1 2 1 3 1 1 1 -3 1 -4 1 -3 1 0 1 0 1 -2 1 -4 1 1 1 9 1 10 1 3 1 -3 1 -4 1 0 1 -1 1 -4 1 -6 1 -2 1 3 1 5 1 7 1 4 1 -1 1 -4 1 -2 1 1 1 2 1 4 1 8 1 7 1 4 1 1 1 2 1 4 1 3 1 -3 1 -8 1 -11 1 -6 1 0 1 1 1 -2 1 -4 1 -3 1 -1 1 -2 1 -1 1 -1 1 1 1 3 1 1 1 -3 1 -4 1 2 1 9 1 10 1 5 1 -3 1 -7 1 -3 1 3 1 1 1 -6 1 -10 1 -6 1 1 1 5 1 6 1 5 1 2 1 0 1 0 1 1 1 -2 1 -6" stroke="#6983ed"/><path vector-effect="non-scaling-stroke" d="M0 1185l1 -4 1 -2 1 5 1 5 1 -8 1 -19 1 -19 1 -10 1 3 1 7 1 9 1 11 1 13 1 14 1 12 1 6 1 -2 1 -5 1 0 1 6 1 5 1 1 1 5 1 10 1 3 1 -15 1 -26 1 -18 1 -2 1 7 1 12 1 10 1 6 1 6 1 5 1 2 1 -4 1 -7 1 -10 1 -8 1 -4 1 2 1 3 1 3 1 -1 1 -5 1 -5 1 -1 1 -1 1 -4 1 -7 1 -3 1 3 1 10 1 18 1 18 1 6 1 -6 1 -7 1 -5 1 -3 1 4 1 8 1 10 1 10 1 11 1 9 1 6 1 3 1 0 1 -10 1 -22 1 -23 1 -13 1 -3 1 -3 1 -6 1 -5 1 -5 1 -8 1 -10 1 -7 1 0 1 6 1 15 1 18 1 14 1 3 1 -2 1 -4 1 -5 1 -9 1 -7 1 -5 1 -2 1 -4 1 -5 1 -1 1 7 1 8 1 5 1 7 1 10 1 13 1 12 1 13 1 11 1 1 1 -14 1 -19 1 -15 1 -7 1 -2 1 4 1 7 1 4 1 0 1 0 1 1 1 0 1 -3 1 -3 1 1 1 2 1 -6 1 -14 1 -14 1 -5 1 7 1 11 1 8 1 1 1 -2 1 -4 1 -2 1 4 1 7 1 11 1 8 1 1 1 -9 1 -12 1 -6 1 5 1 11 1 9 1 1 1 -7 1 -5 1 6 1 13 1 7 1 -1 1 -6 1 -5 1 -7 1 -9 1 -11 1 -6 1 3 1 8 1 8 1 9 1 13 1 7 1 -7 1 -14 1 -10 1 -2 1 0 1 2 1 7 1 9 1 4 1 -3 1 -8 1 -6 1 0 1 6 1 4 1 -2 1 -6 1 -7 1 -5 1 2 1 8 1 7 1 2 1 -3 1 -4 1 -7 1 -10 1 -11 1 -5 1 1 1 2 1 1 1 1 1 2 1 6" stroke="#1ab826"/><path vector-effect="non-scaling-stroke" d="M0 1187l1 -7 1 -3 1 1 1 2 1 -3 1 -6 1 -5 1 1 1 6 1 4 1 2 1 2 1 3 1 3 1 1 1 -2 1 -4 1 1 1 7 1 8 1 4 1 2 1 5 1 5 1 -2 1 -13 1 -18 1 -12 1 -1 1 6 1 7 1 5 1 5 1 6 1 9 1 6 1 1 1 -5 1 -12 1 -12 1 -3 1 6 1 6 1 2 1 -1 1 -3 1 -3 1 -2 1 1 1 3 1 0 1 -3 1 -2 1 2 1 13 1 24 1 27 1 25 1 19 1 1 1 -18 1 -27 1 -22 1 -13 1 -2 1 8 1 10 1 7 1 2 1 -2 1 -6 1 -14 1 -16 1 -13 1 -7 1 -3 1 2 1 5 1 4 1 1 1 -3 1 -3 1 -2 1 1 1 2 1 1 1 1 1 1 1 4 1 5 1 0 1 -7 1 -11 1 -8 1 -5 1 -2 1 -2 1 2 1 8 1 12 1 12 1 11 1 10 1 7 1 3 1 4 1 8 1 0 1 -12 1 -18 1 -10 1 -5 1 -4 1 -4 1 -1 1 4 1 5 1 2 1 -3 1 -4 1 -3 1 1 1 2 1 1 1 -4 1 -6 1 -7 1 -4 1 0 1 5 1 6 1 6 1 5 1 3 1 1 1 -1 1 2 1 8 1 8 1 -2 1 -12 1 -14 1 -11 1 0 1 8 1 8 1 0 1 -3 1 0 1 5 1 5 1 2 1 2 1 4 1 0 1 -4 1 -6 1 -5 1 -2 1 1 1 3 1 6 1 7 1 7 1 0 1 -9 1 -10 1 -4 1 4 1 6 1 4 1 0 1 -3 1 0 1 2 1 2 1 2 1 2 1 0 1 -5 1 -8 1 -7 1 -2 1 3 1 8 1 9 1 4 1 -2 1 -4 1 -1 1 -1 1 -4 1 -8 1 -9 1 -4 1 0 1 4 1 5 1 4 1 6" stroke="#69d27a"/><path vector-effect="non-scaling-stroke" d="M0 1192l1 6 1 8 1 2 1 -2 1 2 1 9 1 8 1 4 1 -2 1 -7 1 -10 1 -10 1 -8 1 -8 1 -7 1 -3 1 1 1 2 1 -1 1 0 1 1 1 0 1 -5 1 -7 1 1 1 14 1 22 1 15 1 0 1 -11 1 -11 1 -4 1 1 1 0 1 -4 1 -6 1 -5 1 0 1 5 1 6 1 5 1 4 1 4 1 4 1 2 1 1 1 -1 1 -3 1 -1 1 5 1 4 1 1 1 1 1 -6 1 -29 1 -50 1 -45 1 -27 1 -6 1 18 1 37 1 47 1 52 1 48 1 37 1 23 1 6 1 -12 1 -29 1 -35 1 -26 1 -11 1 -5 1 -4 1 -3 1 0 1 3 1 2 1 -3 1 -3 1 5 1 10 1 6 1 -1 1 -12 1 -15 1 -8 1 2 1 9 1 9 1 7 1 6 1 4 1 1 1 -1 1 2 1 4 1 1 1 -7 1 -13 1 -16 1 -15 1 -7 1 0 1 2 1 2 1 0 1 5 1 16 1 19 1 11 1 4 1 -1 1 -5 1 -9 1 -7 1 -4 1 0 1 0 1 3 1 1 1 -7 1 -11 1 -2 1 12 1 18 1 13 1 4 1 -1 1 -2 1 -3 1 -4 1 -6 1 -7 1 -4 1 0 1 -1 1 -6 1 -5 1 3 1 10 1 8 1 0 1 -6 1 -9 1 -7 1 0 1 4 1 4 1 0 1 -2 1 -4 1 -7 1 -7 1 -5 1 4 1 9 1 7 1 -2 1 -8 1 -7 1 -1 1 0 1 -1 1 1 1 4 1 8 1 7 1 4 1 2 1 1 1 2 1 -3 1 -7 1 -6 1 1 1 6 1 2 1 0 1 0 1 3 1 3 1 0 1 -4 1 -8 1 -6 1 -1 1 4 1 4 1 2 1 0 1 2 1 2 1 1 1 -1 1 1 1 2 1 2 1 0 1 0" stroke="#9e1a62"/><path vector-effect="non-scaling-stroke" d="M0 1200l1 -7 1 -4 1 4 1 7 1 3 1 -3 1 -6 1 -5 1 0 1 4 1 7 1 7 1 5 1 1 1 -3 1 -5 1 -6 1 -4 1 1 1 3 1 0 1 -2 1 0 1 6 1 6 1 1 1 -3 1 -3 1 -3 1 -2 1 -1 1 0 1 -1 1 -1 1 -2 1 -2 1 1 1 4 1 4 1 -5 1 -8 1 -6 1 0 1 6 1 8 1 4 1 -2 1 -8 1 -9 1 -6 1 0 1 7 1 15 1 15 1 0 1 -17 1 -27 1 -28 1 -22 1 -7 1 14 1 29 1 35 1 30 1 19 1 9 1 1 1 -6 1 -8 1 -8 1 -9 1 -10 1 -11 1 -8 1 -4 1 -1 1 3 1 3 1 0 1 -5 1 -5 1 -2 1 2 1 4 1 5 1 6 1 7 1 4 1 0 1 -1 1 -1 1 -1 1 -4 1 -3 1 -1 1 -1 1 -1 1 -4 1 -7 1 -9 1 -9 1 -5 1 4 1 11 1 12 1 5 1 -2 1 -3 1 1 1 5 1 4 1 3 1 5 1 3 1 -3 1 -9 1 -8 1 -1 1 3 1 -1 1 -4 1 -1 1 4 1 5 1 2 1 0 1 -3 1 -3 1 -4 1 -3 1 -4 1 -1 1 2 1 5 1 4 1 3 1 2 1 4 1 3 1 -3 1 -6 1 -4 1 -2 1 1 1 3 1 5 1 4 1 1 1 -3 1 -4 1 -2 1 1 1 5 1 5 1 1 1 -2 1 -4 1 -3 1 1 1 2 1 5 1 7 1 5 1 0 1 -4 1 -6 1 -3 1 -3 1 -3 1 -1 1 0 1 0 1 -1 1 1 1 1 1 -2 1 -4 1 1 1 6 1 6 1 4 1 0 1 -1 1 1 1 1 1 -1 1 -5 1 -3 1 -2 1 -2 1 -3 1 -1 1 3 1 5 1 3 1 1 1 1 1 1 1 0 1 -3" stroke="#34347a"/><path vector-effect="non-scaling-stroke" d="M0 1194l1 -3 1 -4 1 -2 1 1 1 -1 1 -4 1 -4 1 -1 1 4 1 3 1 1 1 1 1 5 1 11 1 10 1 2 1 -4 1 -3 1 1 1 1 1 -2 1 -2 1 5 1 9 1 1 1 -16 1 -20 1 -9 1 3 1 8 1 5 1 1 1 -2 1 0 1 3 1 5 1 3 1 0 1 -3 1 -4 1 -2 1 0 1 -1 1 -1 1 -2 1 -1 1 0 1 -1 1 -1 1 -1 1 1 1 0 1 -4 1 -1 1 24 1 48 1 49 1 29 1 0 1 -26 1 -41 1 -43 1 -40 1 -32 1 -23 1 -11 1 0 1 9 1 18 1 19 1 15 1 8 1 3 1 1 1 -1 1 -2 1 0 1 3 1 6 1 3 1 -1 1 -6 1 -6 1 -3 1 2 1 6 1 6 1 5 1 3 1 0 1 -3 1 -4 1 -3 1 -4 1 -7 1 -9 1 -7 1 2 1 9 1 13 1 12 1 11 1 5 1 -1 1 -6 1 -3 1 -1 1 -3 1 -6 1 -6 1 -3 1 -3 1 0 1 6 1 7 1 2 1 -2 1 -1 1 1 1 -1 1 -5 1 -1 1 4 1 3 1 -5 1 -9 1 -6 1 1 1 3 1 1 1 -3 1 -3 1 0 1 4 1 5 1 2 1 5 1 8 1 8 1 2 1 -8 1 -14 1 -9 1 -1 1 4 1 3 1 -2 1 -5 1 -2 1 5 1 10 1 9 1 6 1 3 1 0 1 0 1 3 1 4 1 2 1 -1 1 -4 1 -5 1 -3 1 -1 1 -3 1 -4 1 -3 1 0 1 -1 1 -3 1 -2 1 0 1 3 1 7 1 4 1 -2 1 -5 1 -4 1 1 1 3 1 2 1 0 1 1 1 2 1 2 1 2 1 -1 1 -2 1 -1 1 -1 1 -3 1 -6 1 -6 1 -3 1 1 1 4 1 4 1 -1 1 -5 1 -1" stroke="#69b8b9"/><path vector-effect="non-scaling-stroke" d="M0 1191l1 -8 1 -10 1 -7 1 -2 1 -2 1 -2 1 1 1 5 1 3 1 -1 1 -1 1 3 1 9 1 13 1 13 1 4 1 -3 1 -3 1 6 1 9 1 2 1 -5 1 -4 1 0 1 -3 1 -15 1 -19 1 -8 1 5 1 10 1 3 1 0 1 6 1 12 1 14 1 11 1 3 1 -5 1 -10 1 -12 1 -10 1 -6 1 -1 1 3 1 2 1 -2 1 -4 1 -4 1 -4 1 -3 1 0 1 5 1 9 1 12 1 16 1 16 1 13 1 6 1 -1 1 -9 1 -17 1 -26 1 -33 1 -38 1 -35 1 -26 1 -11 1 5 1 23 1 33 1 30 1 21 1 14 1 8 1 4 1 -1 1 -3 1 0 1 5 1 3 1 -2 1 -5 1 -4 1 0 1 6 1 7 1 2 1 -4 1 -8 1 -10 1 -10 1 -6 1 1 1 8 1 7 1 0 1 -3 1 1 1 8 1 12 1 12 1 8 1 4 1 1 1 -2 1 -3 1 -2 1 -2 1 -5 1 -6 1 -3 1 -3 1 -6 1 -4 1 -1 1 5 1 6 1 3 1 -4 1 -5 1 -4 1 0 1 3 1 2 1 -1 1 -6 1 -5 1 0 1 6 1 5 1 0 1 -3 1 0 1 3 1 4 1 4 1 3 1 1 1 -1 1 -4 1 -8 1 -8 1 -5 1 1 1 8 1 8 1 2 1 -3 1 -2 1 3 1 4 1 3 1 4 1 8 1 8 1 1 1 -7 1 -8 1 -2 1 3 1 4 1 -1 1 -1 1 2 1 2 1 0 1 -6 1 -10 1 -8 1 -3 1 2 1 3 1 5 1 7 1 3 1 -3 1 -6 1 -4 1 -1 1 -1 1 -2 1 -2 1 1 1 7 1 9 1 7 1 2 1 -1 1 -4 1 -8 1 -7 1 -4 1 -2 1 0 1 -1 1 -1 1 1 1 0 1 -3 1 -2" stroke="#349ea5"/><path vector-effect="non-scaling-stroke" d="M0 1199l1 -7 1 -9 1 -6 1 0 1 4 1 5 1 2 1 -1 1 -1 1 0 1 1 1 2 1 5 1 10 1 10 1 3 1 -4 1 -6 1 -3 1 1 1 1 1 1 1 5 1 4 1 -4 1 -14 1 -13 1 -4 1 6 1 10 1 7 1 4 1 2 1 3 1 4 1 1 1 -3 1 -9 1 -10 1 -6 1 1 1 4 1 5 1 3 1 -2 1 -7 1 -9 1 -7 1 -5 1 -3 1 0 1 6 1 10 1 12 1 12 1 11 1 4 1 -3 1 -5 1 -9 1 -14 1 -26 1 -40 1 -47 1 -41 1 -25 1 -5 1 19 1 39 1 46 1 37 1 21 1 12 1 7 1 4 1 0 1 -3 1 -1 1 2 1 2 1 -4 1 -8 1 -6 1 -3 1 0 1 3 1 4 1 1 1 -4 1 -9 1 -11 1 -8 1 2 1 9 1 7 1 1 1 4 1 10 1 11 1 9 1 7 1 5 1 3 1 -1 1 -2 1 -2 1 -3 1 -3 1 -2 1 -2 1 -5 1 -6 1 -3 1 0 1 2 1 0 1 -1 1 3 1 6 1 0 1 -3 1 0 1 4 1 3 1 -5 1 -13 1 -16 1 -10 1 3 1 10 1 5 1 0 1 0 1 4 1 4 1 2 1 2 1 7 1 7 1 -1 1 -10 1 -11 1 -6 1 1 1 4 1 3 1 2 1 2 1 2 1 4 1 4 1 3 1 4 1 4 1 3 1 -1 1 -6 1 -7 1 1 1 9 1 8 1 -1 1 -6 1 -6 1 -4 1 -3 1 -5 1 -5 1 -2 1 3 1 3 1 -1 1 -3 1 1 1 4 1 0 1 -4 1 -3 1 0 1 4 1 8 1 4 1 0 1 1 1 5 1 8 1 4 1 -5 1 -11 1 -10 1 -6 1 -2 1 2 1 7 1 7 1 4 1 -1 1 -5 1 -8 1 -7" stroke="#3483b9"/><path vector-effect="non-scaling-stroke" d="M0 1195l1 0 1 0 1 -3 1 -2 1 -1 1 -1 1 -2 1 1 1 5 1 2 1 -2 1 -6 1 -6 1 -2 1 1 1 6 1 7 1 5 1 1 1 0 1 2 1 2 1 1 1 1 1 1 1 -2 1 -8 1 -10 1 -6 1 -1 1 4 1 6 1 9 1 8 1 4 1 -4 1 -7 1 -5 1 0 1 1 1 1 1 2 1 3 1 3 1 -1 1 -5 1 -8 1 -6 1 1 1 6 1 3 1 -3 1 -15 1 -16 1 7 1 34 1 42 1 40 1 28 1 6 1 -17 1 -31 1 -31 1 -20 1 -8 1 -6 1 -9 1 -10 1 -5 1 3 1 3 1 -2 1 -1 1 2 1 5 1 5 1 4 1 2 1 0 1 -1 1 3 1 6 1 5 1 -1 1 -8 1 -10 1 -6 1 1 1 3 1 2 1 0 1 -1 1 0 1 0 1 -3 1 -6 1 -6 1 0 1 10 1 15 1 10 1 2 1 -4 1 -4 1 0 1 2 1 1 1 -1 1 -2 1 1 1 6 1 6 1 -1 1 -6 1 -8 1 -5 1 -4 1 -1 1 -1 1 1 1 -1 1 0 1 0 1 2 1 2 1 3 1 3 1 2 1 -1 1 -2 1 -2 1 0 1 -2 1 -3 1 -3 1 1 1 5 1 7 1 3 1 -2 1 -5 1 -4 1 -3 1 -1 1 1 1 1 1 -1 1 -5 1 -6 1 -2 1 3 1 2 1 -1 1 -2 1 -1 1 3 1 5 1 4 1 0 1 -4 1 -4 1 -3 1 2 1 7 1 6 1 1 1 -2 1 -2 1 -2 1 -2 1 -4 1 -2 1 2 1 1 1 -1 1 1 1 4 1 6 1 2 1 -4 1 -9 1 -7 1 -2 1 4 1 7 1 8 1 6 1 1 1 -2 1 -2 1 -1 1 -4 1 -6 1 -5 1 -1 1 2 1 3 1 1 1 -1 1 2" stroke="#9eb8a5"/><path vector-effect="non-scaling-stroke" d="M0 1187l1 -1 1 0 1 0 1 -4 1 -5 1 -1 1 4 1 7 1 6 1 2 1 -1 1 -2 1 2 1 5 1 2 1 -1 1 -5 1 -5 1 1 1 4 1 5 1 2 1 1 1 0 1 -5 1 -10 1 -6 1 1 1 7 1 5 1 1 1 -2 1 -3 1 1 1 3 1 3 1 -2 1 -4 1 -4 1 -2 1 0 1 0 1 0 1 2 1 1 1 0 1 -4 1 -7 1 -8 1 -6 1 3 1 13 1 18 1 16 1 0 1 -12 1 -12 1 -8 1 -3 1 -2 1 -4 1 -9 1 -16 1 -18 1 -14 1 -8 1 -2 1 6 1 16 1 18 1 14 1 10 1 10 1 10 1 7 1 2 1 0 1 0 1 0 1 -3 1 -6 1 -6 1 -2 1 3 1 4 1 5 1 6 1 2 1 -2 1 -5 1 -4 1 -2 1 2 1 5 1 5 1 0 1 -3 1 -2 1 2 1 2 1 0 1 -1 1 -1 1 0 1 -2 1 -7 1 -9 1 -5 1 2 1 2 1 0 1 -4 1 -2 1 3 1 5 1 3 1 -1 1 -1 1 0 1 -2 1 -3 1 -2 1 4 1 7 1 4 1 0 1 -3 1 -2 1 1 1 -1 1 -3 1 -5 1 1 1 7 1 6 1 1 1 -1 1 3 1 3 1 -3 1 -8 1 -9 1 -5 1 1 1 4 1 1 1 -2 1 -2 1 0 1 2 1 3 1 6 1 8 1 7 1 4 1 3 1 2 1 0 1 0 1 1 1 4 1 -1 1 -8 1 -13 1 -11 1 -6 1 -2 1 0 1 1 1 3 1 2 1 -1 1 -3 1 3 1 6 1 3 1 -4 1 -6 1 1 1 8 1 6 1 1 1 1 1 1 1 2 1 0 1 -2 1 -3 1 -3 1 -5 1 -4 1 2 1 8 1 9 1 7 1 4 1 1 1 -1 1 -5 1 -10" stroke="#4f4fcb"/><path vector-effect="non-scaling-stroke" d="M0 1207l1 -3 1 -9 1 -6 1 -2 1 -1 1 -6 1 -9 1 -6 1 -1 1 2 1 1 1 5 1 8 1 7 1 2 1 -2 1 -1 1 4 1 9 1 9 1 4 1 0 1 2 1 5 1 2 1 -8 1 -17 1 -15 1 -6 1 4 1 9 1 9 1 7 1 4 1 2 1 -1 1 -3 1 -4 1 -3 1 -5 1 -4 1 -4 1 -2 1 2 1 5 1 7 1 4 1 1 1 -2 1 -4 1 -5 1 -9 1 -12 1 -7 1 11 1 27 1 27 1 16 1 3 1 -5 1 0 1 15 1 30 1 33 1 28 1 14 1 -5 1 -23 1 -30 1 -31 1 -29 1 -31 1 -23 1 -9 1 2 1 3 1 -5 1 -10 1 -12 1 -12 1 -6 1 3 1 6 1 5 1 9 1 12 1 12 1 9 1 11 1 10 1 0 1 -14 1 -17 1 -12 1 -8 1 -4 1 1 1 4 1 7 1 7 1 6 1 4 1 6 1 8 1 9 1 9 1 8 1 -3 1 -20 1 -23 1 -11 1 0 1 3 1 6 1 11 1 12 1 4 1 -3 1 -7 1 -4 1 2 1 3 1 0 1 -4 1 -6 1 -8 1 -5 1 2 1 8 1 11 1 7 1 2 1 -3 1 -9 1 -9 1 -1 1 6 1 9 1 6 1 2 1 -5 1 -8 1 -4 1 3 1 6 1 1 1 -6 1 -6 1 2 1 10 1 8 1 1 1 -4 1 0 1 2 1 -3 1 -11 1 -12 1 -6 1 1 1 5 1 9 1 15 1 17 1 7 1 -3 1 -7 1 -6 1 -2 1 2 1 3 1 3 1 0 1 -1 1 -5 1 -6 1 -1 1 6 1 5 1 -7 1 -14 1 -11 1 -2 1 3 1 6 1 8 1 8 1 7 1 4 1 1 1 -2 1 -12 1 -19 1 -18 1 -7 1 0 1 1 1 0 1 4 1 12" stroke="#69ed00"/><path vector-effect="non-scaling-stroke" d="M0 1182l1 -3 1 1 1 2 1 2 1 2 1 3 1 4 1 4 1 4 1 1 1 0 1 1 1 0 1 -2 1 -4 1 -4 1 -1 1 2 1 2 1 1 1 1 1 -2 1 -2 1 -1 1 -2 1 0 1 5 1 6 1 2 1 -3 1 -2 1 0 1 2 1 -1 1 -3 1 -3 1 3 1 5 1 1 1 -1 1 -2 1 -2 1 -3 1 0 1 2 1 1 1 -6 1 -8 1 -5 1 -1 1 0 1 6 1 16 1 16 1 -6 1 -31 1 -31 1 -17 1 -2 1 9 1 18 1 20 1 17 1 12 1 8 1 5 1 2 1 -5 1 -8 1 -8 1 -5 1 0 1 3 1 1 1 0 1 -2 1 -1 1 1 1 -1 1 -4 1 -6 1 -5 1 -1 1 3 1 5 1 3 1 2 1 -1 1 -5 1 -4 1 0 1 6 1 7 1 4 1 -1 1 -2 1 -4 1 -7 1 -7 1 -2 1 2 1 2 1 0 1 -2 1 -3 1 -4 1 -2 1 4 1 9 1 10 1 7 1 2 1 2 1 1 1 -3 1 -6 1 -4 1 -2 1 -1 1 -2 1 -4 1 -1 1 2 1 3 1 2 1 0 1 -1 1 -1 1 1 1 0 1 -1 1 -1 1 3 1 5 1 6 1 4 1 -3 1 -9 1 -8 1 -4 1 1 1 1 1 2 1 3 1 5 1 6 1 3 1 0 1 -1 1 -6 1 -7 1 -6 1 -1 1 2 1 6 1 9 1 7 1 1 1 -3 1 0 1 2 1 2 1 -4 1 -9 1 -8 1 -2 1 3 1 3 1 3 1 1 1 -3 1 -6 1 -7 1 -2 1 3 1 5 1 1 1 -1 1 2 1 9 1 9 1 4 1 1 1 0 1 -2 1 -4 1 -4 1 -4 1 -2 1 -2 1 -1 1 4 1 9 1 6 1 0 1 -4 1 -1 1 0 1 0 1 -3" stroke="#4f34a5"/><path vector-effect="non-scaling-stroke" d="M0 1194l1 -10 1 -6 1 0 1 2 1 1 1 1 1 1 1 2 1 2 1 6 1 7 1 3 1 4 1 5 1 3 1 -5 1 -8 1 -5 1 0 1 0 1 -4 1 -4 1 3 1 8 1 1 1 -7 1 -10 1 -4 1 4 1 7 1 3 1 0 1 -1 1 2 1 3 1 4 1 3 1 2 1 -1 1 -5 1 -4 1 2 1 6 1 2 1 -4 1 -9 1 -11 1 -9 1 -4 1 0 1 5 1 11 1 17 1 16 1 3 1 -11 1 -12 1 -8 1 -2 1 -1 1 -3 1 -10 1 -22 1 -33 1 -34 1 -23 1 -6 1 11 1 26 1 32 1 28 1 19 1 10 1 6 1 2 1 1 1 4 1 7 1 4 1 -3 1 -9 1 -10 1 -5 1 -1 1 3 1 5 1 6 1 4 1 -1 1 -9 1 -11 1 -5 1 6 1 11 1 6 1 -1 1 -4 1 0 1 3 1 1 1 -1 1 -2 1 1 1 6 1 4 1 -2 1 -8 1 -7 1 -6 1 -4 1 -3 1 -1 1 1 1 2 1 2 1 3 1 2 1 4 1 5 1 3 1 2 1 3 1 1 1 -1 1 -5 1 -6 1 -6 1 -4 1 -1 1 3 1 4 1 3 1 2 1 2 1 1 1 -1 1 -1 1 2 1 4 1 1 1 -7 1 -10 1 -7 1 0 1 8 1 9 1 4 1 0 1 2 1 4 1 4 1 2 1 0 1 0 1 -1 1 -1 1 -3 1 0 1 4 1 6 1 3 1 -2 1 -4 1 -4 1 -2 1 -1 1 1 1 -3 1 -5 1 -8 1 -6 1 -3 1 0 1 5 1 6 1 0 1 -6 1 -4 1 4 1 9 1 7 1 3 1 -2 1 -2 1 3 1 5 1 3 1 -3 1 -9 1 -9 1 -6 1 -3 1 1 1 7 1 8 1 2 1 -3 1 -5 1 -2 1 -1" stroke="#3469b9"/><path vector-effect="non-scaling-stroke" d="M0 1202l1 -3 1 -3 1 -1 1 0 1 -4 1 -7 1 -6 1 0 1 -1 1 -3 1 -1 1 5 1 7 1 4 1 -1 1 -1 1 2 1 4 1 6 1 3 1 -3 1 -6 1 -4 1 1 1 2 1 -2 1 -5 1 -5 1 -2 1 4 1 8 1 9 1 4 1 -1 1 -3 1 -4 1 -1 1 4 1 2 1 -3 1 -6 1 -3 1 1 1 4 1 2 1 0 1 1 1 5 1 4 1 -1 1 -7 1 -10 1 -7 1 2 1 14 1 26 1 28 1 21 1 4 1 -13 1 -22 1 -19 1 -6 1 8 1 20 1 23 1 20 1 9 1 -3 1 -13 1 -20 1 -22 1 -19 1 -13 1 -8 1 -5 1 -5 1 -1 1 2 1 3 1 2 1 3 1 5 1 5 1 2 1 2 1 1 1 -2 1 -4 1 -2 1 -1 1 -2 1 -5 1 -4 1 -1 1 0 1 -1 1 -1 1 3 1 6 1 7 1 4 1 0 1 -1 1 2 1 7 1 8 1 2 1 -4 1 -4 1 -1 1 -1 1 -2 1 -3 1 -3 1 -1 1 -2 1 -3 1 -4 1 -2 1 1 1 2 1 1 1 -1 1 -3 1 -4 1 -3 1 1 1 2 1 2 1 3 1 3 1 0 1 -6 1 -6 1 1 1 6 1 5 1 0 1 -2 1 -1 1 1 1 4 1 3 1 2 1 -2 1 -2 1 3 1 5 1 3 1 -3 1 -4 1 -4 1 -3 1 -2 1 -1 1 -2 1 -4 1 -5 1 0 1 7 1 9 1 5 1 2 1 2 1 1 1 1 1 -1 1 -3 1 -2 1 1 1 2 1 0 1 -3 1 -2 1 2 1 6 1 7 1 -1 1 -11 1 -13 1 -4 1 3 1 2 1 0 1 2 1 3 1 3 1 1 1 -1 1 -2 1 -6 1 -9 1 -10 1 -5 1 -2 1 0 1 2 1 5 1 7" stroke="#9ed262"/><path vector-effect="non-scaling-stroke" d="M0 1208l1 -7 1 -8 1 -4 1 0 1 -3 1 -10 1 -12 1 -7 1 1 1 7 1 10 1 13 1 14 1 13 1 4 1 -8 1 -13 1 -8 1 1 1 6 1 6 1 3 1 5 1 10 1 4 1 -11 1 -21 1 -16 1 -2 1 6 1 8 1 8 1 7 1 8 1 4 1 -1 1 -6 1 -11 1 -12 1 -6 1 0 1 3 1 3 1 2 1 2 1 2 1 1 1 -1 1 -3 1 -6 1 -6 1 1 1 10 1 15 1 8 1 -5 1 -20 1 -29 1 -24 1 -5 1 15 1 26 1 29 1 29 1 29 1 25 1 15 1 1 1 -7 1 -15 1 -21 1 -26 1 -23 1 -14 1 -6 1 -6 1 -7 1 -7 1 -1 1 -1 1 -6 1 -9 1 -6 1 6 1 16 1 16 1 11 1 3 1 1 1 2 1 1 1 -3 1 -7 1 -8 1 -6 1 -7 1 -8 1 -4 1 4 1 7 1 5 1 7 1 10 1 13 1 11 1 8 1 6 1 -1 1 -13 1 -15 1 -10 1 -5 1 -1 1 3 1 6 1 2 1 2 1 2 1 2 1 -5 1 -6 1 -2 1 1 1 1 1 -3 1 -4 1 -2 1 1 1 4 1 6 1 0 1 -7 1 -5 1 1 1 6 1 6 1 6 1 5 1 3 1 -3 1 -7 1 -7 1 -3 1 2 1 7 1 8 1 3 1 0 1 2 1 3 1 -2 1 -7 1 -4 1 3 1 4 1 0 1 -8 1 -11 1 -4 1 7 1 11 1 8 1 6 1 5 1 -2 1 -9 1 -10 1 -7 1 -5 1 -1 1 5 1 10 1 10 1 5 1 -3 1 -6 1 0 1 4 1 3 1 -4 1 -6 1 -3 1 1 1 3 1 3 1 5 1 2 1 -3 1 -6 1 -5 1 -2 1 -3 1 -6 1 -7 1 -6 1 -2 1 0 1 1 1 4 1 6" stroke="#006900"/><path vector-effect="non-scaling-stroke" d="M0 1210l1 -10 1 -13 1 -6 1 0 1 -3 1 -9 1 -12 1 -7 1 1 1 5 1 7 1 11 1 14 1 13 1 6 1 -3 1 -7 1 -3 1 4 1 8 1 5 1 0 1 3 1 7 1 2 1 -12 1 -23 1 -17 1 -2 1 10 1 14 1 9 1 6 1 4 1 3 1 4 1 1 1 -2 1 -10 1 -13 1 -9 1 -4 1 0 1 2 1 2 1 2 1 -1 1 -2 1 -6 1 -9 1 -6 1 1 1 7 1 10 1 7 1 -4 1 -16 1 -15 1 0 1 12 1 16 1 15 1 15 1 14 1 12 1 14 1 14 1 12 1 6 1 -5 1 -20 1 -30 1 -25 1 -16 1 -8 1 -6 1 -6 1 -1 1 0 1 -7 1 -14 1 -10 1 -4 1 4 1 16 1 21 1 15 1 4 1 2 1 4 1 1 1 -7 1 -12 1 -10 1 -4 1 -2 1 0 1 6 1 10 1 8 1 1 1 1 1 6 1 12 1 12 1 10 1 8 1 -1 1 -15 1 -20 1 -13 1 -4 1 1 1 3 1 4 1 6 1 7 1 4 1 -1 1 -5 1 -6 1 -3 1 1 1 2 1 -3 1 -10 1 -10 1 -3 1 6 1 6 1 -2 1 -8 1 -5 1 -1 1 3 1 5 1 11 1 14 1 11 1 -2 1 -12 1 -15 1 -7 1 5 1 13 1 12 1 4 1 -1 1 -1 1 3 1 5 1 1 1 0 1 4 1 2 1 -5 1 -12 1 -15 1 -8 1 3 1 8 1 5 1 5 1 5 1 -1 1 -11 1 -11 1 -5 1 2 1 7 1 8 1 7 1 6 1 4 1 -1 1 -8 1 -9 1 -1 1 3 1 1 1 -2 1 -2 1 -2 1 -1 1 2 1 4 1 3 1 0 1 3 1 5 1 1 1 -7 1 -11 1 -10 1 -8 1 -6 1 -3 1 0 1 2 1 2" stroke="#008300"/><path vector-effect="non-scaling-stroke" d="M0 1190l1 6 1 5 1 1 1 2 1 3 1 0 1 -7 1 -8 1 -4 1 -2 1 -7 1 -10 1 -10 1 -6 1 2 1 10 1 15 1 11 1 0 1 -4 1 0 1 1 1 -3 1 -7 1 0 1 9 1 12 1 2 1 -9 1 -12 1 -4 1 2 1 4 1 1 1 -2 1 -4 1 -2 1 4 1 11 1 12 1 5 1 -3 1 -6 1 -4 1 0 1 4 1 7 1 6 1 7 1 8 1 2 1 -11 1 -20 1 -17 1 -10 1 -2 1 4 1 10 1 14 1 16 1 22 1 28 1 36 1 37 1 25 1 -1 1 -25 1 -38 1 -35 1 -23 1 -14 1 -12 1 -13 1 -10 1 -5 1 -2 1 -1 1 -1 1 0 1 3 1 9 1 10 1 6 1 4 1 1 1 -5 1 -12 1 -9 1 0 1 7 1 11 1 6 1 0 1 -5 1 -4 1 -1 1 0 1 -3 1 -5 1 -6 1 -8 1 -5 1 0 1 4 1 6 1 13 1 14 1 10 1 4 1 1 1 1 1 0 1 -2 1 -4 1 -4 1 -2 1 -3 1 -5 1 -4 1 1 1 5 1 5 1 2 1 -3 1 -4 1 -2 1 3 1 7 1 5 1 2 1 2 1 1 1 -8 1 -16 1 -12 1 0 1 5 1 3 1 -2 1 1 1 4 1 8 1 7 1 0 1 -8 1 -10 1 -5 1 2 1 5 1 1 1 -7 1 -11 1 -11 1 -4 1 -1 1 3 1 7 1 5 1 -1 1 -7 1 -7 1 0 1 7 1 10 1 11 1 8 1 6 1 3 1 1 1 1 1 4 1 2 1 -4 1 -8 1 -7 1 1 1 7 1 7 1 2 1 -2 1 -3 1 -6 1 -10 1 -10 1 -6 1 0 1 2 1 3 1 3 1 6 1 6 1 5 1 -3 1 -8 1 -6 1 -3 1 -3 1 -3 1 2 1 7" stroke="#d2b826"/><path vector-effect="non-scaling-stroke" d="M0 1194l1 -2 1 -2 1 -4 1 -4 1 3 1 10 1 12 1 5 1 -1 1 -3 1 -1 1 -1 1 -2 1 -5 1 -7 1 -3 1 4 1 4 1 -1 1 -4 1 -4 1 -3 1 -1 1 3 1 6 1 5 1 4 1 0 1 -2 1 -2 1 -1 1 -1 1 -1 1 0 1 -1 1 0 1 0 1 2 1 2 1 -1 1 0 1 2 1 6 1 2 1 -4 1 -10 1 -8 1 -6 1 -4 1 -1 1 4 1 8 1 13 1 14 1 -5 1 -28 1 -31 1 -20 1 -7 1 6 1 16 1 20 1 18 1 13 1 8 1 4 1 1 1 -3 1 -7 1 -9 1 -3 1 7 1 9 1 3 1 -5 1 -7 1 -3 1 1 1 2 1 -1 1 -3 1 -3 1 1 1 4 1 1 1 -2 1 0 1 5 1 6 1 4 1 1 1 3 1 1 1 -3 1 -7 1 -5 1 -1 1 1 1 -5 1 -8 1 -5 1 -1 1 1 1 -1 1 -2 1 -2 1 -1 1 4 1 11 1 14 1 10 1 4 1 -2 1 -6 1 -5 1 -5 1 -5 1 -5 1 -3 1 -2 1 -2 1 0 1 2 1 4 1 3 1 1 1 -1 1 -1 1 -1 1 -2 1 1 1 2 1 3 1 2 1 0 1 -3 1 -2 1 -2 1 3 1 6 1 5 1 0 1 -2 1 -3 1 -4 1 -4 1 -1 1 1 1 0 1 -2 1 1 1 4 1 6 1 4 1 2 1 -1 1 -1 1 -2 1 1 1 2 1 2 1 -1 1 -1 1 -2 1 -2 1 -3 1 -4 1 -4 1 -3 1 0 1 2 1 3 1 0 1 -2 1 -2 1 -1 1 -2 1 -4 1 -1 1 6 1 10 1 10 1 5 1 -1 1 -6 1 -9 1 -8 1 -4 1 0 1 4 1 0 1 0 1 7 1 10 1 2 1 -3 1 -3 1 1 1 3 1 1" stroke="#6934b9"/><path vector-effect="non-scaling-stroke" d="M0 1187l1 5 1 2 1 -3 1 -7 1 -2 1 8 1 10 1 4 1 -1 1 0 1 1 1 -3 1 -4 1 -1 1 3 1 3 1 0 1 -2 1 -3 1 -2 1 -2 1 -1 1 1 1 0 1 0 1 0 1 0 1 2 1 3 1 3 1 -3 1 -4 1 -1 1 2 1 4 1 0 1 -3 1 -4 1 -1 1 7 1 9 1 6 1 0 1 -1 1 -1 1 -2 1 -3 1 -6 1 -6 1 -3 1 1 1 3 1 0 1 -1 1 11 1 31 1 42 1 38 1 13 1 -20 1 -42 1 -51 1 -50 1 -43 1 -29 1 -11 1 6 1 17 1 20 1 20 1 21 1 22 1 15 1 6 1 -2 1 -3 1 -2 1 -3 1 -1 1 2 1 5 1 4 1 1 1 -5 1 -8 1 -8 1 -4 1 0 1 2 1 2 1 2 1 4 1 5 1 1 1 -2 1 -3 1 -2 1 1 1 7 1 11 1 7 1 1 1 -10 1 -14 1 -13 1 -10 1 -6 1 0 1 4 1 1 1 -4 1 -5 1 -1 1 4 1 4 1 5 1 4 1 3 1 0 1 -2 1 -1 1 6 1 9 1 6 1 2 1 -2 1 -1 1 0 1 1 1 -3 1 -6 1 -5 1 -2 1 2 1 5 1 5 1 2 1 -3 1 -5 1 -2 1 2 1 4 1 0 1 -5 1 -4 1 -3 1 -2 1 -1 1 0 1 0 1 2 1 2 1 -1 1 -4 1 -3 1 2 1 4 1 5 1 5 1 3 1 1 1 -1 1 -5 1 -7 1 -8 1 -2 1 6 1 8 1 6 1 0 1 -7 1 -9 1 -5 1 3 1 6 1 4 1 2 1 1 1 -1 1 0 1 3 1 3 1 0 1 -2 1 0 1 1 1 0 1 -4 1 -4 1 0 1 6 1 7 1 5 1 1 1 -2 1 -4 1 -6 1 -3 1 2 1 4" stroke="#9e83dc"/><path vector-effect="non-scaling-stroke" d="M0 1193l1 8 1 3 1 -1 1 2 1 8 1 7 1 1 1 -4 1 -3 1 -5 1 -9 1 -11 1 -10 1 -5 1 -2 1 2 1 6 1 8 1 6 1 1 1 -1 1 -2 1 -3 1 -6 1 0 1 10 1 11 1 2 1 -7 1 -9 1 -3 1 3 1 3 1 -1 1 -7 1 -8 1 -6 1 0 1 3 1 5 1 6 1 7 1 3 1 -2 1 -3 1 2 1 8 1 7 1 6 1 4 1 -2 1 -9 1 -18 1 -19 1 -10 1 2 1 7 1 10 1 14 1 14 1 6 1 1 1 4 1 11 1 18 1 22 1 21 1 11 1 -3 1 -14 1 -19 1 -19 1 -19 1 -15 1 -9 1 -2 1 -1 1 -2 1 -2 1 -2 1 1 1 3 1 6 1 7 1 3 1 -3 1 -8 1 -3 1 3 1 7 1 7 1 2 1 -4 1 -8 1 -4 1 3 1 2 1 -4 1 -6 1 -6 1 -6 1 -7 1 -4 1 0 1 4 1 6 1 7 1 7 1 5 1 1 1 -1 1 0 1 2 1 2 1 -2 1 -5 1 -6 1 -3 1 -2 1 1 1 6 1 4 1 -4 1 -7 1 -1 1 8 1 11 1 10 1 4 1 -2 1 -1 1 0 1 -5 1 -11 1 -10 1 -6 1 -4 1 -1 1 0 1 4 1 7 1 11 1 12 1 6 1 -4 1 -7 1 -5 1 -1 1 -3 1 -3 1 -3 1 -5 1 -7 1 -7 1 -3 1 3 1 9 1 7 1 -3 1 -10 1 -6 1 5 1 10 1 5 1 3 1 3 1 4 1 4 1 2 1 0 1 -2 1 -2 1 -2 1 -5 1 -6 1 -1 1 5 1 6 1 3 1 -3 1 -4 1 -4 1 -2 1 -1 1 0 1 -1 1 1 1 5 1 4 1 3 1 3 1 0 1 -7 1 -10 1 -4 1 1 1 1 1 2 1 1 1 -1" stroke="#d29e62"/><path vector-effect="non-scaling-stroke" d="M0 1194l1 7 1 2 1 -2 1 0 1 1 1 -4 1 -8 1 -4 1 0 1 2 1 1 1 0 1 -3 1 -6 1 -4 1 -1 1 4 1 7 1 7 1 5 1 2 1 -1 1 -4 1 -4 1 4 1 8 1 4 1 -5 1 -10 1 -10 1 -3 1 4 1 6 1 4 1 -1 1 0 1 2 1 3 1 1 1 -2 1 -3 1 -2 1 -2 1 -2 1 3 1 7 1 8 1 8 1 6 1 2 1 -3 1 -12 1 -19 1 -20 1 -6 1 11 1 18 1 17 1 15 1 8 1 4 1 2 1 6 1 15 1 22 1 26 1 22 1 9 1 -10 1 -22 1 -29 1 -32 1 -25 1 -12 1 -2 1 -3 1 -4 1 -3 1 0 1 2 1 6 1 7 1 3 1 -2 1 -5 1 -6 1 -8 1 -4 1 3 1 11 1 11 1 3 1 -5 1 -8 1 -7 1 -4 1 -3 1 -1 1 3 1 3 1 0 1 -4 1 -5 1 -1 1 4 1 11 1 14 1 6 1 -8 1 -16 1 -16 1 -5 1 8 1 15 1 13 1 6 1 -3 1 -7 1 -6 1 -1 1 3 1 4 1 3 1 0 1 -2 1 1 1 6 1 6 1 0 1 -3 1 -3 1 0 1 -4 1 -7 1 -7 1 2 1 6 1 1 1 -1 1 0 1 4 1 5 1 1 1 -2 1 -4 1 -3 1 2 1 5 1 2 1 -1 1 -3 1 -3 1 -3 1 -3 1 -4 1 -6 1 -6 1 -6 1 -6 1 -5 1 0 1 6 1 14 1 16 1 10 1 0 1 -3 1 0 1 2 1 2 1 -1 1 -2 1 -1 1 -4 1 -4 1 -1 1 2 1 4 1 -1 1 -7 1 -7 1 -4 1 1 1 2 1 0 1 2 1 5 1 8 1 6 1 4 1 3 1 -4 1 -12 1 -15 1 -7 1 4 1 7 1 5 1 5 1 4" stroke="#b8d226"/><path vector-effect="non-scaling-stroke" d="M0 1199l1 -2 1 -6 1 -7 1 -7 1 -7 1 -6 1 -2 1 3 1 5 1 8 1 9 1 8 1 5 1 5 1 5 1 1 1 -3 1 -3 1 3 1 3 1 -1 1 -2 1 3 1 7 1 -1 1 -15 1 -17 1 -8 1 4 1 10 1 8 1 5 1 3 1 -1 1 1 1 3 1 5 1 0 1 -7 1 -8 1 -6 1 -3 1 -1 1 1 1 3 1 0 1 -5 1 -6 1 -5 1 -4 1 -3 1 5 1 10 1 10 1 13 1 17 1 20 1 21 1 17 1 4 1 -16 1 -33 1 -40 1 -37 1 -23 1 -13 1 -3 1 6 1 15 1 18 1 12 1 2 1 -1 1 2 1 8 1 7 1 3 1 0 1 -3 1 -7 1 -8 1 -5 1 -1 1 4 1 6 1 8 1 5 1 -2 1 -8 1 -11 1 -10 1 -6 1 4 1 12 1 10 1 4 1 0 1 4 1 10 1 9 1 5 1 3 1 4 1 3 1 1 1 0 1 1 1 -3 1 -7 1 -7 1 -7 1 -7 1 -4 1 0 1 5 1 5 1 5 1 3 1 -1 1 -4 1 -4 1 -1 1 1 1 1 1 -6 1 -9 1 -7 1 -2 1 1 1 1 1 0 1 1 1 3 1 4 1 2 1 2 1 4 1 7 1 2 1 -7 1 -14 1 -11 1 -4 1 5 1 9 1 8 1 2 1 0 1 1 1 3 1 3 1 1 1 3 1 4 1 3 1 0 1 -1 1 -4 1 -5 1 -4 1 -2 1 1 1 8 1 11 1 6 1 -3 1 -10 1 -9 1 -5 1 -2 1 1 1 3 1 4 1 6 1 3 1 -1 1 -4 1 -2 1 1 1 -3 1 -4 1 -2 1 0 1 0 1 3 1 9 1 9 1 3 1 -4 1 -5 1 -4 1 -6 1 -6 1 -3 1 -2 1 -2 1 0 1 2 1 1 1 3" stroke="#4fb8a5"/><path vector-effect="non-scaling-stroke" d="M0 1182l1 8 1 5 1 0 1 1 1 5 1 10 1 10 1 3 1 -3 1 -3 1 2 1 -1 1 -9 1 -13 1 -9 1 0 1 5 1 2 1 -4 1 -8 1 -2 1 2 1 -1 1 -5 1 -1 1 8 1 13 1 9 1 -4 1 -11 1 -7 1 2 1 5 1 -1 1 -9 1 -10 1 -4 1 2 1 6 1 7 1 9 1 6 1 0 1 -3 1 -3 1 1 1 2 1 3 1 4 1 5 1 2 1 -2 1 -5 1 -6 1 -10 1 -16 1 -17 1 -17 1 -13 1 -2 1 13 1 23 1 29 1 27 1 18 1 9 1 2 1 -6 1 -13 1 -13 1 -5 1 2 1 3 1 1 1 -1 1 -2 1 1 1 2 1 2 1 3 1 5 1 3 1 1 1 0 1 -4 1 -10 1 -10 1 -6 1 -1 1 2 1 9 1 12 1 8 1 1 1 -2 1 0 1 0 1 -6 1 -13 1 -15 1 -13 1 -5 1 1 1 0 1 -4 1 -9 1 -5 1 8 1 18 1 18 1 8 1 0 1 -4 1 -5 1 -4 1 -3 1 -3 1 -1 1 1 1 6 1 6 1 1 1 -5 1 -5 1 1 1 6 1 9 1 8 1 2 1 -5 1 -9 1 -8 1 -5 1 1 1 4 1 7 1 2 1 -5 1 -7 1 -3 1 3 1 6 1 2 1 -2 1 -5 1 -4 1 -2 1 1 1 0 1 0 1 0 1 -3 1 -7 1 -7 1 -3 1 5 1 11 1 11 1 2 1 -5 1 -6 1 -1 1 -3 1 -9 1 -6 1 6 1 12 1 9 1 2 1 -1 1 -1 1 -3 1 -6 1 -6 1 -1 1 4 1 4 1 1 1 0 1 1 1 2 1 3 1 3 1 -2 1 -7 1 -8 1 -4 1 3 1 7 1 7 1 5 1 5 1 7 1 6 1 2 1 -3 1 -7 1 -7 1 -4 1 0" stroke="#9e34a5"/><path vector-effect="non-scaling-stroke" d="M0 1198l1 10 1 9 1 5 1 1 1 3 1 5 1 5 1 -1 1 -9 1 -10 1 -6 1 -7 1 -10 1 -14 1 -9 1 -1 1 2 1 -1 1 -8 1 -5 1 3 1 5 1 -2 1 -3 1 11 1 24 1 23 1 9 1 -8 1 -18 1 -13 1 -3 1 1 1 -4 1 -8 1 -8 1 -4 1 5 1 11 1 15 1 13 1 3 1 -5 1 -7 1 0 1 7 1 9 1 7 1 5 1 4 1 -1 1 -9 1 -7 1 -1 1 -18 1 -42 1 -46 1 -37 1 -23 1 1 1 25 1 48 1 63 1 67 1 58 1 40 1 19 1 -3 1 -28 1 -40 1 -35 1 -24 1 -17 1 -13 1 -10 1 -4 1 -2 1 -1 1 0 1 6 1 11 1 9 1 5 1 1 1 -5 1 -14 1 -13 1 -2 1 9 1 13 1 10 1 4 1 0 1 -1 1 1 1 6 1 4 1 -8 1 -18 1 -18 1 -11 1 -7 1 -6 1 -6 1 -2 1 3 1 4 1 3 1 4 1 6 1 6 1 6 1 4 1 1 1 1 1 0 1 1 1 0 1 1 1 3 1 3 1 -2 1 -9 1 -5 1 5 1 14 1 14 1 10 1 -1 1 -6 1 -2 1 4 1 3 1 -7 1 -9 1 -5 1 -3 1 -7 1 -6 1 3 1 13 1 15 1 7 1 -4 1 -13 1 -12 1 -5 1 3 1 5 1 0 1 -4 1 -8 1 -13 1 -14 1 -6 1 5 1 11 1 7 1 1 1 -4 1 -1 1 5 1 6 1 3 1 0 1 0 1 4 1 5 1 5 1 1 1 0 1 -2 1 -5 1 -7 1 -6 1 1 1 5 1 5 1 5 1 4 1 1 1 -4 1 -8 1 -8 1 -11 1 -11 1 -2 1 10 1 12 1 8 1 5 1 5 1 3 1 -1 1 -2 1 -1 1 -1 1 -1 1 0 1 0" stroke="#b81a26"/><path vector-effect="non-scaling-stroke" d="M0 1193l1 6 1 5 1 0 1 -2 1 1 1 5 1 7 1 6 1 1 1 -6 1 -8 1 -6 1 -3 1 -3 1 -2 1 3 1 6 1 1 1 -1 1 -2 1 -3 1 -7 1 -11 1 -9 1 2 1 16 1 14 1 4 1 -6 1 -9 1 -5 1 -1 1 1 1 0 1 -4 1 -7 1 -4 1 2 1 5 1 5 1 6 1 7 1 8 1 4 1 0 1 2 1 0 1 -4 1 -3 1 0 1 3 1 1 1 -5 1 -9 1 -6 1 0 1 5 1 5 1 3 1 1 1 0 1 -2 1 1 1 1 1 -3 1 -4 1 -2 1 -3 1 -4 1 -4 1 3 1 7 1 6 1 -1 1 -6 1 -3 1 5 1 8 1 5 1 1 1 0 1 0 1 -2 1 -5 1 -5 1 -5 1 -2 1 2 1 1 1 4 1 7 1 9 1 7 1 2 1 -1 1 -2 1 -1 1 -3 1 -5 1 -6 1 -1 1 2 1 2 1 -5 1 -10 1 -12 1 -6 1 2 1 8 1 10 1 7 1 2 1 -2 1 -1 1 -1 1 -2 1 -3 1 -1 1 1 1 5 1 4 1 0 1 -3 1 -1 1 4 1 8 1 6 1 3 1 0 1 -1 1 -1 1 -4 1 -8 1 -5 1 -1 1 0 1 -2 1 -3 1 0 1 2 1 5 1 5 1 5 1 -2 1 -9 1 -7 1 0 1 3 1 1 1 -4 1 -2 1 2 1 -1 1 -6 1 -4 1 3 1 7 1 7 1 1 1 -2 1 -5 1 -4 1 -6 1 -6 1 0 1 6 1 9 1 8 1 6 1 1 1 -3 1 -4 1 -5 1 -5 1 -3 1 0 1 2 1 -1 1 -3 1 -2 1 5 1 8 1 5 1 -2 1 -5 1 -5 1 -3 1 2 1 3 1 4 1 3 1 2 1 2 1 3 1 4 1 2 1 -1 1 -2 1 -2 1 -2" stroke="#b869b9"/><path vector-effect="non-scaling-stroke" d="M0 1186l1 9 1 4 1 -3 1 -3 1 1 1 4 1 6 1 4 1 3 1 -1 1 -7 1 -7 1 -4 1 1 1 2 1 2 1 3 1 0 1 -7 1 -9 1 -5 1 1 1 3 1 3 1 5 1 6 1 6 1 4 1 -1 1 -5 1 -7 1 -8 1 -6 1 -4 1 -4 1 -5 1 -2 1 6 1 10 1 10 1 7 1 3 1 -1 1 -1 1 -1 1 1 1 1 1 1 1 -1 1 -1 1 -2 1 -7 1 -11 1 -11 1 1 1 16 1 25 1 27 1 19 1 3 1 -11 1 -16 1 -17 1 -15 1 -12 1 -7 1 -3 1 -2 1 -3 1 0 1 4 1 6 1 6 1 6 1 6 1 5 1 1 1 -2 1 1 1 8 1 12 1 8 1 -2 1 -8 1 -13 1 -11 1 -5 1 -3 1 0 1 3 1 8 1 10 1 6 1 3 1 -1 1 -4 1 -6 1 -7 1 -5 1 1 1 2 1 -3 1 -7 1 -8 1 -6 1 -2 1 5 1 7 1 4 1 1 1 -3 1 -1 1 5 1 5 1 2 1 -2 1 -3 1 -3 1 -1 1 3 1 6 1 4 1 -1 1 -4 1 -4 1 2 1 8 1 8 1 2 1 -3 1 -4 1 -5 1 -4 1 -4 1 -3 1 -4 1 -3 1 -1 1 0 1 2 1 6 1 9 1 6 1 1 1 -3 1 -3 1 -3 1 -1 1 -3 1 -5 1 -5 1 1 1 2 1 -5 1 -8 1 -3 1 5 1 7 1 3 1 1 1 1 1 2 1 0 1 -3 1 -3 1 1 1 3 1 5 1 3 1 -2 1 -6 1 -6 1 -1 1 5 1 7 1 4 1 1 1 -2 1 -3 1 -1 1 2 1 3 1 -1 1 -3 1 -4 1 -4 1 0 1 3 1 3 1 3 1 4 1 4 1 0 1 -6 1 -2 1 5 1 7 1 0 1 -5 1 -5" stroke="#b883b9"/><path vector-effect="non-scaling-stroke" d="M0 1197l1 11 1 14 1 10 1 4 1 2 1 2 1 1 1 -1 1 -4 1 -7 1 -9 1 -10 1 -15 1 -18 1 -15 1 -3 1 6 1 3 1 -4 1 -4 1 5 1 7 1 -3 1 -9 1 1 1 19 1 27 1 15 1 -5 1 -16 1 -10 1 -2 1 -2 1 -7 1 -11 1 -9 1 -2 1 7 1 12 1 13 1 6 1 -3 1 -8 1 -5 1 4 1 14 1 13 1 7 1 3 1 6 1 2 1 -5 1 -12 1 -18 1 -36 1 -50 1 -44 1 -21 1 5 1 28 1 43 1 49 1 52 1 52 1 44 1 29 1 12 1 -10 1 -33 1 -42 1 -33 1 -16 1 -6 1 -5 1 -5 1 -3 1 -4 1 -7 1 -5 1 6 1 12 1 12 1 8 1 4 1 -3 1 -8 1 -9 1 -2 1 4 1 8 1 7 1 0 1 -6 1 -5 1 1 1 9 1 9 1 -4 1 -17 1 -23 1 -22 1 -18 1 -11 1 -1 1 6 1 8 1 8 1 7 1 5 1 0 1 -3 1 2 1 5 1 5 1 1 1 1 1 3 1 4 1 3 1 5 1 7 1 3 1 -6 1 -6 1 3 1 11 1 13 1 5 1 -5 1 -9 1 -3 1 4 1 0 1 -8 1 -10 1 -4 1 -1 1 -5 1 -5 1 3 1 11 1 15 1 11 1 -2 1 -13 1 -12 1 0 1 10 1 6 1 -4 1 -11 1 -14 1 -13 1 -8 1 -2 1 6 1 12 1 8 1 -1 1 -11 1 -9 1 1 1 2 1 -1 1 1 1 6 1 11 1 10 1 9 1 2 1 -1 1 -4 1 -7 1 -8 1 -2 1 7 1 11 1 7 1 2 1 0 1 -2 1 -2 1 -1 1 -7 1 -14 1 -13 1 -5 1 6 1 12 1 7 1 3 1 4 1 6 1 4 1 2 1 2 1 0 1 -2 1 -1 1 1" stroke="#d23426"/><path vector-effect="non-scaling-stroke" d="M0 1200l1 -9 1 -7 1 -1 1 2 1 -3 1 -10 1 -11 1 -5 1 1 1 7 1 8 1 7 1 6 1 6 1 5 1 0 1 0 1 6 1 9 1 5 1 -2 1 -3 1 0 1 3 1 -1 1 -11 1 -16 1 -10 1 -2 1 6 1 9 1 10 1 9 1 5 1 4 1 1 1 -5 1 -8 1 -8 1 -7 1 -6 1 -2 1 4 1 8 1 6 1 1 1 -3 1 0 1 1 1 -3 1 -3 1 -4 1 -5 1 -5 1 8 1 19 1 19 1 13 1 11 1 2 1 -8 1 -10 1 -5 1 2 1 11 1 14 1 12 1 1 1 -8 1 -15 1 -18 1 -20 1 -14 1 -6 1 -2 1 -3 1 -5 1 -3 1 3 1 3 1 -2 1 -7 1 -6 1 -1 1 6 1 10 1 8 1 3 1 -2 1 -1 1 -1 1 -5 1 -7 1 -4 1 -2 1 -4 1 -6 1 0 1 7 1 9 1 5 1 4 1 9 1 14 1 15 1 13 1 7 1 -5 1 -20 1 -23 1 -15 1 -7 1 -2 1 5 1 11 1 11 1 5 1 -1 1 -5 1 -2 1 -1 1 -1 1 1 1 2 1 -4 1 -10 1 -8 1 0 1 8 1 9 1 4 1 -2 1 -4 1 -1 1 3 1 6 1 8 1 5 1 -1 1 -9 1 -10 1 -9 1 -4 1 4 1 11 1 9 1 -1 1 -7 1 -1 1 7 1 7 1 2 1 5 1 7 1 4 1 -7 1 -13 1 -14 1 -5 1 3 1 6 1 3 1 4 1 8 1 6 1 -5 1 -9 1 -3 1 3 1 3 1 0 1 0 1 4 1 4 1 -1 1 -5 1 -2 1 4 1 3 1 -4 1 -7 1 -8 1 -5 1 0 1 5 1 8 1 7 1 2 1 -1 1 -2 1 -2 1 -5 1 -10 1 -9 1 -2 1 3 1 2 1 -4 1 -4 1 3" stroke="#4fd262"/><path vector-effect="non-scaling-stroke" d="M0 1194l1 -4 1 -5 1 -4 1 -2 1 -2 1 -1 1 1 1 -1 1 -2 1 2 1 9 1 12 1 9 1 5 1 -1 1 -7 1 -5 1 -1 1 2 1 3 1 3 1 3 1 4 1 2 1 -5 1 -11 1 -10 1 -2 1 7 1 9 1 3 1 -4 1 -5 1 -3 1 1 1 4 1 1 1 -1 1 -1 1 0 1 2 1 1 1 -1 1 -2 1 -3 1 -2 1 -1 1 -2 1 -5 1 -3 1 2 1 7 1 10 1 8 1 -4 1 -17 1 -23 1 -18 1 -4 1 8 1 15 1 11 1 0 1 -7 1 -8 1 -5 1 -1 1 2 1 6 1 9 1 11 1 8 1 6 1 3 1 1 1 0 1 0 1 -1 1 -4 1 -6 1 -6 1 -5 1 -3 1 2 1 6 1 6 1 5 1 2 1 -4 1 -5 1 -4 1 2 1 3 1 4 1 2 1 0 1 -3 1 -2 1 1 1 3 1 4 1 4 1 4 1 4 1 -2 1 -8 1 -10 1 -7 1 -1 1 0 1 1 1 -1 1 -1 1 2 1 4 1 3 1 4 1 4 1 5 1 0 1 -2 1 -5 1 -4 1 -4 1 -3 1 -1 1 -1 1 -2 1 -2 1 3 1 4 1 2 1 0 1 1 1 3 1 2 1 4 1 3 1 3 1 1 1 -3 1 -6 1 -10 1 -6 1 0 1 5 1 1 1 -2 1 -1 1 3 1 5 1 7 1 6 1 2 1 -1 1 -4 1 -6 1 -4 1 3 1 9 1 8 1 0 1 -4 1 -3 1 -3 1 -4 1 -6 1 -6 1 -4 1 0 1 0 1 1 1 1 1 3 1 3 1 1 1 -2 1 -1 1 -1 1 1 1 2 1 2 1 2 1 6 1 8 1 5 1 -2 1 -7 1 -6 1 -4 1 -3 1 -5 1 -2 1 0 1 1 1 4 1 5 1 3 1 -1 1 -3" stroke="#344fa5"/><path vector-effect="non-scaling-stroke" d="M0 1193l1 3 1 4 1 2 1 5 1 8 1 7 1 2 1 0 1 -2 1 -5 1 -12 1 -15 1 -14 1 -10 1 -4 1 5 1 11 1 7 1 0 1 -3 1 0 1 1 1 -4 1 -9 1 -2 1 13 1 21 1 15 1 4 1 -8 1 -11 1 -9 1 -5 1 -2 1 -1 1 -3 1 0 1 5 1 4 1 1 1 1 1 2 1 1 1 2 1 4 1 6 1 4 1 2 1 4 1 5 1 0 1 -8 1 -15 1 -18 1 -14 1 -5 1 2 1 3 1 3 1 5 1 7 1 13 1 18 1 21 1 19 1 15 1 7 1 -5 1 -17 1 -22 1 -18 1 -9 1 -2 1 -3 1 -5 1 -4 1 -3 1 -2 1 0 1 5 1 10 1 11 1 10 1 4 1 -8 1 -17 1 -16 1 -3 1 9 1 12 1 8 1 5 1 3 1 0 1 -1 1 -1 1 -2 1 -7 1 -7 1 -4 1 -2 1 -5 1 -6 1 -6 1 -4 1 0 1 5 1 8 1 3 1 -3 1 -4 1 1 1 4 1 5 1 4 1 5 1 2 1 -1 1 -2 1 -1 1 1 1 -1 1 -5 1 -2 1 6 1 12 1 11 1 4 1 -7 1 -8 1 -2 1 6 1 3 1 -5 1 -10 1 -8 1 -5 1 -2 1 1 1 5 1 8 1 9 1 4 1 -3 1 -8 1 -7 1 -2 1 5 1 4 1 -3 1 -6 1 -8 1 -9 1 -9 1 -4 1 4 1 12 1 10 1 0 1 -8 1 -5 1 2 1 5 1 2 1 3 1 4 1 3 1 5 1 6 1 0 1 -6 1 -6 1 -5 1 -7 1 -7 1 -1 1 6 1 6 1 2 1 0 1 0 1 -2 1 -3 1 -1 1 -2 1 -1 1 3 1 4 1 5 1 6 1 6 1 2 1 -4 1 -9 1 -4 1 3 1 6 1 1 1 0 1 0" stroke="#d2837a"/></g></g>
<rect x="24.30" y="185.40" width="301.00" height="98.20" fill="none" stroke="#3a3a3a" stroke-width="0.9"/>
<line x1="21.70" y1="201.80" x2="24.30" y2="201.80" stroke="#444" stroke-width="0.8"/>
<text x="20.5" y="204.3" font-size="7" text-anchor="end" fill="#1c1c1c">4</text>
<line x1="21.70" y1="220.30" x2="24.30" y2="220.30" stroke="#444" stroke-width="0.8"/>
<text x="20.5" y="222.8" font-size="7" text-anchor="end" fill="#1c1c1c">2</text>
<line x1="21.70" y1="238.80" x2="24.30" y2="238.80" stroke="#444" stroke-width="0.8"/>
<text x="20.5" y="241.3" font-size="7" text-anchor="end" fill="#1c1c1c">0</text>
<line x1="21.70" y1="257.30" x2="24.30" y2="257.30" stroke="#444" stroke-width="0.8"/>
<text x="20.5" y="259.8" font-size="7" text-anchor="end" fill="#1c1c1c">−2</text>
<line x1="21.70" y1="275.80" x2="24.30" y2="275.80" stroke="#444" stroke-width="0.8"/>
<text x="20.5" y="278.3" font-size="7" text-anchor="end" fill="#1c1c1c">−4</text>
<line x1="24.30" y1="283.60" x2="24.30" y2="286.20" stroke="#444" stroke-width="0.8"/>
<text x="24.3" y="292.0" font-size="7" text-anchor="middle" fill="#1c1c1c">−0.50</text>
<line x1="61.95" y1="283.60" x2="61.95" y2="286.20" stroke="#444" stroke-width="0.8"/>
<text x="61.9" y="292.0" font-size="7" text-anchor="middle" fill="#1c1c1c">−0.25</text>
<line x1="99.60" y1="283.60" x2="99.60" y2="286.20" stroke="#444" stroke-width="0.8"/>
<text x="99.6" y="292.0" font-size="7" text-anchor="middle" fill="#1c1c1c">0.00</text>
<line x1="137.25" y1="283.60" x2="137.25" y2="286.20" stroke="#444" stroke-width="0.8"/>
<text x="137.2" y="292.0" font-size="7" text-anchor="middle" fill="#1c1c1c">0.25</text>
<line x1="174.90" y1="283.60" x2="174.90" y2="286.20" stroke="#444" stroke-width="0.8"/>
<text x="174.9" y="292.0" font-size="7" text-anchor="middle" fill="#1c1c1c">0.50</text>
<line x1="212.55" y1="283.60" x2="212.55" y2="286.20" stroke="#444" stroke-width="0.8"/>
<text x="212.5" y="292.0" font-size="7" text-anchor="middle" fill="#1c1c1c">0.75</text>
<line x1="250.20" y1="283.60" x2="250.20" y2="286.20" stroke="#444" stroke-width="0.8"/>
<text x="250.2" y="292.0" font-size="7" text-anchor="middle" fill="#1c1c1c">1.00</text>
<line x1="287.85" y1="283.60" x2="287.85" y2="286.20" stroke="#444" stroke-width="0.8"/>
<text x="287.9" y="292.0" font-size="7" text-anchor="middle" fill="#1c1c1c">1.25</text>
<line x1="325.50" y1="283.60" x2="325.50" y2="286.20" stroke="#444" stroke-width="0.8"/>
<text x="325.5" y="292.0" font-size="7" text-anchor="middle" fill="#1c1c1c">1.50</text>
<text x="175.0" y="302.6" font-size="8" text-anchor="middle" fill="#1c1c1c">Time (s)</text>
<text x="0" y="0" font-size="7.9" text-anchor="middle" fill="#1c1c1c" transform="translate(10.3 234.0) rotate(-90)">z-score</text>
<text x="326.0" y="182.6" font-size="6.4" text-anchor="end" fill="#1c1c1c">N<tspan font-size="4.2" dy="1.4">sub</tspan><tspan dy="-1.4"> = 21</tspan></text>
<line x1="93.70" y1="171.80" x2="104.12" y2="185.40" stroke="#9a9a9a" stroke-width="0.9"/>
<line x1="196.80" y1="172.00" x2="113.15" y2="185.40" stroke="#9a9a9a" stroke-width="0.9"/>
<line x1="299.20" y1="172.20" x2="125.20" y2="185.40" stroke="#9a9a9a" stroke-width="0.9"/>
<circle cx="42.0" cy="204.4" r="10.7" fill="#fff"/>
<rect x="39.9" y="193.8" width="2.0" height="2.0" fill="#6bf200"/>
<rect x="42.1" y="193.8" width="2.0" height="2.0" fill="#86f200"/>
<rect x="35.6" y="195.9" width="2.0" height="2.0" fill="#35d727"/>
<rect x="37.8" y="195.9" width="2.0" height="2.0" fill="#50d764"/>
<rect x="39.9" y="195.9" width="2.0" height="2.0" fill="#6bd77d"/>
<rect x="42.1" y="195.9" width="2.0" height="2.0" fill="#86d77d"/>
<rect x="44.2" y="195.9" width="2.0" height="2.0" fill="#a1d764"/>
<rect x="46.4" y="195.9" width="2.0" height="2.0" fill="#bcd727"/>
<rect x="33.5" y="198.1" width="2.0" height="2.0" fill="#1abc27"/>
<rect x="35.6" y="198.1" width="2.0" height="2.0" fill="#35bc7d"/>
<rect x="37.8" y="198.1" width="2.0" height="2.0" fill="#50bca9"/>
<rect x="39.9" y="198.1" width="2.0" height="2.0" fill="#6bbcbd"/>
<rect x="42.1" y="198.1" width="2.0" height="2.0" fill="#86bcbd"/>
<rect x="44.2" y="198.1" width="2.0" height="2.0" fill="#a1bca9"/>
<rect x="46.4" y="198.1" width="2.0" height="2.0" fill="#bcbc7d"/>
<rect x="48.5" y="198.1" width="2.0" height="2.0" fill="#d7bc27"/>
<rect x="33.5" y="200.2" width="2.0" height="2.0" fill="#1aa164"/>
<rect x="35.6" y="200.2" width="2.0" height="2.0" fill="#35a1a9"/>
<rect x="37.8" y="200.2" width="2.0" height="2.0" fill="#50a1cf"/>
<rect x="39.9" y="200.2" width="2.0" height="2.0" fill="#6ba1e1"/>
<rect x="42.1" y="200.2" width="2.0" height="2.0" fill="#86a1e1"/>
<rect x="44.2" y="200.2" width="2.0" height="2.0" fill="#a1a1cf"/>
<rect x="46.4" y="200.2" width="2.0" height="2.0" fill="#bca1a9"/>
<rect x="48.5" y="200.2" width="2.0" height="2.0" fill="#d7a164"/>
<rect x="31.4" y="202.3" width="2.0" height="2.0" fill="#008600"/>
<rect x="33.5" y="202.3" width="2.0" height="2.0" fill="#1a867d"/>
<rect x="35.6" y="202.3" width="2.0" height="2.0" fill="#3586bd"/>
<rect x="37.8" y="202.3" width="2.0" height="2.0" fill="#5086e1"/>
<rect x="39.9" y="202.3" width="2.0" height="2.0" fill="#6b86f2"/>
<rect x="42.1" y="202.3" width="2.0" height="2.0" fill="#8686f2"/>
<rect x="44.2" y="202.3" width="2.0" height="2.0" fill="#a186e1"/>
<rect x="46.4" y="202.3" width="2.0" height="2.0" fill="#bc86bd"/>
<rect x="48.5" y="202.3" width="2.0" height="2.0" fill="#d7867d"/>
<rect x="50.6" y="202.3" width="2.0" height="2.0" fill="#f28600"/>
<rect x="31.4" y="204.5" width="2.0" height="2.0" fill="#006b00"/>
<rect x="33.5" y="204.5" width="2.0" height="2.0" fill="#1a6b7d"/>
<rect x="35.6" y="204.5" width="2.0" height="2.0" fill="#356bbd"/>
<rect x="37.8" y="204.5" width="2.0" height="2.0" fill="#506be1"/>
<rect x="39.9" y="204.5" width="2.0" height="2.0" fill="#6b6bf2"/>
<rect x="42.1" y="204.5" width="2.0" height="2.0" fill="#866bf2"/>
<rect x="44.2" y="204.5" width="2.0" height="2.0" fill="#a16be1"/>
<rect x="46.4" y="204.5" width="2.0" height="2.0" fill="#bc6bbd"/>
<rect x="48.5" y="204.5" width="2.0" height="2.0" fill="#d76b7d"/>
<rect x="50.6" y="204.5" width="2.0" height="2.0" fill="#f26b00"/>
<rect x="33.5" y="206.6" width="2.0" height="2.0" fill="#1a5064"/>
<rect x="35.6" y="206.6" width="2.0" height="2.0" fill="#3550a9"/>
<rect x="37.8" y="206.6" width="2.0" height="2.0" fill="#5050cf"/>
<rect x="39.9" y="206.6" width="2.0" height="2.0" fill="#6b50e1"/>
<rect x="42.1" y="206.6" width="2.0" height="2.0" fill="#8650e1"/>
<rect x="44.2" y="206.6" width="2.0" height="2.0" fill="#a150cf"/>
<rect x="46.4" y="206.6" width="2.0" height="2.0" fill="#bc50a9"/>
<rect x="48.5" y="206.6" width="2.0" height="2.0" fill="#d75064"/>
<rect x="33.5" y="208.8" width="2.0" height="2.0" fill="#1a3527"/>
<rect x="35.6" y="208.8" width="2.0" height="2.0" fill="#35357d"/>
<rect x="37.8" y="208.8" width="2.0" height="2.0" fill="#5035a9"/>
<rect x="39.9" y="208.8" width="2.0" height="2.0" fill="#6b35bd"/>
<rect x="42.1" y="208.8" width="2.0" height="2.0" fill="#8635bd"/>
<rect x="44.2" y="208.8" width="2.0" height="2.0" fill="#a135a9"/>
<rect x="46.4" y="208.8" width="2.0" height="2.0" fill="#bc357d"/>
<rect x="48.5" y="208.8" width="2.0" height="2.0" fill="#d73527"/>
<rect x="35.6" y="210.9" width="2.0" height="2.0" fill="#351a27"/>
<rect x="37.8" y="210.9" width="2.0" height="2.0" fill="#501a64"/>
<rect x="39.9" y="210.9" width="2.0" height="2.0" fill="#6b1a7d"/>
<rect x="42.1" y="210.9" width="2.0" height="2.0" fill="#861a7d"/>
<rect x="44.2" y="210.9" width="2.0" height="2.0" fill="#a11a64"/>
<rect x="46.4" y="210.9" width="2.0" height="2.0" fill="#bc1a27"/>
<rect x="39.9" y="213.0" width="2.0" height="2.0" fill="#6b0000"/>
<rect x="42.1" y="213.0" width="2.0" height="2.0" fill="#860000"/>
<circle cx="42.0" cy="204.4" r="10.7" fill="none" stroke="#222" stroke-width="1.0"/>
<path d="M38.8,194.3 L42.0,190.10000000000002 L45.2,194.3" fill="none" stroke="#222" stroke-width="1.0"/>
<path d="M31.3,201.9 q-1.8,0 -1.8,2.5 q0,2.5 1.8,2.5 M52.7,201.9 q1.8,0 1.8,2.5 q0,2.5 -1.8,2.5" fill="#222" stroke="#222" stroke-width="1.0"/>
<text x="10.0" y="311.0" font-size="9.5" text-anchor="start" font-weight="bold" fill="#111">B.ii</text>
<text x="29.4" y="317.5" font-size="9.5" text-anchor="start" fill="#1c1c1c">t-map</text>
<text x="41.2" y="390.0" font-size="7.6" text-anchor="middle" fill="#1c1c1c">0.000 - 0.200 s</text>
<rect x="75.20" y="319.00" width="3.80" height="61.00" fill="url(#rdbu)" stroke="none" stroke-width="0.8"/>
<line x1="79.00" y1="329.50" x2="81.00" y2="329.50" stroke="#333" stroke-width="0.7"/>
<text x="82.0" y="332.0" font-size="7" text-anchor="start" fill="#1c1c1c">1</text>
<line x1="79.00" y1="349.70" x2="81.00" y2="349.70" stroke="#333" stroke-width="0.7"/>
<text x="82.0" y="352.2" font-size="7" text-anchor="start" fill="#1c1c1c">0</text>
<line x1="79.00" y1="369.90" x2="81.00" y2="369.90" stroke="#333" stroke-width="0.7"/>
<text x="82.0" y="372.4" font-size="7" text-anchor="start" fill="#1c1c1c">−1</text>
<text x="222.8" y="317.3" font-size="9.4" text-anchor="middle" fill="#1c1c1c">Electrode Grand Average</text>
<line x1="126.00" y1="325.18" x2="126.00" y2="373.03" stroke="#444" stroke-width="0.9"/>
<line x1="126.00" y1="379.70" x2="319.60" y2="379.70" stroke="#444" stroke-width="0.9"/>
<line x1="123.40" y1="325.18" x2="126.00" y2="325.18" stroke="#444" stroke-width="0.8"/>
<text x="122.4" y="327.7" font-size="7" text-anchor="end" fill="#1c1c1c">0.75</text>
<line x1="123.40" y1="333.15" x2="126.00" y2="333.15" stroke="#444" stroke-width="0.8"/>
<text x="122.4" y="335.7" font-size="7" text-anchor="end" fill="#1c1c1c">0.50</text>
<line x1="123.40" y1="341.12" x2="126.00" y2="341.12" stroke="#444" stroke-width="0.8"/>
<text x="122.4" y="343.6" font-size="7" text-anchor="end" fill="#1c1c1c">0.25</text>
<line x1="123.40" y1="349.10" x2="126.00" y2="349.10" stroke="#444" stroke-width="0.8"/>
<text x="122.4" y="351.6" font-size="7" text-anchor="end" fill="#1c1c1c">0.00</text>
<line x1="123.40" y1="357.08" x2="126.00" y2="357.08" stroke="#444" stroke-width="0.8"/>
<text x="122.4" y="359.6" font-size="7" text-anchor="end" fill="#1c1c1c">−0.25</text>
<line x1="123.40" y1="365.05" x2="126.00" y2="365.05" stroke="#444" stroke-width="0.8"/>
<text x="122.4" y="367.6" font-size="7" text-anchor="end" fill="#1c1c1c">−0.50</text>
<line x1="123.40" y1="373.03" x2="126.00" y2="373.03" stroke="#444" stroke-width="0.8"/>
<text x="122.4" y="375.5" font-size="7" text-anchor="end" fill="#1c1c1c">−0.75</text>
<line x1="126.00" y1="379.70" x2="126.00" y2="382.30" stroke="#444" stroke-width="0.8"/>
<text x="126.0" y="389.0" font-size="7" text-anchor="middle" fill="#1c1c1c">−0.50</text>
<line x1="150.20" y1="379.70" x2="150.20" y2="382.30" stroke="#444" stroke-width="0.8"/>
<text x="150.2" y="389.0" font-size="7" text-anchor="middle" fill="#1c1c1c">−0.25</text>
<line x1="174.40" y1="379.70" x2="174.40" y2="382.30" stroke="#444" stroke-width="0.8"/>
<text x="174.4" y="389.0" font-size="7" text-anchor="middle" fill="#1c1c1c">0.00</text>
<line x1="198.60" y1="379.70" x2="198.60" y2="382.30" stroke="#444" stroke-width="0.8"/>
<text x="198.6" y="389.0" font-size="7" text-anchor="middle" fill="#1c1c1c">0.25</text>
<line x1="222.80" y1="379.70" x2="222.80" y2="382.30" stroke="#444" stroke-width="0.8"/>
<text x="222.8" y="389.0" font-size="7" text-anchor="middle" fill="#1c1c1c">0.50</text>
<line x1="247.00" y1="379.70" x2="247.00" y2="382.30" stroke="#444" stroke-width="0.8"/>
<text x="247.0" y="389.0" font-size="7" text-anchor="middle" fill="#1c1c1c">0.75</text>
<line x1="271.20" y1="379.70" x2="271.20" y2="382.30" stroke="#444" stroke-width="0.8"/>
<text x="271.2" y="389.0" font-size="7" text-anchor="middle" fill="#1c1c1c">1.00</text>
<line x1="295.40" y1="379.70" x2="295.40" y2="382.30" stroke="#444" stroke-width="0.8"/>
<text x="295.4" y="389.0" font-size="7" text-anchor="middle" fill="#1c1c1c">1.25</text>
<line x1="319.60" y1="379.70" x2="319.60" y2="382.30" stroke="#444" stroke-width="0.8"/>
<text x="319.6" y="389.0" font-size="7" text-anchor="middle" fill="#1c1c1c">1.50</text>
<text x="222.8" y="398.5" font-size="8" text-anchor="middle" fill="#1c1c1c">Time (s)</text>
<text x="0" y="0" font-size="7.8" text-anchor="middle" fill="#1c1c1c" transform="translate(101.0 350.0) rotate(-90)">z-score</text>
<path d="M126.0,345.7 L126.6,346.7 L127.3,348.1 L127.9,348.6 L128.6,347.8 L129.2,346.8 L129.9,346.2 L130.5,346.2 L131.2,346.5 L131.8,346.8 L132.5,346.9 L133.1,346.7 L133.7,346.3 L134.4,346.1 L135.0,346.5 L135.7,347.4 L136.3,348.2 L137.0,348.5 L137.6,348.5 L138.3,348.6 L138.9,348.1 L139.6,347.1 L140.2,346.4 L140.8,346.5 L141.5,346.8 L142.1,346.9 L142.8,346.6 L143.4,346.2 L144.1,345.8 L144.7,345.7 L145.4,346.0 L146.0,346.7 L146.7,347.5 L147.3,347.8 L147.9,347.6 L148.6,347.4 L149.2,347.2 L149.9,346.9 L150.5,346.7 L151.2,346.8 L151.8,347.5 L152.5,348.2 L153.1,348.3 L153.7,347.2 L154.4,345.1 L155.0,343.3 L155.7,342.8 L156.3,343.3 L157.0,344.5 L157.6,346.0 L158.3,347.7 L158.9,349.3 L159.6,349.6 L160.2,348.3 L160.8,346.6 L161.5,345.4 L162.1,345.2 L162.8,345.9 L163.4,347.0 L164.1,348.2 L164.7,348.8 L165.4,348.5 L166.0,347.5 L166.7,346.6 L167.3,346.3 L167.9,346.5 L168.6,346.8 L169.2,347.2 L169.9,347.9 L170.5,348.4 L171.2,348.5 L171.8,348.3 L172.5,347.9 L173.1,347.3 L173.8,346.9 L174.4,346.6 L175.0,346.1 L175.7,345.2 L176.3,344.7 L177.0,344.9 L177.6,345.6 L178.3,346.5 L178.9,348.0 L179.6,350.2 L180.2,352.7 L180.9,355.6 L181.5,358.9 L182.1,362.0 L182.8,364.1 L183.4,364.2 L184.1,362.0 L184.7,358.4 L185.4,354.7 L186.0,351.2 L186.7,348.4 L187.3,345.9 L188.0,343.0 L188.6,339.5 L189.2,336.0 L189.9,333.5 L190.5,332.6 L191.2,332.7 L191.8,333.2 L192.5,334.1 L193.1,335.8 L193.8,338.0 L194.4,340.5 L195.1,343.3 L195.7,345.7 L196.3,347.7 L197.0,349.2 L197.6,350.2 L198.3,350.5 L198.9,350.3 L199.6,350.1 L200.2,350.2 L200.9,350.7 L201.5,351.3 L202.1,351.9 L202.8,352.3 L203.4,352.1 L204.1,351.1 L204.7,350.0 L205.4,349.9 L206.0,350.8 L206.7,351.8 L207.3,352.4 L208.0,352.8 L208.6,353.1 L209.2,353.5 L209.9,353.6 L210.5,353.2 L211.2,352.6 L211.8,352.1 L212.5,351.4 L213.1,350.3 L213.8,349.3 L214.4,348.9 L215.1,349.1 L215.7,349.6 L216.3,350.5 L217.0,351.5 L217.6,352.8 L218.3,353.9 L218.9,354.3 L219.6,354.2 L220.2,353.8 L220.9,353.3 L221.5,352.9 L222.2,352.8 L222.8,352.8 L223.4,352.5 L224.1,351.9 L224.7,351.4 L225.4,351.1 L226.0,350.5 L226.7,349.9 L227.3,349.7 L228.0,349.6 L228.6,349.0 L229.3,348.2 L229.9,347.7 L230.5,347.6 L231.2,347.5 L231.8,347.3 L232.5,346.9 L233.1,346.2 L233.8,345.3 L234.4,344.1 L235.1,343.3 L235.7,343.6 L236.4,345.0 L237.0,346.4 L237.6,346.6 L238.3,345.8 L238.9,344.8 L239.6,343.8 L240.2,343.0 L240.9,342.9 L241.5,343.7 L242.2,344.8 L242.8,345.3 L243.5,345.1 L244.1,344.5 L244.7,344.0 L245.4,344.4 L246.0,345.5 L246.7,346.6 L247.3,347.0 L248.0,346.7 L248.6,346.4 L249.3,346.4 L249.9,346.6 L250.5,346.6 L251.2,346.5 L251.8,346.6 L252.5,347.0 L253.1,347.9 L253.8,349.0 L254.4,349.5 L255.1,349.2 L255.7,348.9 L256.4,348.9 L257.0,349.0 L257.6,348.5 L258.3,347.9 L258.9,347.7 L259.6,348.1 L260.2,348.1 L260.9,347.3 L261.5,346.4 L262.2,346.5 L262.8,347.1 L263.5,347.6 L264.1,347.4 L264.7,346.8 L265.4,346.0 L266.0,345.4 L266.7,345.2 L267.3,345.5 L268.0,346.3 L268.6,346.9 L269.3,347.2 L269.9,347.6 L270.6,348.3 L271.2,348.7 L271.8,348.7 L272.5,348.6 L273.1,348.4 L273.8,348.0 L274.4,347.5 L275.1,347.3 L275.7,347.5 L276.4,348.0 L277.0,348.5 L277.7,348.9 L278.3,348.9 L278.9,348.4 L279.6,347.7 L280.2,347.2 L280.9,347.0 L281.5,347.0 L282.2,347.1 L282.8,347.6 L283.5,348.1 L284.1,348.2 L284.8,347.9 L285.4,347.6 L286.0,347.3 L286.7,347.0 L287.3,346.9 L288.0,347.3 L288.6,348.2 L289.3,349.1 L289.9,349.1 L290.6,348.2 L291.2,347.2 L291.9,347.0 L292.5,347.4 L293.1,347.6 L293.8,347.1 L294.4,346.6 L295.1,346.6 L295.7,346.8 L296.4,346.7 L297.0,346.2 L297.7,345.8 L298.3,346.0 L298.9,346.7 L299.6,347.6 L300.2,348.4 L300.9,348.8 L301.5,348.8 L302.2,348.8 L302.8,348.6 L303.5,348.1 L304.1,347.6 L304.8,347.5 L305.4,347.6 L306.0,347.6 L306.7,347.6 L307.3,347.2 L308.0,346.5 L308.6,346.0 L309.3,345.8 L309.9,345.9 L310.6,346.0 L311.2,345.8 L311.9,345.1 L312.5,344.4 L313.1,344.3 L313.8,345.0 L314.4,346.0 L315.1,346.5 L315.7,346.2 L316.4,345.3 L317.0,344.7 L317.7,345.2 L318.3,345.9 L319.0,345.6 L319.6,344.3 L319.6,350.3 L319.0,349.7 L318.3,348.8 L317.7,348.2 L317.0,348.0 L316.4,348.4 L315.7,349.1 L315.1,349.4 L314.4,348.9 L313.8,347.9 L313.1,347.3 L312.5,347.5 L311.9,348.0 L311.2,348.9 L310.6,350.2 L309.9,351.6 L309.3,352.2 L308.6,351.9 L308.0,351.0 L307.3,350.4 L306.7,350.4 L306.0,350.7 L305.4,350.6 L304.8,350.4 L304.1,350.5 L303.5,351.2 L302.8,351.7 L302.2,351.9 L301.5,351.8 L300.9,351.8 L300.2,351.7 L299.6,351.2 L298.9,350.6 L298.3,350.3 L297.7,350.1 L297.0,350.0 L296.4,349.8 L295.7,349.7 L295.1,349.8 L294.4,350.4 L293.8,351.5 L293.1,352.1 L292.5,351.6 L291.9,350.8 L291.2,350.7 L290.6,351.5 L289.9,352.2 L289.3,352.0 L288.6,351.2 L288.0,350.7 L287.3,350.9 L286.7,351.6 L286.0,351.9 L285.4,351.7 L284.8,351.4 L284.1,351.3 L283.5,351.1 L282.8,350.5 L282.2,350.0 L281.5,350.2 L280.9,351.0 L280.2,351.8 L279.6,352.4 L278.9,352.6 L278.3,352.6 L277.7,352.4 L277.0,352.1 L276.4,352.3 L275.7,352.9 L275.1,353.5 L274.4,353.4 L273.8,352.7 L273.1,351.9 L272.5,351.6 L271.8,351.7 L271.2,351.9 L270.6,351.8 L269.9,351.2 L269.3,350.5 L268.6,349.9 L268.0,349.2 L267.3,348.6 L266.7,348.5 L266.0,349.0 L265.4,349.9 L264.7,350.8 L264.1,350.9 L263.5,350.5 L262.8,350.2 L262.2,350.3 L261.5,350.8 L260.9,351.3 L260.2,351.3 L259.6,350.9 L258.9,350.7 L258.3,351.1 L257.6,351.7 L257.0,352.0 L256.4,351.8 L255.7,351.7 L255.1,352.1 L254.4,352.4 L253.8,351.9 L253.1,350.8 L252.5,349.9 L251.8,349.5 L251.2,349.4 L250.5,349.7 L249.9,350.4 L249.3,351.2 L248.6,351.5 L248.0,351.4 L247.3,351.0 L246.7,350.3 L246.0,349.0 L245.4,347.7 L244.7,347.1 L244.1,347.3 L243.5,348.1 L242.8,348.3 L242.2,347.8 L241.5,347.6 L240.9,348.6 L240.2,349.7 L239.6,349.9 L238.9,349.5 L238.3,349.4 L237.6,349.5 L237.0,349.4 L236.4,348.7 L235.7,348.1 L235.1,348.0 L234.4,348.2 L233.8,348.6 L233.1,349.1 L232.5,350.1 L231.8,351.8 L231.2,353.5 L230.5,354.0 L229.9,353.3 L229.3,352.7 L228.6,352.7 L228.0,353.0 L227.3,353.3 L226.7,353.9 L226.0,354.6 L225.4,354.7 L224.7,354.5 L224.1,354.8 L223.4,355.4 L222.8,355.8 L222.2,355.9 L221.5,356.0 L220.9,356.3 L220.2,356.7 L219.6,357.0 L218.9,357.2 L218.3,356.8 L217.6,355.7 L217.0,354.5 L216.3,353.9 L215.7,354.1 L215.1,355.1 L214.4,356.6 L213.8,357.6 L213.1,357.3 L212.5,356.2 L211.8,355.4 L211.2,355.5 L210.5,356.4 L209.9,357.2 L209.2,357.2 L208.6,356.5 L208.0,355.8 L207.3,355.4 L206.7,354.9 L206.0,354.1 L205.4,353.4 L204.7,353.4 L204.1,354.2 L203.4,355.0 L202.8,355.2 L202.1,354.8 L201.5,354.2 L200.9,353.7 L200.2,353.4 L199.6,353.3 L198.9,353.4 L198.3,353.6 L197.6,353.4 L197.0,352.7 L196.3,351.3 L195.7,349.6 L195.1,347.5 L194.4,345.6 L193.8,343.6 L193.1,341.7 L192.5,340.4 L191.8,339.8 L191.2,339.5 L190.5,339.5 L189.9,340.4 L189.2,342.6 L188.6,345.4 L188.0,348.3 L187.3,350.6 L186.7,352.7 L186.0,355.2 L185.4,358.2 L184.7,361.7 L184.1,365.1 L183.4,367.2 L182.8,367.1 L182.1,365.1 L181.5,362.0 L180.9,358.6 L180.2,355.6 L179.6,353.3 L178.9,351.3 L178.3,349.5 L177.6,348.7 L177.0,349.6 L176.3,351.1 L175.7,351.6 L175.0,351.0 L174.4,350.1 L173.8,349.7 L173.1,350.2 L172.5,350.9 L171.8,351.2 L171.2,351.4 L170.5,351.6 L169.9,351.2 L169.2,350.3 L168.6,349.8 L167.9,349.5 L167.3,349.2 L166.7,349.5 L166.0,350.4 L165.4,351.4 L164.7,351.7 L164.1,351.3 L163.4,350.2 L162.8,349.0 L162.1,348.3 L161.5,348.4 L160.8,349.5 L160.2,351.2 L159.6,352.5 L158.9,352.5 L158.3,351.6 L157.6,350.2 L157.0,348.3 L156.3,346.3 L155.7,345.8 L155.0,347.3 L154.4,350.0 L153.7,352.1 L153.1,352.6 L152.5,351.8 L151.8,350.6 L151.2,349.8 L150.5,349.5 L149.9,349.8 L149.2,350.1 L148.6,350.4 L147.9,350.8 L147.3,350.8 L146.7,350.4 L146.0,349.6 L145.4,348.9 L144.7,348.6 L144.1,348.7 L143.4,349.1 L142.8,349.7 L142.1,350.4 L141.5,350.9 L140.8,350.8 L140.2,350.4 L139.6,350.4 L138.9,351.0 L138.3,351.8 L137.6,352.2 L137.0,352.1 L136.3,351.4 L135.7,350.4 L135.0,349.4 L134.4,349.0 L133.7,349.3 L133.1,349.7 L132.5,349.8 L131.8,349.6 L131.2,349.4 L130.5,349.3 L129.9,349.3 L129.2,349.7 L128.6,350.7 L127.9,351.6 L127.3,351.3 L126.6,350.0 L126.0,349.1Z" fill="#a6cce9" fill-opacity="0.8" stroke="none"/>
<path d="M126.0,346.8 L126.6,347.9 L127.3,348.7 L127.9,348.6 L128.6,348.1 L129.2,347.5 L129.9,347.1 L130.5,347.1 L131.2,347.3 L131.8,347.6 L132.5,347.8 L133.1,347.8 L133.7,347.2 L134.4,346.9 L135.0,347.7 L135.7,349.1 L136.3,349.9 L137.0,349.7 L137.6,349.0 L138.3,347.9 L138.9,346.8 L139.6,346.3 L140.2,346.0 L140.8,345.5 L141.5,344.9 L142.1,345.1 L142.8,346.2 L143.4,347.2 L144.1,347.8 L144.7,347.8 L145.4,348.0 L146.0,348.2 L146.7,347.9 L147.3,347.5 L147.9,347.6 L148.6,347.8 L149.2,347.0 L149.9,345.1 L150.5,342.6 L151.2,340.6 L151.8,340.1 L152.5,341.3 L153.1,343.2 L153.7,344.7 L154.4,345.1 L155.0,345.1 L155.7,345.6 L156.3,346.8 L157.0,347.5 L157.6,347.0 L158.3,345.7 L158.9,344.8 L159.6,344.9 L160.2,345.8 L160.8,346.6 L161.5,346.7 L162.1,346.2 L162.8,346.0 L163.4,346.7 L164.1,348.1 L164.7,349.7 L165.4,350.5 L166.0,350.0 L166.7,348.6 L167.3,347.3 L167.9,346.4 L168.6,346.3 L169.2,346.4 L169.9,346.1 L170.5,345.6 L171.2,345.3 L171.8,345.4 L172.5,345.7 L173.1,346.2 L173.8,346.7 L174.4,346.6 L175.0,345.5 L175.7,343.9 L176.3,342.5 L177.0,342.0 L177.6,342.0 L178.3,342.7 L178.9,344.6 L179.6,347.7 L180.2,351.4 L180.9,354.6 L181.5,357.4 L182.1,360.0 L182.8,361.4 L183.4,360.4 L184.1,357.3 L184.7,353.5 L185.4,349.9 L186.0,346.9 L186.7,344.5 L187.3,342.0 L188.0,338.3 L188.6,333.2 L189.2,327.8 L189.9,323.5 L190.5,320.4 L191.2,318.5 L191.8,318.2 L192.5,320.6 L193.1,325.6 L193.8,331.9 L194.4,337.8 L195.1,342.2 L195.7,344.5 L196.3,345.6 L197.0,346.6 L197.6,347.6 L198.3,347.8 L198.9,347.6 L199.6,347.7 L200.2,348.4 L200.9,349.5 L201.5,350.4 L202.1,350.9 L202.8,350.8 L203.4,349.8 L204.1,348.5 L204.7,347.7 L205.4,348.3 L206.0,350.0 L206.7,351.2 L207.3,351.3 L208.0,350.7 L208.6,349.7 L209.2,349.0 L209.9,349.4 L210.5,350.3 L211.2,350.4 L211.8,349.7 L212.5,348.9 L213.1,348.6 L213.8,348.9 L214.4,349.7 L215.1,350.8 L215.7,351.8 L216.3,352.1 L217.0,351.6 L217.6,350.4 L218.3,349.1 L218.9,348.4 L219.6,348.1 L220.2,348.1 L220.9,348.4 L221.5,348.9 L222.2,349.2 L222.8,348.8 L223.4,348.0 L224.1,347.1 L224.7,346.8 L225.4,347.3 L226.0,347.9 L226.7,347.4 L227.3,346.0 L228.0,344.5 L228.6,344.5 L229.3,346.1 L229.9,348.0 L230.5,348.7 L231.2,348.0 L231.8,346.3 L232.5,344.6 L233.1,343.6 L233.8,343.7 L234.4,344.7 L235.1,345.6 L235.7,346.0 L236.4,346.1 L237.0,346.2 L237.6,345.8 L238.3,345.1 L238.9,345.1 L239.6,346.1 L240.2,346.4 L240.9,345.6 L241.5,345.1 L242.2,346.0 L242.8,347.2 L243.5,347.3 L244.1,346.3 L244.7,345.3 L245.4,345.1 L246.0,345.4 L246.7,345.0 L247.3,343.6 L248.0,342.8 L248.6,343.6 L249.3,345.4 L249.9,346.6 L250.5,346.7 L251.2,345.5 L251.8,343.7 L252.5,342.8 L253.1,343.7 L253.8,345.4 L254.4,346.7 L255.1,347.3 L255.7,346.9 L256.4,345.2 L257.0,343.2 L257.6,341.7 L258.3,341.3 L258.9,342.0 L259.6,343.7 L260.2,345.4 L260.9,346.4 L261.5,346.7 L262.2,346.8 L262.8,347.7 L263.5,349.0 L264.1,350.0 L264.7,350.2 L265.4,350.3 L266.0,349.9 L266.7,348.8 L267.3,347.1 L268.0,345.5 L268.6,344.8 L269.3,345.2 L269.9,345.9 L270.6,346.1 L271.2,345.3 L271.8,343.9 L272.5,343.4 L273.1,343.6 L273.8,343.6 L274.4,343.3 L275.1,342.5 L275.7,341.3 L276.4,340.1 L277.0,340.4 L277.7,342.7 L278.3,346.0 L278.9,349.1 L279.6,350.8 L280.2,350.8 L280.9,350.3 L281.5,350.3 L282.2,350.6 L282.8,350.7 L283.5,350.3 L284.1,349.6 L284.8,348.6 L285.4,346.9 L286.0,345.4 L286.7,345.0 L287.3,345.8 L288.0,346.8 L288.6,347.4 L289.3,347.8 L289.9,348.4 L290.6,348.7 L291.2,348.9 L291.9,348.9 L292.5,348.6 L293.1,347.7 L293.8,346.7 L294.4,345.6 L295.1,344.7 L295.7,344.2 L296.4,344.0 L297.0,344.0 L297.7,345.0 L298.3,347.4 L298.9,349.8 L299.6,350.3 L300.2,348.5 L300.9,346.0 L301.5,344.5 L302.2,344.6 L302.8,345.4 L303.5,346.0 L304.1,346.3 L304.8,346.6 L305.4,346.5 L306.0,345.9 L306.7,345.7 L307.3,346.3 L308.0,347.5 L308.6,348.2 L309.3,347.7 L309.9,346.6 L310.6,345.8 L311.2,345.9 L311.9,347.0 L312.5,348.7 L313.1,350.1 L313.8,350.6 L314.4,350.2 L315.1,349.3 L315.7,348.2 L316.4,347.2 L317.0,346.1 L317.7,344.8 L318.3,343.7 L319.0,343.4 L319.6,343.7 L319.6,349.0 L319.0,349.5 L318.3,350.1 L317.7,350.8 L317.0,351.4 L316.4,352.0 L315.7,352.6 L315.1,353.4 L314.4,354.4 L313.8,355.0 L313.1,354.8 L312.5,353.8 L311.9,352.5 L311.2,351.8 L310.6,351.9 L309.9,352.4 L309.3,353.0 L308.6,352.9 L308.0,351.9 L307.3,350.6 L306.7,349.9 L306.0,350.1 L305.4,350.6 L304.8,350.8 L304.1,350.7 L303.5,350.2 L302.8,349.6 L302.2,349.3 L301.5,349.6 L300.9,350.7 L300.2,352.7 L299.6,354.6 L298.9,355.0 L298.3,353.3 L297.7,351.1 L297.0,350.0 L296.4,349.9 L295.7,350.1 L295.1,350.7 L294.4,351.8 L293.8,352.7 L293.1,353.0 L292.5,353.0 L291.9,353.1 L291.2,353.4 L290.6,353.6 L289.9,353.1 L289.3,352.3 L288.6,351.6 L288.0,351.0 L287.3,350.2 L286.7,349.6 L286.0,350.1 L285.4,351.9 L284.8,353.8 L284.1,354.7 L283.5,354.8 L282.8,354.8 L282.2,355.1 L281.5,354.9 L280.9,354.9 L280.2,355.6 L279.6,356.2 L278.9,355.4 L278.3,352.9 L277.7,349.5 L277.0,346.9 L276.4,346.4 L275.7,347.8 L275.1,349.4 L274.4,350.1 L273.8,349.8 L273.1,348.9 L272.5,348.0 L271.8,348.2 L271.2,349.4 L270.6,350.4 L269.9,350.3 L269.3,349.5 L268.6,349.0 L268.0,349.6 L267.3,351.3 L266.7,353.1 L266.0,354.4 L265.4,354.8 L264.7,354.7 L264.1,354.4 L263.5,353.4 L262.8,352.0 L262.2,351.1 L261.5,351.1 L260.9,350.9 L260.2,350.1 L259.6,348.8 L258.9,348.2 L258.3,349.2 L257.6,350.8 L257.0,351.7 L256.4,351.7 L255.7,351.6 L255.1,351.5 L254.4,350.9 L253.8,349.5 L253.1,348.0 L252.5,347.5 L251.8,348.9 L251.2,351.1 L250.5,352.6 L249.9,352.5 L249.3,351.0 L248.6,348.8 L248.0,347.5 L247.3,347.9 L246.7,349.2 L246.0,350.1 L245.4,350.3 L244.7,350.7 L244.1,351.4 L243.5,351.8 L242.8,351.3 L242.2,350.4 L241.5,350.0 L240.9,350.6 L240.2,351.5 L239.6,351.3 L238.9,350.6 L238.3,350.6 L237.6,351.3 L237.0,351.5 L236.4,351.1 L235.7,350.5 L235.1,349.9 L234.4,348.9 L233.8,348.0 L233.1,347.9 L232.5,348.8 L231.8,350.5 L231.2,352.2 L230.5,353.0 L229.9,352.2 L229.3,350.4 L228.6,349.0 L228.0,349.1 L227.3,350.7 L226.7,352.7 L226.0,354.5 L225.4,356.1 L224.7,357.3 L224.1,358.0 L223.4,357.6 L222.8,356.1 L222.2,354.5 L221.5,353.2 L220.9,352.6 L220.2,352.9 L219.6,353.3 L218.9,353.4 L218.3,353.7 L217.6,354.8 L217.0,355.8 L216.3,356.3 L215.7,355.9 L215.1,355.0 L214.4,353.9 L213.8,353.0 L213.1,352.8 L212.5,353.2 L211.8,354.0 L211.2,354.6 L210.5,354.5 L209.9,353.8 L209.2,353.6 L208.6,354.2 L208.0,354.9 L207.3,355.4 L206.7,355.3 L206.0,354.2 L205.4,353.0 L204.7,353.0 L204.1,353.9 L203.4,355.1 L202.8,355.7 L202.1,355.7 L201.5,354.9 L200.9,353.7 L200.2,352.6 L199.6,351.9 L198.9,351.8 L198.3,352.0 L197.6,351.8 L197.0,350.9 L196.3,350.1 L195.7,349.5 L195.1,348.0 L194.4,345.1 L193.8,341.3 L193.1,337.9 L192.5,336.1 L191.8,336.4 L191.2,337.8 L190.5,339.0 L189.9,340.0 L189.2,341.5 L188.6,344.3 L188.0,347.5 L187.3,350.0 L186.7,351.7 L186.0,354.0 L185.4,357.4 L184.7,361.3 L184.1,365.4 L183.4,368.5 L182.8,369.1 L182.1,366.9 L181.5,363.4 L180.9,359.8 L180.2,356.0 L179.6,352.2 L178.9,349.0 L178.3,347.0 L177.6,346.2 L177.0,346.3 L176.3,347.2 L175.7,348.7 L175.0,350.0 L174.4,350.7 L173.8,351.1 L173.1,351.1 L172.5,351.0 L171.8,350.9 L171.2,351.0 L170.5,351.0 L169.9,350.8 L169.2,350.6 L168.6,350.6 L167.9,350.9 L167.3,351.5 L166.7,352.8 L166.0,354.2 L165.4,354.7 L164.7,353.9 L164.1,352.5 L163.4,351.1 L162.8,350.7 L162.1,351.3 L161.5,352.1 L160.8,351.9 L160.2,350.3 L159.6,349.0 L158.9,349.3 L158.3,351.0 L157.6,352.6 L157.0,352.8 L156.3,351.5 L155.7,350.1 L155.0,350.0 L154.4,351.6 L153.7,354.5 L153.1,356.8 L152.5,357.0 L151.8,355.4 L151.2,353.4 L150.5,351.9 L149.9,351.2 L149.2,351.4 L148.6,352.0 L147.9,351.9 L147.3,351.7 L146.7,352.2 L146.0,353.1 L145.4,353.4 L144.7,353.4 L144.1,353.7 L143.4,354.1 L142.8,354.4 L142.1,354.0 L141.5,352.8 L140.8,351.7 L140.2,351.1 L139.6,351.0 L138.9,351.4 L138.3,352.4 L137.6,353.4 L137.0,353.9 L136.3,354.0 L135.7,353.2 L135.0,351.8 L134.4,351.1 L133.7,351.4 L133.1,352.1 L132.5,352.8 L131.8,353.2 L131.2,353.3 L130.5,353.0 L129.9,352.9 L129.2,353.2 L128.6,353.5 L127.9,353.6 L127.3,353.4 L126.6,352.5 L126.0,351.3Z" fill="#fbc08a" fill-opacity="0.8" stroke="none"/>
<line x1="126.00" y1="349.10" x2="319.60" y2="349.10" stroke="#555" stroke-width="0.9"/>
<polyline points="126.0,347.4 126.6,348.4 127.3,349.7 127.9,350.1 128.6,349.3 129.2,348.3 129.9,347.8 130.5,347.8 131.2,348.0 131.8,348.2 132.5,348.4 133.1,348.2 133.7,347.8 134.4,347.5 135.0,347.9 135.7,348.9 136.3,349.8 137.0,350.3 137.6,350.4 138.3,350.2 138.9,349.5 139.6,348.7 140.2,348.4 140.8,348.6 141.5,348.8 142.1,348.6 142.8,348.1 143.4,347.6 144.1,347.3 144.7,347.1 145.4,347.4 146.0,348.1 146.7,348.9 147.3,349.3 147.9,349.2 148.6,348.9 149.2,348.7 149.9,348.4 150.5,348.1 151.2,348.3 151.8,349.0 152.5,350.0 153.1,350.4 153.7,349.6 154.4,347.5 155.0,345.3 155.7,344.3 156.3,344.8 157.0,346.4 157.6,348.1 158.3,349.7 158.9,350.9 159.6,351.0 160.2,349.8 160.8,348.1 161.5,346.9 162.1,346.7 162.8,347.4 163.4,348.6 164.1,349.7 164.7,350.2 165.4,349.9 166.0,349.0 166.7,348.1 167.3,347.8 167.9,348.0 168.6,348.3 169.2,348.8 169.9,349.6 170.5,350.0 171.2,349.9 171.8,349.8 172.5,349.4 173.1,348.8 173.8,348.3 174.4,348.3 175.0,348.5 175.7,348.4 176.3,347.9 177.0,347.3 177.6,347.2 178.3,348.0 178.9,349.6 179.6,351.7 180.2,354.2 180.9,357.1 181.5,360.4 182.1,363.6 182.8,365.6 183.4,365.7 184.1,363.5 184.7,360.1 185.4,356.4 186.0,353.2 186.7,350.6 187.3,348.3 188.0,345.7 188.6,342.5 189.2,339.3 189.9,337.0 190.5,336.1 191.2,336.1 191.8,336.5 192.5,337.3 193.1,338.8 193.8,340.8 194.4,343.1 195.1,345.4 195.7,347.6 196.3,349.5 197.0,350.9 197.6,351.8 198.3,352.0 198.9,351.9 199.6,351.7 200.2,351.8 200.9,352.2 201.5,352.7 202.1,353.3 202.8,353.7 203.4,353.6 204.1,352.6 204.7,351.7 205.4,351.6 206.0,352.5 206.7,353.4 207.3,353.9 208.0,354.3 208.6,354.8 209.2,355.3 209.9,355.4 210.5,354.8 211.2,354.1 211.8,353.7 212.5,353.8 213.1,353.8 213.8,353.4 214.4,352.8 215.1,352.1 215.7,351.9 216.3,352.2 217.0,353.0 217.6,354.3 218.3,355.4 218.9,355.8 219.6,355.6 220.2,355.2 220.9,354.8 221.5,354.4 222.2,354.4 222.8,354.3 223.4,353.9 224.1,353.3 224.7,353.0 225.4,352.9 226.0,352.5 226.7,351.9 227.3,351.5 228.0,351.3 228.6,350.8 229.3,350.4 229.9,350.5 230.5,350.8 231.2,350.5 231.8,349.6 232.5,348.5 233.1,347.7 233.8,346.9 234.4,346.2 235.1,345.6 235.7,345.9 236.4,346.9 237.0,347.9 237.6,348.1 238.3,347.6 238.9,347.2 239.6,346.9 240.2,346.4 240.9,345.7 241.5,345.7 242.2,346.3 242.8,346.8 243.5,346.6 244.1,345.9 244.7,345.5 245.4,346.0 246.0,347.3 246.7,348.5 247.3,349.0 248.0,349.0 248.6,349.0 249.3,348.8 249.9,348.5 250.5,348.1 251.2,348.0 251.8,348.0 252.5,348.5 253.1,349.4 253.8,350.4 254.4,350.9 255.1,350.7 255.7,350.3 256.4,350.4 257.0,350.5 257.6,350.1 258.3,349.5 258.9,349.2 259.6,349.5 260.2,349.7 260.9,349.3 261.5,348.6 262.2,348.4 262.8,348.7 263.5,349.0 264.1,349.2 264.7,348.8 265.4,348.0 266.0,347.2 266.7,346.8 267.3,347.0 268.0,347.7 268.6,348.4 269.3,348.8 269.9,349.4 270.6,350.0 271.2,350.3 271.8,350.2 272.5,350.1 273.1,350.2 273.8,350.4 274.4,350.5 275.1,350.4 275.7,350.2 276.4,350.1 277.0,350.3 277.7,350.7 278.3,350.8 278.9,350.5 279.6,350.0 280.2,349.5 280.9,349.0 281.5,348.6 282.2,348.6 282.8,349.1 283.5,349.6 284.1,349.8 284.8,349.7 285.4,349.7 286.0,349.6 286.7,349.3 287.3,348.9 288.0,349.0 288.6,349.7 289.3,350.6 289.9,350.6 290.6,349.8 291.2,349.0 291.9,348.9 292.5,349.5 293.1,349.9 293.8,349.3 294.4,348.5 295.1,348.2 295.7,348.2 296.4,348.2 297.0,348.1 297.7,348.0 298.3,348.1 298.9,348.7 299.6,349.4 300.2,350.1 300.9,350.3 301.5,350.3 302.2,350.3 302.8,350.2 303.5,349.6 304.1,349.1 304.8,348.9 305.4,349.1 306.0,349.1 306.7,349.0 307.3,348.8 308.0,348.8 308.6,348.9 309.3,349.0 309.9,348.7 310.6,348.1 311.2,347.3 311.9,346.6 312.5,345.9 313.1,345.8 313.8,346.5 314.4,347.5 315.1,348.0 315.7,347.6 316.4,346.8 317.0,346.4 317.7,346.7 318.3,347.4 319.0,347.6 319.6,347.3" fill="none" stroke="#4f95cf" stroke-width="1.4"/>
<polyline points="126.0,349.1 126.6,350.2 127.3,351.1 127.9,351.1 128.6,350.8 129.2,350.3 129.9,350.0 130.5,350.0 131.2,350.3 131.8,350.4 132.5,350.3 133.1,350.0 133.7,349.3 134.4,349.0 135.0,349.8 135.7,351.1 136.3,352.0 137.0,351.8 137.6,351.2 138.3,350.2 138.9,349.1 139.6,348.6 140.2,348.6 140.8,348.6 141.5,348.9 142.1,349.6 142.8,350.3 143.4,350.7 144.1,350.7 144.7,350.6 145.4,350.7 146.0,350.6 146.7,350.1 147.3,349.6 147.9,349.8 148.6,349.9 149.2,349.2 149.9,348.1 150.5,347.2 151.2,347.0 151.8,347.8 152.5,349.2 153.1,350.0 153.7,349.6 154.4,348.4 155.0,347.5 155.7,347.9 156.3,349.2 157.0,350.2 157.6,349.8 158.3,348.4 158.9,347.1 159.6,346.9 160.2,348.0 160.8,349.2 161.5,349.4 162.1,348.8 162.8,348.4 163.4,348.9 164.1,350.3 164.7,351.8 165.4,352.6 166.0,352.1 166.7,350.7 167.3,349.4 167.9,348.7 168.6,348.5 169.2,348.5 169.9,348.5 170.5,348.3 171.2,348.1 171.8,348.2 172.5,348.4 173.1,348.7 173.8,348.9 174.4,348.6 175.0,347.8 175.7,346.3 176.3,344.9 177.0,344.1 177.6,344.1 178.3,344.9 178.9,346.8 179.6,350.0 180.2,353.7 180.9,357.2 181.5,360.4 182.1,363.4 182.8,365.2 183.4,364.5 184.1,361.4 184.7,357.4 185.4,353.6 186.0,350.5 186.7,348.1 187.3,346.0 188.0,342.9 188.6,338.8 189.2,334.7 189.9,331.7 190.5,329.7 191.2,328.2 191.8,327.3 192.5,328.3 193.1,331.7 193.8,336.6 194.4,341.5 195.1,345.1 195.7,347.0 196.3,347.9 197.0,348.8 197.6,349.7 198.3,349.9 198.9,349.7 199.6,349.8 200.2,350.5 200.9,351.6 201.5,352.7 202.1,353.3 202.8,353.2 203.4,352.4 204.1,351.2 204.7,350.3 205.4,350.7 206.0,352.1 206.7,353.3 207.3,353.4 208.0,352.8 208.6,351.9 209.2,351.3 209.9,351.6 210.5,352.4 211.2,352.5 211.8,351.9 212.5,351.1 213.1,350.7 213.8,351.0 214.4,351.8 215.1,352.9 215.7,353.9 216.3,354.2 217.0,353.7 217.6,352.6 218.3,351.4 218.9,350.9 219.6,350.7 220.2,350.5 220.9,350.5 221.5,351.1 222.2,351.8 222.8,352.5 223.4,352.8 224.1,352.6 224.7,352.1 225.4,351.7 226.0,351.2 226.7,350.1 227.3,348.4 228.0,346.8 228.6,346.7 229.3,348.3 229.9,350.1 230.5,350.8 231.2,350.1 231.8,348.4 232.5,346.7 233.1,345.7 233.8,345.8 234.4,346.8 235.1,347.8 235.7,348.3 236.4,348.6 237.0,348.9 237.6,348.6 238.3,347.9 238.9,347.9 239.6,348.7 240.2,349.0 240.9,348.1 241.5,347.5 242.2,348.2 242.8,349.2 243.5,349.5 244.1,348.8 244.7,348.0 245.4,347.7 246.0,347.7 246.7,347.1 247.3,345.8 248.0,345.1 248.6,346.2 249.3,348.2 249.9,349.6 250.5,349.6 251.2,348.3 251.8,346.3 252.5,345.2 253.1,345.8 253.8,347.5 254.4,348.8 255.1,349.4 255.7,349.3 256.4,348.5 257.0,347.4 257.6,346.3 258.3,345.2 258.9,345.1 259.6,346.3 260.2,347.7 260.9,348.7 261.5,348.9 262.2,349.0 262.8,349.8 263.5,351.2 264.1,352.2 264.7,352.5 265.4,352.5 266.0,352.1 266.7,350.9 267.3,349.2 268.0,347.6 268.6,346.9 269.3,347.4 269.9,348.1 270.6,348.3 271.2,347.3 271.8,346.1 272.5,345.7 273.1,346.2 273.8,346.7 274.4,346.7 275.1,346.0 275.7,344.5 276.4,343.3 277.0,343.7 277.7,346.1 278.3,349.5 278.9,352.3 279.6,353.5 280.2,353.2 280.9,352.6 281.5,352.6 282.2,352.8 282.8,352.8 283.5,352.5 284.1,352.2 284.8,351.2 285.4,349.4 286.0,347.7 286.7,347.3 287.3,348.0 288.0,348.9 288.6,349.5 289.3,350.0 289.9,350.8 290.6,351.1 291.2,351.1 291.9,351.0 292.5,350.8 293.1,350.4 293.8,349.7 294.4,348.7 295.1,347.7 295.7,347.2 296.4,347.0 297.0,347.0 297.7,348.0 298.3,350.3 298.9,352.4 299.6,352.4 300.2,350.6 300.9,348.3 301.5,347.0 302.2,347.0 302.8,347.5 303.5,348.1 304.1,348.5 304.8,348.7 305.4,348.5 306.0,348.0 306.7,347.8 307.3,348.5 308.0,349.7 308.6,350.5 309.3,350.3 309.9,349.5 310.6,348.8 311.2,348.8 311.9,349.7 312.5,351.2 313.1,352.5 313.8,352.8 314.4,352.3 315.1,351.4 315.7,350.4 316.4,349.6 317.0,348.8 317.7,347.8 318.3,346.9 319.0,346.5 319.6,346.3" fill="none" stroke="#f5862a" stroke-width="1.4"/>
<line x1="174.40" y1="318.00" x2="174.40" y2="379.70" stroke="#222" stroke-width="0.8" stroke-dasharray="1.6 1.2"/>
<rect x="258.20" y="358.50" width="61.60" height="18.10" fill="#fff" stroke="#d0d0d0" stroke-width="0.8"/>
<line x1="260.30" y1="362.60" x2="272.80" y2="362.60" stroke="#8cbde0" stroke-width="1.9"/>
<line x1="260.30" y1="371.40" x2="272.80" y2="371.40" stroke="#f28a30" stroke-width="1.2"/>
<text x="273.4" y="365.1" font-size="7.1" text-anchor="start" fill="#1c1c1c">LH M1 tFUS</text>
<text x="273.4" y="373.5" font-size="7.1" text-anchor="start" fill="#1c1c1c">RH PFC tFUS</text>
<text x="5.0" y="408.0" font-size="9.5" text-anchor="start" font-weight="bold" fill="#111">C</text>
<line x1="34.50" y1="414.60" x2="34.50" y2="508.30" stroke="#858585" stroke-width="1.3"/>
<line x1="33.90" y1="507.70" x2="334.50" y2="507.70" stroke="#858585" stroke-width="1.3"/>
<line x1="31.30" y1="415.10" x2="34.50" y2="415.10" stroke="#555" stroke-width="0.8"/>
<line x1="31.30" y1="424.90" x2="34.50" y2="424.90" stroke="#555" stroke-width="0.8"/>
<line x1="31.30" y1="434.50" x2="34.50" y2="434.50" stroke="#555" stroke-width="0.8"/>
<line x1="31.30" y1="444.10" x2="34.50" y2="444.10" stroke="#555" stroke-width="0.8"/>
<line x1="31.30" y1="455.80" x2="34.50" y2="455.80" stroke="#555" stroke-width="0.8"/>
<line x1="31.30" y1="461.40" x2="34.50" y2="461.40" stroke="#555" stroke-width="0.8"/>
<line x1="31.30" y1="478.60" x2="34.50" y2="478.60" stroke="#555" stroke-width="0.8"/>
<line x1="31.30" y1="488.30" x2="34.50" y2="488.30" stroke="#555" stroke-width="0.8"/>
<line x1="31.30" y1="498.10" x2="34.50" y2="498.10" stroke="#555" stroke-width="0.8"/>
<line x1="31.30" y1="507.70" x2="34.50" y2="507.70" stroke="#555" stroke-width="0.8"/>
<text x="28.9" y="417.6" font-size="6.9" text-anchor="end" fill="#333">10<tspan font-size="4.2" dy="-3.3" fill="#777">4</tspan></text>
<text x="28.9" y="437.0" font-size="6.9" text-anchor="end" fill="#333">10<tspan font-size="4.2" dy="-3.3" fill="#777">2</tspan></text>
<text x="28.9" y="490.8" font-size="6.9" text-anchor="end" fill="#333">-10<tspan font-size="4.2" dy="-3.3" fill="#777">2</tspan></text>
<text x="28.9" y="510.2" font-size="6.9" text-anchor="end" fill="#333">-10<tspan font-size="4.2" dy="-3.3" fill="#777">4</tspan></text>
<text x="25.9" y="463.9" font-size="6.9" text-anchor="end" fill="#333">0</text>
<text x="185.0" y="414.6" font-size="9.4" text-anchor="middle" fill="#1c1c1c">A1 → Deep Brain (etFUS)</text>
<text x="0" y="0" font-size="8.3" text-anchor="middle" fill="#1c1c1c" transform="translate(10.8 461.4) rotate(-90)">ΔGC<tspan font-size="5.2" dy="1.6">Net</tspan><tspan dy="-1.6"> (ΔW-stat)</tspan></text>
<line x1="64.40" y1="427.20" x2="64.40" y2="433.80" stroke="#222" stroke-width="1.0"/>
<line x1="64.40" y1="442.40" x2="64.40" y2="443.30" stroke="#222" stroke-width="1.0"/>
<line x1="52.90" y1="427.20" x2="75.90" y2="427.20" stroke="#222" stroke-width="1.2"/>
<line x1="52.90" y1="443.30" x2="75.90" y2="443.30" stroke="#222" stroke-width="1.2"/>
<rect x="41.40" y="433.80" width="46.00" height="8.60" fill="#f9b3b3" stroke="#1a1a1a" stroke-width="1.1"/>
<line x1="41.40" y1="437.60" x2="87.40" y2="437.60" stroke="#222" stroke-width="1.1"/>
<path d="M65.2 427.9h0M66.8 427.7h0M72.7 432.7h0M69.6 438.8h0M59.3 439.7h0M67.0 439.9h0M70.5 433.8h0M68.2 436.5h0M67.5 433.3h0M57.0 432.5h0M56.7 433.4h0M59.6 437.8h0M69.8 434.3h0M62.6 439.4h0M68.5 434.4h0M62.0 437.4h0M63.6 475.4h0M62.5 476.0h0M64.2 479.4h0M62.4 485.6h0" stroke="#3a2a2a" stroke-width="3.0" stroke-linecap="round"/>
<path d="M65.2 427.9h0M66.8 427.7h0M72.7 432.7h0M69.6 438.8h0M59.3 439.7h0M67.0 439.9h0M70.5 433.8h0M68.2 436.5h0M67.5 433.3h0M57.0 432.5h0M56.7 433.4h0M59.6 437.8h0M69.8 434.3h0M62.6 439.4h0M68.5 434.4h0M62.0 437.4h0M63.6 475.4h0M62.5 476.0h0M64.2 479.4h0M62.4 485.6h0" stroke="#e48a8a" stroke-width="1.9" stroke-linecap="round"/>
<text x="64.4" y="424.3" font-size="11.5" text-anchor="middle" fill="#222">***</text>
<line x1="64.40" y1="507.70" x2="64.40" y2="510.70" stroke="#444" stroke-width="0.8"/>
<text x="64.4" y="518.2" font-size="7.6" text-anchor="middle" fill="#333">0 - 0.2</text>
<line x1="124.80" y1="429.30" x2="124.80" y2="436.30" stroke="#222" stroke-width="1.0"/>
<line x1="124.80" y1="442.60" x2="124.80" y2="444.30" stroke="#222" stroke-width="1.0"/>
<line x1="113.30" y1="429.30" x2="136.30" y2="429.30" stroke="#222" stroke-width="1.2"/>
<line x1="113.30" y1="444.30" x2="136.30" y2="444.30" stroke="#222" stroke-width="1.2"/>
<rect x="101.80" y="436.30" width="46.00" height="6.30" fill="#f9b3b3" stroke="#1a1a1a" stroke-width="1.1"/>
<line x1="101.80" y1="439.20" x2="147.80" y2="439.20" stroke="#222" stroke-width="1.1"/>
<path d="M122.1 430.1h0M122.9 430.9h0M116.3 440.8h0M125.8 436.9h0M131.6 440.7h0M120.9 438.2h0M128.9 437.6h0M119.4 441.8h0M122.4 441.1h0M129.0 436.5h0M125.5 436.8h0M120.9 436.9h0M130.6 436.0h0M129.1 441.7h0M125.7 440.5h0M127.1 439.3h0M123.0 461.4h0M123.5 479.0h0M127.3 479.8h0M124.1 479.4h0" stroke="#3a2a2a" stroke-width="3.0" stroke-linecap="round"/>
<path d="M122.1 430.1h0M122.9 430.9h0M116.3 440.8h0M125.8 436.9h0M131.6 440.7h0M120.9 438.2h0M128.9 437.6h0M119.4 441.8h0M122.4 441.1h0M129.0 436.5h0M125.5 436.8h0M120.9 436.9h0M130.6 436.0h0M129.1 441.7h0M125.7 440.5h0M127.1 439.3h0M123.0 461.4h0M123.5 479.0h0M127.3 479.8h0M124.1 479.4h0" stroke="#e48a8a" stroke-width="1.9" stroke-linecap="round"/>
<text x="124.8" y="426.2" font-size="11.5" text-anchor="middle" fill="#222">***</text>
<line x1="124.80" y1="507.70" x2="124.80" y2="510.70" stroke="#444" stroke-width="0.8"/>
<text x="124.8" y="518.2" font-size="7.6" text-anchor="middle" fill="#333">0.2 - 0.4</text>
<line x1="185.20" y1="431.90" x2="185.20" y2="436.90" stroke="#222" stroke-width="1.0"/>
<line x1="185.20" y1="476.30" x2="185.20" y2="482.40" stroke="#222" stroke-width="1.0"/>
<line x1="173.70" y1="431.90" x2="196.70" y2="431.90" stroke="#222" stroke-width="1.2"/>
<line x1="173.70" y1="482.40" x2="196.70" y2="482.40" stroke="#222" stroke-width="1.2"/>
<rect x="162.20" y="436.90" width="46.00" height="39.40" fill="#f9b3b3" stroke="#1a1a1a" stroke-width="1.1"/>
<line x1="162.20" y1="440.20" x2="208.20" y2="440.20" stroke="#222" stroke-width="1.1"/>
<path d="M183.8 435.2h0M187.0 431.2h0M183.4 431.6h0M189.3 433.0h0M178.9 436.2h0M183.3 440.7h0M180.2 436.8h0M182.8 436.2h0M189.5 441.6h0M179.1 441.7h0M179.5 439.1h0M188.1 437.9h0M184.4 476.7h0M187.0 475.5h0M188.1 478.1h0M186.6 480.1h0M181.3 481.5h0M183.8 479.4h0M189.8 478.4h0" stroke="#3a2a2a" stroke-width="3.0" stroke-linecap="round"/>
<path d="M183.8 435.2h0M187.0 431.2h0M183.4 431.6h0M189.3 433.0h0M178.9 436.2h0M183.3 440.7h0M180.2 436.8h0M182.8 436.2h0M189.5 441.6h0M179.1 441.7h0M179.5 439.1h0M188.1 437.9h0M184.4 476.7h0M187.0 475.5h0M188.1 478.1h0M186.6 480.1h0M181.3 481.5h0M183.8 479.4h0M189.8 478.4h0" stroke="#e48a8a" stroke-width="1.9" stroke-linecap="round"/>
<text x="185.2" y="428.7" font-size="11.5" text-anchor="middle" fill="#222">**</text>
<line x1="185.20" y1="507.70" x2="185.20" y2="510.70" stroke="#444" stroke-width="0.8"/>
<text x="185.2" y="518.2" font-size="7.6" text-anchor="middle" fill="#333">0.4 - 0.6</text>
<line x1="245.60" y1="429.10" x2="245.60" y2="436.10" stroke="#222" stroke-width="1.0"/>
<line x1="245.60" y1="442.20" x2="245.60" y2="445.80" stroke="#222" stroke-width="1.0"/>
<line x1="234.10" y1="429.10" x2="257.10" y2="429.10" stroke="#222" stroke-width="1.2"/>
<line x1="234.10" y1="445.80" x2="257.10" y2="445.80" stroke="#222" stroke-width="1.2"/>
<rect x="222.60" y="436.10" width="46.00" height="6.10" fill="#f9b3b3" stroke="#1a1a1a" stroke-width="1.1"/>
<line x1="222.60" y1="438.80" x2="268.60" y2="438.80" stroke="#222" stroke-width="1.1"/>
<path d="M247.5 429.6h0M248.6 436.7h0M253.6 439.3h0M239.9 437.3h0M237.8 434.2h0M240.0 440.4h0M253.5 441.3h0M249.1 433.0h0M243.4 442.7h0M247.7 440.7h0M240.2 439.7h0M244.5 442.7h0M250.2 437.2h0M251.2 438.3h0M241.7 434.9h0M246.7 435.8h0M253.1 441.4h0M246.5 470.7h0M247.3 473.5h0" stroke="#3a2a2a" stroke-width="3.0" stroke-linecap="round"/>
<path d="M247.5 429.6h0M248.6 436.7h0M253.6 439.3h0M239.9 437.3h0M237.8 434.2h0M240.0 440.4h0M253.5 441.3h0M249.1 433.0h0M243.4 442.7h0M247.7 440.7h0M240.2 439.7h0M244.5 442.7h0M250.2 437.2h0M251.2 438.3h0M241.7 434.9h0M246.7 435.8h0M253.1 441.4h0M246.5 470.7h0M247.3 473.5h0" stroke="#e48a8a" stroke-width="1.9" stroke-linecap="round"/>
<text x="245.6" y="425.0" font-size="11.5" text-anchor="middle" fill="#222">***</text>
<line x1="245.60" y1="507.70" x2="245.60" y2="510.70" stroke="#444" stroke-width="0.8"/>
<text x="245.6" y="518.2" font-size="7.6" text-anchor="middle" fill="#333">0.6 - 0.8</text>
<line x1="306.00" y1="429.10" x2="306.00" y2="435.20" stroke="#222" stroke-width="1.0"/>
<line x1="306.00" y1="441.60" x2="306.00" y2="442.20" stroke="#222" stroke-width="1.0"/>
<line x1="294.50" y1="429.10" x2="317.50" y2="429.10" stroke="#222" stroke-width="1.2"/>
<line x1="294.50" y1="442.20" x2="317.50" y2="442.20" stroke="#222" stroke-width="1.2"/>
<rect x="283.00" y="435.20" width="46.00" height="6.40" fill="#f9b3b3" stroke="#1a1a1a" stroke-width="1.1"/>
<line x1="283.00" y1="437.40" x2="329.00" y2="437.40" stroke="#222" stroke-width="1.1"/>
<path d="M307.6 430.5h0M303.3 431.8h0M307.7 432.1h0M301.6 437.1h0M309.9 436.9h0M306.4 440.1h0M313.5 438.0h0M302.3 435.4h0M300.4 436.9h0M305.8 439.5h0M306.0 436.0h0M310.8 439.0h0M297.6 434.8h0M298.4 437.6h0M302.5 433.2h0M313.4 437.8h0M304.6 461.6h0M306.6 482.4h0M306.9 485.2h0" stroke="#3a2a2a" stroke-width="3.0" stroke-linecap="round"/>
<path d="M307.6 430.5h0M303.3 431.8h0M307.7 432.1h0M301.6 437.1h0M309.9 436.9h0M306.4 440.1h0M313.5 438.0h0M302.3 435.4h0M300.4 436.9h0M305.8 439.5h0M306.0 436.0h0M310.8 439.0h0M297.6 434.8h0M298.4 437.6h0M302.5 433.2h0M313.4 437.8h0M304.6 461.6h0M306.6 482.4h0M306.9 485.2h0" stroke="#e48a8a" stroke-width="1.9" stroke-linecap="round"/>
<text x="306.0" y="425.0" font-size="11.5" text-anchor="middle" fill="#222">***</text>
<line x1="306.00" y1="507.70" x2="306.00" y2="510.70" stroke="#444" stroke-width="0.8"/>
<text x="306.0" y="518.2" font-size="7.6" text-anchor="middle" fill="#333">0.8 - 1.0</text>
<text x="184.5" y="529.2" font-size="8.6" text-anchor="middle" fill="#1c1c1c">Time (s)</text>
<line x1="380.70" y1="414.70" x2="380.70" y2="508.40" stroke="#858585" stroke-width="1.3"/>
<line x1="380.10" y1="507.80" x2="684.50" y2="507.80" stroke="#858585" stroke-width="1.3"/>
<line x1="377.50" y1="415.20" x2="380.70" y2="415.20" stroke="#555" stroke-width="0.8"/>
<line x1="377.50" y1="425.00" x2="380.70" y2="425.00" stroke="#555" stroke-width="0.8"/>
<line x1="377.50" y1="434.40" x2="380.70" y2="434.40" stroke="#555" stroke-width="0.8"/>
<line x1="377.50" y1="444.00" x2="380.70" y2="444.00" stroke="#555" stroke-width="0.8"/>
<line x1="377.50" y1="455.80" x2="380.70" y2="455.80" stroke="#555" stroke-width="0.8"/>
<line x1="377.50" y1="461.60" x2="380.70" y2="461.60" stroke="#555" stroke-width="0.8"/>
<line x1="377.50" y1="478.80" x2="380.70" y2="478.80" stroke="#555" stroke-width="0.8"/>
<line x1="377.50" y1="488.50" x2="380.70" y2="488.50" stroke="#555" stroke-width="0.8"/>
<line x1="377.50" y1="498.20" x2="380.70" y2="498.20" stroke="#555" stroke-width="0.8"/>
<line x1="377.50" y1="507.80" x2="380.70" y2="507.80" stroke="#555" stroke-width="0.8"/>
<text x="375.1" y="417.7" font-size="6.9" text-anchor="end" fill="#333">10<tspan font-size="4.2" dy="-3.3" fill="#777">4</tspan></text>
<text x="375.1" y="436.9" font-size="6.9" text-anchor="end" fill="#333">10<tspan font-size="4.2" dy="-3.3" fill="#777">2</tspan></text>
<text x="375.1" y="491.0" font-size="6.9" text-anchor="end" fill="#333">-10<tspan font-size="4.2" dy="-3.3" fill="#777">2</tspan></text>
<text x="375.1" y="510.3" font-size="6.9" text-anchor="end" fill="#333">-10<tspan font-size="4.2" dy="-3.3" fill="#777">4</tspan></text>
<text x="372.1" y="464.1" font-size="6.9" text-anchor="end" fill="#333">0</text>
<text x="532.5" y="414.8" font-size="9.4" text-anchor="middle" fill="#1c1c1c">A1 → Deep Brain (itFUS)</text>
<text x="0" y="0" font-size="8.3" text-anchor="middle" fill="#1c1c1c" transform="translate(356.3 461.5) rotate(-90)">ΔGC<tspan font-size="5.2" dy="1.6">Net</tspan><tspan dy="-1.6"> (ΔW-stat)</tspan></text>
<line x1="411.50" y1="436.00" x2="411.50" y2="438.10" stroke="#222" stroke-width="1.0"/>
<line x1="411.50" y1="472.30" x2="411.50" y2="486.20" stroke="#222" stroke-width="1.0"/>
<line x1="400.00" y1="436.00" x2="423.00" y2="436.00" stroke="#222" stroke-width="1.2"/>
<line x1="400.00" y1="486.20" x2="423.00" y2="486.20" stroke="#222" stroke-width="1.2"/>
<rect x="388.50" y="438.10" width="46.00" height="34.20" fill="#fece93" stroke="#1a1a1a" stroke-width="1.1"/>
<line x1="388.50" y1="442.60" x2="434.50" y2="442.60" stroke="#222" stroke-width="1.1"/>
<path d="M409.5 436.6h0M408.5 438.5h0M410.4 440.0h0M405.9 436.5h0M413.5 440.1h0M414.5 439.4h0M407.5 445.4h0M413.0 446.3h0M414.4 445.2h0M412.7 445.5h0M415.8 441.3h0M412.1 444.5h0M404.5 444.3h0M414.1 441.6h0M412.3 462.0h0M408.4 475.0h0M409.8 475.3h0M410.0 476.5h0M411.3 482.4h0M414.3 480.4h0M413.8 481.7h0M410.3 486.0h0" stroke="#3a2a2a" stroke-width="3.0" stroke-linecap="round"/>
<path d="M409.5 436.6h0M408.5 438.5h0M410.4 440.0h0M405.9 436.5h0M413.5 440.1h0M414.5 439.4h0M407.5 445.4h0M413.0 446.3h0M414.4 445.2h0M412.7 445.5h0M415.8 441.3h0M412.1 444.5h0M404.5 444.3h0M414.1 441.6h0M412.3 462.0h0M408.4 475.0h0M409.8 475.3h0M410.0 476.5h0M411.3 482.4h0M414.3 480.4h0M413.8 481.7h0M410.3 486.0h0" stroke="#f2a446" stroke-width="1.9" stroke-linecap="round"/>
<text x="411.5" y="431.7" font-size="11.5" text-anchor="middle" fill="#222">*</text>
<line x1="411.50" y1="507.80" x2="411.50" y2="510.80" stroke="#444" stroke-width="0.8"/>
<text x="411.5" y="518.5" font-size="7.6" text-anchor="middle" fill="#333">0 - 0.2</text>
<line x1="471.90" y1="424.20" x2="471.90" y2="436.80" stroke="#222" stroke-width="1.0"/>
<line x1="471.90" y1="447.30" x2="471.90" y2="449.90" stroke="#222" stroke-width="1.0"/>
<line x1="460.40" y1="424.20" x2="483.40" y2="424.20" stroke="#222" stroke-width="1.2"/>
<line x1="460.40" y1="449.90" x2="483.40" y2="449.90" stroke="#222" stroke-width="1.2"/>
<rect x="448.90" y="436.80" width="46.00" height="10.50" fill="#fece93" stroke="#1a1a1a" stroke-width="1.1"/>
<line x1="448.90" y1="441.30" x2="494.90" y2="441.30" stroke="#222" stroke-width="1.1"/>
<path d="M472.9 425.0h0M472.0 432.5h0M470.7 431.1h0M469.5 438.8h0M477.1 439.8h0M471.3 441.6h0M475.4 438.0h0M474.6 440.1h0M474.9 436.3h0M476.6 438.6h0M471.8 436.3h0M467.9 443.4h0M464.6 435.9h0M476.1 444.4h0M469.8 442.2h0M473.7 446.8h0M473.3 447.9h0M470.1 479.1h0M475.3 481.5h0M474.0 481.2h0" stroke="#3a2a2a" stroke-width="3.0" stroke-linecap="round"/>
<path d="M472.9 425.0h0M472.0 432.5h0M470.7 431.1h0M469.5 438.8h0M477.1 439.8h0M471.3 441.6h0M475.4 438.0h0M474.6 440.1h0M474.9 436.3h0M476.6 438.6h0M471.8 436.3h0M467.9 443.4h0M464.6 435.9h0M476.1 444.4h0M469.8 442.2h0M473.7 446.8h0M473.3 447.9h0M470.1 479.1h0M475.3 481.5h0M474.0 481.2h0" stroke="#f2a446" stroke-width="1.9" stroke-linecap="round"/>
<text x="471.9" y="421.0" font-size="11.5" text-anchor="middle" fill="#222">*</text>
<line x1="471.90" y1="507.80" x2="471.90" y2="510.80" stroke="#444" stroke-width="0.8"/>
<text x="471.9" y="518.5" font-size="7.6" text-anchor="middle" fill="#333">0.2 - 0.4</text>
<line x1="532.50" y1="431.90" x2="532.50" y2="435.90" stroke="#222" stroke-width="1.0"/>
<line x1="532.50" y1="473.70" x2="532.50" y2="488.30" stroke="#222" stroke-width="1.0"/>
<line x1="521.00" y1="431.90" x2="544.00" y2="431.90" stroke="#222" stroke-width="1.2"/>
<line x1="521.00" y1="488.30" x2="544.00" y2="488.30" stroke="#222" stroke-width="1.2"/>
<rect x="509.50" y="435.90" width="46.00" height="37.80" fill="#fece93" stroke="#1a1a1a" stroke-width="1.1"/>
<line x1="509.50" y1="441.00" x2="555.50" y2="441.00" stroke="#222" stroke-width="1.1"/>
<path d="M532.4 435.5h0M530.9 436.1h0M536.0 436.4h0M531.6 433.7h0M537.0 439.1h0M525.7 438.0h0M535.1 437.2h0M531.8 437.8h0M526.5 440.9h0M530.4 439.9h0M529.4 440.8h0M534.5 439.9h0M527.3 436.3h0M538.5 439.9h0M531.9 474.0h0M531.7 482.5h0M534.6 481.1h0M536.3 482.7h0M531.4 481.7h0M533.9 487.0h0" stroke="#3a2a2a" stroke-width="3.0" stroke-linecap="round"/>
<path d="M532.4 435.5h0M530.9 436.1h0M536.0 436.4h0M531.6 433.7h0M537.0 439.1h0M525.7 438.0h0M535.1 437.2h0M531.8 437.8h0M526.5 440.9h0M530.4 439.9h0M529.4 440.8h0M534.5 439.9h0M527.3 436.3h0M538.5 439.9h0M531.9 474.0h0M531.7 482.5h0M534.6 481.1h0M536.3 482.7h0M531.4 481.7h0M533.9 487.0h0" stroke="#f2a446" stroke-width="1.9" stroke-linecap="round"/>
<text x="532.5" y="429.0" font-size="11.5" text-anchor="middle" fill="#222">*</text>
<line x1="532.50" y1="507.80" x2="532.50" y2="510.80" stroke="#444" stroke-width="0.8"/>
<text x="532.5" y="518.5" font-size="7.6" text-anchor="middle" fill="#333">0.4 - 0.6</text>
<line x1="593.00" y1="427.00" x2="593.00" y2="434.30" stroke="#222" stroke-width="1.0"/>
<line x1="593.00" y1="443.20" x2="593.00" y2="450.00" stroke="#222" stroke-width="1.0"/>
<line x1="581.50" y1="427.00" x2="604.50" y2="427.00" stroke="#222" stroke-width="1.2"/>
<line x1="581.50" y1="450.00" x2="604.50" y2="450.00" stroke="#222" stroke-width="1.2"/>
<rect x="570.00" y="434.30" width="46.00" height="8.90" fill="#fece93" stroke="#1a1a1a" stroke-width="1.1"/>
<line x1="570.00" y1="441.90" x2="616.00" y2="441.90" stroke="#222" stroke-width="1.1"/>
<path d="M592.6 428.0h0M592.7 426.8h0M593.6 438.1h0M588.3 434.4h0M596.0 436.0h0M597.7 436.7h0M591.7 435.6h0M590.4 439.9h0M593.9 440.2h0M585.7 441.1h0M599.9 444.2h0M587.5 443.4h0M588.7 442.5h0M592.3 443.0h0M596.1 441.8h0M586.1 443.1h0M593.8 450.0h0M595.0 477.0h0M594.2 481.8h0M591.3 486.4h0" stroke="#3a2a2a" stroke-width="3.0" stroke-linecap="round"/>
<path d="M592.6 428.0h0M592.7 426.8h0M593.6 438.1h0M588.3 434.4h0M596.0 436.0h0M597.7 436.7h0M591.7 435.6h0M590.4 439.9h0M593.9 440.2h0M585.7 441.1h0M599.9 444.2h0M587.5 443.4h0M588.7 442.5h0M592.3 443.0h0M596.1 441.8h0M586.1 443.1h0M593.8 450.0h0M595.0 477.0h0M594.2 481.8h0M591.3 486.4h0" stroke="#f2a446" stroke-width="1.9" stroke-linecap="round"/>
<text x="593.0" y="424.4" font-size="11.5" text-anchor="middle" fill="#222">*</text>
<line x1="593.00" y1="507.80" x2="593.00" y2="510.80" stroke="#444" stroke-width="0.8"/>
<text x="593.0" y="518.5" font-size="7.6" text-anchor="middle" fill="#333">0.6 - 0.8</text>
<line x1="654.00" y1="428.90" x2="654.00" y2="435.60" stroke="#222" stroke-width="1.0"/>
<line x1="654.00" y1="469.40" x2="654.00" y2="484.30" stroke="#222" stroke-width="1.0"/>
<line x1="642.50" y1="428.90" x2="665.50" y2="428.90" stroke="#222" stroke-width="1.2"/>
<line x1="642.50" y1="484.30" x2="665.50" y2="484.30" stroke="#222" stroke-width="1.2"/>
<rect x="631.00" y="435.60" width="46.00" height="33.80" fill="#fece93" stroke="#1a1a1a" stroke-width="1.1"/>
<line x1="631.00" y1="439.20" x2="677.00" y2="439.20" stroke="#222" stroke-width="1.1"/>
<path d="M652.0 430.3h0M654.2 429.4h0M650.8 436.9h0M655.7 439.2h0M650.5 440.5h0M649.3 440.0h0M655.9 439.4h0M657.6 435.9h0M651.7 436.4h0M655.3 437.5h0M657.3 446.8h0M652.0 447.3h0M655.2 445.7h0M654.2 456.0h0M651.2 473.3h0M656.0 475.4h0M657.0 482.1h0M654.5 481.7h0M653.2 484.4h0M654.9 481.2h0" stroke="#3a2a2a" stroke-width="3.0" stroke-linecap="round"/>
<path d="M652.0 430.3h0M654.2 429.4h0M650.8 436.9h0M655.7 439.2h0M650.5 440.5h0M649.3 440.0h0M655.9 439.4h0M657.6 435.9h0M651.7 436.4h0M655.3 437.5h0M657.3 446.8h0M652.0 447.3h0M655.2 445.7h0M654.2 456.0h0M651.2 473.3h0M656.0 475.4h0M657.0 482.1h0M654.5 481.7h0M653.2 484.4h0M654.9 481.2h0" stroke="#f2a446" stroke-width="1.9" stroke-linecap="round"/>
<text x="654.0" y="425.7" font-size="11.5" text-anchor="middle" fill="#222">*</text>
<line x1="654.00" y1="507.80" x2="654.00" y2="510.80" stroke="#444" stroke-width="0.8"/>
<text x="654.0" y="518.5" font-size="7.6" text-anchor="middle" fill="#333">0.8 - 1.0</text>
<text x="532.5" y="528.8" font-size="8.6" text-anchor="middle" fill="#1c1c1c">Time (s)</text>
<line x1="33.90" y1="539.50" x2="33.90" y2="632.20" stroke="#858585" stroke-width="1.3"/>
<line x1="33.30" y1="631.60" x2="337.00" y2="631.60" stroke="#858585" stroke-width="1.3"/>
<line x1="30.70" y1="540.00" x2="33.90" y2="540.00" stroke="#555" stroke-width="0.8"/>
<line x1="30.70" y1="549.60" x2="33.90" y2="549.60" stroke="#555" stroke-width="0.8"/>
<line x1="30.70" y1="558.60" x2="33.90" y2="558.60" stroke="#555" stroke-width="0.8"/>
<line x1="30.70" y1="568.20" x2="33.90" y2="568.20" stroke="#555" stroke-width="0.8"/>
<line x1="30.70" y1="579.80" x2="33.90" y2="579.80" stroke="#555" stroke-width="0.8"/>
<line x1="30.70" y1="585.40" x2="33.90" y2="585.40" stroke="#555" stroke-width="0.8"/>
<line x1="30.70" y1="602.50" x2="33.90" y2="602.50" stroke="#555" stroke-width="0.8"/>
<line x1="30.70" y1="612.40" x2="33.90" y2="612.40" stroke="#555" stroke-width="0.8"/>
<line x1="30.70" y1="622.00" x2="33.90" y2="622.00" stroke="#555" stroke-width="0.8"/>
<line x1="30.70" y1="631.60" x2="33.90" y2="631.60" stroke="#555" stroke-width="0.8"/>
<text x="28.3" y="542.5" font-size="6.9" text-anchor="end" fill="#333">10<tspan font-size="4.2" dy="-3.3" fill="#777">4</tspan></text>
<text x="28.3" y="561.1" font-size="6.9" text-anchor="end" fill="#333">10<tspan font-size="4.2" dy="-3.3" fill="#777">2</tspan></text>
<text x="28.3" y="614.9" font-size="6.9" text-anchor="end" fill="#333">-10<tspan font-size="4.2" dy="-3.3" fill="#777">2</tspan></text>
<text x="28.3" y="634.1" font-size="6.9" text-anchor="end" fill="#333">-10<tspan font-size="4.2" dy="-3.3" fill="#777">4</tspan></text>
<text x="25.3" y="587.9" font-size="6.9" text-anchor="end" fill="#333">0</text>
<text x="186.0" y="546.0" font-size="9.4" text-anchor="middle" fill="#1c1c1c">ROI → Deep Brain (etFUS)</text>
<text x="0" y="0" font-size="8.3" text-anchor="middle" fill="#1c1c1c" transform="translate(10.8 585.8) rotate(-90)">ΔGC<tspan font-size="5.2" dy="1.6">Net</tspan><tspan dy="-1.6"> (ΔW-stat)</tspan></text>
<line x1="64.40" y1="562.30" x2="64.40" y2="566.30" stroke="#222" stroke-width="1.0"/>
<line x1="64.40" y1="604.30" x2="64.40" y2="615.10" stroke="#222" stroke-width="1.0"/>
<line x1="52.90" y1="562.30" x2="75.90" y2="562.30" stroke="#222" stroke-width="1.2"/>
<line x1="52.90" y1="615.10" x2="75.90" y2="615.10" stroke="#222" stroke-width="1.2"/>
<rect x="41.40" y="566.30" width="46.00" height="38.00" fill="#f9b3b3" stroke="#1a1a1a" stroke-width="1.1"/>
<line x1="41.40" y1="592.00" x2="87.40" y2="592.00" stroke="#222" stroke-width="1.1"/>
<path d="M65.3 563.9h0M67.4 563.6h0M67.9 562.1h0M67.0 571.2h0M61.8 571.8h0M65.7 571.9h0M67.5 567.9h0M65.7 581.8h0M65.4 580.8h0M60.6 594.0h0M60.5 594.6h0M62.0 597.5h0M67.1 595.2h0M63.5 606.6h0M66.5 603.3h0M63.2 605.3h0M63.2 603.8h0M62.1 611.9h0M64.2 609.5h0M61.2 610.6h0" stroke="#3a2a2a" stroke-width="3.0" stroke-linecap="round"/>
<path d="M65.3 563.9h0M67.4 563.6h0M67.9 562.1h0M67.0 571.2h0M61.8 571.8h0M65.7 571.9h0M67.5 567.9h0M65.7 581.8h0M65.4 580.8h0M60.6 594.0h0M60.5 594.6h0M62.0 597.5h0M67.1 595.2h0M63.5 606.6h0M66.5 603.3h0M63.2 605.3h0M63.2 603.8h0M62.1 611.9h0M64.2 609.5h0M61.2 610.6h0" stroke="#e48a8a" stroke-width="1.9" stroke-linecap="round"/>
<line x1="64.40" y1="631.60" x2="64.40" y2="634.60" stroke="#444" stroke-width="0.8"/>
<text x="64.4" y="642.3" font-size="7.6" text-anchor="middle" fill="#333">0 - 0.2</text>
<line x1="124.80" y1="560.00" x2="124.80" y2="567.60" stroke="#222" stroke-width="1.0"/>
<line x1="124.80" y1="605.90" x2="124.80" y2="616.20" stroke="#222" stroke-width="1.0"/>
<line x1="113.30" y1="560.00" x2="136.30" y2="560.00" stroke="#222" stroke-width="1.2"/>
<line x1="113.30" y1="616.20" x2="136.30" y2="616.20" stroke="#222" stroke-width="1.2"/>
<rect x="101.80" y="567.60" width="46.00" height="38.30" fill="#f9b3b3" stroke="#1a1a1a" stroke-width="1.1"/>
<line x1="101.80" y1="598.60" x2="147.80" y2="598.60" stroke="#222" stroke-width="1.1"/>
<path d="M122.1 561.1h0M122.9 561.9h0M120.5 569.2h0M125.3 566.6h0M128.2 569.1h0M122.8 567.5h0M127.2 597.1h0M121.6 599.9h0M123.4 599.4h0M127.3 596.3h0M125.2 596.5h0M122.5 607.6h0M128.2 607.0h0M127.3 610.8h0M125.3 610.0h0M126.2 609.2h0M122.5 614.8h0M123.8 614.4h0" stroke="#3a2a2a" stroke-width="3.0" stroke-linecap="round"/>
<path d="M122.1 561.1h0M122.9 561.9h0M120.5 569.2h0M125.3 566.6h0M128.2 569.1h0M122.8 567.5h0M127.2 597.1h0M121.6 599.9h0M123.4 599.4h0M127.3 596.3h0M125.2 596.5h0M122.5 607.6h0M128.2 607.0h0M127.3 610.8h0M125.3 610.0h0M126.2 609.2h0M122.5 614.8h0M123.8 614.4h0" stroke="#e48a8a" stroke-width="1.9" stroke-linecap="round"/>
<line x1="124.80" y1="631.60" x2="124.80" y2="634.60" stroke="#444" stroke-width="0.8"/>
<text x="124.8" y="642.3" font-size="7.6" text-anchor="middle" fill="#333">0.2 - 0.4</text>
<line x1="185.20" y1="560.60" x2="185.20" y2="567.50" stroke="#222" stroke-width="1.0"/>
<line x1="185.20" y1="599.80" x2="185.20" y2="612.20" stroke="#222" stroke-width="1.0"/>
<line x1="173.70" y1="560.60" x2="196.70" y2="560.60" stroke="#222" stroke-width="1.2"/>
<line x1="173.70" y1="612.20" x2="196.70" y2="612.20" stroke="#222" stroke-width="1.2"/>
<rect x="162.20" y="567.50" width="46.00" height="32.30" fill="#f9b3b3" stroke="#1a1a1a" stroke-width="1.1"/>
<line x1="162.20" y1="579.20" x2="208.20" y2="579.20" stroke="#222" stroke-width="1.1"/>
<path d="M184.3 561.6h0M186.4 559.6h0M183.1 563.6h0M190.0 565.0h0M180.8 563.2h0M183.9 567.7h0M181.7 563.8h0M184.0 570.2h0M187.4 575.6h0M182.1 575.7h0M182.9 583.0h0M186.4 582.6h0M183.9 598.4h0M188.3 596.0h0M188.1 594.1h0M186.6 597.2h0M181.3 599.2h0M184.2 605.2h0M188.5 603.5h0M184.9 603.5h0" stroke="#3a2a2a" stroke-width="3.0" stroke-linecap="round"/>
<path d="M184.3 561.6h0M186.4 559.6h0M183.1 563.6h0M190.0 565.0h0M180.8 563.2h0M183.9 567.7h0M181.7 563.8h0M184.0 570.2h0M187.4 575.6h0M182.1 575.7h0M182.9 583.0h0M186.4 582.6h0M183.9 598.4h0M188.3 596.0h0M188.1 594.1h0M186.6 597.2h0M181.3 599.2h0M184.2 605.2h0M188.5 603.5h0M184.9 603.5h0" stroke="#e48a8a" stroke-width="1.9" stroke-linecap="round"/>
<line x1="185.20" y1="631.60" x2="185.20" y2="634.60" stroke="#444" stroke-width="0.8"/>
<text x="185.2" y="642.3" font-size="7.6" text-anchor="middle" fill="#333">0.4 - 0.6</text>
<line x1="245.60" y1="558.80" x2="245.60" y2="564.40" stroke="#222" stroke-width="1.0"/>
<line x1="245.60" y1="592.00" x2="245.60" y2="605.20" stroke="#222" stroke-width="1.0"/>
<line x1="234.10" y1="558.80" x2="257.10" y2="558.80" stroke="#222" stroke-width="1.2"/>
<line x1="234.10" y1="605.20" x2="257.10" y2="605.20" stroke="#222" stroke-width="1.2"/>
<rect x="222.60" y="564.40" width="46.00" height="27.60" fill="#f9b3b3" stroke="#1a1a1a" stroke-width="1.1"/>
<line x1="222.60" y1="569.00" x2="268.60" y2="569.00" stroke="#222" stroke-width="1.1"/>
<path d="M248.1 558.1h0M246.6 558.7h0M253.6 566.1h0M239.9 564.4h0M237.8 562.0h0M240.0 566.9h0M253.5 567.6h0M249.1 561.0h0M243.4 568.7h0M247.7 567.1h0M240.2 566.4h0M244.5 568.8h0M247.9 599.5h0M248.4 600.2h0M243.6 598.1h0M246.1 598.7h0" stroke="#3a2a2a" stroke-width="3.0" stroke-linecap="round"/>
<path d="M248.1 558.1h0M246.6 558.7h0M253.6 566.1h0M239.9 564.4h0M237.8 562.0h0M240.0 566.9h0M253.5 567.6h0M249.1 561.0h0M243.4 568.7h0M247.7 567.1h0M240.2 566.4h0M244.5 568.8h0M247.9 599.5h0M248.4 600.2h0M243.6 598.1h0M246.1 598.7h0" stroke="#e48a8a" stroke-width="1.9" stroke-linecap="round"/>
<line x1="245.60" y1="631.60" x2="245.60" y2="634.60" stroke="#444" stroke-width="0.8"/>
<text x="245.6" y="642.3" font-size="7.6" text-anchor="middle" fill="#333">0.6 - 0.8</text>
<line x1="306.00" y1="559.30" x2="306.00" y2="565.50" stroke="#222" stroke-width="1.0"/>
<line x1="306.00" y1="591.20" x2="306.00" y2="609.50" stroke="#222" stroke-width="1.0"/>
<line x1="294.50" y1="559.30" x2="317.50" y2="559.30" stroke="#222" stroke-width="1.2"/>
<line x1="294.50" y1="609.50" x2="317.50" y2="609.50" stroke="#222" stroke-width="1.2"/>
<rect x="283.00" y="565.50" width="46.00" height="25.70" fill="#f9b3b3" stroke="#1a1a1a" stroke-width="1.1"/>
<line x1="283.00" y1="578.50" x2="329.00" y2="578.50" stroke="#222" stroke-width="1.1"/>
<path d="M307.6 559.5h0M303.3 560.8h0M307.7 561.1h0M304.1 566.0h0M307.6 565.9h0M306.2 568.0h0M310.4 576.0h0M303.8 573.4h0M302.7 574.9h0M305.9 577.5h0M306.0 574.0h0M308.1 586.5h0M302.4 583.4h0M302.8 585.5h0M304.2 593.2h0M309.7 597.8h0M303.3 598.0h0M307.1 597.2h0M307.2 605.8h0M304.7 605.8h0" stroke="#3a2a2a" stroke-width="3.0" stroke-linecap="round"/>
<path d="M307.6 559.5h0M303.3 560.8h0M307.7 561.1h0M304.1 566.0h0M307.6 565.9h0M306.2 568.0h0M310.4 576.0h0M303.8 573.4h0M302.7 574.9h0M305.9 577.5h0M306.0 574.0h0M308.1 586.5h0M302.4 583.4h0M302.8 585.5h0M304.2 593.2h0M309.7 597.8h0M303.3 598.0h0M307.1 597.2h0M307.2 605.8h0M304.7 605.8h0" stroke="#e48a8a" stroke-width="1.9" stroke-linecap="round"/>
<line x1="306.00" y1="631.60" x2="306.00" y2="634.60" stroke="#444" stroke-width="0.8"/>
<text x="306.0" y="642.3" font-size="7.6" text-anchor="middle" fill="#333">0.8 - 1.0</text>
<text x="186.0" y="652.8" font-size="8.6" text-anchor="middle" fill="#1c1c1c">Time (s)</text>
<line x1="380.70" y1="539.10" x2="380.70" y2="632.20" stroke="#858585" stroke-width="1.3"/>
<line x1="380.10" y1="631.60" x2="684.50" y2="631.60" stroke="#858585" stroke-width="1.3"/>
<line x1="377.50" y1="539.60" x2="380.70" y2="539.60" stroke="#555" stroke-width="0.8"/>
<line x1="377.50" y1="549.20" x2="380.70" y2="549.20" stroke="#555" stroke-width="0.8"/>
<line x1="377.50" y1="558.40" x2="380.70" y2="558.40" stroke="#555" stroke-width="0.8"/>
<line x1="377.50" y1="568.00" x2="380.70" y2="568.00" stroke="#555" stroke-width="0.8"/>
<line x1="377.50" y1="579.70" x2="380.70" y2="579.70" stroke="#555" stroke-width="0.8"/>
<line x1="377.50" y1="585.40" x2="380.70" y2="585.40" stroke="#555" stroke-width="0.8"/>
<line x1="377.50" y1="602.60" x2="380.70" y2="602.60" stroke="#555" stroke-width="0.8"/>
<line x1="377.50" y1="612.50" x2="380.70" y2="612.50" stroke="#555" stroke-width="0.8"/>
<line x1="377.50" y1="622.00" x2="380.70" y2="622.00" stroke="#555" stroke-width="0.8"/>
<line x1="377.50" y1="631.60" x2="380.70" y2="631.60" stroke="#555" stroke-width="0.8"/>
<text x="375.1" y="542.1" font-size="6.9" text-anchor="end" fill="#333">10<tspan font-size="4.2" dy="-3.3" fill="#777">4</tspan></text>
<text x="375.1" y="560.9" font-size="6.9" text-anchor="end" fill="#333">10<tspan font-size="4.2" dy="-3.3" fill="#777">2</tspan></text>
<text x="375.1" y="615.0" font-size="6.9" text-anchor="end" fill="#333">-10<tspan font-size="4.2" dy="-3.3" fill="#777">2</tspan></text>
<text x="375.1" y="634.1" font-size="6.9" text-anchor="end" fill="#333">-10<tspan font-size="4.2" dy="-3.3" fill="#777">4</tspan></text>
<text x="372.1" y="587.9" font-size="6.9" text-anchor="end" fill="#333">0</text>
<text x="532.9" y="546.0" font-size="9.4" text-anchor="middle" fill="#1c1c1c">ROI → Deep Brain (itFUS)</text>
<text x="0" y="0" font-size="8.3" text-anchor="middle" fill="#1c1c1c" transform="translate(356.3 585.6) rotate(-90)">ΔGC<tspan font-size="5.2" dy="1.6">Net</tspan><tspan dy="-1.6"> (ΔW-stat)</tspan></text>
<line x1="411.50" y1="556.50" x2="411.50" y2="567.00" stroke="#222" stroke-width="1.0"/>
<line x1="411.50" y1="603.00" x2="411.50" y2="612.50" stroke="#222" stroke-width="1.0"/>
<line x1="400.00" y1="556.50" x2="423.00" y2="556.50" stroke="#222" stroke-width="1.2"/>
<line x1="400.00" y1="612.50" x2="423.00" y2="612.50" stroke="#222" stroke-width="1.2"/>
<rect x="388.50" y="567.00" width="46.00" height="36.00" fill="#fece93" stroke="#1a1a1a" stroke-width="1.1"/>
<line x1="388.50" y1="582.00" x2="434.50" y2="582.00" stroke="#222" stroke-width="1.1"/>
<path d="M410.7 557.0h0M409.2 564.4h0M410.7 565.6h0M407.3 562.8h0M413.0 565.7h0M413.4 571.9h0M409.5 571.7h0M412.3 572.2h0M412.7 582.4h0M412.0 582.5h0M413.2 597.1h0M411.8 598.2h0M406.6 604.2h0M413.3 602.0h0M413.4 604.1h0M407.2 602.8h0M409.2 603.2h0M410.3 611.4h0M411.3 612.1h0" stroke="#3a2a2a" stroke-width="3.0" stroke-linecap="round"/>
<path d="M410.7 557.0h0M409.2 564.4h0M410.7 565.6h0M407.3 562.8h0M413.0 565.7h0M413.4 571.9h0M409.5 571.7h0M412.3 572.2h0M412.7 582.4h0M412.0 582.5h0M413.2 597.1h0M411.8 598.2h0M406.6 604.2h0M413.3 602.0h0M413.4 604.1h0M407.2 602.8h0M409.2 603.2h0M410.3 611.4h0M411.3 612.1h0" stroke="#f2a446" stroke-width="1.9" stroke-linecap="round"/>
<line x1="411.50" y1="631.60" x2="411.50" y2="634.60" stroke="#444" stroke-width="0.8"/>
<text x="411.5" y="642.5" font-size="7.6" text-anchor="middle" fill="#333">0 - 0.2</text>
<line x1="471.90" y1="561.30" x2="471.90" y2="581.00" stroke="#222" stroke-width="1.0"/>
<line x1="471.90" y1="605.90" x2="471.90" y2="619.10" stroke="#222" stroke-width="1.0"/>
<line x1="460.40" y1="561.30" x2="483.40" y2="561.30" stroke="#222" stroke-width="1.2"/>
<line x1="460.40" y1="619.10" x2="483.40" y2="619.10" stroke="#222" stroke-width="1.2"/>
<rect x="448.90" y="581.00" width="46.00" height="24.90" fill="#fece93" stroke="#1a1a1a" stroke-width="1.1"/>
<line x1="448.90" y1="602.50" x2="494.90" y2="602.50" stroke="#222" stroke-width="1.1"/>
<path d="M473.5 561.4h0M472.1 564.5h0M470.4 563.1h0M471.3 577.0h0M474.1 596.9h0M471.7 597.6h0M473.4 596.2h0M474.6 604.0h0M474.9 601.8h0M476.6 603.2h0M471.8 601.8h0M467.9 606.0h0M464.6 601.5h0M476.1 606.7h0M469.8 605.3h0M477.3 602.2h0M475.9 603.9h0M470.4 611.1h0M474.7 613.5h0M473.2 619.0h0" stroke="#3a2a2a" stroke-width="3.0" stroke-linecap="round"/>
<path d="M473.5 561.4h0M472.1 564.5h0M470.4 563.1h0M471.3 577.0h0M474.1 596.9h0M471.7 597.6h0M473.4 596.2h0M474.6 604.0h0M474.9 601.8h0M476.6 603.2h0M471.8 601.8h0M467.9 606.0h0M464.6 601.5h0M476.1 606.7h0M469.8 605.3h0M477.3 602.2h0M475.9 603.9h0M470.4 611.1h0M474.7 613.5h0M473.2 619.0h0" stroke="#f2a446" stroke-width="1.9" stroke-linecap="round"/>
<line x1="471.90" y1="631.60" x2="471.90" y2="634.60" stroke="#444" stroke-width="0.8"/>
<text x="471.9" y="642.5" font-size="7.6" text-anchor="middle" fill="#333">0.2 - 0.4</text>
<line x1="532.50" y1="560.10" x2="532.50" y2="580.90" stroke="#222" stroke-width="1.0"/>
<line x1="532.50" y1="602.50" x2="532.50" y2="607.40" stroke="#222" stroke-width="1.0"/>
<line x1="521.00" y1="560.10" x2="544.00" y2="560.10" stroke="#222" stroke-width="1.2"/>
<line x1="521.00" y1="607.40" x2="544.00" y2="607.40" stroke="#222" stroke-width="1.2"/>
<rect x="509.50" y="580.90" width="46.00" height="21.60" fill="#fece93" stroke="#1a1a1a" stroke-width="1.1"/>
<line x1="509.50" y1="597.40" x2="555.50" y2="597.40" stroke="#222" stroke-width="1.1"/>
<path d="M532.4 561.0h0M531.4 568.7h0M534.9 569.0h0M532.0 577.0h0M534.0 588.0h0M530.2 587.7h0M534.2 596.2h0M532.0 596.8h0M528.5 599.9h0M531.1 598.9h0M530.4 599.8h0M533.9 598.9h0M529.0 601.3h0M536.6 604.9h0M531.1 601.5h0M531.5 606.3h0M535.3 604.1h0M537.6 606.5h0" stroke="#3a2a2a" stroke-width="3.0" stroke-linecap="round"/>
<path d="M532.4 561.0h0M531.4 568.7h0M534.9 569.0h0M532.0 577.0h0M534.0 588.0h0M530.2 587.7h0M534.2 596.2h0M532.0 596.8h0M528.5 599.9h0M531.1 598.9h0M530.4 599.8h0M533.9 598.9h0M529.0 601.3h0M536.6 604.9h0M531.1 601.5h0M531.5 606.3h0M535.3 604.1h0M537.6 606.5h0" stroke="#f2a446" stroke-width="1.9" stroke-linecap="round"/>
<line x1="532.50" y1="631.60" x2="532.50" y2="634.60" stroke="#444" stroke-width="0.8"/>
<text x="532.5" y="642.5" font-size="7.6" text-anchor="middle" fill="#333">0.4 - 0.6</text>
<line x1="593.00" y1="558.00" x2="593.00" y2="566.90" stroke="#222" stroke-width="1.0"/>
<line x1="593.00" y1="579.50" x2="593.00" y2="597.10" stroke="#222" stroke-width="1.0"/>
<line x1="581.50" y1="558.00" x2="604.50" y2="558.00" stroke="#222" stroke-width="1.2"/>
<line x1="581.50" y1="597.10" x2="604.50" y2="597.10" stroke="#222" stroke-width="1.2"/>
<rect x="570.00" y="566.90" width="46.00" height="12.60" fill="#fece93" stroke="#1a1a1a" stroke-width="1.1"/>
<line x1="570.00" y1="570.10" x2="616.00" y2="570.10" stroke="#222" stroke-width="1.1"/>
<path d="M592.6 559.0h0M592.7 557.8h0M593.6 568.5h0M587.7 564.1h0M596.4 566.0h0M598.4 566.8h0M591.5 565.5h0M591.1 563.5h0M593.8 569.8h0M586.4 571.0h0M599.3 574.7h0M588.0 573.7h0M589.1 572.5h0M592.3 573.2h0M595.8 571.7h0M586.7 573.3h0M593.8 590.0h0M595.0 602.0h0M594.2 605.2h0M591.3 606.8h0" stroke="#3a2a2a" stroke-width="3.0" stroke-linecap="round"/>
<path d="M592.6 559.0h0M592.7 557.8h0M593.6 568.5h0M587.7 564.1h0M596.4 566.0h0M598.4 566.8h0M591.5 565.5h0M591.1 563.5h0M593.8 569.8h0M586.4 571.0h0M599.3 574.7h0M588.0 573.7h0M589.1 572.5h0M592.3 573.2h0M595.8 571.7h0M586.7 573.3h0M593.8 590.0h0M595.0 602.0h0M594.2 605.2h0M591.3 606.8h0" stroke="#f2a446" stroke-width="1.9" stroke-linecap="round"/>
<line x1="593.00" y1="631.60" x2="593.00" y2="634.60" stroke="#444" stroke-width="0.8"/>
<text x="593.0" y="642.5" font-size="7.6" text-anchor="middle" fill="#333">0.6 - 0.8</text>
<line x1="654.00" y1="556.60" x2="654.00" y2="565.50" stroke="#222" stroke-width="1.0"/>
<line x1="654.00" y1="604.10" x2="654.00" y2="610.10" stroke="#222" stroke-width="1.0"/>
<line x1="642.50" y1="556.60" x2="665.50" y2="556.60" stroke="#222" stroke-width="1.2"/>
<line x1="642.50" y1="610.10" x2="665.50" y2="610.10" stroke="#222" stroke-width="1.2"/>
<rect x="631.00" y="565.50" width="46.00" height="38.60" fill="#fece93" stroke="#1a1a1a" stroke-width="1.1"/>
<line x1="631.00" y1="602.00" x2="677.00" y2="602.00" stroke="#222" stroke-width="1.1"/>
<path d="M652.0 557.3h0M654.2 556.4h0M651.7 565.1h0M655.2 567.0h0M651.6 568.0h0M650.7 567.6h0M655.3 567.1h0M655.1 575.0h0M651.2 600.0h0M655.5 601.4h0M661.9 601.5h0M649.3 602.7h0M656.8 599.3h0M654.7 603.1h0M645.8 601.0h0M659.9 604.0h0M660.0 602.1h0M655.1 601.6h0M653.4 610.4h0M654.6 608.5h0" stroke="#3a2a2a" stroke-width="3.0" stroke-linecap="round"/>
<path d="M652.0 557.3h0M654.2 556.4h0M651.7 565.1h0M655.2 567.0h0M651.6 568.0h0M650.7 567.6h0M655.3 567.1h0M655.1 575.0h0M651.2 600.0h0M655.5 601.4h0M661.9 601.5h0M649.3 602.7h0M656.8 599.3h0M654.7 603.1h0M645.8 601.0h0M659.9 604.0h0M660.0 602.1h0M655.1 601.6h0M653.4 610.4h0M654.6 608.5h0" stroke="#f2a446" stroke-width="1.9" stroke-linecap="round"/>
<line x1="654.00" y1="631.60" x2="654.00" y2="634.60" stroke="#444" stroke-width="0.8"/>
<text x="654.0" y="642.5" font-size="7.6" text-anchor="middle" fill="#333">0.8 - 1.0</text>
<text x="533.0" y="652.8" font-size="8.6" text-anchor="middle" fill="#1c1c1c">Time (s)</text></svg>
</body></html>
